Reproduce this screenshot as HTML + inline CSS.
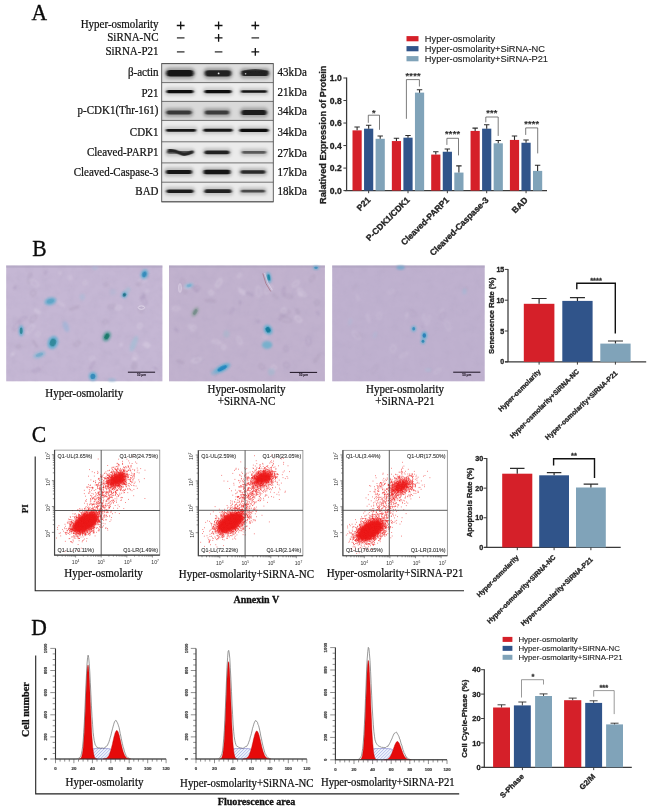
<!DOCTYPE html>
<html><head><meta charset="utf-8"><title>Figure</title>
<style>html,body{margin:0;padding:0;background:#fff;}body{width:652px;height:812px;overflow:hidden;font-family:"Liberation Sans",sans-serif;}svg{display:block;filter:blur(0.35px);}text{white-space:pre;}</style>
</head><body>
<svg width="652" height="812" viewBox="0 0 652 812">
<rect width="652" height="812" fill="#ffffff"/>
<defs>
<filter id="b1" x="-20%" y="-60%" width="140%" height="220%"><feGaussianBlur stdDeviation="1.1 0.75"/></filter>
<filter id="b2" x="-30%" y="-30%" width="160%" height="160%"><feGaussianBlur stdDeviation="0.9"/></filter>
<filter id="b3" x="-30%" y="-30%" width="160%" height="160%"><feGaussianBlur stdDeviation="1.6"/></filter>
<filter id="tb2" x="-30%" y="-30%" width="160%" height="160%"><feGaussianBlur stdDeviation="0.5"/></filter>
<filter id="tb" x="-5%" y="-5%" width="110%" height="110%"><feGaussianBlur stdDeviation="0.35"/></filter>
<filter id="noise" x="0" y="0" width="100%" height="100%"><feTurbulence type="fractalNoise" baseFrequency="0.12" numOctaves="3" seed="3" result="n"/><feColorMatrix in="n" type="matrix" values="0 0 0 0 0.45  0 0 0 0 0.38  0 0 0 0 0.55  0.9 0.4 0 0 -0.52"/><feComposite operator="in" in2="SourceGraphic"/></filter>
<pattern id="hatch" width="2.2" height="2.2" patternUnits="userSpaceOnUse" patternTransform="rotate(-45)"><rect width="2.2" height="2.2" fill="#eef2fc"/><line x1="0" y1="0" x2="2.2" y2="0" stroke="#6a7ad0" stroke-width="0.6"/></pattern>
</defs>
<g id="panelA">
<text transform="translate(31.4 20.1) scale(0.9 1)" x="0" y="0" font-family="Liberation Serif" font-size="24" fill="#0a0a0a" stroke="#0a0a0a" stroke-width="0.35">A</text>
<text transform="translate(158.5 27.6) scale(1 1.12)" x="0" y="0" font-family="Liberation Serif" font-size="11" font-weight="normal" text-anchor="end" fill="#111" stroke="#111" stroke-width="0.22">Hyper-osmolarity</text>
<text transform="translate(158.5 40.9) scale(1 1.12)" x="0" y="0" font-family="Liberation Serif" font-size="11" font-weight="normal" text-anchor="end" fill="#111" stroke="#111" stroke-width="0.22">SiRNA-NC</text>
<text transform="translate(158.5 54.6) scale(1 1.12)" x="0" y="0" font-family="Liberation Serif" font-size="11" font-weight="normal" text-anchor="end" fill="#111" stroke="#111" stroke-width="0.22">SiRNA-P21</text>
<path d="M176.79999999999998,25.5H184.6M180.7,21.6V29.4" stroke="#111" stroke-width="1.3" fill="none"/>
<path d="M214.7,25.5H222.5M218.6,21.6V29.4" stroke="#111" stroke-width="1.3" fill="none"/>
<path d="M251.4,25.5H259.2M255.3,21.6V29.4" stroke="#111" stroke-width="1.3" fill="none"/>
<path d="M176.89999999999998,37.9H184.5" stroke="#222" stroke-width="1.2" fill="none"/>
<path d="M214.7,37.9H222.5M218.6,34.0V41.8" stroke="#111" stroke-width="1.3" fill="none"/>
<path d="M251.5,37.9H259.1" stroke="#222" stroke-width="1.2" fill="none"/>
<path d="M176.89999999999998,51.9H184.5" stroke="#222" stroke-width="1.2" fill="none"/>
<path d="M214.79999999999998,51.9H222.4" stroke="#222" stroke-width="1.2" fill="none"/>
<path d="M251.4,51.9H259.2M255.3,48.0V55.8" stroke="#111" stroke-width="1.3" fill="none"/>
<rect x="161.7" y="63.6" width="111.60000000000002" height="138.20000000000002" fill="#cacaca"/>
<rect x="161.7" y="63.6" width="111.60000000000002" height="18.999999999999993" fill="#dedede"/>
<g filter="url(#b3)" opacity="0.6">
<rect x="164.5" y="67.5" width="31" height="11.6" rx="5.3" fill="#777"/>
<rect x="203.0" y="67.7" width="30" height="11.2" rx="5.1" fill="#777"/>
<rect x="239.5" y="68.0" width="31" height="10.6" rx="4.8" fill="#777"/>
</g>
<g filter="url(#b1)">
<rect x="166.5" y="70.0" width="27" height="6.6" rx="3.3" fill="#181818"/>
<rect x="205.0" y="70.2" width="26" height="6.2" rx="3.1" fill="#202020"/>
<rect x="241.5" y="70.5" width="27" height="5.6" rx="2.8" fill="#222"/>
</g>
<text transform="translate(158.5 76.0) scale(1 1.12)" x="0" y="0" font-family="Liberation Serif" font-size="11" font-weight="normal" text-anchor="end" fill="#111" stroke="#111" stroke-width="0.22">β-actin</text>
<text transform="translate(277.6 76.29999999999998) scale(1 1.12)" x="0" y="0" font-family="Liberation Serif" font-size="11" font-weight="normal" text-anchor="start" fill="#111" stroke="#111" stroke-width="0.22">43kDa</text>
<rect x="161.7" y="82.6" width="111.60000000000002" height="18.80000000000001" fill="#ededed"/>
<g filter="url(#b3)" opacity="0.3">
<rect x="164.5" y="87.55" width="31" height="8.1" rx="3.55" fill="#777"/>
<rect x="202.5" y="87.55" width="31" height="8.1" rx="3.55" fill="#777"/>
<rect x="239.0" y="87.85" width="30" height="7.5" rx="3.25" fill="#777"/>
</g>
<g filter="url(#b1)">
<rect x="166.5" y="90.05" width="27" height="3.1" rx="1.55" fill="#0a0a0a"/>
<rect x="204.5" y="90.05" width="27" height="3.1" rx="1.55" fill="#0c0c0c"/>
<rect x="241.0" y="90.35" width="26" height="2.5" rx="1.25" fill="#141414"/>
</g>
<text transform="translate(158.5 96.7) scale(1 1.12)" x="0" y="0" font-family="Liberation Serif" font-size="11" font-weight="normal" text-anchor="end" fill="#111" stroke="#111" stroke-width="0.22">P21</text>
<text transform="translate(277.6 96.19999999999999) scale(1 1.12)" x="0" y="0" font-family="Liberation Serif" font-size="11" font-weight="normal" text-anchor="start" fill="#111" stroke="#111" stroke-width="0.22">21kDa</text>
<rect x="161.7" y="101.4" width="111.60000000000002" height="19.0" fill="#d9d9d9"/>
<g filter="url(#b3)" opacity="0.55">
<rect x="164.5" y="107.9" width="29" height="9.2" rx="4.1" fill="#777"/>
<rect x="203.0" y="108.1" width="28" height="8.8" rx="3.9" fill="#777"/>
<rect x="239.5" y="107.4" width="29" height="10.2" rx="4.6" fill="#777"/>
</g>
<g filter="url(#b1)">
<rect x="166.5" y="110.4" width="25" height="4.2" rx="2.1" fill="#383838"/>
<rect x="205.0" y="110.6" width="24" height="3.8" rx="1.9" fill="#3a3a3a"/>
<rect x="241.5" y="109.9" width="25" height="5.2" rx="2.6" fill="#1a1a1a"/>
</g>
<text transform="translate(158.5 114.10000000000001) scale(1 1.12)" x="0" y="0" font-family="Liberation Serif" font-size="11" font-weight="normal" text-anchor="end" fill="#111" stroke="#111" stroke-width="0.22">p-CDK1(Thr-161)</text>
<text transform="translate(277.6 114.7) scale(1 1.12)" x="0" y="0" font-family="Liberation Serif" font-size="11" font-weight="normal" text-anchor="start" fill="#111" stroke="#111" stroke-width="0.22">34kDa</text>
<rect x="161.7" y="120.4" width="111.60000000000002" height="21.400000000000006" fill="#ececec"/>
<g filter="url(#b3)" opacity="0.3">
<rect x="164.0" y="126.45000000000002" width="34" height="7.7" rx="3.35" fill="#777"/>
<rect x="201.5" y="126.35000000000002" width="33" height="7.9" rx="3.45" fill="#777"/>
<rect x="237.5" y="126.20000000000002" width="33" height="8.2" rx="3.6" fill="#777"/>
</g>
<g filter="url(#b1)">
<rect x="166.0" y="128.95000000000002" width="30" height="2.7" rx="1.35" fill="#141414"/>
<rect x="203.5" y="128.85000000000002" width="29" height="2.9" rx="1.45" fill="#121212"/>
<rect x="239.5" y="128.70000000000002" width="29" height="3.2" rx="1.6" fill="#101010"/>
</g>
<text transform="translate(158.5 135.50000000000003) scale(1 1.12)" x="0" y="0" font-family="Liberation Serif" font-size="11" font-weight="normal" text-anchor="end" fill="#111" stroke="#111" stroke-width="0.22">CDK1</text>
<text transform="translate(277.6 135.60000000000002) scale(1 1.12)" x="0" y="0" font-family="Liberation Serif" font-size="11" font-weight="normal" text-anchor="start" fill="#111" stroke="#111" stroke-width="0.22">34kDa</text>
<rect x="161.7" y="141.8" width="111.60000000000002" height="21.099999999999994" fill="#ebebeb"/>
<g filter="url(#b3)" opacity="0.35">
<rect x="165.0" y="148.45000000000002" width="30" height="7.8" rx="3.4" fill="#777"/>
<rect x="202.5" y="147.95000000000002" width="29" height="8.8" rx="3.9" fill="#777"/>
<rect x="240.0" y="148.55" width="28" height="7.6" rx="3.3" fill="#777"/>
</g>
<g filter="url(#b1)">
<rect x="167.0" y="150.95000000000002" width="26" height="2.8" rx="1.4" fill="#555"/>
<rect x="204.5" y="150.45000000000002" width="25" height="3.8" rx="1.9" fill="#202020"/>
<rect x="242.0" y="151.05" width="24" height="2.6" rx="1.3" fill="#5a5a5a"/>
</g>
<text transform="translate(158.5 156.15000000000003) scale(1 1.12)" x="0" y="0" font-family="Liberation Serif" font-size="11" font-weight="normal" text-anchor="end" fill="#111" stroke="#111" stroke-width="0.22">Cleaved-PARP1</text>
<text transform="translate(277.6 157.05) scale(1 1.12)" x="0" y="0" font-family="Liberation Serif" font-size="11" font-weight="normal" text-anchor="start" fill="#111" stroke="#111" stroke-width="0.22">27kDa</text>
<rect x="161.7" y="162.9" width="111.60000000000002" height="19.299999999999983" fill="#eaeaea"/>
<g filter="url(#b3)" opacity="0.4">
<rect x="164.0" y="167.45000000000002" width="30" height="9.0" rx="4.0" fill="#777"/>
<rect x="201.5" y="167.15" width="31" height="9.6" rx="4.3" fill="#777"/>
<rect x="238.5" y="167.65" width="29" height="8.6" rx="3.8" fill="#777"/>
</g>
<g filter="url(#b1)">
<rect x="166.0" y="169.95000000000002" width="26" height="4.0" rx="2.0" fill="#141414"/>
<rect x="203.5" y="169.65" width="27" height="4.6" rx="2.3" fill="#121212"/>
<rect x="240.5" y="170.15" width="25" height="3.6" rx="1.8" fill="#2a2a2a"/>
</g>
<text transform="translate(158.5 175.55) scale(1 1.12)" x="0" y="0" font-family="Liberation Serif" font-size="11" font-weight="normal" text-anchor="end" fill="#111" stroke="#111" stroke-width="0.22">Cleaved-Caspase-3</text>
<text transform="translate(277.6 175.75) scale(1 1.12)" x="0" y="0" font-family="Liberation Serif" font-size="11" font-weight="normal" text-anchor="start" fill="#111" stroke="#111" stroke-width="0.22">17kDa</text>
<rect x="161.7" y="182.2" width="111.60000000000002" height="19.600000000000023" fill="#ebebeb"/>
<g filter="url(#b3)" opacity="0.35">
<rect x="164.5" y="186.89999999999998" width="31" height="8.6" rx="3.8" fill="#777"/>
<rect x="202.5" y="186.79999999999998" width="31" height="8.8" rx="3.9" fill="#777"/>
<rect x="239.0" y="187.29999999999998" width="28" height="7.8" rx="3.4" fill="#777"/>
</g>
<g filter="url(#b1)">
<rect x="166.5" y="189.39999999999998" width="27" height="3.6" rx="1.8" fill="#1e1e1e"/>
<rect x="204.5" y="189.29999999999998" width="27" height="3.8" rx="1.9" fill="#222"/>
<rect x="241.0" y="189.79999999999998" width="24" height="2.8" rx="1.4" fill="#484848"/>
</g>
<text transform="translate(158.5 195.4) scale(1 1.12)" x="0" y="0" font-family="Liberation Serif" font-size="11" font-weight="normal" text-anchor="end" fill="#111" stroke="#111" stroke-width="0.22">BAD</text>
<text transform="translate(277.6 194.7) scale(1 1.12)" x="0" y="0" font-family="Liberation Serif" font-size="11" font-weight="normal" text-anchor="start" fill="#111" stroke="#111" stroke-width="0.22">18kDa</text>
<g filter="url(#b1)">
<path d="M169,150.6 Q175,149.8 180,153.2 Q185,156 192,151.8" stroke="#262626" stroke-width="3.1" fill="none" stroke-linecap="round"/>
<path d="M243,72.4 Q255,68.4 267,72.2" stroke="#222" stroke-width="2.8" fill="none" opacity="0.8"/>
</g>
<g filter="url(#tb2)">
<circle cx="218.6" cy="73.4" r="0.9" fill="#e8e8e8"/><circle cx="245.6" cy="73.8" r="0.8" fill="#d0d0d0"/>
</g>
<line x1="161.7" x2="273.3" y1="63.6" y2="63.6" stroke="#555" stroke-width="0.8"/>
<line x1="161.7" x2="273.3" y1="82.6" y2="82.6" stroke="#555" stroke-width="0.8"/>
<line x1="161.7" x2="273.3" y1="101.4" y2="101.4" stroke="#555" stroke-width="0.8"/>
<line x1="161.7" x2="273.3" y1="120.4" y2="120.4" stroke="#555" stroke-width="0.8"/>
<line x1="161.7" x2="273.3" y1="141.8" y2="141.8" stroke="#555" stroke-width="0.8"/>
<line x1="161.7" x2="273.3" y1="162.9" y2="162.9" stroke="#555" stroke-width="0.8"/>
<line x1="161.7" x2="273.3" y1="182.2" y2="182.2" stroke="#555" stroke-width="0.8"/>
<line x1="161.7" x2="273.3" y1="201.8" y2="201.8" stroke="#555" stroke-width="0.8"/>
<rect x="161.7" y="63.6" width="111.60000000000002" height="138.20000000000002" fill="none" stroke="#555" stroke-width="0.9"/>
</g>
<g id="chartA">
<rect x="406.5" y="36.1" width="12" height="5.2" fill="#d52029"/>
<text x="424.8" y="41.900000000000006" font-family="Liberation Sans" font-size="9.3" font-weight="normal" text-anchor="start" fill="#222" stroke="#222" stroke-width="0.12">Hyper-osmolarity</text>
<rect x="406.5" y="46.1" width="12" height="5.2" fill="#30548a"/>
<text x="424.8" y="51.900000000000006" font-family="Liberation Sans" font-size="9.3" font-weight="normal" text-anchor="start" fill="#222" stroke="#222" stroke-width="0.12">Hyper-osmolarity+SiRNA-NC</text>
<rect x="406.5" y="56.1" width="12" height="5.2" fill="#80a3b9"/>
<text x="424.8" y="61.900000000000006" font-family="Liberation Sans" font-size="9.3" font-weight="normal" text-anchor="start" fill="#222" stroke="#222" stroke-width="0.12">Hyper-osmolarity+SiRNA-P21</text>
<path d="M346.6,77.6V190.6M344.8,190.6H547" stroke="#3a3a3a" stroke-width="1.25" fill="none"/>
<line x1="343.40000000000003" x2="346.6" y1="190.6" y2="190.6" stroke="#3a3a3a" stroke-width="1"/>
<text x="341.8" y="193.7" font-family="Liberation Sans" font-size="8.6" font-weight="bold" text-anchor="end" fill="#222" stroke="#222" stroke-width="0.3">0.0</text>
<line x1="343.40000000000003" x2="346.6" y1="168.07999999999998" y2="168.07999999999998" stroke="#3a3a3a" stroke-width="1"/>
<text x="341.8" y="171.17999999999998" font-family="Liberation Sans" font-size="8.6" font-weight="bold" text-anchor="end" fill="#222" stroke="#222" stroke-width="0.3">0.2</text>
<line x1="343.40000000000003" x2="346.6" y1="145.56" y2="145.56" stroke="#3a3a3a" stroke-width="1"/>
<text x="341.8" y="148.66" font-family="Liberation Sans" font-size="8.6" font-weight="bold" text-anchor="end" fill="#222" stroke="#222" stroke-width="0.3">0.4</text>
<line x1="343.40000000000003" x2="346.6" y1="123.03999999999999" y2="123.03999999999999" stroke="#3a3a3a" stroke-width="1"/>
<text x="341.8" y="126.13999999999999" font-family="Liberation Sans" font-size="8.6" font-weight="bold" text-anchor="end" fill="#222" stroke="#222" stroke-width="0.3">0.6</text>
<line x1="343.40000000000003" x2="346.6" y1="100.52" y2="100.52" stroke="#3a3a3a" stroke-width="1"/>
<text x="341.8" y="103.61999999999999" font-family="Liberation Sans" font-size="8.6" font-weight="bold" text-anchor="end" fill="#222" stroke="#222" stroke-width="0.3">0.8</text>
<line x1="343.40000000000003" x2="346.6" y1="78.0" y2="78.0" stroke="#3a3a3a" stroke-width="1"/>
<text x="341.8" y="81.1" font-family="Liberation Sans" font-size="8.6" font-weight="bold" text-anchor="end" fill="#222" stroke="#222" stroke-width="0.3">1.0</text>
<text x="325.7" y="134.7" font-family="Liberation Sans" font-size="9.2" font-weight="bold" text-anchor="middle" fill="#222" stroke="#222" stroke-width="0.3" transform="rotate(-90 325.7 134.7)">Ralatived Expression of Protein</text>
<rect x="352.50" y="130.36" width="9.20" height="60.24" fill="#d52029"/><path d="M357.10,130.36V126.98M354.40,126.98H359.80" stroke="#2c2c2c" stroke-width="1.1" fill="none"/>
<rect x="364.05" y="128.67" width="9.20" height="61.93" fill="#30548a"/><path d="M368.65,128.67V125.29M365.95,125.29H371.35" stroke="#2c2c2c" stroke-width="1.1" fill="none"/>
<rect x="375.60" y="138.80" width="9.20" height="51.80" fill="#80a3b9"/><path d="M380.20,138.80V135.99M377.50,135.99H382.90" stroke="#2c2c2c" stroke-width="1.1" fill="none"/>
<line x1="368.65000000000003" x2="368.65000000000003" y1="190.6" y2="193.2" stroke="#3a3a3a" stroke-width="1"/>
<text x="371.05" y="200.6" font-family="Liberation Sans" font-size="8.6" font-weight="bold" text-anchor="end" fill="#222" stroke="#222" stroke-width="0.3" transform="rotate(-45 371.05 200.6)">P21</text>
<rect x="391.85" y="141.06" width="9.20" height="49.54" fill="#d52029"/><path d="M396.45,141.06V138.24M393.75,138.24H399.15" stroke="#2c2c2c" stroke-width="1.1" fill="none"/>
<rect x="403.40" y="137.68" width="9.20" height="52.92" fill="#30548a"/><path d="M408.00,137.68V135.43M405.30,135.43H410.70" stroke="#2c2c2c" stroke-width="1.1" fill="none"/>
<rect x="414.95" y="92.64" width="9.20" height="97.96" fill="#80a3b9"/><path d="M419.55,92.64V89.82M416.85,89.82H422.25" stroke="#2c2c2c" stroke-width="1.1" fill="none"/>
<line x1="408.00000000000006" x2="408.00000000000006" y1="190.6" y2="193.2" stroke="#3a3a3a" stroke-width="1"/>
<text x="410.40000000000003" y="200.6" font-family="Liberation Sans" font-size="8.6" font-weight="bold" text-anchor="end" fill="#222" stroke="#222" stroke-width="0.3" transform="rotate(-45 410.40000000000003 200.6)">P-CDK1/CDK1</text>
<rect x="431.20" y="154.57" width="9.20" height="36.03" fill="#d52029"/><path d="M435.80,154.57V151.75M433.10,151.75H438.50" stroke="#2c2c2c" stroke-width="1.1" fill="none"/>
<rect x="442.75" y="151.75" width="9.20" height="38.85" fill="#30548a"/><path d="M447.35,151.75V148.94M444.65,148.94H450.05" stroke="#2c2c2c" stroke-width="1.1" fill="none"/>
<rect x="454.30" y="172.58" width="9.20" height="18.02" fill="#80a3b9"/><path d="M458.90,172.58V165.83M456.20,165.83H461.60" stroke="#2c2c2c" stroke-width="1.1" fill="none"/>
<line x1="447.35" x2="447.35" y1="190.6" y2="193.2" stroke="#3a3a3a" stroke-width="1"/>
<text x="449.75" y="200.6" font-family="Liberation Sans" font-size="8.6" font-weight="bold" text-anchor="end" fill="#222" stroke="#222" stroke-width="0.3" transform="rotate(-45 449.75 200.6)">Cleaved-PARP1</text>
<rect x="470.55" y="130.92" width="9.20" height="59.68" fill="#d52029"/><path d="M475.15,130.92V128.11M472.45,128.11H477.85" stroke="#2c2c2c" stroke-width="1.1" fill="none"/>
<rect x="482.10" y="128.67" width="9.20" height="61.93" fill="#30548a"/><path d="M486.70,128.67V124.73M484.00,124.73H489.40" stroke="#2c2c2c" stroke-width="1.1" fill="none"/>
<rect x="493.65" y="143.31" width="9.20" height="47.29" fill="#80a3b9"/><path d="M498.25,143.31V140.49M495.55,140.49H500.95" stroke="#2c2c2c" stroke-width="1.1" fill="none"/>
<line x1="486.70000000000005" x2="486.70000000000005" y1="190.6" y2="193.2" stroke="#3a3a3a" stroke-width="1"/>
<text x="489.1" y="200.6" font-family="Liberation Sans" font-size="8.6" font-weight="bold" text-anchor="end" fill="#222" stroke="#222" stroke-width="0.3" transform="rotate(-45 489.1 200.6)">Cleaved-Caspase-3</text>
<rect x="509.90" y="139.93" width="9.20" height="50.67" fill="#d52029"/><path d="M514.50,139.93V135.99M511.80,135.99H517.20" stroke="#2c2c2c" stroke-width="1.1" fill="none"/>
<rect x="521.45" y="142.75" width="9.20" height="47.85" fill="#30548a"/><path d="M526.05,142.75V139.93M523.35,139.93H528.75" stroke="#2c2c2c" stroke-width="1.1" fill="none"/>
<rect x="533.00" y="170.89" width="9.20" height="19.71" fill="#80a3b9"/><path d="M537.60,170.89V165.26M534.90,165.26H540.30" stroke="#2c2c2c" stroke-width="1.1" fill="none"/>
<line x1="526.05" x2="526.05" y1="190.6" y2="193.2" stroke="#3a3a3a" stroke-width="1"/>
<text x="528.4499999999999" y="200.6" font-family="Liberation Sans" font-size="8.6" font-weight="bold" text-anchor="end" fill="#222" stroke="#222" stroke-width="0.3" transform="rotate(-45 528.4499999999999 200.6)">BAD</text>
<path d="M368.3,122.8V115.2H379.5V129.8" stroke="#444" stroke-width="0.7" fill="none"/>
<text x="373.9" y="116.4" font-family="Liberation Sans" font-size="9.2" font-weight="bold" text-anchor="middle" fill="#2a2a2a" stroke="#2a2a2a" stroke-width="0.1" letter-spacing="0.25">*</text>
<path d="M406.4,118.8V79.6H419.4V86.5" stroke="#444" stroke-width="0.7" fill="none"/>
<text x="413.2" y="79.4" font-family="Liberation Sans" font-size="9.2" font-weight="bold" text-anchor="middle" fill="#2a2a2a" stroke="#2a2a2a" stroke-width="0.1" letter-spacing="0.25">****</text>
<path d="M446.9,144.9V138.3H458.5V155.4" stroke="#444" stroke-width="0.7" fill="none"/>
<text x="452.7" y="137.2" font-family="Liberation Sans" font-size="9.2" font-weight="bold" text-anchor="middle" fill="#2a2a2a" stroke="#2a2a2a" stroke-width="0.1" letter-spacing="0.25">****</text>
<path d="M485.8,122.3V117H498.2V135.9" stroke="#444" stroke-width="0.7" fill="none"/>
<text x="491.9" y="115.5" font-family="Liberation Sans" font-size="9.2" font-weight="bold" text-anchor="middle" fill="#2a2a2a" stroke="#2a2a2a" stroke-width="0.1" letter-spacing="0.25">***</text>
<path d="M525.7,134.9V127.9H537.7V153.4" stroke="#444" stroke-width="0.7" fill="none"/>
<text x="531.8" y="126.6" font-family="Liberation Sans" font-size="9.2" font-weight="bold" text-anchor="middle" fill="#2a2a2a" stroke="#2a2a2a" stroke-width="0.1" letter-spacing="0.25">****</text>
</g>
<g id="panelB">
<text transform="translate(32.2 255.8) scale(0.9 1)" x="0" y="0" font-family="Liberation Serif" font-size="24" fill="#0a0a0a" stroke="#0a0a0a" stroke-width="0.35">B</text>
<rect x="6.2" y="265.5" width="156.20000000000002" height="115.80000000000001" fill="#c5b7d4"/>
<rect x="6.2" y="265.5" width="156.20000000000002" height="115.80000000000001" fill="#fff" filter="url(#noise)" opacity="0.5"/>
<rect x="6.2" y="265.5" width="156.20000000000002" height="2.2" fill="#a79bb8" opacity="0.45"/>
<g filter="url(#b2)" fill="none" stroke-width="0.7" opacity="0.8">
<ellipse cx="33.2" cy="318.7" rx="4.6" ry="1.9" stroke="#a898b4" transform="rotate(132 33.2 318.7)"/>
<ellipse cx="85.3" cy="282.9" rx="2.0" ry="2.0" stroke="#ddd2e6" transform="rotate(47 85.3 282.9)"/>
<ellipse cx="60.6" cy="303.6" rx="4.6" ry="1.1" stroke="#ddd2e6" transform="rotate(32 60.6 303.6)"/>
<ellipse cx="140.9" cy="309.9" rx="3.1" ry="2.1" stroke="#a898b4" transform="rotate(73 140.9 309.9)"/>
<ellipse cx="92.3" cy="365.0" rx="4.8" ry="1.1" stroke="#a594b8" transform="rotate(117 92.3 365.0)"/>
<ellipse cx="38.2" cy="334.1" rx="2.1" ry="2.2" stroke="#ddd2e6" transform="rotate(29 38.2 334.1)"/>
<ellipse cx="133.5" cy="366.4" rx="2.4" ry="1.5" stroke="#a898b4" transform="rotate(115 133.5 366.4)"/>
<ellipse cx="30.5" cy="329.0" rx="5.4" ry="1.8" stroke="#e4dcec" transform="rotate(129 30.5 329.0)"/>
<ellipse cx="111.7" cy="306.7" rx="4.2" ry="1.7" stroke="#a898b4" transform="rotate(170 111.7 306.7)"/>
<ellipse cx="70.1" cy="277.9" rx="1.9" ry="1.3" stroke="#ddd2e6" transform="rotate(78 70.1 277.9)"/>
<ellipse cx="134.4" cy="365.9" rx="4.4" ry="2.0" stroke="#a898b4" transform="rotate(92 134.4 365.9)"/>
<ellipse cx="142.2" cy="297.9" rx="1.7" ry="1.7" stroke="#a594b8" transform="rotate(59 142.2 297.9)"/>
<ellipse cx="120.9" cy="344.8" rx="2.0" ry="0.9" stroke="#ddd2e6" transform="rotate(107 120.9 344.8)"/>
<ellipse cx="139.9" cy="325.9" rx="2.4" ry="2.1" stroke="#e4dcec" transform="rotate(131 139.9 325.9)"/>
<ellipse cx="60.3" cy="272.8" rx="2.0" ry="1.1" stroke="#ddd2e6" transform="rotate(95 60.3 272.8)"/>
<ellipse cx="18.5" cy="346.7" rx="1.9" ry="1.9" stroke="#a898b4" transform="rotate(27 18.5 346.7)"/>
<ellipse cx="147.0" cy="275.5" rx="3.3" ry="0.9" stroke="#a594b8" transform="rotate(85 147.0 275.5)"/>
<ellipse cx="155.8" cy="368.5" rx="2.1" ry="0.9" stroke="#a594b8" transform="rotate(38 155.8 368.5)"/>
<ellipse cx="29.9" cy="278.4" rx="5.3" ry="1.4" stroke="#a898b4" transform="rotate(97 29.9 278.4)"/>
<ellipse cx="77.2" cy="343.7" rx="3.6" ry="1.8" stroke="#a898b4" transform="rotate(154 77.2 343.7)"/>
<ellipse cx="33.2" cy="293.2" rx="3.2" ry="2.3" stroke="#a898b4" transform="rotate(108 33.2 293.2)"/>
<ellipse cx="134.6" cy="358.9" rx="1.9" ry="1.2" stroke="#e4dcec" transform="rotate(9 134.6 358.9)"/>
<ellipse cx="12.6" cy="354.2" rx="1.7" ry="0.8" stroke="#e4dcec" transform="rotate(148 12.6 354.2)"/>
<ellipse cx="45.7" cy="272.5" rx="1.8" ry="1.3" stroke="#a594b8" transform="rotate(116 45.7 272.5)"/>
<ellipse cx="135.3" cy="356.7" rx="2.9" ry="1.9" stroke="#ddd2e6" transform="rotate(80 135.3 356.7)"/>
<ellipse cx="142.6" cy="280.2" rx="4.3" ry="2.2" stroke="#ddd2e6" transform="rotate(152 142.6 280.2)"/>
<ellipse cx="35.1" cy="343.8" rx="4.2" ry="0.8" stroke="#a898b4" transform="rotate(58 35.1 343.8)"/>
<ellipse cx="37.4" cy="311.2" rx="3.3" ry="1.1" stroke="#e4dcec" transform="rotate(29 37.4 311.2)"/>
<ellipse cx="22.8" cy="319.0" rx="4.5" ry="1.5" stroke="#a594b8" transform="rotate(154 22.8 319.0)"/>
<ellipse cx="106.1" cy="284.6" rx="1.9" ry="1.8" stroke="#a898b4" transform="rotate(8 106.1 284.6)"/>
<ellipse cx="74.2" cy="308.0" rx="5.4" ry="0.9" stroke="#a898b4" transform="rotate(163 74.2 308.0)"/>
<ellipse cx="15.1" cy="287.5" rx="1.9" ry="0.9" stroke="#a594b8" transform="rotate(113 15.1 287.5)"/>
<ellipse cx="92.2" cy="358.4" rx="2.1" ry="2.3" stroke="#ddd2e6" transform="rotate(100 92.2 358.4)"/>
<ellipse cx="36.7" cy="370.1" rx="4.4" ry="1.4" stroke="#a594b8" transform="rotate(160 36.7 370.1)"/>
<ellipse cx="105.3" cy="321.8" rx="2.8" ry="1.9" stroke="#a898b4" transform="rotate(160 105.3 321.8)"/>
<ellipse cx="144.1" cy="300.7" rx="4.5" ry="2.0" stroke="#a594b8" transform="rotate(63 144.1 300.7)"/>
<ellipse cx="144.1" cy="294.8" rx="2.0" ry="0.9" stroke="#a594b8" transform="rotate(84 144.1 294.8)"/>
<ellipse cx="118.5" cy="307.8" rx="3.4" ry="1.6" stroke="#e4dcec" transform="rotate(172 118.5 307.8)"/>
<ellipse cx="16.4" cy="326.0" rx="5.4" ry="2.0" stroke="#a594b8" transform="rotate(124 16.4 326.0)"/>
<ellipse cx="146.7" cy="344.9" rx="3.4" ry="1.9" stroke="#e4dcec" transform="rotate(20 146.7 344.9)"/>
<ellipse cx="139.1" cy="284.0" rx="2.7" ry="1.3" stroke="#a898b4" transform="rotate(159 139.1 284.0)"/>
<ellipse cx="146.9" cy="291.4" rx="1.9" ry="1.3" stroke="#ddd2e6" transform="rotate(138 146.9 291.4)"/>
<ellipse cx="147.0" cy="345.5" rx="1.8" ry="1.3" stroke="#e4dcec" transform="rotate(37 147.0 345.5)"/>
<ellipse cx="34.2" cy="283.0" rx="5.2" ry="2.2" stroke="#ddd2e6" transform="rotate(37 34.2 283.0)"/>
</g>
<ellipse cx="144.4" cy="274.3" rx="3.64" ry="4.94" transform="rotate(20 144.4 274.3)" fill="#62aed0" opacity="0.85" filter="url(#b2)"/>
<ellipse cx="144.4" cy="274.3" rx="2.10" ry="2.85" transform="rotate(20 144.4 274.3)" fill="#2f86b8" opacity="0.85" filter="url(#tb2)"/>
<ellipse cx="124.5" cy="294.7" rx="2.86" ry="3.38" transform="rotate(30 124.5 294.7)" fill="#62aed0" opacity="0.8" filter="url(#b2)"/>
<ellipse cx="124.5" cy="294.7" rx="1.65" ry="1.95" transform="rotate(30 124.5 294.7)" fill="#1d6f86" opacity="0.95" filter="url(#tb2)"/>
<ellipse cx="127.5" cy="290.5" rx="2.08" ry="3.38" transform="rotate(35 127.5 290.5)" fill="#9cc0d6" opacity="0.6" filter="url(#b2)"/>
<ellipse cx="50.4" cy="301.3" rx="5.98" ry="3.90" transform="rotate(-15 50.4 301.3)" fill="#62aed0" opacity="0.8" filter="url(#b2)"/>
<ellipse cx="50.4" cy="301.3" rx="3.45" ry="2.25" transform="rotate(-15 50.4 301.3)" fill="#4a9cc0" opacity="0.5" filter="url(#tb2)"/>
<ellipse cx="21.2" cy="330.7" rx="2.47" ry="5.72" transform="rotate(0 21.2 330.7)" fill="#62aed0" opacity="0.85" filter="url(#b2)"/>
<ellipse cx="21.2" cy="330.7" rx="1.42" ry="3.30" transform="rotate(0 21.2 330.7)" fill="#2f8597" opacity="0.9" filter="url(#tb2)"/>
<ellipse cx="65.9" cy="326.6" rx="2.86" ry="5.72" transform="rotate(-20 65.9 326.6)" fill="#9cb4d8" opacity="0.7" filter="url(#b2)"/>
<ellipse cx="52.9" cy="342.5" rx="5.20" ry="6.76" transform="rotate(20 52.9 342.5)" fill="#62aed0" opacity="0.9" filter="url(#b2)"/>
<ellipse cx="52.9" cy="342.5" rx="3.00" ry="3.90" transform="rotate(20 52.9 342.5)" fill="#2f8597" opacity="0.9" filter="url(#tb2)"/>
<ellipse cx="106.8" cy="336.4" rx="3.77" ry="5.46" transform="rotate(30 106.8 336.4)" fill="#5a9c9c" opacity="0.9" filter="url(#b2)"/>
<ellipse cx="106.8" cy="336.4" rx="2.17" ry="3.15" transform="rotate(30 106.8 336.4)" fill="#1f7a6c" opacity="0.98" filter="url(#tb2)"/>
<ellipse cx="39.4" cy="354.8" rx="6.50" ry="3.12" transform="rotate(-20 39.4 354.8)" fill="#8cb8d4" opacity="0.75" filter="url(#b2)"/>
<ellipse cx="39.4" cy="354.8" rx="3.75" ry="1.80" transform="rotate(-20 39.4 354.8)" fill="#5aa0c4" opacity="0.5" filter="url(#tb2)"/>
<ellipse cx="92.9" cy="376.4" rx="4.16" ry="4.42" transform="rotate(0 92.9 376.4)" fill="#62aed0" opacity="0.85" filter="url(#b2)"/>
<ellipse cx="92.9" cy="376.4" rx="2.40" ry="2.55" transform="rotate(0 92.9 376.4)" fill="#2f86b8" opacity="0.85" filter="url(#tb2)"/>
<ellipse cx="133.8" cy="343.8" rx="2.86" ry="8.45" transform="rotate(22 133.8 343.8)" fill="#9cc0d6" opacity="0.6" filter="url(#b2)"/>
<ellipse cx="82.3" cy="297.1" rx="2.60" ry="3.38" transform="rotate(0 82.3 297.1)" fill="#a8bcd8" opacity="0.55" filter="url(#b2)"/>
<ellipse cx="113" cy="292.2" rx="3.12" ry="3.12" transform="rotate(0 113 292.2)" fill="#b0b8d4" opacity="0.5" filter="url(#b2)"/>
<ellipse cx="95" cy="268" rx="3.12" ry="1.82" transform="rotate(0 95 268)" fill="#a8bcd8" opacity="0.5" filter="url(#b2)"/>
<ellipse cx="112" cy="380" rx="3.90" ry="1.82" transform="rotate(0 112 380)" fill="#8cb8d4" opacity="0.6" filter="url(#b2)"/>
<rect x="169.0" y="265.5" width="155.89999999999998" height="115.80000000000001" fill="#c1b2ce"/>
<rect x="169.0" y="265.5" width="155.89999999999998" height="115.80000000000001" fill="#fff" filter="url(#noise)" opacity="0.5"/>
<rect x="169.0" y="265.5" width="155.89999999999998" height="2.2" fill="#a79bb8" opacity="0.45"/>
<g filter="url(#b2)" fill="none" stroke-width="0.7" opacity="0.85">
<ellipse cx="258.6" cy="291.7" rx="5.4" ry="2.3" stroke="#ddd2e6" transform="rotate(84 258.6 291.7)"/>
<ellipse cx="261.6" cy="366.7" rx="3.4" ry="2.1" stroke="#a898b4" transform="rotate(59 261.6 366.7)"/>
<ellipse cx="185.1" cy="291.6" rx="1.9" ry="2.0" stroke="#a898b4" transform="rotate(66 185.1 291.6)"/>
<ellipse cx="288.1" cy="296.3" rx="4.7" ry="1.5" stroke="#a898b4" transform="rotate(11 288.1 296.3)"/>
<ellipse cx="218.8" cy="283.0" rx="4.8" ry="1.9" stroke="#e4dcec" transform="rotate(120 218.8 283.0)"/>
<ellipse cx="231.8" cy="310.9" rx="3.2" ry="1.4" stroke="#a594b8" transform="rotate(120 231.8 310.9)"/>
<ellipse cx="300.5" cy="294.0" rx="1.9" ry="2.1" stroke="#e4dcec" transform="rotate(67 300.5 294.0)"/>
<ellipse cx="176.4" cy="330.1" rx="2.1" ry="0.9" stroke="#a594b8" transform="rotate(33 176.4 330.1)"/>
<ellipse cx="284.9" cy="313.5" rx="5.5" ry="2.1" stroke="#a898b4" transform="rotate(161 284.9 313.5)"/>
<ellipse cx="198.9" cy="359.1" rx="3.5" ry="2.2" stroke="#a594b8" transform="rotate(33 198.9 359.1)"/>
<ellipse cx="312.2" cy="278.3" rx="3.8" ry="1.7" stroke="#a898b4" transform="rotate(126 312.2 278.3)"/>
<ellipse cx="295.7" cy="283.8" rx="4.3" ry="2.0" stroke="#ddd2e6" transform="rotate(146 295.7 283.8)"/>
<ellipse cx="273.7" cy="367.5" rx="2.3" ry="2.3" stroke="#ddd2e6" transform="rotate(99 273.7 367.5)"/>
<ellipse cx="186.7" cy="287.1" rx="2.7" ry="1.4" stroke="#e4dcec" transform="rotate(11 186.7 287.1)"/>
<ellipse cx="241.6" cy="291.5" rx="4.2" ry="1.3" stroke="#ddd2e6" transform="rotate(50 241.6 291.5)"/>
<ellipse cx="211.0" cy="292.7" rx="1.9" ry="2.4" stroke="#e4dcec" transform="rotate(162 211.0 292.7)"/>
<ellipse cx="210.2" cy="300.6" rx="5.4" ry="1.1" stroke="#a898b4" transform="rotate(3 210.2 300.6)"/>
<ellipse cx="298.3" cy="319.1" rx="3.8" ry="2.1" stroke="#e4dcec" transform="rotate(43 298.3 319.1)"/>
<ellipse cx="242.8" cy="291.8" rx="3.9" ry="1.3" stroke="#ddd2e6" transform="rotate(3 242.8 291.8)"/>
<ellipse cx="216.5" cy="342.0" rx="5.1" ry="1.4" stroke="#ddd2e6" transform="rotate(10 216.5 342.0)"/>
<ellipse cx="249.3" cy="293.9" rx="4.2" ry="1.0" stroke="#a594b8" transform="rotate(22 249.3 293.9)"/>
<ellipse cx="239.4" cy="340.5" rx="4.2" ry="1.9" stroke="#ddd2e6" transform="rotate(66 239.4 340.5)"/>
<ellipse cx="193.4" cy="328.2" rx="2.8" ry="1.9" stroke="#ddd2e6" transform="rotate(132 193.4 328.2)"/>
<ellipse cx="301.9" cy="292.6" rx="5.4" ry="2.0" stroke="#e4dcec" transform="rotate(44 301.9 292.6)"/>
<ellipse cx="281.5" cy="317.0" rx="4.2" ry="1.2" stroke="#a594b8" transform="rotate(128 281.5 317.0)"/>
<ellipse cx="286.3" cy="319.8" rx="5.4" ry="2.3" stroke="#a898b4" transform="rotate(10 286.3 319.8)"/>
<ellipse cx="308.5" cy="340.8" rx="4.6" ry="2.3" stroke="#a594b8" transform="rotate(88 308.5 340.8)"/>
<ellipse cx="180.1" cy="361.8" rx="3.9" ry="1.0" stroke="#a898b4" transform="rotate(16 180.1 361.8)"/>
<ellipse cx="223.8" cy="347.3" rx="2.1" ry="1.9" stroke="#e4dcec" transform="rotate(75 223.8 347.3)"/>
<ellipse cx="175.9" cy="308.6" rx="4.1" ry="1.7" stroke="#ddd2e6" transform="rotate(177 175.9 308.6)"/>
<ellipse cx="268.7" cy="289.4" rx="5.2" ry="2.1" stroke="#ddd2e6" transform="rotate(133 268.7 289.4)"/>
<ellipse cx="239.6" cy="275.4" rx="2.3" ry="1.6" stroke="#ddd2e6" transform="rotate(129 239.6 275.4)"/>
<ellipse cx="190.1" cy="326.3" rx="1.5" ry="2.2" stroke="#ddd2e6" transform="rotate(92 190.1 326.3)"/>
<ellipse cx="258.0" cy="321.4" rx="2.0" ry="1.0" stroke="#a594b8" transform="rotate(7 258.0 321.4)"/>
<ellipse cx="318.0" cy="313.3" rx="2.0" ry="0.9" stroke="#a594b8" transform="rotate(52 318.0 313.3)"/>
<ellipse cx="316.9" cy="302.4" rx="2.4" ry="2.0" stroke="#a898b4" transform="rotate(70 316.9 302.4)"/>
<ellipse cx="196.8" cy="360.1" rx="5.2" ry="2.0" stroke="#e4dcec" transform="rotate(168 196.8 360.1)"/>
<ellipse cx="275.3" cy="296.4" rx="3.1" ry="1.2" stroke="#a898b4" transform="rotate(44 275.3 296.4)"/>
<ellipse cx="196.8" cy="288.5" rx="3.3" ry="2.3" stroke="#a594b8" transform="rotate(159 196.8 288.5)"/>
<ellipse cx="283.8" cy="291.3" rx="4.6" ry="1.2" stroke="#a594b8" transform="rotate(95 283.8 291.3)"/>
<ellipse cx="283.8" cy="310.4" rx="2.5" ry="2.1" stroke="#e4dcec" transform="rotate(130 283.8 310.4)"/>
<ellipse cx="286.5" cy="365.0" rx="3.3" ry="2.3" stroke="#a594b8" transform="rotate(47 286.5 365.0)"/>
<ellipse cx="240.2" cy="302.8" rx="2.2" ry="0.8" stroke="#a594b8" transform="rotate(87 240.2 302.8)"/>
<ellipse cx="297.6" cy="311.4" rx="2.9" ry="1.2" stroke="#a898b4" transform="rotate(68 297.6 311.4)"/>
<ellipse cx="316.9" cy="358.2" rx="5.2" ry="1.1" stroke="#a898b4" transform="rotate(124 316.9 358.2)"/>
<ellipse cx="213.8" cy="372.3" rx="4.4" ry="1.9" stroke="#a898b4" transform="rotate(51 213.8 372.3)"/>
<ellipse cx="194.9" cy="288.6" rx="4.2" ry="1.3" stroke="#a594b8" transform="rotate(42 194.9 288.6)"/>
<ellipse cx="182.8" cy="282.6" rx="4.3" ry="2.0" stroke="#a898b4" transform="rotate(88 182.8 282.6)"/>
<ellipse cx="265.0" cy="336.2" rx="2.0" ry="2.3" stroke="#ddd2e6" transform="rotate(44 265.0 336.2)"/>
<ellipse cx="285.8" cy="348.6" rx="3.1" ry="1.8" stroke="#a594b8" transform="rotate(87 285.8 348.6)"/>
</g>
<ellipse cx="268.8" cy="277.5" rx="2.47" ry="5.72" transform="rotate(-10 268.8 277.5)" fill="#62aed0" opacity="0.85" filter="url(#b2)"/>
<ellipse cx="268.8" cy="277.5" rx="1.42" ry="3.30" transform="rotate(-10 268.8 277.5)" fill="#1f86a4" opacity="0.95" filter="url(#tb2)"/>
<ellipse cx="189.1" cy="285.6" rx="4.42" ry="2.47" transform="rotate(-15 189.1 285.6)" fill="#8cbcd8" opacity="0.8" filter="url(#b2)"/>
<ellipse cx="189.1" cy="285.6" rx="2.55" ry="1.42" transform="rotate(-15 189.1 285.6)" fill="#5aa4c8" opacity="0.5" filter="url(#tb2)"/>
<ellipse cx="316" cy="267.8" rx="3.12" ry="1.95" transform="rotate(0 316 267.8)" fill="#62aed0" opacity="0.8" filter="url(#b2)"/>
<ellipse cx="316" cy="267.8" rx="1.80" ry="1.12" transform="rotate(0 316 267.8)" fill="#2f86b8" opacity="0.7" filter="url(#tb2)"/>
<ellipse cx="195.2" cy="311.9" rx="2.86" ry="5.46" transform="rotate(30 195.2 311.9)" fill="#8c9c9c" opacity="0.75" filter="url(#b2)"/>
<ellipse cx="195.2" cy="311.9" rx="1.65" ry="3.15" transform="rotate(30 195.2 311.9)" fill="#5f8078" opacity="0.6" filter="url(#tb2)"/>
<ellipse cx="268.1" cy="329.8" rx="4.16" ry="5.20" transform="rotate(-30 268.1 329.8)" fill="#62aed0" opacity="0.9" filter="url(#b2)"/>
<ellipse cx="268.1" cy="329.8" rx="2.40" ry="3.00" transform="rotate(-30 268.1 329.8)" fill="#127c9c" opacity="0.98" filter="url(#tb2)"/>
<ellipse cx="267.1" cy="345" rx="5.20" ry="3.90" transform="rotate(0 267.1 345)" fill="#6cb0cc" opacity="0.85" filter="url(#b2)"/>
<ellipse cx="222.2" cy="368.3" rx="9.10" ry="3.51" transform="rotate(-28 222.2 368.3)" fill="#62aed0" opacity="0.85" filter="url(#b2)"/>
<ellipse cx="222.2" cy="368.3" rx="5.25" ry="2.03" transform="rotate(-28 222.2 368.3)" fill="#2288c0" opacity="0.95" filter="url(#tb2)"/>
<ellipse cx="226.4" cy="333.9" rx="3.12" ry="3.64" transform="rotate(0 226.4 333.9)" fill="#a4b8cc" opacity="0.55" filter="url(#b2)"/>
<ellipse cx="271.3" cy="372" rx="3.38" ry="3.38" transform="rotate(0 271.3 372)" fill="#a0bcd0" opacity="0.55" filter="url(#b2)"/>
<ellipse cx="214" cy="372.5" rx="3.25" ry="2.34" transform="rotate(-30 214 372.5)" fill="#7fb4d4" opacity="0.55" filter="url(#b2)"/>
<rect x="332.2" y="265.5" width="152.5" height="115.80000000000001" fill="#bfb1cf"/>
<rect x="332.2" y="265.5" width="152.5" height="115.80000000000001" fill="#fff" filter="url(#noise)" opacity="0.5"/>
<rect x="332.2" y="265.5" width="152.5" height="2.2" fill="#a79bb8" opacity="0.45"/>
<g filter="url(#b2)" fill="none" stroke-width="0.7" opacity="0.45">
<ellipse cx="359.0" cy="335.4" rx="2.2" ry="1.9" stroke="#a898b4" transform="rotate(109 359.0 335.4)"/>
<ellipse cx="379.3" cy="316.0" rx="3.8" ry="2.0" stroke="#ddd2e6" transform="rotate(98 379.3 316.0)"/>
<ellipse cx="441.5" cy="310.6" rx="2.4" ry="1.0" stroke="#ddd2e6" transform="rotate(146 441.5 310.6)"/>
<ellipse cx="423.8" cy="317.4" rx="3.5" ry="1.2" stroke="#ddd2e6" transform="rotate(95 423.8 317.4)"/>
<ellipse cx="407.2" cy="314.3" rx="3.4" ry="0.9" stroke="#e4dcec" transform="rotate(110 407.2 314.3)"/>
<ellipse cx="391.2" cy="291.7" rx="3.2" ry="1.8" stroke="#ddd2e6" transform="rotate(151 391.2 291.7)"/>
<ellipse cx="465.7" cy="288.8" rx="2.3" ry="1.7" stroke="#a898b4" transform="rotate(114 465.7 288.8)"/>
<ellipse cx="356.1" cy="335.3" rx="5.4" ry="2.0" stroke="#e4dcec" transform="rotate(48 356.1 335.3)"/>
<ellipse cx="428.0" cy="320.3" rx="5.3" ry="1.5" stroke="#ddd2e6" transform="rotate(113 428.0 320.3)"/>
<ellipse cx="393.1" cy="348.6" rx="3.9" ry="2.3" stroke="#e4dcec" transform="rotate(112 393.1 348.6)"/>
<ellipse cx="412.3" cy="312.9" rx="5.3" ry="2.3" stroke="#a594b8" transform="rotate(31 412.3 312.9)"/>
<ellipse cx="447.6" cy="325.8" rx="5.1" ry="2.0" stroke="#ddd2e6" transform="rotate(75 447.6 325.8)"/>
<ellipse cx="368.1" cy="318.0" rx="4.2" ry="1.2" stroke="#ddd2e6" transform="rotate(75 368.1 318.0)"/>
<ellipse cx="422.5" cy="326.7" rx="1.5" ry="1.2" stroke="#a594b8" transform="rotate(50 422.5 326.7)"/>
<ellipse cx="354.9" cy="287.1" rx="3.2" ry="1.3" stroke="#a898b4" transform="rotate(131 354.9 287.1)"/>
<ellipse cx="442.6" cy="316.1" rx="4.2" ry="2.1" stroke="#a594b8" transform="rotate(122 442.6 316.1)"/>
<ellipse cx="403.6" cy="355.2" rx="4.8" ry="1.5" stroke="#ddd2e6" transform="rotate(152 403.6 355.2)"/>
<ellipse cx="374.6" cy="369.2" rx="5.1" ry="1.9" stroke="#a898b4" transform="rotate(121 374.6 369.2)"/>
<ellipse cx="357.8" cy="297.9" rx="3.1" ry="1.1" stroke="#ddd2e6" transform="rotate(77 357.8 297.9)"/>
<ellipse cx="437.3" cy="371.1" rx="4.1" ry="1.6" stroke="#e4dcec" transform="rotate(151 437.3 371.1)"/>
</g>
<ellipse cx="400.6" cy="267.6" rx="4.16" ry="2.08" transform="rotate(0 400.6 267.6)" fill="#6ca8cc" opacity="0.8" filter="url(#b2)"/>
<ellipse cx="413.7" cy="328.8" rx="2.47" ry="2.99" transform="rotate(0 413.7 328.8)" fill="#62aed0" opacity="0.8" filter="url(#b2)"/>
<ellipse cx="413.7" cy="328.8" rx="1.42" ry="1.72" transform="rotate(0 413.7 328.8)" fill="#2f86b8" opacity="0.8" filter="url(#tb2)"/>
<ellipse cx="424.3" cy="335.5" rx="2.99" ry="3.90" transform="rotate(0 424.3 335.5)" fill="#62aed0" opacity="0.85" filter="url(#b2)"/>
<ellipse cx="424.3" cy="335.5" rx="1.72" ry="2.25" transform="rotate(0 424.3 335.5)" fill="#2a80b8" opacity="0.95" filter="url(#tb2)"/>
<ellipse cx="423" cy="341.3" rx="2.34" ry="2.60" transform="rotate(0 423 341.3)" fill="#62aed0" opacity="0.8" filter="url(#b2)"/>
<ellipse cx="423" cy="341.3" rx="1.35" ry="1.50" transform="rotate(0 423 341.3)" fill="#2a84b0" opacity="0.85" filter="url(#tb2)"/>
<ellipse cx="464.5" cy="291.5" rx="2.08" ry="3.12" transform="rotate(0 464.5 291.5)" fill="#a0bcd8" opacity="0.55" filter="url(#b2)"/>
<ellipse cx="428" cy="370" rx="3.12" ry="1.82" transform="rotate(0 428 370)" fill="#a8c0d8" opacity="0.45" filter="url(#b2)"/>
<ellipse cx="375" cy="335" rx="1.82" ry="3.38" transform="rotate(20 375 335)" fill="#a8bcd8" opacity="0.4" filter="url(#b2)"/>
<ellipse cx="350" cy="322" rx="1.82" ry="3.38" transform="rotate(20 350 322)" fill="#a8bcd8" opacity="0.35" filter="url(#b2)"/>
<path d="M262.8,273.5 Q265,284.5 270.8,291.5" stroke="#9a5a68" stroke-width="0.8" fill="none" opacity="0.7" filter="url(#tb2)"/>
<path d="M264.6,273 Q267,283.5 272.4,290.2" stroke="#e6dcec" stroke-width="0.9" fill="none" opacity="0.7" filter="url(#tb2)"/>
<ellipse cx="141.4" cy="307.6" rx="3.2" ry="1.7" stroke="#efe8f4" stroke-width="0.8" fill="none" opacity="0.8" filter="url(#tb2)"/>
<ellipse cx="180" cy="288" rx="1.2" ry="4.4" stroke="#ece4f2" stroke-width="0.8" fill="none" opacity="0.8" filter="url(#tb2)"/>
<line x1="127.9" x2="155.1" y1="372.2" y2="372.2" stroke="#1a1020" stroke-width="1.0"/>
<text x="141.5" y="376.0" font-family="Liberation Sans" font-size="3.1" font-weight="bold" text-anchor="middle" fill="#2a2030" stroke="#2a2030" stroke-width="0.1">50 μm</text>
<line x1="289.8" x2="317.1" y1="372.4" y2="372.4" stroke="#1a1020" stroke-width="1.0"/>
<text x="303.45000000000005" y="376.2" font-family="Liberation Sans" font-size="3.1" font-weight="bold" text-anchor="middle" fill="#2a2030" stroke="#2a2030" stroke-width="0.1">50 μm</text>
<line x1="453.2" x2="480.4" y1="372.2" y2="372.2" stroke="#1a1020" stroke-width="1.0"/>
<text x="466.79999999999995" y="376.0" font-family="Liberation Sans" font-size="3.1" font-weight="bold" text-anchor="middle" fill="#2a2030" stroke="#2a2030" stroke-width="0.1">50 μm</text>
<text transform="translate(84.2 397) scale(1 1.12)" x="0" y="0" font-family="Liberation Serif" font-size="11" font-weight="normal" text-anchor="middle" fill="#111" stroke="#111" stroke-width="0.22">Hyper-osmolarity</text>
<text transform="translate(246.5 393.3) scale(1 1.12)" x="0" y="0" font-family="Liberation Serif" font-size="11" font-weight="normal" text-anchor="middle" fill="#111" stroke="#111" stroke-width="0.22">Hyper-osmolarity</text>
<text transform="translate(246.5 405.2) scale(1 1.12)" x="0" y="0" font-family="Liberation Serif" font-size="11" font-weight="normal" text-anchor="middle" fill="#111" stroke="#111" stroke-width="0.22">+SiRNA-NC</text>
<text transform="translate(405 393.3) scale(1 1.12)" x="0" y="0" font-family="Liberation Serif" font-size="11" font-weight="normal" text-anchor="middle" fill="#111" stroke="#111" stroke-width="0.22">Hyper-osmolarity</text>
<text transform="translate(405 405.2) scale(1 1.12)" x="0" y="0" font-family="Liberation Serif" font-size="11" font-weight="normal" text-anchor="middle" fill="#111" stroke="#111" stroke-width="0.22">+SiRNA-P21</text>
</g>
<g id="chartB">
<path d="M508,269.0V361.8M505,361.8H646.2" stroke="#3a3a3a" stroke-width="1.25" fill="none"/>
<line x1="504.8" x2="508" y1="361.8" y2="361.8" stroke="#3a3a3a" stroke-width="1"/>
<text x="504.2" y="364.3" font-family="Liberation Sans" font-size="7.0" font-weight="bold" text-anchor="end" fill="#222" stroke="#222" stroke-width="0.3">0</text>
<line x1="504.8" x2="508" y1="331.0" y2="331.0" stroke="#3a3a3a" stroke-width="1"/>
<text x="504.2" y="333.5" font-family="Liberation Sans" font-size="7.0" font-weight="bold" text-anchor="end" fill="#222" stroke="#222" stroke-width="0.3">5</text>
<line x1="504.8" x2="508" y1="300.2" y2="300.2" stroke="#3a3a3a" stroke-width="1"/>
<text x="504.2" y="302.7" font-family="Liberation Sans" font-size="7.0" font-weight="bold" text-anchor="end" fill="#222" stroke="#222" stroke-width="0.3">10</text>
<line x1="504.8" x2="508" y1="269.4" y2="269.4" stroke="#3a3a3a" stroke-width="1"/>
<text x="504.2" y="271.9" font-family="Liberation Sans" font-size="7.0" font-weight="bold" text-anchor="end" fill="#222" stroke="#222" stroke-width="0.3">15</text>
<text x="493.7" y="315.6" font-family="Liberation Sans" font-size="7.62" font-weight="bold" text-anchor="middle" fill="#222" stroke="#222" stroke-width="0.3" transform="rotate(-90 493.7 315.6)">Senescence Rate (%)</text>
<rect x="523.80" y="303.80" width="30.60" height="58.00" fill="#d52029"/><path d="M539.10,303.80V298.50M531.60,298.50H546.60" stroke="#2c2c2c" stroke-width="1.2" fill="none"/>
<rect x="562.30" y="300.90" width="30.30" height="60.90" fill="#30548a"/><path d="M577.45,300.90V297.70M569.95,297.70H584.95" stroke="#2c2c2c" stroke-width="1.2" fill="none"/>
<rect x="600.30" y="343.60" width="30.30" height="18.20" fill="#80a3b9"/><path d="M615.45,343.60V341.00M607.95,341.00H622.95" stroke="#2c2c2c" stroke-width="1.2" fill="none"/>
<line x1="539.1" x2="539.1" y1="361.8" y2="364.6" stroke="#3a3a3a" stroke-width="1"/>
<text x="541.2" y="372.0" font-family="Liberation Sans" font-size="6.9" font-weight="bold" text-anchor="end" fill="#222" stroke="#222" stroke-width="0.3" transform="rotate(-45 541.2 372.0)">Hyper-osmolarity</text>
<line x1="577.4" x2="577.4" y1="361.8" y2="364.6" stroke="#3a3a3a" stroke-width="1"/>
<text x="579.5" y="372.0" font-family="Liberation Sans" font-size="6.9" font-weight="bold" text-anchor="end" fill="#222" stroke="#222" stroke-width="0.3" transform="rotate(-45 579.5 372.0)">Hyper-osmolarity+SiRNA-NC</text>
<line x1="615.4" x2="615.4" y1="361.8" y2="364.6" stroke="#3a3a3a" stroke-width="1"/>
<text x="618.0" y="373.8" font-family="Liberation Sans" font-size="6.9" font-weight="bold" text-anchor="end" fill="#222" stroke="#222" stroke-width="0.3" transform="rotate(-43.5 618.0 373.8)">Hyper-osmolarity+SiRNA-P21</text>
<path d="M576.8,289.3V283.2H615.3V333.6" stroke="#111" stroke-width="1.4" fill="none"/>
<text x="596" y="283.4" font-family="Liberation Sans" font-size="7.5" font-weight="bold" text-anchor="middle" fill="#333" stroke="#333" stroke-width="0.3">****</text>
</g>
<g id="panelC">
<text transform="translate(31.8 442.1) scale(0.9 1)" x="0" y="0" font-family="Liberation Serif" font-size="24" fill="#0a0a0a" stroke="#0a0a0a" stroke-width="0.35">C</text>
<path d="M35.2,456.5V590.8H464" stroke="#222" stroke-width="1.1" fill="none"/>
<text x="28.3" y="508.7" font-family="Liberation Serif" font-size="9.2" font-weight="bold" text-anchor="middle" fill="#111" stroke="#111" stroke-width="0.2" transform="rotate(-90 28.3 508.7)">PI</text>
<text x="256.3" y="602.6" font-family="Liberation Serif" font-size="10" font-weight="bold" text-anchor="middle" fill="#111" stroke="#111" stroke-width="0.3">Annexin V</text>
<ellipse cx="85.3" cy="522.6" rx="14.5" ry="7.6" transform="rotate(-32 85.3 522.6)" fill="#ee1c1c" filter="url(#b3)"/>
<ellipse cx="85.3" cy="522.6" rx="12" ry="6" transform="rotate(-32 85.3 522.6)" fill="#ee1c1c" filter="url(#b2)"/>
<ellipse cx="117" cy="479.4" rx="10" ry="5.6" transform="rotate(-25 117 479.4)" fill="#ee1c1c" opacity="0.8" filter="url(#b3)"/>
<ellipse cx="118" cy="479.4" rx="6.5" ry="3.6" transform="rotate(-25 117 479.4)" fill="#ee1c1c" opacity="0.85" filter="url(#b2)"/>
<path d="M72.8,533.3h.8M91.2,519.8h.8M94.4,515.0h.8M91.4,522.4h.8M89.0,516.3h.8M100.8,515.0h.8M94.7,522.4h.8M77.8,523.2h.8M89.2,519.4h.8M81.9,523.1h.8M88.8,519.8h.8M71.8,530.2h.8M86.9,520.0h.8M91.6,511.4h.8M84.4,531.5h.8M87.3,524.5h.8M90.2,523.5h.8M86.5,516.5h.8M99.6,512.9h.8M89.6,525.5h.8M95.0,519.3h.8M76.1,523.8h.8M95.2,520.4h.8M98.5,521.1h.8M82.5,525.0h.8M101.1,511.0h.8M82.3,535.3h.8M86.4,528.5h.8M72.4,526.4h.8M87.3,522.0h.8M91.3,523.1h.8M84.8,514.6h.8M96.6,521.1h.8M86.3,523.0h.8M70.9,533.2h.8M90.1,516.4h.8M85.1,519.3h.8M99.9,525.0h.8M81.9,521.8h.8M82.6,532.2h.8M90.0,520.9h.8M85.3,518.8h.8M80.1,528.6h.8M79.7,526.8h.8M89.8,529.5h.8M80.4,512.6h.8M89.6,520.7h.8M87.2,517.6h.8M84.9,518.4h.8M79.4,531.3h.8M79.0,529.5h.8M99.7,516.0h.8M80.1,523.0h.8M76.0,529.6h.8M86.4,521.4h.8M92.1,515.1h.8M92.3,519.5h.8M83.6,521.1h.8M76.1,524.7h.8M83.6,523.1h.8M103.9,512.6h.8M88.9,523.3h.8M83.9,523.0h.8M79.9,516.8h.8M83.3,530.2h.8M75.2,529.8h.8M86.6,523.0h.8M101.9,519.3h.8M90.6,518.9h.8M82.9,520.2h.8M78.3,523.9h.8M69.1,528.3h.8M92.6,509.1h.8M86.7,516.3h.8M93.7,527.1h.8M81.9,522.3h.8M84.0,524.5h.8M82.3,511.8h.8M95.3,516.8h.8M93.9,510.3h.8M83.6,520.9h.8M78.6,524.9h.8M78.5,524.4h.8M90.8,526.3h.8M89.0,522.3h.8M74.3,523.4h.8M87.8,522.4h.8M83.0,525.1h.8M90.0,518.1h.8M93.5,518.0h.8M77.5,526.1h.8M82.4,523.4h.8M93.2,523.8h.8M93.2,518.9h.8M90.2,528.6h.8M75.5,527.6h.8M85.7,528.4h.8M78.1,528.2h.8M77.2,523.7h.8M83.1,518.3h.8M86.4,523.6h.8M86.5,522.2h.8M96.5,519.9h.8M80.1,522.1h.8M86.5,518.4h.8M78.7,531.5h.8M90.0,525.1h.8M85.5,530.4h.8M91.0,524.0h.8M79.5,518.0h.8M91.4,517.2h.8M80.4,524.0h.8M83.6,531.8h.8M91.0,517.3h.8M95.8,521.1h.8M91.0,521.2h.8M95.8,518.7h.8M84.5,520.3h.8M82.3,519.7h.8M78.6,529.8h.8M76.3,528.1h.8M84.2,528.9h.8M87.9,518.6h.8M80.4,526.3h.8M84.2,526.4h.8M85.2,516.9h.8M98.8,516.6h.8M81.8,526.0h.8M81.3,523.6h.8M73.7,527.5h.8M82.0,527.5h.8M83.0,525.9h.8M80.6,521.4h.8M94.0,527.5h.8M86.8,519.0h.8M81.6,522.4h.8M86.7,527.1h.8M86.5,522.3h.8M85.9,517.5h.8M84.3,526.0h.8M91.1,512.1h.8M101.6,519.4h.8M86.3,523.9h.8M79.5,531.0h.8M90.5,520.1h.8M88.1,526.9h.8M90.9,527.6h.8M85.2,513.6h.8M94.2,519.2h.8M88.0,515.9h.8M71.2,529.4h.8M83.4,520.5h.8M97.8,523.9h.8M85.5,528.9h.8M79.7,521.8h.8M71.1,528.1h.8M77.1,525.4h.8M89.2,528.1h.8M94.2,527.2h.8M81.1,514.7h.8M68.7,527.3h.8M93.3,530.2h.8M90.9,514.1h.8M91.1,520.3h.8M90.2,526.5h.8M73.1,530.4h.8M77.5,525.7h.8M91.2,526.9h.8M76.4,528.1h.8M82.4,524.4h.8M89.8,522.0h.8M93.2,515.8h.8M85.8,528.0h.8M85.1,525.4h.8M94.2,517.0h.8M93.9,513.7h.8M93.4,520.2h.8M79.3,530.8h.8M87.4,516.6h.8M73.0,533.5h.8M78.4,523.1h.8M103.8,511.1h.8M75.2,530.6h.8M85.1,519.8h.8M95.3,520.8h.8M89.1,515.7h.8M90.8,522.6h.8M89.4,522.5h.8M80.7,528.6h.8M76.8,532.8h.8M78.5,528.0h.8M86.8,524.1h.8M84.2,530.1h.8M79.1,529.3h.8M86.0,519.3h.8M76.3,517.5h.8M89.0,526.5h.8M81.7,528.4h.8M81.3,517.8h.8M86.7,524.8h.8M79.5,522.8h.8M80.7,521.2h.8M77.3,523.8h.8M79.7,525.2h.8M80.9,522.5h.8M80.4,520.9h.8M91.2,525.3h.8M81.1,532.2h.8M71.8,531.4h.8M86.9,532.2h.8M85.1,517.7h.8M81.3,531.1h.8M83.1,521.2h.8M83.1,526.0h.8M87.0,514.2h.8M78.3,523.5h.8M82.2,532.3h.8M89.6,520.4h.8M75.7,534.9h.8M98.8,521.5h.8M94.7,519.5h.8M98.4,521.2h.8M95.8,519.0h.8M98.6,520.3h.8M100.0,516.3h.8M85.7,512.4h.8M79.1,523.4h.8M81.8,523.7h.8M85.8,517.4h.8M70.5,528.9h.8M86.3,515.4h.8M89.0,521.3h.8M91.1,522.6h.8M87.8,523.0h.8M85.7,506.6h.8M79.8,532.3h.8M78.1,524.3h.8M95.5,520.3h.8M72.0,528.4h.8M81.7,521.0h.8M84.5,517.3h.8M76.6,530.4h.8M87.6,528.9h.8M86.3,522.6h.8M94.0,520.4h.8M79.1,520.1h.8M80.9,523.3h.8M100.9,516.6h.8M78.5,529.4h.8M91.2,520.8h.8M93.7,514.3h.8M105.7,512.0h.8M88.3,520.4h.8M82.3,521.1h.8M69.2,531.1h.8M77.9,522.3h.8M82.3,524.1h.8M90.9,518.9h.8M74.9,521.8h.8M95.1,524.1h.8M82.9,523.2h.8M90.8,517.5h.8M87.7,522.4h.8M83.5,528.0h.8M71.6,522.5h.8M91.3,526.5h.8M81.7,528.7h.8M96.5,521.9h.8M88.3,514.6h.8M81.2,517.8h.8M75.7,527.4h.8M90.2,522.4h.8M57.3,529.3h.8M97.0,514.5h.8M75.4,538.2h.8M73.4,524.8h.8M77.4,519.8h.8M84.1,523.3h.8M75.7,522.7h.8M77.3,517.5h.8M75.9,528.4h.8M70.3,541.6h.8M101.8,519.1h.8M77.9,526.4h.8M98.7,513.7h.8M84.6,515.9h.8M83.9,514.4h.8M82.5,523.2h.8M97.9,516.6h.8M88.0,519.7h.8M78.8,529.6h.8M72.3,529.8h.8M73.5,526.6h.8M103.5,515.6h.8M79.2,518.8h.8M87.5,516.1h.8M84.3,528.1h.8M84.5,524.4h.8M85.9,514.7h.8M85.8,527.3h.8M87.1,516.8h.8M84.1,511.2h.8M82.8,533.3h.8M90.3,509.6h.8M90.5,521.4h.8M84.5,521.9h.8M93.9,523.6h.8M77.0,535.2h.8M89.7,522.3h.8M70.2,528.3h.8M92.2,526.0h.8M84.6,523.8h.8M93.3,524.8h.8M89.1,533.4h.8M83.5,510.8h.8M93.2,524.5h.8M82.8,517.7h.8M95.6,513.8h.8M89.2,518.0h.8M82.6,521.4h.8M91.2,526.3h.8M88.2,515.4h.8M75.2,528.1h.8M82.4,518.2h.8M79.0,530.7h.8M78.5,518.0h.8M93.5,520.2h.8M82.2,531.4h.8M88.1,523.3h.8M78.3,521.6h.8M79.9,524.9h.8M88.7,526.7h.8M92.6,518.2h.8M93.4,515.8h.8M75.4,525.5h.8M81.9,523.0h.8M72.7,527.5h.8M83.4,518.7h.8M81.2,518.0h.8M69.7,523.8h.8M78.5,518.1h.8M74.8,531.0h.8M74.7,531.3h.8M94.4,518.0h.8M85.8,520.6h.8M80.2,524.1h.8M93.4,520.0h.8M96.2,519.5h.8M95.5,515.9h.8M81.8,524.5h.8M87.5,529.0h.8M82.1,533.5h.8M81.5,521.8h.8M86.7,520.1h.8M89.5,530.2h.8M82.8,521.7h.8M88.4,521.1h.8M86.3,515.5h.8M88.0,511.0h.8M84.8,526.7h.8M77.9,529.8h.8M89.3,520.4h.8M93.7,521.3h.8M86.1,520.6h.8M80.6,518.0h.8M87.8,521.0h.8M94.6,521.4h.8M87.7,521.0h.8M85.4,521.3h.8M81.3,526.6h.8M89.5,524.9h.8M80.7,527.4h.8M81.5,518.0h.8M79.6,523.7h.8M92.6,518.6h.8M91.0,521.1h.8M71.1,531.8h.8M88.7,523.6h.8M97.7,515.9h.8M82.7,518.5h.8M90.2,519.0h.8M75.9,528.5h.8M83.9,529.4h.8M85.4,518.5h.8M92.9,517.9h.8M89.9,517.2h.8M94.6,520.1h.8M91.5,512.7h.8M89.5,522.7h.8M83.0,525.9h.8M82.1,522.0h.8M97.1,508.8h.8M87.2,526.0h.8M87.3,517.1h.8M80.6,520.8h.8M84.5,516.5h.8M86.4,515.1h.8M88.5,529.2h.8M74.3,530.9h.8M87.3,522.8h.8M72.6,516.5h.8M75.8,525.0h.8M92.0,522.4h.8M80.3,521.5h.8M79.3,518.6h.8M83.8,527.1h.8M79.4,531.3h.8M80.8,519.3h.8M83.6,526.7h.8M92.4,524.5h.8M82.2,518.1h.8M81.7,519.2h.8M65.7,532.5h.8M86.2,524.7h.8M92.2,520.5h.8M85.9,525.2h.8M85.1,528.3h.8M68.7,523.3h.8M87.3,531.2h.8M91.0,525.2h.8M87.3,521.5h.8M83.9,523.7h.8M66.2,534.3h.8M73.3,528.3h.8M92.4,522.8h.8M83.7,524.2h.8M89.1,520.2h.8M82.8,525.5h.8M79.6,532.0h.8M97.8,510.4h.8M91.1,510.3h.8M79.4,529.7h.8M107.5,509.8h.8M83.0,522.5h.8M83.0,520.0h.8M85.4,524.5h.8M80.2,522.1h.8M71.0,530.6h.8M78.9,523.0h.8M79.5,526.3h.8M96.9,517.8h.8M97.0,519.3h.8M90.2,517.2h.8M91.4,516.3h.8M86.0,517.0h.8M74.0,526.0h.8M88.7,533.8h.8M78.0,524.4h.8M94.8,521.9h.8M81.4,523.3h.8M91.6,524.2h.8M83.7,520.8h.8M99.4,511.3h.8M74.2,528.6h.8M75.0,520.7h.8M90.3,521.1h.8M83.8,515.3h.8M81.0,525.1h.8M83.0,526.8h.8M86.6,518.5h.8M101.9,511.5h.8M94.6,513.5h.8M85.8,525.6h.8M80.5,522.5h.8M82.5,525.3h.8M79.9,527.8h.8M89.8,522.9h.8M89.2,520.6h.8M72.5,529.0h.8M83.9,518.2h.8M80.5,520.5h.8M84.1,522.5h.8M82.1,525.3h.8M85.4,527.6h.8M85.7,519.4h.8M78.9,515.6h.8M78.3,521.3h.8M90.3,520.6h.8M84.2,518.7h.8M93.0,526.6h.8M79.2,523.7h.8M94.3,521.1h.8M79.2,528.5h.8M93.3,519.7h.8M77.9,524.8h.8M79.8,522.4h.8M75.3,527.1h.8M90.8,515.6h.8M83.1,525.6h.8M86.5,517.7h.8M93.5,520.9h.8M86.7,523.5h.8M85.9,523.6h.8M69.6,526.1h.8M81.8,519.4h.8M89.2,520.5h.8M90.3,524.9h.8M82.3,526.0h.8M83.8,527.2h.8M83.2,525.2h.8M77.0,526.0h.8M85.4,520.6h.8M93.9,522.4h.8M86.7,523.8h.8M82.1,523.3h.8M75.6,519.4h.8M93.1,512.2h.8M86.0,527.1h.8M92.4,518.1h.8M92.4,513.8h.8M83.4,515.3h.8M88.4,510.2h.8M91.2,518.6h.8M79.6,533.3h.8M83.2,523.9h.8M99.8,508.5h.8M83.1,521.4h.8M78.7,531.6h.8M90.6,515.8h.8M89.5,520.5h.8M90.6,520.0h.8M84.5,526.3h.8M95.0,517.2h.8M86.9,520.9h.8M92.8,512.0h.8M91.7,524.6h.8M84.3,522.6h.8M85.4,522.6h.8M95.1,519.5h.8M79.7,524.9h.8M91.9,516.0h.8M87.4,523.8h.8M92.6,515.6h.8M95.9,506.5h.8M89.5,521.7h.8M89.9,525.3h.8M75.0,524.9h.8M83.8,532.9h.8M90.3,518.4h.8M92.6,515.4h.8M85.8,511.6h.8M84.5,525.1h.8M81.5,524.7h.8M73.6,532.1h.8M88.1,525.0h.8M92.2,519.1h.8M74.8,531.7h.8M78.1,527.0h.8M67.7,521.3h.8M81.7,516.1h.8M83.5,520.2h.8M82.0,532.0h.8M93.6,516.9h.8M78.9,530.1h.8M75.0,523.3h.8M79.7,525.3h.8M86.1,518.2h.8M78.0,538.2h.8M95.6,512.7h.8M87.4,516.0h.8M95.1,517.9h.8M92.3,514.8h.8M85.1,526.5h.8M88.2,516.0h.8M94.4,520.7h.8M92.0,528.4h.8M86.9,530.6h.8M88.5,515.4h.8M92.5,525.4h.8M88.1,510.1h.8M80.8,522.2h.8M73.8,525.0h.8M81.0,526.5h.8M66.6,530.7h.8M87.9,522.1h.8M90.4,521.9h.8M78.9,520.6h.8M82.6,526.5h.8M82.8,514.3h.8M83.3,527.4h.8M93.8,518.1h.8M86.1,527.6h.8M98.4,515.4h.8M91.6,523.6h.8M102.7,511.3h.8M85.2,527.7h.8M84.2,529.0h.8M77.8,526.1h.8M98.5,511.7h.8M89.4,525.4h.8M88.0,525.3h.8M77.7,527.8h.8M84.5,523.7h.8M86.9,518.1h.8M87.7,525.9h.8M76.6,522.6h.8M94.1,519.2h.8M84.0,531.0h.8M85.8,518.8h.8M88.5,519.4h.8M85.8,515.5h.8M75.9,532.6h.8M86.0,526.0h.8M91.6,523.4h.8M80.4,522.0h.8M93.6,515.2h.8M85.6,527.2h.8M87.6,519.9h.8M72.3,530.3h.8M84.1,515.9h.8M89.2,514.8h.8M80.1,524.7h.8M82.2,520.9h.8M84.1,525.3h.8M87.7,522.4h.8M90.2,514.9h.8M87.5,516.8h.8M88.9,516.9h.8M94.2,523.7h.8M69.7,519.6h.8M84.6,513.2h.8M83.1,520.9h.8M94.6,522.4h.8M73.9,528.6h.8M92.7,527.3h.8M86.8,524.0h.8M69.2,532.6h.8M82.3,521.0h.8M101.4,512.6h.8M78.8,531.0h.8M72.9,541.0h.8M75.5,518.7h.8M81.9,530.1h.8M85.5,517.7h.8M83.7,527.5h.8M80.4,529.2h.8M97.5,512.6h.8M79.4,530.7h.8M80.4,519.9h.8M81.8,516.4h.8M86.1,524.9h.8M78.1,531.0h.8M89.8,524.3h.8M93.2,523.7h.8M102.7,523.3h.8M87.1,525.7h.8M86.7,522.5h.8M95.9,518.6h.8M79.3,523.2h.8M89.1,523.4h.8M65.1,532.8h.8M64.7,532.4h.8M93.5,521.6h.8M82.2,525.4h.8M78.8,526.6h.8M98.0,506.4h.8M80.5,519.7h.8M78.6,521.1h.8M82.5,530.7h.8M90.3,523.8h.8M93.7,521.0h.8M84.4,521.4h.8M73.2,527.4h.8M76.4,517.4h.8M73.2,533.6h.8M84.2,529.2h.8M86.2,519.5h.8M68.0,529.0h.8M92.5,519.2h.8M82.2,531.1h.8M88.1,525.9h.8M86.3,524.1h.8M86.8,515.8h.8M90.5,522.7h.8M90.1,527.2h.8M72.7,526.3h.8M84.7,528.8h.8M93.3,527.9h.8M70.2,524.6h.8M91.8,525.8h.8M78.8,528.8h.8M93.5,517.7h.8M76.9,524.6h.8M91.2,519.1h.8M78.9,521.9h.8M93.8,525.6h.8M91.4,518.5h.8M96.2,511.3h.8M94.5,517.3h.8M74.8,521.5h.8M82.2,517.5h.8M84.1,525.2h.8M95.4,517.2h.8M82.5,516.1h.8M91.6,514.8h.8M86.7,518.3h.8M89.9,522.3h.8M69.2,519.6h.8M99.0,529.8h.8M93.0,521.3h.8M87.4,521.8h.8M86.1,527.5h.8M84.3,526.6h.8M87.4,519.6h.8M89.1,514.2h.8M90.3,523.1h.8M77.8,536.9h.8M90.7,531.5h.8M84.2,524.2h.8M89.6,523.9h.8M84.0,522.7h.8M85.8,519.8h.8M86.7,519.9h.8M84.9,512.8h.8M78.4,534.7h.8M77.0,525.9h.8M82.4,521.0h.8M75.0,523.9h.8M86.8,518.9h.8M85.4,527.4h.8M88.9,517.6h.8M90.3,532.1h.8M70.2,517.2h.8M83.0,531.5h.8M94.7,522.2h.8M87.5,515.4h.8M86.3,512.9h.8M82.9,525.4h.8M93.7,511.9h.8M82.5,521.4h.8M86.6,530.9h.8M76.1,533.4h.8M91.5,522.5h.8M78.6,521.9h.8M81.9,518.3h.8M93.6,529.0h.8M73.4,526.6h.8M92.6,522.6h.8M101.3,515.7h.8M87.3,524.6h.8M82.8,532.4h.8M89.4,529.9h.8M97.0,522.2h.8M84.5,526.7h.8M89.2,521.6h.8M88.6,512.3h.8M92.1,519.0h.8M86.4,515.1h.8M93.0,514.8h.8M90.4,526.0h.8M77.7,522.9h.8M81.7,520.6h.8M87.2,512.1h.8M79.2,530.4h.8M78.6,528.2h.8M87.3,516.4h.8M84.2,524.9h.8M92.6,524.1h.8M72.8,525.7h.8M88.7,523.2h.8M87.9,526.4h.8M96.5,518.5h.8M85.2,529.4h.8M94.6,514.3h.8M97.7,520.5h.8M94.7,511.4h.8M89.8,518.8h.8M85.7,524.5h.8M86.9,528.5h.8M88.7,512.7h.8M80.5,524.7h.8M79.2,514.7h.8M77.1,531.7h.8M85.5,531.0h.8M81.2,526.8h.8M100.7,518.8h.8M86.6,521.7h.8M87.1,523.3h.8M92.5,514.2h.8M97.8,530.7h.8M88.0,521.9h.8M89.9,518.8h.8M90.1,526.2h.8M84.5,535.7h.8M91.1,517.9h.8M77.6,523.3h.8M78.3,530.0h.8M90.3,523.2h.8M93.7,512.7h.8M86.5,522.6h.8M86.3,525.4h.8M87.0,520.5h.8M83.6,526.3h.8M83.4,524.0h.8M78.4,533.6h.8M85.0,534.2h.8M83.2,525.1h.8M87.8,526.3h.8M75.4,522.4h.8M86.1,521.7h.8M71.5,529.4h.8M101.3,510.7h.8M74.6,528.0h.8M79.8,528.2h.8M74.0,517.7h.8M91.9,522.3h.8M101.1,510.3h.8M85.2,525.2h.8M81.4,519.6h.8M86.0,529.8h.8M79.8,523.3h.8M85.6,515.7h.8M98.3,522.1h.8M79.1,534.9h.8M87.6,521.9h.8M80.6,518.0h.8M98.8,519.9h.8M91.2,517.8h.8M78.1,522.1h.8M78.5,524.5h.8M83.5,515.9h.8M81.9,523.0h.8M84.8,517.1h.8M73.8,538.3h.8M90.9,510.9h.8M87.0,522.8h.8M75.0,513.8h.8M90.9,526.0h.8M92.6,520.8h.8M80.9,528.7h.8M77.4,526.0h.8M76.2,528.6h.8M83.1,521.2h.8M89.4,512.8h.8M84.8,525.3h.8M78.6,529.4h.8M81.1,525.8h.8M74.3,530.7h.8M85.0,524.0h.8M92.3,517.8h.8M84.6,529.2h.8M84.7,520.9h.8M82.8,524.9h.8M77.8,522.1h.8M95.0,524.7h.8M91.1,525.0h.8M88.6,529.3h.8M85.0,530.1h.8M86.4,520.3h.8M74.3,536.1h.8M81.1,524.5h.8M87.7,526.4h.8M85.5,514.1h.8M84.4,532.6h.8M86.5,509.2h.8M95.9,520.9h.8M94.8,523.9h.8M95.9,507.0h.8M77.8,523.4h.8M80.7,530.0h.8M81.7,524.6h.8M80.2,518.1h.8M80.1,532.8h.8M83.2,512.8h.8M72.6,525.8h.8M88.6,526.2h.8M90.3,515.2h.8M79.6,523.8h.8M107.1,528.5h.8M87.3,520.9h.8M83.8,527.6h.8M94.1,518.8h.8M92.3,522.6h.8M82.6,523.8h.8M82.1,524.2h.8M104.2,511.2h.8M83.8,523.3h.8M73.4,536.8h.8M75.2,526.9h.8M78.9,530.9h.8M92.1,517.6h.8M80.5,523.5h.8M99.1,511.6h.8M90.0,518.6h.8M78.2,528.3h.8M82.9,528.0h.8M81.5,519.4h.8M87.2,516.6h.8M92.2,514.6h.8M76.8,533.4h.8M76.0,521.5h.8M81.5,527.7h.8M73.1,530.5h.8M84.1,517.3h.8M84.6,521.7h.8M87.9,515.5h.8M73.1,532.2h.8M84.6,527.1h.8M77.5,522.3h.8M94.0,514.9h.8M76.2,527.2h.8M101.1,513.8h.8M88.2,534.0h.8M80.1,515.5h.8M88.7,522.1h.8M85.2,525.8h.8M84.9,524.7h.8M84.5,520.5h.8M89.7,522.0h.8M88.5,516.7h.8M80.2,520.4h.8M89.4,517.3h.8M91.3,516.6h.8M78.7,535.9h.8M91.9,518.4h.8M81.3,517.2h.8M90.0,517.7h.8M97.7,520.1h.8M91.2,524.7h.8M82.4,525.2h.8M76.3,520.4h.8M92.1,524.4h.8M79.1,532.7h.8M85.8,520.2h.8M82.7,522.0h.8M80.9,526.2h.8M83.6,521.3h.8M88.5,523.7h.8M92.7,521.5h.8M79.8,528.6h.8M89.9,513.1h.8M97.3,517.1h.8M80.3,520.8h.8M90.5,524.3h.8M90.9,518.9h.8M87.9,534.2h.8M89.4,516.0h.8M86.1,524.2h.8M73.8,537.2h.8M69.8,529.3h.8M70.2,521.8h.8M84.7,525.6h.8M82.3,523.4h.8M71.1,529.6h.8M81.2,532.8h.8M96.0,515.9h.8M82.4,530.8h.8M80.4,526.6h.8M90.6,523.2h.8M88.6,517.5h.8M83.6,530.7h.8M95.2,521.3h.8M80.7,524.6h.8M88.2,521.7h.8M99.9,510.3h.8M92.7,516.7h.8M83.3,519.8h.8M85.2,526.8h.8M84.0,519.5h.8M78.1,528.3h.8M66.1,528.7h.8M100.2,522.3h.8M92.1,517.8h.8M82.8,520.2h.8M77.4,520.8h.8M83.9,515.3h.8M83.6,529.0h.8M81.8,528.8h.8M89.4,524.1h.8M85.6,528.3h.8M91.6,517.1h.8M89.6,517.5h.8M85.2,526.2h.8M88.4,518.5h.8M98.8,512.7h.8M84.3,516.0h.8M74.4,525.7h.8M90.0,515.1h.8M84.3,523.6h.8M98.5,514.0h.8M84.2,519.0h.8M88.6,519.7h.8M86.6,520.5h.8M81.4,512.8h.8M82.7,522.2h.8M82.9,518.9h.8M91.6,514.8h.8M95.8,515.7h.8M90.1,523.0h.8M86.0,520.9h.8M93.2,515.1h.8M84.8,517.8h.8M74.5,531.6h.8M91.9,524.4h.8M84.2,519.0h.8M97.6,519.7h.8M91.1,508.7h.8M94.6,514.4h.8M91.9,513.5h.8M76.6,532.3h.8M92.2,511.1h.8M92.7,523.4h.8M83.6,525.2h.8M95.0,515.0h.8M70.6,522.9h.8M82.5,524.6h.8M86.9,514.8h.8M92.3,513.1h.8M97.3,514.1h.8M93.9,516.5h.8M81.0,528.7h.8M83.5,530.1h.8M75.8,527.1h.8M87.8,517.4h.8M83.3,522.5h.8M86.3,518.2h.8M84.1,520.6h.8M85.5,525.0h.8M84.8,513.5h.8M90.3,523.0h.8M77.2,524.6h.8M106.9,516.5h.8M70.2,525.3h.8M88.6,523.8h.8M79.3,522.8h.8M78.1,525.9h.8M82.0,516.0h.8M86.7,517.7h.8M79.5,521.3h.8M78.7,525.2h.8M74.8,525.5h.8M91.6,519.2h.8M77.3,536.6h.8M69.8,530.7h.8M82.0,530.0h.8M90.1,512.5h.8M85.1,525.0h.8M99.4,524.6h.8M86.4,527.5h.8M83.8,515.2h.8M93.2,519.1h.8M85.5,526.5h.8M87.4,526.5h.8M82.6,520.0h.8M79.0,525.6h.8M87.6,520.8h.8M83.3,521.4h.8M84.5,522.4h.8M64.6,528.7h.8M87.2,512.2h.8M86.9,526.7h.8M94.2,515.0h.8M75.5,524.0h.8M74.7,530.8h.8M85.3,521.7h.8M78.8,525.3h.8M90.0,532.8h.8M80.5,522.8h.8M88.4,529.2h.8M81.2,518.2h.8M94.7,535.9h.8M77.1,521.8h.8M100.5,515.0h.8M87.0,523.0h.8M94.6,514.0h.8M89.8,521.5h.8M79.1,531.2h.8M82.3,522.9h.8M84.9,520.4h.8M83.4,529.0h.8M81.0,524.6h.8M81.9,534.1h.8M82.8,514.0h.8M77.1,530.6h.8M89.1,519.7h.8M97.3,517.1h.8M89.6,517.7h.8M85.8,527.4h.8M85.9,521.7h.8M78.3,514.4h.8M82.9,515.3h.8M83.8,523.5h.8M96.5,519.4h.8M94.1,519.3h.8M90.1,524.7h.8M81.8,520.3h.8M82.3,529.5h.8M88.3,516.5h.8M81.3,528.0h.8M81.0,525.9h.8M90.3,524.1h.8M78.9,530.2h.8M81.9,519.6h.8M91.9,530.8h.8M82.8,523.3h.8M91.5,523.2h.8M71.3,521.9h.8M88.7,523.0h.8M81.3,525.2h.8M104.0,514.8h.8M92.3,526.9h.8M77.6,524.2h.8M104.0,517.1h.8M73.2,520.7h.8M83.2,524.1h.8M94.4,512.1h.8M87.5,513.1h.8M74.1,533.6h.8M72.6,525.3h.8M82.4,518.5h.8M88.8,522.4h.8M69.4,534.4h.8M90.8,515.3h.8M79.5,520.5h.8M89.8,521.4h.8M93.1,518.0h.8M96.0,514.7h.8M94.4,519.2h.8M89.6,528.6h.8M88.0,528.1h.8M84.8,521.1h.8M71.8,528.1h.8M77.1,527.0h.8M69.3,525.0h.8M89.0,520.0h.8M85.2,518.5h.8M92.9,520.0h.8M89.8,515.9h.8M90.7,520.1h.8M86.0,523.1h.8M85.7,532.6h.8M76.3,529.8h.8M78.7,527.3h.8M82.6,517.3h.8M79.5,519.4h.8M83.1,530.8h.8M86.6,522.1h.8M71.0,524.9h.8M83.2,525.3h.8M94.9,522.1h.8M72.2,529.5h.8M92.3,514.6h.8M82.5,529.4h.8M75.6,528.8h.8M87.9,516.9h.8M71.0,529.1h.8M74.5,530.1h.8M75.3,523.3h.8M78.7,523.8h.8M82.5,522.0h.8M88.1,522.1h.8M85.7,516.4h.8M87.5,521.6h.8M79.6,522.0h.8M90.9,529.3h.8M90.8,519.9h.8M89.6,518.6h.8M79.2,531.2h.8M87.9,523.1h.8M78.1,518.8h.8M79.5,517.3h.8M85.4,531.8h.8M86.6,524.3h.8M82.6,522.2h.8M77.3,523.7h.8M83.4,517.9h.8M78.9,525.8h.8M80.7,522.4h.8M90.7,521.2h.8M99.5,512.0h.8M90.6,520.8h.8M82.6,524.5h.8M99.1,520.7h.8M86.5,522.8h.8M77.3,530.0h.8M88.6,524.7h.8M79.8,526.9h.8M76.3,531.7h.8M75.7,534.6h.8M91.3,525.2h.8M94.4,524.5h.8M85.1,533.3h.8M78.9,533.4h.8M82.2,532.6h.8M82.1,520.3h.8M74.4,525.9h.8M90.3,518.7h.8M98.5,515.0h.8M93.1,514.9h.8M99.5,516.1h.8M93.1,512.3h.8M80.7,524.5h.8M86.9,523.7h.8M83.3,523.7h.8M94.8,517.4h.8M87.0,519.9h.8M87.5,520.6h.8M78.2,525.4h.8M84.9,522.2h.8M88.7,526.2h.8M81.2,522.5h.8M83.4,514.0h.8M89.1,524.3h.8M91.4,516.7h.8M92.0,512.2h.8M69.7,530.0h.8M86.2,523.2h.8M90.9,528.0h.8M83.1,524.5h.8M84.1,526.7h.8M86.6,524.9h.8M65.0,526.3h.8M95.4,510.4h.8M75.1,524.6h.8M79.6,516.9h.8M83.9,519.4h.8M79.2,527.2h.8M86.8,523.5h.8M86.2,514.6h.8M76.8,523.4h.8M87.4,526.8h.8M83.4,527.2h.8M89.2,518.7h.8M97.2,521.4h.8M86.9,517.3h.8M81.8,524.4h.8M98.4,529.9h.8M71.2,531.7h.8M93.3,518.1h.8M88.6,522.5h.8M81.2,525.1h.8M92.4,528.3h.8M95.4,508.0h.8M90.6,523.4h.8M84.1,512.7h.8M86.4,518.6h.8M71.8,523.0h.8M75.7,522.6h.8M91.5,521.6h.8M83.1,529.1h.8M88.5,519.5h.8M83.3,523.5h.8M89.5,519.3h.8M80.3,527.0h.8M91.1,529.5h.8M79.2,523.4h.8M84.3,534.4h.8M78.7,525.8h.8M86.9,521.4h.8M87.0,515.8h.8M82.9,518.6h.8M77.8,533.2h.8M71.4,531.5h.8M91.9,517.2h.8M78.8,524.4h.8M91.8,522.1h.8M84.3,531.6h.8M99.6,509.7h.8M70.3,529.2h.8M80.7,526.8h.8M82.5,521.4h.8M79.1,526.0h.8M98.2,521.1h.8M91.3,516.8h.8M82.0,523.3h.8M86.1,528.0h.8M90.6,519.8h.8M90.6,517.7h.8M99.9,514.1h.8M93.5,516.9h.8M90.5,521.7h.8M100.2,521.8h.8M80.1,533.1h.8M79.9,526.0h.8M80.0,527.7h.8M94.6,517.8h.8M89.6,519.0h.8M94.4,518.5h.8M80.1,524.4h.8M77.6,523.4h.8M81.5,525.2h.8M85.7,524.7h.8M93.2,526.9h.8M99.2,510.4h.8M92.7,514.9h.8M79.4,533.2h.8M85.5,523.8h.8M77.4,526.5h.8M85.6,521.1h.8M82.9,525.5h.8M89.8,521.1h.8M80.3,529.6h.8M77.1,529.8h.8M64.0,527.9h.8M67.3,523.0h.8M92.8,521.7h.8M82.9,527.0h.8M84.1,527.0h.8M98.4,520.2h.8M78.9,521.7h.8M82.2,519.3h.8M88.8,520.9h.8M88.6,524.7h.8M86.6,519.6h.8M86.3,528.3h.8M81.9,526.2h.8M82.3,523.0h.8M84.2,513.6h.8M85.5,528.5h.8M75.5,516.3h.8M89.3,518.8h.8M85.4,525.9h.8M84.3,524.1h.8M74.6,528.6h.8M91.6,523.6h.8M83.3,526.3h.8M82.3,514.5h.8M85.9,517.6h.8M88.3,519.0h.8M82.5,520.2h.8M82.5,519.7h.8M80.1,526.3h.8M89.0,522.1h.8M83.3,520.2h.8M91.5,526.0h.8M76.5,536.4h.8M89.6,521.8h.8M87.5,525.8h.8M94.2,523.4h.8M85.6,533.6h.8M84.9,525.4h.8M87.0,518.0h.8M77.3,525.6h.8M83.6,521.8h.8M84.9,529.4h.8M78.5,523.9h.8M79.7,520.1h.8M66.9,530.8h.8M83.6,525.5h.8M87.5,522.8h.8M87.6,522.7h.8M76.5,520.3h.8M74.5,525.3h.8M93.7,513.2h.8M93.6,517.6h.8M78.8,520.6h.8M85.9,522.8h.8M96.1,512.9h.8M75.4,527.9h.8M81.6,526.1h.8M83.9,514.3h.8M82.3,519.9h.8M79.2,529.1h.8M81.4,528.4h.8M83.4,521.9h.8M89.1,515.5h.8M85.7,526.2h.8M80.0,527.6h.8M87.5,515.9h.8M89.2,514.1h.8M90.7,516.4h.8M92.2,521.8h.8M88.1,520.4h.8M87.3,516.9h.8M77.5,520.5h.8M79.7,521.3h.8M81.5,525.7h.8M89.8,518.1h.8M81.9,529.1h.8M86.2,517.4h.8M88.0,525.6h.8M92.0,520.2h.8M84.1,528.0h.8M79.4,519.6h.8M89.4,526.9h.8M88.8,531.8h.8M74.7,533.7h.8M95.2,523.0h.8M88.6,515.2h.8M80.0,520.9h.8M81.7,528.6h.8M91.3,522.3h.8M87.4,523.9h.8M85.1,524.6h.8M86.2,521.3h.8M81.7,525.9h.8M88.8,526.7h.8M77.7,517.1h.8M81.7,518.2h.8M98.0,518.0h.8M77.6,525.9h.8M91.9,522.7h.8M91.3,525.1h.8M90.7,518.4h.8M83.4,521.0h.8M82.3,525.8h.8M87.5,526.0h.8M72.7,529.7h.8M81.1,516.4h.8M77.5,529.8h.8M80.4,525.4h.8M89.7,524.0h.8M70.2,529.6h.8M91.1,520.9h.8M93.6,519.6h.8M89.6,513.7h.8M90.7,513.5h.8M80.0,535.2h.8M80.5,523.2h.8M76.6,522.6h.8M82.3,525.9h.8M82.7,523.6h.8M94.2,523.8h.8M75.9,535.0h.8M83.8,522.6h.8M71.2,523.4h.8M81.0,529.2h.8M84.6,534.2h.8M103.9,510.0h.8M84.6,530.5h.8M88.3,516.7h.8M90.9,521.5h.8M73.0,524.4h.8M80.6,523.7h.8M94.2,512.4h.8M87.1,522.7h.8M78.3,527.2h.8M79.6,527.1h.8M84.1,528.5h.8M91.6,523.2h.8M80.4,525.9h.8M74.9,527.7h.8M89.4,527.7h.8M90.1,514.5h.8M105.1,519.8h.8M87.8,519.2h.8M77.4,531.4h.8M93.1,520.6h.8M92.0,510.8h.8M93.6,517.9h.8M88.2,522.2h.8M76.0,522.6h.8M82.3,515.9h.8M93.7,514.7h.8M87.9,521.3h.8M81.0,526.9h.8M81.9,525.4h.8M69.4,538.5h.8M88.5,523.3h.8M77.8,525.4h.8M83.7,532.8h.8M75.4,527.8h.8M80.2,521.4h.8M85.4,534.3h.8M86.3,526.0h.8M88.9,521.4h.8M81.9,519.9h.8M79.8,525.9h.8M93.5,518.9h.8M91.4,523.9h.8M93.6,522.4h.8M100.5,517.5h.8M86.5,534.8h.8M90.8,515.4h.8M94.7,517.7h.8M91.3,518.5h.8M88.0,523.6h.8M79.3,527.1h.8M93.7,517.9h.8M91.5,528.8h.8M96.4,512.5h.8M81.6,517.8h.8M83.8,524.6h.8M84.2,523.3h.8M77.5,530.3h.8M72.9,523.7h.8M79.2,517.9h.8M79.9,522.5h.8M79.0,529.6h.8M81.7,522.2h.8M83.5,520.3h.8M88.8,513.8h.8M79.4,534.6h.8M84.6,525.0h.8M82.1,518.2h.8M65.2,533.9h.8M89.3,526.4h.8M94.3,522.0h.8M91.8,512.6h.8M82.6,533.7h.8M82.0,527.3h.8M82.4,526.9h.8M79.6,529.2h.8M86.3,519.4h.8M87.3,520.8h.8M88.9,524.0h.8M91.2,524.2h.8M83.6,517.7h.8M78.8,520.2h.8M79.0,526.7h.8M71.7,528.9h.8M93.1,518.7h.8M100.8,510.3h.8M97.6,513.0h.8M84.3,515.2h.8M70.0,525.2h.8M101.6,507.5h.8M85.0,511.8h.8M80.1,525.7h.8M70.8,541.7h.8M77.5,533.8h.8M91.7,505.3h.8M92.9,525.4h.8M88.9,515.9h.8M69.0,530.4h.8M72.5,529.8h.8M94.6,520.7h.8M85.4,534.6h.8M97.9,516.5h.8M94.6,509.9h.8M76.0,523.3h.8M93.7,511.0h.8M88.6,518.9h.8M74.9,525.3h.8M92.8,519.8h.8M91.1,518.8h.8M100.3,511.0h.8M73.3,535.6h.8M87.1,510.4h.8M78.6,528.1h.8M96.1,532.3h.8M95.3,517.0h.8M99.4,510.0h.8M81.6,532.9h.8M109.5,502.2h.8M78.6,516.5h.8M89.6,529.8h.8M79.3,521.1h.8M85.2,535.2h.8M73.1,523.0h.8M77.5,521.6h.8M86.3,523.2h.8M83.4,533.6h.8M89.0,524.6h.8M68.5,522.8h.8M78.7,525.7h.8M66.9,522.8h.8M91.6,508.9h.8M86.5,538.5h.8M73.5,530.7h.8M74.3,526.3h.8M64.6,524.3h.8M97.5,522.4h.8M102.2,509.5h.8M93.3,504.1h.8M98.9,513.5h.8M106.0,509.5h.8M89.4,535.4h.8M88.4,519.4h.8M96.5,516.7h.8M69.7,532.0h.8M84.0,522.4h.8M77.4,537.2h.8M92.7,516.9h.8M76.1,520.3h.8M102.7,518.9h.8M79.3,518.8h.8M70.9,521.5h.8M77.7,517.3h.8M90.0,522.7h.8M89.1,531.0h.8M68.7,538.7h.8M79.8,534.3h.8M78.7,532.3h.8M90.7,513.9h.8M75.5,530.4h.8M92.7,520.8h.8M99.2,510.5h.8M71.7,536.7h.8M97.2,506.7h.8M84.4,526.6h.8M109.5,521.5h.8M77.7,544.5h.8M84.1,539.0h.8M113.2,502.4h.8M81.0,513.8h.8M107.4,530.1h.8M93.6,530.1h.8M64.7,551.6h.8M85.1,507.9h.8M90.2,528.4h.8M71.6,521.2h.8M73.7,528.7h.8M109.3,516.7h.8M109.3,515.6h.8M93.9,532.0h.8M84.6,520.3h.8M90.4,515.3h.8M96.1,528.3h.8M80.6,537.0h.8M75.6,532.9h.8M85.4,522.6h.8M64.9,541.3h.8M79.6,524.6h.8M88.4,522.2h.8M93.9,525.9h.8M86.0,519.9h.8M100.6,508.5h.8M82.0,532.1h.8M96.5,514.1h.8M90.5,514.1h.8M100.2,502.4h.8M85.7,529.4h.8M93.7,524.6h.8M89.9,513.2h.8M78.2,533.3h.8M72.8,527.8h.8M77.8,518.8h.8M86.1,512.3h.8M101.3,508.6h.8M111.2,517.5h.8M62.0,529.6h.8M92.2,508.4h.8M67.4,530.3h.8M98.9,522.4h.8M86.5,531.5h.8M89.0,509.2h.8M82.7,536.9h.8M87.0,519.2h.8M77.9,527.1h.8M84.0,519.4h.8M82.9,524.2h.8M76.5,518.7h.8M88.6,532.9h.8M88.3,524.0h.8M83.7,525.9h.8M76.7,524.4h.8M69.4,521.7h.8M75.7,517.2h.8M91.4,530.8h.8M88.2,515.5h.8M83.9,522.2h.8M78.2,514.1h.8M84.9,522.1h.8M79.3,508.6h.8M106.1,512.6h.8M77.9,550.9h.8M89.0,517.3h.8M89.5,524.4h.8M91.9,512.6h.8M100.3,519.0h.8M76.5,526.6h.8M81.2,528.8h.8M93.6,521.9h.8M82.1,517.3h.8M70.6,519.6h.8M93.2,516.6h.8M77.4,525.7h.8M101.4,527.1h.8M72.1,522.5h.8M83.6,521.0h.8M92.2,519.7h.8M103.4,516.3h.8M85.6,522.0h.8M84.8,518.2h.8M78.9,526.2h.8M85.3,522.8h.8M87.3,520.7h.8M100.7,525.1h.8M80.1,533.6h.8M81.6,517.6h.8M110.9,511.9h.8M81.8,541.8h.8M99.7,527.5h.8M94.8,518.1h.8M81.7,533.6h.8M97.0,513.8h.8M75.5,536.2h.8M92.4,531.1h.8M83.4,517.8h.8M81.4,524.7h.8M90.9,528.1h.8M88.6,510.5h.8M108.7,508.2h.8M95.3,519.8h.8M70.6,524.5h.8M103.3,520.4h.8M105.7,515.0h.8M84.3,529.6h.8M95.2,518.3h.8M78.4,516.0h.8M60.3,535.9h.8M78.5,522.6h.8M58.8,533.4h.8M91.5,526.2h.8M98.4,514.4h.8M73.5,528.8h.8M78.7,540.7h.8M86.6,519.7h.8M87.3,510.7h.8M92.6,512.9h.8M83.9,514.5h.8M105.1,528.2h.8M110.6,519.9h.8M74.1,514.1h.8M90.5,519.5h.8M93.9,513.9h.8M89.2,527.3h.8M86.6,514.7h.8M89.7,514.9h.8M70.8,522.8h.8M77.1,510.1h.8M94.4,514.5h.8M80.1,532.2h.8M98.6,530.9h.8M84.9,515.1h.8M75.8,516.4h.8M84.5,526.9h.8M83.0,514.9h.8M80.8,548.2h.8M98.6,511.8h.8M57.1,527.4h.8M117.6,505.0h.8M86.9,532.4h.8M76.9,530.7h.8M85.9,526.2h.8M87.1,532.7h.8M89.1,514.7h.8M84.6,517.1h.8M80.2,519.4h.8M75.2,534.0h.8M99.9,498.6h.8M76.6,525.3h.8M92.4,526.9h.8M86.4,511.2h.8M85.4,529.4h.8M86.2,525.4h.8M75.8,524.1h.8M90.7,526.1h.8M89.8,534.3h.8M97.1,527.6h.8M79.6,522.2h.8M88.4,509.3h.8M71.5,537.1h.8M84.0,531.0h.8M79.6,517.0h.8M88.1,508.7h.8M94.0,518.4h.8M68.2,519.1h.8M78.4,529.6h.8M94.2,522.0h.8M102.5,514.0h.8M102.6,517.5h.8M78.3,523.5h.8M95.6,516.0h.8M80.9,518.0h.8M90.9,523.5h.8M97.8,524.7h.8M100.6,517.5h.8M75.5,529.7h.8M97.8,519.8h.8M96.3,516.2h.8M89.6,532.8h.8M92.8,509.0h.8M78.8,521.7h.8M78.3,531.0h.8M83.4,521.8h.8M85.7,526.3h.8M99.0,510.2h.8M90.7,530.9h.8M76.5,530.4h.8M92.7,512.6h.8M76.1,517.4h.8M86.8,503.7h.8M93.3,510.1h.8M83.2,524.3h.8M84.0,525.1h.8M85.8,528.5h.8M110.3,512.1h.8M105.9,510.4h.8M75.2,528.3h.8M74.2,525.4h.8M66.4,532.8h.8M87.6,527.2h.8M83.7,531.0h.8M91.2,516.5h.8M83.0,518.4h.8M90.6,511.3h.8M87.4,518.2h.8M70.0,531.3h.8M81.1,517.4h.8M86.0,541.1h.8M79.3,511.6h.8M67.4,533.0h.8M78.4,515.7h.8M81.8,521.5h.8M81.1,526.1h.8M82.9,518.6h.8M83.8,527.1h.8M82.3,522.7h.8M84.7,533.4h.8M76.8,525.0h.8M78.6,517.3h.8M85.0,515.1h.8M89.4,525.6h.8M85.7,501.4h.8M112.2,513.7h.8M68.2,533.5h.8M72.5,513.8h.8M94.9,523.1h.8M80.6,515.5h.8M79.0,538.4h.8M91.0,524.1h.8M71.2,521.3h.8M93.2,528.6h.8M86.7,515.4h.8M87.9,530.7h.8M98.6,514.4h.8M96.2,520.6h.8M97.2,512.8h.8M69.8,516.8h.8M91.6,515.2h.8M69.1,528.5h.8M93.4,532.2h.8M93.4,517.0h.8M103.2,525.8h.8M69.8,526.9h.8M97.9,517.9h.8M91.7,520.1h.8M95.5,521.5h.8M76.8,530.2h.8M85.6,523.8h.8M81.4,525.0h.8M71.3,542.1h.8M78.9,524.5h.8M63.0,531.2h.8M91.2,529.1h.8M107.0,505.3h.8M81.9,516.4h.8M70.7,526.6h.8M107.4,512.6h.8M100.1,511.4h.8M88.1,526.7h.8M86.0,512.0h.8M77.6,533.7h.8M60.0,532.9h.8M91.4,529.3h.8M90.7,531.3h.8M81.2,531.4h.8M89.8,526.7h.8M86.6,519.9h.8M78.9,538.5h.8M88.4,526.1h.8M96.8,509.0h.8M97.7,512.3h.8M104.9,507.3h.8M69.6,526.2h.8M99.6,520.7h.8M84.2,508.9h.8M74.5,518.9h.8M58.5,525.7h.8M91.0,525.4h.8M89.9,523.5h.8M91.6,524.7h.8M89.6,522.3h.8M104.7,523.8h.8M77.8,526.0h.8M102.3,513.1h.8M72.6,523.7h.8M96.0,520.4h.8M98.4,521.7h.8M92.9,532.1h.8M90.9,512.2h.8M105.4,505.0h.8M93.6,533.0h.8M72.6,550.3h.8M118.9,513.5h.8M85.8,520.7h.8M98.7,521.3h.8M97.2,512.8h.8M87.8,516.5h.8M56.2,538.0h.8M84.9,513.7h.8M72.3,529.8h.8M72.3,542.7h.8M93.5,528.3h.8M77.2,524.5h.8M89.3,512.5h.8M82.1,540.7h.8M88.0,521.1h.8M84.3,522.9h.8M102.0,527.1h.8M95.5,512.0h.8M82.8,526.7h.8M82.2,522.7h.8M68.3,529.3h.8M103.3,505.3h.8M93.7,515.7h.8M105.7,527.9h.8M96.7,503.3h.8M82.2,524.5h.8M77.5,523.5h.8M80.3,534.4h.8M84.1,519.1h.8M105.7,516.9h.8M83.7,514.8h.8M91.6,512.8h.8M83.0,540.1h.8M94.4,507.4h.8M72.6,539.9h.8M69.5,524.4h.8M91.1,513.3h.8M77.7,538.6h.8M67.9,528.8h.8M103.1,497.9h.8M85.7,517.3h.8M77.8,520.7h.8M82.1,534.9h.8M91.9,520.6h.8M114.6,484.0h.8M110.5,484.4h.8M123.7,479.9h.8M114.7,480.4h.8M118.7,480.8h.8M110.2,484.4h.8M118.5,465.8h.8M117.6,485.3h.8M119.7,475.0h.8M125.1,476.4h.8M118.8,479.8h.8M119.6,480.8h.8M115.3,479.2h.8M112.7,483.4h.8M125.0,481.7h.8M121.8,474.0h.8M128.7,474.5h.8M114.8,480.0h.8M110.0,483.4h.8M132.4,469.4h.8M117.6,478.0h.8M132.3,479.3h.8M117.6,478.6h.8M126.2,480.8h.8M108.7,470.6h.8M113.0,481.5h.8M116.5,481.8h.8M127.1,476.0h.8M106.1,481.9h.8M116.1,479.9h.8M121.4,474.6h.8M121.2,487.0h.8M123.5,471.4h.8M105.1,478.9h.8M115.3,476.5h.8M132.5,473.9h.8M117.4,477.8h.8M119.3,481.3h.8M114.7,481.5h.8M109.1,482.3h.8M122.1,474.6h.8M123.0,478.4h.8M117.2,481.1h.8M122.6,479.9h.8M111.4,477.7h.8M115.7,482.3h.8M126.3,474.9h.8M119.7,479.1h.8M123.3,476.4h.8M104.3,478.6h.8M120.2,473.0h.8M113.9,475.5h.8M106.7,483.2h.8M115.9,476.8h.8M105.4,481.8h.8M125.4,485.6h.8M122.1,483.1h.8M124.7,481.2h.8M114.9,481.8h.8M109.2,487.6h.8M123.0,483.4h.8M118.7,486.1h.8M125.4,481.0h.8M114.0,486.3h.8M126.8,475.3h.8M115.6,485.0h.8M108.6,475.7h.8M110.6,476.8h.8M117.5,467.7h.8M116.2,478.4h.8M117.8,477.8h.8M118.7,484.7h.8M112.2,483.5h.8M123.7,471.8h.8M119.2,470.6h.8M123.2,482.0h.8M105.8,481.4h.8M122.2,472.6h.8M129.7,489.5h.8M116.5,478.9h.8M116.0,473.9h.8M119.6,486.7h.8M118.7,482.8h.8M121.8,475.7h.8M108.2,483.6h.8M110.3,474.7h.8M123.3,466.9h.8M124.3,483.4h.8M115.4,473.9h.8M112.9,480.1h.8M120.1,482.1h.8M118.1,477.9h.8M119.4,475.3h.8M122.7,472.3h.8M108.5,478.6h.8M128.5,470.3h.8M116.6,478.4h.8M115.0,475.3h.8M122.1,480.5h.8M129.1,479.4h.8M112.8,481.1h.8M118.0,483.6h.8M123.6,484.0h.8M117.4,469.0h.8M124.4,490.5h.8M107.8,484.8h.8M114.7,474.1h.8M117.9,474.6h.8M104.8,483.2h.8M116.7,482.9h.8M118.9,474.3h.8M128.2,483.7h.8M119.5,474.0h.8M123.3,480.3h.8M112.8,482.5h.8M122.1,477.5h.8M117.1,479.8h.8M123.6,473.8h.8M122.1,484.6h.8M116.3,479.6h.8M119.5,481.4h.8M123.7,479.5h.8M117.8,469.2h.8M127.5,477.6h.8M122.8,470.2h.8M123.3,479.4h.8M122.7,477.0h.8M114.4,471.9h.8M127.1,471.4h.8M119.0,479.8h.8M110.8,472.4h.8M120.1,480.8h.8M107.0,477.7h.8M125.2,483.9h.8M109.5,484.4h.8M107.0,477.6h.8M109.3,473.8h.8M110.4,488.1h.8M109.8,485.6h.8M119.2,481.6h.8M113.9,472.0h.8M121.2,471.2h.8M118.3,476.3h.8M111.9,476.5h.8M112.9,483.3h.8M117.0,476.5h.8M104.1,478.0h.8M104.5,477.7h.8M115.9,489.0h.8M118.9,481.7h.8M122.2,463.3h.8M115.7,476.4h.8M110.9,471.9h.8M118.3,478.7h.8M119.6,475.5h.8M123.8,477.1h.8M112.4,480.1h.8M117.6,486.6h.8M106.4,483.3h.8M102.9,490.0h.8M118.9,476.9h.8M113.0,479.0h.8M114.8,477.6h.8M116.8,483.1h.8M116.3,485.8h.8M109.2,476.5h.8M103.4,486.0h.8M120.4,477.1h.8M124.8,476.3h.8M113.2,481.0h.8M128.3,479.5h.8M118.8,483.8h.8M123.8,483.6h.8M119.2,477.2h.8M116.2,481.5h.8M119.0,474.5h.8M129.6,480.3h.8M114.9,483.6h.8M112.7,484.2h.8M115.0,481.5h.8M108.4,480.5h.8M122.0,477.1h.8M115.9,484.2h.8M118.9,475.3h.8M119.7,469.9h.8M120.9,481.4h.8M108.9,475.1h.8M119.8,480.9h.8M111.5,484.1h.8M110.0,481.2h.8M111.7,479.2h.8M108.0,480.7h.8M107.2,482.7h.8M125.0,475.9h.8M103.8,482.1h.8M122.1,480.8h.8M120.5,482.9h.8M112.1,474.2h.8M124.7,480.2h.8M121.5,484.7h.8M107.8,482.3h.8M123.5,484.3h.8M122.6,475.7h.8M111.6,484.3h.8M123.6,474.1h.8M119.2,485.7h.8M114.5,476.8h.8M133.8,483.4h.8M123.3,481.6h.8M123.6,482.7h.8M116.5,483.7h.8M115.9,480.9h.8M116.2,481.3h.8M117.3,477.0h.8M114.0,474.7h.8M114.0,480.5h.8M121.7,478.6h.8M120.8,473.6h.8M122.6,477.0h.8M116.5,483.0h.8M121.7,475.1h.8M98.6,478.3h.8M117.0,478.4h.8M119.0,484.6h.8M122.4,473.9h.8M106.9,486.2h.8M113.8,474.9h.8M123.9,477.9h.8M119.4,477.9h.8M120.4,479.4h.8M121.2,473.1h.8M116.6,477.5h.8M120.1,476.5h.8M123.5,470.6h.8M120.2,479.4h.8M116.4,479.7h.8M109.6,482.0h.8M122.0,481.1h.8M117.3,476.9h.8M117.7,483.7h.8M121.4,478.6h.8M123.8,476.2h.8M121.6,481.7h.8M112.0,476.6h.8M117.4,482.0h.8M115.0,479.5h.8M116.3,478.8h.8M121.7,474.1h.8M116.5,474.6h.8M115.0,486.1h.8M117.2,480.6h.8M119.8,480.2h.8M118.8,478.3h.8M118.8,478.7h.8M114.4,479.0h.8M108.0,485.4h.8M116.7,478.3h.8M115.4,480.8h.8M116.8,482.8h.8M112.9,478.7h.8M110.4,479.9h.8M106.7,483.3h.8M107.3,482.6h.8M118.1,485.5h.8M120.2,481.9h.8M114.7,481.5h.8M121.6,481.4h.8M119.5,474.0h.8M114.7,472.4h.8M114.5,475.5h.8M120.9,475.4h.8M112.6,467.3h.8M119.7,471.9h.8M121.0,479.5h.8M120.2,471.0h.8M116.1,475.2h.8M119.0,481.4h.8M118.8,479.1h.8M118.5,475.7h.8M110.7,478.9h.8M117.4,475.6h.8M115.9,466.6h.8M114.3,477.9h.8M112.3,483.6h.8M109.7,484.2h.8M108.1,481.9h.8M128.0,476.3h.8M119.3,473.6h.8M125.8,476.3h.8M112.1,489.5h.8M126.5,473.2h.8M120.7,483.8h.8M109.0,491.0h.8M111.2,480.4h.8M124.3,480.0h.8M123.2,476.1h.8M111.9,485.3h.8M129.7,470.1h.8M112.9,486.9h.8M119.9,488.1h.8M109.7,479.6h.8M112.6,484.9h.8M122.1,480.9h.8M126.8,476.6h.8M112.2,476.2h.8M118.6,481.2h.8M119.6,489.6h.8M118.6,479.2h.8M130.1,477.6h.8M107.9,482.2h.8M115.9,477.6h.8M113.8,479.6h.8M105.3,488.2h.8M118.9,480.2h.8M117.5,474.7h.8M111.3,480.9h.8M114.0,480.1h.8M112.0,486.5h.8M111.7,479.4h.8M121.8,482.4h.8M116.4,472.9h.8M110.1,480.0h.8M123.9,479.8h.8M105.1,478.5h.8M110.1,487.5h.8M115.1,479.1h.8M116.8,469.2h.8M125.3,478.5h.8M118.8,479.7h.8M131.2,473.0h.8M115.2,482.6h.8M110.4,478.4h.8M115.7,485.5h.8M114.0,478.6h.8M116.6,482.9h.8M130.6,475.5h.8M111.2,480.1h.8M109.4,483.7h.8M115.3,484.6h.8M121.0,486.5h.8M120.3,480.8h.8M122.2,475.4h.8M118.4,478.1h.8M116.3,480.1h.8M120.3,479.2h.8M122.7,484.8h.8M115.1,480.6h.8M118.8,479.1h.8M123.8,490.5h.8M116.6,475.2h.8M117.3,477.4h.8M117.2,487.0h.8M114.1,476.9h.8M110.9,485.5h.8M130.7,477.7h.8M128.1,467.0h.8M118.4,479.4h.8M126.4,474.4h.8M120.1,478.0h.8M121.7,475.1h.8M119.2,476.9h.8M126.2,471.2h.8M114.1,476.4h.8M114.9,474.7h.8M118.1,472.4h.8M122.4,487.1h.8M122.5,486.9h.8M124.5,476.0h.8M119.1,478.1h.8M128.1,477.4h.8M114.8,482.1h.8M126.5,479.3h.8M121.3,493.2h.8M120.6,476.2h.8M121.0,486.8h.8M113.5,480.0h.8M117.8,476.9h.8M116.7,471.0h.8M110.2,483.6h.8M120.0,479.8h.8M108.3,484.2h.8M114.1,482.6h.8M111.9,482.7h.8M114.1,473.3h.8M118.2,464.2h.8M122.4,479.9h.8M119.6,483.1h.8M120.6,486.0h.8M115.0,477.1h.8M115.0,476.5h.8M112.8,475.8h.8M117.9,477.9h.8M108.2,478.0h.8M130.1,484.4h.8M113.9,475.1h.8M111.2,482.8h.8M123.6,484.3h.8M121.2,478.0h.8M118.2,480.8h.8M116.3,470.8h.8M106.6,486.2h.8M111.2,486.1h.8M117.4,475.5h.8M125.0,479.4h.8M119.0,478.4h.8M125.2,477.4h.8M112.6,477.4h.8M106.3,481.9h.8M107.3,481.2h.8M121.0,473.8h.8M120.0,478.8h.8M111.3,483.8h.8M115.4,482.7h.8M121.6,483.4h.8M106.8,475.5h.8M123.2,470.7h.8M123.3,482.5h.8M116.9,478.5h.8M117.9,483.7h.8M119.7,478.2h.8M111.0,479.2h.8M117.7,485.5h.8M121.6,483.4h.8M119.6,482.1h.8M108.3,475.5h.8M118.6,478.7h.8M111.8,482.3h.8M115.9,474.0h.8M116.8,475.3h.8M123.4,489.6h.8M133.0,479.0h.8M121.6,474.8h.8M122.2,471.8h.8M127.5,477.4h.8M121.2,482.2h.8M117.0,475.8h.8M114.1,483.2h.8M127.9,475.2h.8M121.0,482.6h.8M110.5,477.5h.8M108.7,480.3h.8M112.1,478.5h.8M107.1,481.1h.8M109.3,480.0h.8M113.9,481.9h.8M119.0,472.7h.8M111.9,479.0h.8M112.3,483.8h.8M102.9,483.7h.8M120.7,479.3h.8M116.6,490.6h.8M118.5,481.9h.8M113.3,482.8h.8M114.3,487.8h.8M113.9,486.7h.8M110.3,482.0h.8M117.5,481.2h.8M122.8,473.8h.8M105.6,486.3h.8M123.9,476.4h.8M108.6,480.2h.8M119.5,473.3h.8M112.9,482.4h.8M119.4,478.7h.8M113.4,485.3h.8M110.6,492.2h.8M129.0,483.4h.8M122.2,476.7h.8M115.3,479.3h.8M118.6,475.1h.8M119.9,481.3h.8M113.1,488.4h.8M117.8,481.7h.8M115.6,485.2h.8M126.6,473.2h.8M116.2,470.0h.8M117.5,481.6h.8M118.0,478.0h.8M117.7,472.3h.8M123.5,480.4h.8M106.9,481.8h.8M112.2,483.7h.8M114.9,481.5h.8M109.8,490.8h.8M106.2,473.8h.8M110.1,486.1h.8M120.9,472.6h.8M123.6,475.1h.8M120.3,481.7h.8M113.3,483.0h.8M133.4,475.5h.8M119.5,472.9h.8M119.6,470.7h.8M124.3,473.7h.8M119.3,474.9h.8M132.5,480.8h.8M115.3,479.0h.8M116.7,473.2h.8M117.4,485.6h.8M119.9,472.1h.8M107.9,483.7h.8M122.2,480.2h.8M116.3,477.3h.8M117.6,466.0h.8M113.1,478.3h.8M117.6,485.4h.8M124.6,472.2h.8M117.5,478.7h.8M112.7,479.0h.8M120.6,474.3h.8M113.3,484.6h.8M101.4,488.9h.8M118.6,480.4h.8M116.0,476.7h.8M112.8,479.9h.8M123.5,479.9h.8M121.9,479.4h.8M109.4,482.6h.8M114.2,480.3h.8M120.1,473.3h.8M109.2,476.4h.8M111.4,483.2h.8M115.6,482.0h.8M113.0,485.7h.8M112.6,486.4h.8M119.5,487.3h.8M118.6,482.0h.8M114.9,474.5h.8M112.0,488.1h.8M114.7,476.8h.8M114.4,485.4h.8M112.6,475.3h.8M118.0,485.9h.8M114.9,484.8h.8M109.2,479.9h.8M113.9,479.9h.8M126.2,486.7h.8M119.8,482.9h.8M121.4,475.3h.8M120.6,487.0h.8M118.4,485.3h.8M114.5,480.8h.8M122.0,473.2h.8M106.1,479.9h.8M103.6,487.8h.8M117.3,482.1h.8M111.2,477.9h.8M115.0,487.7h.8M115.6,472.2h.8M111.0,484.9h.8M111.4,492.4h.8M116.0,492.9h.8M115.2,469.1h.8M113.6,475.3h.8M113.7,478.9h.8M117.9,495.7h.8M106.8,480.3h.8M123.2,473.6h.8M111.3,482.6h.8M110.9,477.4h.8M110.6,486.7h.8M120.0,483.8h.8M118.6,478.5h.8M112.5,481.0h.8M110.5,477.5h.8M117.7,484.7h.8M119.3,482.9h.8M114.9,495.5h.8M111.9,480.4h.8M116.6,481.3h.8M122.4,480.4h.8M107.2,480.8h.8M118.9,479.9h.8M115.1,469.1h.8M119.5,476.8h.8M113.2,477.5h.8M114.8,475.0h.8M114.9,485.3h.8M111.5,481.2h.8M119.7,477.3h.8M112.7,477.6h.8M130.7,478.4h.8M118.0,485.1h.8M117.7,480.9h.8M121.1,479.4h.8M119.2,480.3h.8M122.8,481.1h.8M110.6,485.1h.8M110.6,482.5h.8M121.4,480.3h.8M113.8,478.3h.8M103.5,487.2h.8M124.9,482.2h.8M119.2,481.4h.8M112.4,480.6h.8M114.9,476.7h.8M119.8,478.4h.8M110.8,482.1h.8M111.6,483.1h.8M124.3,481.4h.8M110.2,477.4h.8M115.7,480.4h.8M108.0,480.7h.8M127.2,474.2h.8M124.7,475.0h.8M106.1,483.0h.8M119.5,478.7h.8M118.9,474.6h.8M111.5,468.7h.8M113.6,483.8h.8M116.9,478.3h.8M111.2,475.0h.8M114.5,477.5h.8M116.9,478.2h.8M125.8,474.4h.8M106.8,483.4h.8M123.5,476.0h.8M109.0,481.4h.8M110.4,480.4h.8M116.6,472.4h.8M129.6,468.0h.8M107.1,474.3h.8M119.7,469.3h.8M121.6,481.1h.8M118.7,483.2h.8M117.4,479.8h.8M113.8,479.0h.8M110.6,491.6h.8M128.3,460.9h.8M96.3,502.3h.8M111.4,471.2h.8M111.5,486.1h.8M107.4,487.4h.8M127.6,470.3h.8M123.5,492.8h.8M128.2,470.2h.8M128.3,485.6h.8M122.1,481.0h.8M118.9,464.9h.8M113.0,467.3h.8M132.9,485.3h.8M113.0,484.3h.8M113.3,492.5h.8M123.9,473.3h.8M113.8,477.2h.8M121.2,479.6h.8M116.8,477.3h.8M137.4,470.2h.8M134.3,469.8h.8M124.6,473.7h.8M114.0,477.3h.8M118.3,472.3h.8M126.1,482.6h.8M116.8,463.7h.8M129.0,463.0h.8M130.9,466.9h.8M120.0,485.4h.8M118.7,488.8h.8M115.8,475.2h.8M111.5,496.1h.8M107.2,475.2h.8M122.2,469.1h.8M132.0,477.1h.8M130.0,481.4h.8M119.1,484.9h.8M106.1,489.8h.8M119.9,473.1h.8M117.3,483.0h.8M121.0,469.9h.8M121.0,480.0h.8M116.2,476.5h.8M127.4,492.6h.8M116.6,466.5h.8M111.7,489.6h.8M134.1,474.3h.8M121.8,474.9h.8M113.9,486.1h.8M101.6,482.9h.8M111.2,483.9h.8M123.4,467.7h.8M122.3,464.1h.8M130.9,475.3h.8M119.6,479.3h.8M118.6,475.8h.8M131.1,482.7h.8M120.8,478.1h.8M138.7,472.9h.8M121.0,479.8h.8M114.3,473.7h.8M130.1,489.9h.8M115.3,482.5h.8M132.3,482.3h.8M116.8,463.3h.8M115.0,491.2h.8M120.3,475.9h.8M123.5,470.7h.8M122.2,464.1h.8M126.4,483.4h.8M114.3,468.7h.8M113.3,485.4h.8M115.7,477.2h.8M119.7,481.4h.8M126.6,485.1h.8M112.3,473.2h.8M124.7,484.5h.8M115.5,477.0h.8M143.9,478.6h.8M119.2,478.3h.8M118.6,476.3h.8M124.8,489.6h.8M123.4,469.6h.8M130.3,466.1h.8M131.3,481.4h.8M124.0,483.3h.8M123.7,470.8h.8M101.4,481.7h.8M114.8,469.7h.8M131.9,456.3h.8M102.7,475.0h.8M121.8,482.4h.8M118.3,485.6h.8M125.7,486.6h.8M113.9,473.9h.8M124.9,484.4h.8M101.5,476.1h.8M114.4,481.7h.8M123.8,479.7h.8M136.4,463.3h.8M101.6,477.4h.8M126.5,459.1h.8M112.0,473.2h.8M120.2,475.2h.8M135.7,486.0h.8M120.4,478.4h.8M134.2,473.5h.8M102.9,487.7h.8M113.7,473.9h.8M113.4,472.2h.8M115.4,483.4h.8M123.4,480.0h.8M110.4,472.5h.8M105.4,486.5h.8M129.9,481.5h.8M127.7,465.7h.8M121.0,488.6h.8M117.9,473.8h.8M124.2,467.5h.8M122.0,477.2h.8M131.7,463.5h.8M125.0,466.9h.8M115.8,471.0h.8M111.8,477.8h.8M135.0,462.0h.8M118.9,486.7h.8M105.5,471.9h.8M122.2,497.6h.8M133.3,495.7h.8M128.2,499.4h.8M126.9,474.5h.8M107.4,470.8h.8M140.3,468.6h.8M115.3,487.5h.8M95.1,480.8h.8M125.5,466.7h.8M134.1,470.7h.8M114.9,492.4h.8M112.6,485.8h.8M102.8,481.8h.8M136.9,488.3h.8M98.3,484.2h.8M114.7,480.9h.8M100.3,474.7h.8M130.4,471.0h.8M127.9,466.4h.8M116.4,478.5h.8M105.1,487.7h.8M120.1,468.4h.8M124.3,484.1h.8M120.8,470.6h.8M108.9,489.8h.8M111.1,486.2h.8M130.2,470.2h.8M119.5,474.5h.8M122.2,461.3h.8M120.7,489.3h.8M111.3,476.9h.8M107.2,478.9h.8M136.8,468.1h.8M133.7,485.7h.8M110.9,476.1h.8M107.8,483.8h.8M108.4,488.4h.8M122.0,481.3h.8M97.8,488.6h.8M118.3,485.1h.8M120.9,499.9h.8M97.9,501.2h.8M111.5,472.7h.8M118.1,464.5h.8M108.3,488.8h.8M133.7,476.7h.8M114.7,488.5h.8M113.4,482.9h.8M105.3,485.1h.8M111.7,493.6h.8M112.8,471.3h.8M131.6,490.7h.8M110.7,475.0h.8M129.0,468.8h.8M112.7,471.6h.8M115.8,476.9h.8M103.4,492.5h.8M100.9,477.7h.8M138.4,479.9h.8M98.2,499.6h.8M108.4,486.9h.8M133.5,489.4h.8M124.5,470.0h.8M105.7,476.7h.8M124.4,468.8h.8M100.1,484.9h.8M107.6,486.7h.8M123.1,473.7h.8M114.3,489.5h.8M115.1,494.1h.8M116.0,490.6h.8M133.5,474.2h.8M109.8,497.6h.8M132.4,476.1h.8M127.4,488.4h.8M122.4,478.0h.8M111.8,495.6h.8M119.2,476.3h.8M123.3,491.0h.8M108.3,474.2h.8M112.0,469.6h.8M118.0,473.2h.8M104.5,473.2h.8M123.6,471.6h.8M123.3,469.9h.8M112.6,482.8h.8M112.2,475.2h.8M98.4,492.6h.8M121.6,475.9h.8M121.7,472.6h.8M97.8,459.0h.8M118.6,476.8h.8M120.7,490.0h.8M123.1,483.0h.8M128.8,486.2h.8M144.6,470.2h.8M108.3,478.0h.8M123.1,482.9h.8M117.4,468.6h.8M125.7,484.5h.8M105.9,488.0h.8M102.6,493.9h.8M124.8,470.9h.8M127.8,467.0h.8M116.4,483.0h.8M139.1,481.8h.8M118.3,459.2h.8M110.5,484.4h.8M124.2,492.5h.8M97.7,472.8h.8M110.0,494.5h.8M130.8,465.4h.8M116.8,471.2h.8M107.9,484.6h.8M124.8,481.3h.8M108.1,505.9h.8M111.6,467.4h.8M127.4,489.3h.8M126.3,467.8h.8M134.1,475.9h.8M118.0,472.8h.8M122.4,473.0h.8M89.1,469.6h.8M115.2,486.9h.8M118.8,473.7h.8M117.2,471.8h.8M107.7,479.9h.8M115.9,469.7h.8M120.4,474.8h.8M103.9,473.4h.8M136.8,472.2h.8M144.5,498.5h.8M116.4,485.7h.8M113.2,478.4h.8M111.1,482.1h.8M111.3,475.6h.8M98.8,479.1h.8M120.9,472.0h.8M134.7,482.1h.8M116.4,470.6h.8M113.3,477.7h.8M119.8,478.8h.8M130.1,480.0h.8M105.6,485.6h.8M133.8,478.0h.8M130.0,479.2h.8M122.5,472.3h.8M87.2,487.7h.8M117.1,485.0h.8M121.0,474.6h.8M124.6,474.1h.8M124.3,482.0h.8M123.3,474.5h.8M103.0,495.9h.8M112.1,489.1h.8M114.8,491.4h.8M122.2,490.6h.8M114.6,467.1h.8M111.6,481.7h.8M106.2,496.4h.8M91.8,471.7h.8M125.0,489.1h.8M117.6,486.8h.8M90.2,485.0h.8M100.2,497.0h.8M92.7,504.5h.8M95.7,499.2h.8M103.5,499.9h.8M98.8,505.5h.8M82.1,509.2h.8M74.0,517.0h.8M115.0,492.1h.8M90.9,514.6h.8M106.7,499.5h.8M84.0,503.2h.8M90.9,510.7h.8M111.6,493.5h.8M105.4,505.5h.8M90.7,520.0h.8M107.0,486.6h.8M99.0,521.6h.8M104.6,496.6h.8M98.0,519.1h.8M106.2,480.3h.8M112.8,478.2h.8M93.3,531.8h.8M81.3,513.0h.8M96.4,507.4h.8M85.6,523.1h.8M89.2,504.8h.8M87.0,512.9h.8M97.5,498.1h.8M113.4,490.9h.8M114.3,479.2h.8M116.2,502.4h.8M97.0,495.6h.8M76.3,515.2h.8M106.1,515.5h.8M96.4,517.6h.8M88.1,518.0h.8M111.7,486.9h.8M97.4,497.7h.8M110.6,484.3h.8M101.0,523.3h.8M92.7,498.4h.8M107.0,496.9h.8M102.6,506.1h.8M100.4,494.1h.8M94.3,498.8h.8M102.8,506.9h.8M88.9,513.6h.8M118.9,506.6h.8M95.1,523.3h.8M114.4,489.3h.8M99.1,503.5h.8M112.3,501.9h.8M113.0,503.2h.8M88.4,515.4h.8M94.4,501.0h.8M112.0,497.7h.8M89.8,516.0h.8M100.8,519.0h.8M94.6,521.5h.8M108.5,485.2h.8M119.4,493.2h.8M92.1,507.1h.8M117.5,485.6h.8M102.2,506.5h.8M80.2,528.8h.8M94.3,504.8h.8M113.3,500.6h.8M126.5,471.5h.8M97.8,501.6h.8M120.1,489.2h.8M99.6,497.8h.8M88.2,509.9h.8M99.5,495.8h.8M108.1,499.6h.8M89.0,516.5h.8M93.4,504.1h.8M110.0,501.4h.8M108.8,507.6h.8M95.8,493.8h.8M92.8,533.0h.8M103.1,507.8h.8M86.8,513.5h.8M100.3,509.9h.8M125.8,476.6h.8M89.8,520.5h.8M94.0,499.4h.8M107.1,499.2h.8M125.0,502.5h.8M100.9,504.1h.8M108.9,477.6h.8M107.7,492.9h.8M114.6,498.8h.8M103.8,491.7h.8M78.0,518.8h.8M111.2,479.7h.8M95.8,519.5h.8M103.6,497.1h.8M94.7,510.0h.8M86.2,499.7h.8M115.0,476.7h.8M94.0,506.5h.8M89.5,511.7h.8M81.8,528.0h.8M100.5,489.5h.8M83.5,517.2h.8M104.0,507.9h.8M90.0,503.9h.8M89.4,508.3h.8M103.3,505.8h.8M110.4,488.8h.8M102.0,494.5h.8M98.7,486.0h.8M95.5,496.8h.8M106.9,484.4h.8M109.0,491.8h.8M89.5,504.1h.8M104.8,505.1h.8M103.2,507.0h.8M107.4,483.0h.8M108.9,498.9h.8M110.0,487.4h.8M95.6,510.6h.8M112.6,485.6h.8M119.3,481.2h.8M96.0,511.3h.8M95.2,492.6h.8M100.4,494.6h.8M124.4,484.1h.8M108.6,502.7h.8M109.0,470.2h.8M87.2,517.2h.8M94.4,509.7h.8M103.3,495.2h.8M102.3,505.9h.8M108.9,492.2h.8M112.1,480.3h.8M91.9,487.4h.8M110.8,497.0h.8M101.8,476.2h.8M117.2,489.7h.8M108.7,508.0h.8M97.3,508.0h.8M92.4,521.0h.8M91.1,510.9h.8M120.4,475.9h.8M110.3,504.3h.8M99.1,513.8h.8M108.2,493.2h.8M112.8,484.5h.8M107.9,486.9h.8M100.1,526.9h.8M110.7,510.5h.8M82.9,514.0h.8M131.1,485.4h.8M92.8,519.9h.8M92.4,523.6h.8M101.0,505.4h.8M120.6,497.8h.8M112.5,480.4h.8M113.2,500.1h.8M71.7,520.0h.8M115.4,492.6h.8M85.4,510.7h.8M82.5,513.9h.8M117.9,496.5h.8M111.5,500.8h.8M92.1,514.4h.8M121.3,477.3h.8M98.4,528.7h.8M91.5,520.1h.8M89.6,491.9h.8M113.2,488.3h.8M117.1,494.5h.8M112.5,483.7h.8M114.8,512.6h.8M105.5,501.1h.8M92.0,504.5h.8M112.4,484.0h.8M90.2,512.9h.8M92.9,530.7h.8M82.3,512.1h.8M84.4,513.8h.8M94.8,512.4h.8M111.4,472.2h.8M99.0,513.1h.8M107.5,482.0h.8M107.5,492.8h.8M97.6,524.6h.8M97.4,503.9h.8M118.0,488.4h.8M106.6,488.6h.8M105.9,491.7h.8M114.8,505.5h.8M112.5,500.0h.8M94.1,521.6h.8M97.9,503.2h.8M100.8,490.7h.8M99.1,526.5h.8M97.0,505.4h.8M108.2,498.5h.8M96.3,498.3h.8M116.7,485.1h.8M100.4,488.3h.8M116.5,498.9h.8M92.6,510.4h.8M119.1,484.9h.8M98.3,506.2h.8M122.9,486.9h.8M100.1,507.2h.8M105.4,503.3h.8M100.9,506.3h.8M100.9,492.0h.8M98.6,512.1h.8M79.1,514.7h.8M80.5,510.6h.8M89.7,485.5h.8M83.7,521.8h.8M98.1,497.1h.8M92.5,503.9h.8M113.4,495.4h.8M111.6,476.7h.8M109.3,507.5h.8M101.4,490.0h.8M95.8,504.2h.8M96.5,507.2h.8M82.6,516.6h.8M111.4,478.9h.8M100.0,515.7h.8M110.8,490.2h.8M129.3,488.4h.8M92.3,498.6h.8M94.7,513.2h.8M103.0,480.5h.8M108.0,503.4h.8M88.2,523.5h.8M78.5,515.3h.8M104.9,509.2h.8M109.2,505.6h.8M120.5,500.5h.8M99.0,502.7h.8M105.9,501.5h.8M107.5,498.5h.8M94.3,513.2h.8M104.4,495.9h.8M91.1,503.8h.8M108.1,486.3h.8M76.5,523.5h.8M110.6,484.3h.8M91.4,495.8h.8M108.6,500.9h.8M125.7,484.6h.8M90.2,512.0h.8M95.4,489.6h.8M121.0,479.8h.8M112.9,470.3h.8M95.7,527.8h.8M111.1,492.4h.8M118.7,484.4h.8M97.4,518.6h.8M87.0,505.0h.8M109.7,497.3h.8M124.1,483.3h.8M88.6,522.6h.8M96.9,502.8h.8M100.2,499.1h.8M98.1,511.3h.8M93.5,518.5h.8M115.6,486.5h.8M114.7,482.0h.8M94.6,503.7h.8M100.1,500.9h.8M104.5,515.7h.8M96.5,511.7h.8M112.8,484.5h.8M85.1,518.8h.8M106.1,492.7h.8M86.4,513.9h.8M93.6,501.8h.8M114.6,480.0h.8M92.8,510.3h.8M119.2,487.0h.8M84.2,521.6h.8M80.6,509.2h.8M118.5,483.3h.8M107.9,482.2h.8M95.8,514.0h.8M96.1,504.1h.8M97.0,523.1h.8M97.6,485.1h.8M99.3,494.6h.8M79.4,510.2h.8M95.3,499.3h.8M100.4,505.8h.8M116.6,490.3h.8M125.7,482.2h.8M120.1,490.5h.8M97.3,517.0h.8M96.9,507.0h.8M91.2,512.4h.8M82.7,525.6h.8M110.9,481.9h.8M109.6,506.5h.8M107.4,511.8h.8M99.9,497.0h.8M87.0,507.4h.8M98.2,497.7h.8M93.0,512.2h.8M118.4,495.3h.8M97.6,517.4h.8M94.8,521.0h.8M80.4,519.2h.8M83.9,521.8h.8M108.8,476.3h.8M112.0,488.9h.8M97.2,493.1h.8M74.5,516.9h.8M89.8,515.2h.8M87.6,514.6h.8M109.5,496.1h.8M115.5,477.4h.8M71.9,510.6h.8M96.5,485.2h.8M98.8,482.6h.8M83.5,523.0h.8M120.6,475.6h.8M102.6,492.5h.8M92.8,520.8h.8M88.1,508.8h.8M117.4,490.3h.8M105.7,493.1h.8M87.3,521.6h.8M106.3,494.4h.8M99.3,489.3h.8M105.9,496.8h.8M91.9,488.2h.8M84.6,509.2h.8M91.7,499.2h.8M84.0,513.3h.8M108.7,488.4h.8M98.4,499.4h.8M102.9,489.4h.8M115.2,494.3h.8M95.3,510.7h.8M102.7,487.5h.8M101.0,499.3h.8M96.2,524.0h.8M102.1,492.5h.8M89.1,523.6h.8M113.5,487.4h.8M108.9,496.3h.8M109.1,497.7h.8M102.0,503.7h.8M108.9,489.7h.8M119.5,494.7h.8M96.3,502.1h.8M105.4,493.4h.8M96.3,515.7h.8M106.1,500.6h.8M108.1,491.2h.8M104.1,507.9h.8M116.5,496.9h.8M83.2,517.4h.8M92.8,509.2h.8M111.1,491.5h.8M107.0,477.6h.8M104.6,506.1h.8M97.5,501.1h.8M94.2,517.3h.8M85.9,530.3h.8M107.9,494.8h.8M89.6,507.4h.8M100.6,502.7h.8M99.1,521.8h.8M102.7,492.5h.8M120.3,485.6h.8M106.9,510.9h.8M92.5,519.0h.8M90.3,500.1h.8M93.7,519.0h.8M89.6,520.6h.8M87.4,528.4h.8M106.5,489.0h.8M108.7,507.3h.8M106.0,519.8h.8M103.5,491.1h.8M119.9,472.2h.8M98.6,495.2h.8M90.1,495.4h.8M99.7,498.7h.8M92.9,511.9h.8M101.4,512.3h.8M105.8,483.5h.8M93.8,522.9h.8M84.3,508.4h.8M106.7,491.6h.8M115.4,484.2h.8M111.8,478.0h.8M91.7,504.8h.8M89.2,520.9h.8M77.6,509.8h.8M91.0,497.0h.8M102.2,493.5h.8M101.2,495.7h.8M113.0,489.0h.8M115.9,500.9h.8M114.1,501.4h.8M98.4,493.7h.8M95.4,500.1h.8M102.4,502.6h.8M114.3,481.9h.8M104.5,484.0h.8M99.5,491.0h.8M101.3,493.3h.8M114.0,479.3h.8M114.4,487.8h.8M112.7,495.1h.8M85.1,524.2h.8M105.8,506.2h.8M103.1,487.8h.8M113.2,492.6h.8M108.0,478.7h.8M115.4,491.9h.8M88.0,484.6h.8M93.8,490.5h.8M99.4,491.8h.8M99.5,482.4h.8M92.1,498.0h.8M97.7,485.3h.8M98.0,494.2h.8M97.6,509.3h.8M99.2,497.9h.8M107.3,465.5h.8M100.9,503.1h.8M88.2,476.2h.8M99.1,480.5h.8M123.4,508.5h.8M105.4,478.0h.8M102.8,500.8h.8M100.1,488.0h.8M98.2,483.2h.8M86.1,487.1h.8M100.5,476.4h.8M96.8,484.6h.8M97.9,479.3h.8M98.2,503.1h.8M106.9,485.4h.8M96.4,485.4h.8M111.1,503.1h.8M110.9,487.1h.8M101.2,482.5h.8M105.3,495.8h.8M112.6,493.2h.8M103.9,480.0h.8M87.6,486.5h.8M98.5,492.4h.8M107.6,512.3h.8M85.1,500.8h.8M102.6,495.7h.8M108.4,476.1h.8M92.3,488.8h.8M97.1,487.2h.8M103.7,494.8h.8M97.5,505.8h.8M90.0,498.5h.8M108.6,495.5h.8M99.2,489.2h.8M100.2,501.6h.8M100.8,503.1h.8M101.1,484.6h.8M98.3,492.7h.8M101.8,491.6h.8M85.1,496.2h.8M100.4,516.7h.8M102.9,485.1h.8M120.9,497.4h.8M95.0,482.8h.8M99.5,498.9h.8M97.3,471.4h.8M111.3,497.5h.8M91.0,490.3h.8M103.4,477.5h.8M95.8,494.9h.8M88.8,487.4h.8M117.3,508.3h.8M99.9,486.1h.8M95.3,482.4h.8M102.2,497.3h.8M108.8,487.4h.8M93.1,507.8h.8M105.2,486.3h.8M88.2,493.2h.8M97.8,491.9h.8M115.8,493.6h.8M102.2,484.1h.8M102.0,503.7h.8M103.9,484.2h.8M108.6,495.1h.8M93.9,496.6h.8M106.7,501.0h.8M99.5,500.4h.8M111.2,494.3h.8M91.5,487.4h.8M101.5,479.7h.8M98.9,502.1h.8M99.7,500.4h.8M102.4,495.5h.8M100.4,476.0h.8M94.4,501.7h.8M95.2,495.9h.8M111.5,500.5h.8M97.2,488.3h.8M93.2,494.1h.8M99.6,485.4h.8M104.5,496.3h.8M96.2,484.5h.8M98.0,493.8h.8M108.9,498.6h.8M99.2,488.3h.8M92.9,497.9h.8M93.4,481.3h.8M91.9,487.4h.8M89.8,487.7h.8M90.5,501.1h.8M108.4,477.7h.8M99.4,488.1h.8M90.5,479.9h.8M106.1,478.4h.8M108.0,497.8h.8M99.8,509.0h.8M88.8,493.1h.8M83.9,490.3h.8M108.5,482.0h.8M98.6,504.3h.8M111.3,487.8h.8M92.9,487.8h.8M91.6,493.5h.8M109.4,504.0h.8M100.0,489.8h.8M93.4,497.5h.8M93.1,481.3h.8M103.0,501.0h.8M107.1,492.3h.8M90.1,499.2h.8M98.3,478.5h.8M83.9,493.6h.8M101.8,495.5h.8M94.2,472.7h.8M98.3,498.9h.8M113.2,508.2h.8M106.6,478.2h.8M88.9,489.5h.8M105.4,495.3h.8M88.0,507.1h.8M113.5,487.6h.8M109.6,494.9h.8M105.8,492.7h.8M101.2,491.9h.8M93.9,476.1h.8M102.8,502.9h.8M89.1,491.1h.8M101.6,495.1h.8M103.0,486.4h.8M97.0,486.5h.8M99.1,494.3h.8M89.9,501.9h.8M101.7,479.1h.8M103.0,483.1h.8M109.5,490.4h.8M101.9,504.9h.8M102.6,487.4h.8M105.4,492.0h.8M100.8,484.1h.8M106.8,503.8h.8M110.2,506.2h.8M99.5,512.0h.8M97.2,473.4h.8M99.5,487.5h.8M103.5,483.4h.8M102.1,492.0h.8M94.8,485.0h.8M100.6,476.9h.8" stroke="#ee1c1c" stroke-width="0.8" fill="none" opacity="0.8"/>
<rect x="54.3" y="450.1" width="105.50000000000001" height="105.0" fill="none" stroke="#777" stroke-width="0.7"/>
<path d="M101.2,450.1V555.1M54.3,510.5H159.8" stroke="#333" stroke-width="0.8" fill="none"/>
<path d="M54.599999999999994,450.1V555.1H159.8" stroke="#444" stroke-width="1.1" fill="none"/>
<path d="M57.7,555.1v1.5M62.2,555.1v1.5M65.4,555.1v1.5M67.9,555.1v1.5M69.9,555.1v1.5M71.6,555.1v1.5M73.1,555.1v1.5M74.4,555.1v1.5M75.6,555.1v2.4M83.3,555.1v1.5M87.8,555.1v1.5M91.0,555.1v1.5M93.5,555.1v1.5M95.5,555.1v1.5M97.2,555.1v1.5M98.7,555.1v1.5M100.0,555.1v1.5M101.2,555.1v2.4M108.9,555.1v1.5M113.4,555.1v1.5M116.6,555.1v1.5M119.1,555.1v1.5M121.1,555.1v1.5M122.8,555.1v1.5M124.3,555.1v1.5M125.6,555.1v1.5M126.8,555.1v2.4M134.5,555.1v1.5M139.0,555.1v1.5M142.2,555.1v1.5M144.7,555.1v1.5M146.7,555.1v1.5M148.4,555.1v1.5M149.9,555.1v1.5M151.2,555.1v1.5M152.4,555.1v2.4M54.3,454.7h-2.4M54.3,480.6h-2.4M54.3,472.8h-1.5M54.3,468.2h-1.5M54.3,465.0h-1.5M54.3,462.5h-1.5M54.3,460.4h-1.5M54.3,458.7h-1.5M54.3,457.2h-1.5M54.3,455.9h-1.5M54.3,506.5h-2.4M54.3,498.7h-1.5M54.3,494.1h-1.5M54.3,490.9h-1.5M54.3,488.4h-1.5M54.3,486.3h-1.5M54.3,484.6h-1.5M54.3,483.1h-1.5M54.3,481.8h-1.5M54.3,532.4h-2.4M54.3,524.6h-1.5M54.3,520.0h-1.5M54.3,516.8h-1.5M54.3,514.3h-1.5M54.3,512.2h-1.5M54.3,510.5h-1.5M54.3,509.0h-1.5M54.3,507.7h-1.5" stroke="#444" stroke-width="0.6" fill="none"/>
<text x="75.6" y="564.1" font-family="Liberation Sans" font-size="5.1" text-anchor="middle" fill="#333">10<tspan dy="-2" font-size="3.3">4</tspan></text>
<text x="101.2" y="564.1" font-family="Liberation Sans" font-size="5.1" text-anchor="middle" fill="#333">10<tspan dy="-2" font-size="3.3">5</tspan></text>
<text x="127.8" y="564.1" font-family="Liberation Sans" font-size="5.1" text-anchor="middle" fill="#333">10<tspan dy="-2" font-size="3.3">6</tspan></text>
<text x="155.1" y="564.1" font-family="Liberation Sans" font-size="5.1" text-anchor="middle" fill="#333">10<tspan dy="-2" font-size="3.3">7</tspan></text>
<text x="49.699999999999996" y="456.00000000000006" font-family="Liberation Sans" font-size="5.1" text-anchor="middle" fill="#333" transform="rotate(-90 49.699999999999996 456.00000000000006)">10<tspan dy="-2" font-size="3.3">7</tspan></text>
<text x="49.699999999999996" y="481.90000000000003" font-family="Liberation Sans" font-size="5.1" text-anchor="middle" fill="#333" transform="rotate(-90 49.699999999999996 481.90000000000003)">10<tspan dy="-2" font-size="3.3">6</tspan></text>
<text x="49.699999999999996" y="507.80000000000007" font-family="Liberation Sans" font-size="5.1" text-anchor="middle" fill="#333" transform="rotate(-90 49.699999999999996 507.80000000000007)">10<tspan dy="-2" font-size="3.3">5</tspan></text>
<text x="49.699999999999996" y="533.7" font-family="Liberation Sans" font-size="5.1" text-anchor="middle" fill="#333" transform="rotate(-90 49.699999999999996 533.7)">10<tspan dy="-2" font-size="3.3">4</tspan></text>
<text x="57.5" y="457.5" font-family="Liberation Sans" font-size="5.4" font-weight="normal" text-anchor="start" fill="#333" stroke="#333" stroke-width="0.1">Q1-UL(3.65%)</text>
<text x="158.10000000000002" y="457.5" font-family="Liberation Sans" font-size="5.4" font-weight="normal" text-anchor="end" fill="#333" stroke="#333" stroke-width="0.1">Q1-UR(24.75%)</text>
<text x="57.5" y="551.7" font-family="Liberation Sans" font-size="5.4" font-weight="normal" text-anchor="start" fill="#333" stroke="#333" stroke-width="0.1">Q1-LL(70.11%)</text>
<text x="158.10000000000002" y="551.7" font-family="Liberation Sans" font-size="5.4" font-weight="normal" text-anchor="end" fill="#333" stroke="#333" stroke-width="0.1">Q1-LR(1.49%)</text>
<text transform="translate(103.5 577.3) scale(1 1.12)" x="0" y="0" font-family="Liberation Serif" font-size="11.1" font-weight="normal" text-anchor="middle" fill="#111" stroke="#111" stroke-width="0.22">Hyper-osmolarity</text>
<ellipse cx="230.2" cy="522.6" rx="14.5" ry="7.6" transform="rotate(-32 230.2 522.6)" fill="#ee1c1c" filter="url(#b3)"/>
<ellipse cx="230.2" cy="522.6" rx="12" ry="6" transform="rotate(-32 230.2 522.6)" fill="#ee1c1c" filter="url(#b2)"/>
<ellipse cx="262.8" cy="478.2" rx="10" ry="5.6" transform="rotate(-25 262.8 478.2)" fill="#ee1c1c" opacity="0.8" filter="url(#b3)"/>
<ellipse cx="263.8" cy="478.2" rx="6.5" ry="3.6" transform="rotate(-25 262.8 478.2)" fill="#ee1c1c" opacity="0.85" filter="url(#b2)"/>
<path d="M227.7,526.8h.8M242.6,525.2h.8M219.1,525.7h.8M223.0,525.4h.8M226.0,518.2h.8M228.7,515.7h.8M232.0,516.6h.8M233.6,523.0h.8M228.0,520.7h.8M221.9,521.5h.8M243.1,518.0h.8M244.9,515.7h.8M231.4,518.7h.8M224.6,517.4h.8M240.1,522.1h.8M244.9,521.8h.8M216.6,517.0h.8M236.6,520.1h.8M221.0,523.3h.8M240.9,526.3h.8M231.9,517.8h.8M239.4,523.3h.8M223.6,531.1h.8M223.3,527.1h.8M234.1,520.6h.8M220.4,531.0h.8M221.8,531.9h.8M215.1,529.3h.8M225.0,521.9h.8M232.5,522.7h.8M244.8,516.1h.8M235.5,512.9h.8M240.4,521.3h.8M244.0,522.1h.8M220.4,521.3h.8M223.0,523.5h.8M235.4,508.0h.8M233.2,526.5h.8M225.4,517.4h.8M225.2,528.9h.8M235.3,518.5h.8M236.3,526.8h.8M232.8,532.4h.8M227.9,535.0h.8M223.1,534.7h.8M226.3,516.2h.8M232.5,524.3h.8M234.8,520.4h.8M228.2,522.2h.8M234.1,527.2h.8M235.5,523.3h.8M235.2,527.5h.8M253.6,520.7h.8M219.0,524.6h.8M221.6,525.9h.8M243.7,512.0h.8M230.4,521.3h.8M213.1,526.4h.8M222.6,522.4h.8M226.4,522.2h.8M224.3,516.9h.8M238.9,520.0h.8M223.6,523.9h.8M218.7,518.7h.8M234.0,517.6h.8M242.0,523.9h.8M217.3,524.1h.8M232.6,517.9h.8M224.1,524.0h.8M229.8,514.9h.8M233.6,526.8h.8M225.0,523.6h.8M236.0,524.6h.8M238.8,520.0h.8M240.6,512.4h.8M244.0,517.4h.8M224.2,518.0h.8M242.5,516.5h.8M238.6,526.6h.8M229.4,527.8h.8M241.1,525.4h.8M237.6,528.8h.8M226.2,524.9h.8M222.9,521.6h.8M243.7,515.9h.8M230.5,523.6h.8M227.4,515.6h.8M227.9,526.3h.8M220.5,527.4h.8M224.6,520.3h.8M218.5,526.3h.8M233.3,523.9h.8M219.0,530.5h.8M230.1,512.6h.8M221.4,531.3h.8M237.1,521.6h.8M244.1,518.1h.8M240.5,516.1h.8M228.0,518.8h.8M230.0,520.5h.8M227.4,528.0h.8M231.9,519.0h.8M232.7,523.0h.8M231.8,517.7h.8M233.9,517.6h.8M231.2,518.9h.8M241.8,507.0h.8M235.3,513.6h.8M239.2,509.7h.8M235.2,518.5h.8M233.9,512.7h.8M229.0,526.0h.8M234.9,516.0h.8M215.0,530.0h.8M225.1,526.2h.8M224.1,520.3h.8M232.4,529.5h.8M233.5,518.2h.8M230.9,513.8h.8M225.5,525.1h.8M225.6,521.7h.8M234.9,530.3h.8M230.9,524.6h.8M236.4,504.2h.8M230.1,527.8h.8M217.9,527.8h.8M240.5,516.8h.8M237.4,530.5h.8M218.8,536.4h.8M221.6,530.4h.8M235.1,520.4h.8M230.5,527.4h.8M235.8,524.1h.8M239.5,520.5h.8M242.4,512.5h.8M211.2,523.8h.8M225.4,517.9h.8M227.7,524.8h.8M238.6,510.2h.8M230.3,514.7h.8M231.3,509.3h.8M241.2,514.1h.8M247.6,513.1h.8M222.1,525.2h.8M226.0,527.0h.8M240.4,517.9h.8M227.3,522.8h.8M241.1,510.4h.8M233.6,515.4h.8M226.1,529.2h.8M222.7,537.1h.8M240.7,510.4h.8M221.6,527.2h.8M226.1,521.0h.8M244.8,527.9h.8M231.4,526.1h.8M227.3,524.5h.8M225.9,524.8h.8M230.7,520.3h.8M230.1,518.6h.8M228.9,513.9h.8M233.9,519.3h.8M234.0,519.9h.8M229.9,523.3h.8M227.4,524.5h.8M213.1,529.0h.8M228.7,515.8h.8M251.2,518.0h.8M223.5,536.8h.8M235.4,523.0h.8M239.8,513.7h.8M235.7,524.7h.8M224.6,525.0h.8M231.8,523.8h.8M222.9,526.9h.8M227.8,529.1h.8M228.3,528.2h.8M229.2,520.2h.8M237.9,521.1h.8M230.9,528.1h.8M236.3,508.6h.8M231.6,510.6h.8M233.2,525.7h.8M235.9,521.9h.8M231.7,525.7h.8M226.9,535.8h.8M214.9,531.1h.8M218.1,528.6h.8M222.8,520.8h.8M237.0,515.0h.8M225.1,525.7h.8M237.7,521.3h.8M227.9,525.7h.8M231.3,521.6h.8M226.0,526.7h.8M221.6,533.6h.8M236.5,517.4h.8M221.7,516.8h.8M230.8,527.5h.8M220.0,533.2h.8M230.2,533.5h.8M237.7,525.4h.8M228.5,522.6h.8M228.1,533.0h.8M228.7,524.6h.8M222.2,528.8h.8M223.5,527.8h.8M238.4,514.4h.8M224.0,528.5h.8M229.0,519.3h.8M219.0,530.6h.8M234.3,521.7h.8M241.2,518.3h.8M230.0,515.2h.8M228.5,522.7h.8M227.2,529.1h.8M229.0,526.8h.8M228.0,526.8h.8M239.7,519.6h.8M237.9,518.7h.8M222.4,533.2h.8M225.5,519.7h.8M241.3,516.0h.8M225.1,518.1h.8M238.1,517.3h.8M225.2,529.8h.8M240.0,521.1h.8M239.9,522.5h.8M219.7,523.8h.8M238.1,525.5h.8M246.7,506.8h.8M229.2,520.1h.8M229.4,519.8h.8M231.9,521.4h.8M237.5,518.6h.8M248.2,517.7h.8M234.3,518.3h.8M233.0,517.2h.8M230.5,519.8h.8M236.3,516.7h.8M233.5,526.4h.8M232.1,521.4h.8M221.5,529.2h.8M238.6,517.2h.8M229.0,526.9h.8M246.3,514.2h.8M226.7,520.8h.8M226.9,516.4h.8M223.3,522.4h.8M237.0,509.3h.8M228.9,520.0h.8M221.9,530.3h.8M237.2,516.3h.8M227.7,524.4h.8M236.0,520.7h.8M226.5,521.5h.8M227.0,516.8h.8M231.1,528.4h.8M230.6,521.2h.8M219.2,523.0h.8M235.9,518.0h.8M218.7,522.4h.8M230.2,531.4h.8M224.2,513.0h.8M227.9,525.4h.8M219.4,528.5h.8M238.1,513.0h.8M215.7,528.5h.8M233.1,514.7h.8M230.4,523.2h.8M229.0,522.9h.8M223.7,539.9h.8M233.4,528.9h.8M227.5,519.5h.8M215.5,525.0h.8M227.0,519.7h.8M240.4,515.9h.8M235.4,529.2h.8M228.3,512.9h.8M232.9,512.6h.8M223.7,532.4h.8M226.9,514.6h.8M241.6,531.0h.8M214.2,527.2h.8M217.7,529.4h.8M224.4,523.5h.8M217.6,531.1h.8M232.8,533.1h.8M224.5,516.7h.8M218.8,528.3h.8M223.6,522.5h.8M239.2,517.1h.8M224.1,520.0h.8M224.9,529.9h.8M240.3,521.1h.8M234.1,521.3h.8M248.2,517.8h.8M236.5,514.5h.8M234.0,518.8h.8M223.7,521.4h.8M239.3,521.4h.8M235.8,521.9h.8M234.9,522.8h.8M234.9,515.8h.8M226.1,524.2h.8M233.0,522.9h.8M224.4,519.4h.8M226.5,517.7h.8M232.6,526.6h.8M223.7,535.9h.8M222.0,517.9h.8M215.2,520.3h.8M230.2,522.5h.8M232.2,522.1h.8M232.9,518.6h.8M222.0,529.4h.8M233.0,525.1h.8M232.4,518.9h.8M231.7,516.4h.8M225.4,520.6h.8M222.1,520.1h.8M226.0,527.4h.8M221.5,531.9h.8M235.0,519.8h.8M226.9,531.4h.8M225.1,525.5h.8M234.6,515.0h.8M233.9,516.9h.8M237.9,515.6h.8M229.1,525.9h.8M230.1,519.5h.8M231.7,512.7h.8M240.7,522.5h.8M228.2,521.5h.8M225.2,512.5h.8M228.4,529.5h.8M226.8,526.9h.8M238.7,524.1h.8M233.5,520.0h.8M239.2,517.9h.8M233.7,531.3h.8M230.3,523.7h.8M229.9,528.0h.8M224.7,528.3h.8M232.4,534.8h.8M235.3,519.8h.8M230.7,519.0h.8M234.3,525.3h.8M218.1,522.7h.8M229.7,519.6h.8M233.5,519.1h.8M230.5,512.3h.8M236.9,522.0h.8M234.6,525.7h.8M228.4,514.1h.8M229.7,521.6h.8M231.7,533.6h.8M225.1,516.6h.8M233.3,523.5h.8M220.9,528.9h.8M243.7,521.9h.8M213.4,527.6h.8M234.7,516.8h.8M232.7,531.3h.8M220.8,528.6h.8M220.1,514.2h.8M222.3,527.0h.8M231.2,520.3h.8M226.3,526.5h.8M217.4,524.1h.8M226.7,526.4h.8M244.6,521.6h.8M213.3,526.7h.8M231.5,526.2h.8M237.6,525.0h.8M215.7,527.6h.8M223.7,524.1h.8M242.5,520.6h.8M235.4,517.8h.8M229.7,529.0h.8M224.9,532.2h.8M222.6,528.1h.8M227.7,527.0h.8M242.3,509.0h.8M234.2,525.2h.8M226.7,519.8h.8M223.0,529.6h.8M231.7,527.0h.8M221.3,515.6h.8M245.2,517.6h.8M240.8,520.1h.8M239.5,519.0h.8M236.3,528.6h.8M238.8,518.0h.8M237.8,516.2h.8M222.1,530.5h.8M229.5,515.1h.8M227.0,526.5h.8M229.1,517.0h.8M235.7,517.8h.8M230.0,528.4h.8M241.9,514.6h.8M230.9,530.2h.8M230.5,520.7h.8M227.3,518.3h.8M236.0,512.9h.8M229.0,525.0h.8M225.9,528.3h.8M236.8,526.4h.8M233.1,516.3h.8M238.9,521.8h.8M229.7,524.3h.8M237.2,521.3h.8M234.1,520.8h.8M237.3,515.9h.8M231.7,523.1h.8M230.9,526.8h.8M233.8,519.1h.8M236.0,515.9h.8M230.3,516.0h.8M245.7,509.4h.8M224.1,523.0h.8M230.4,525.6h.8M234.8,527.2h.8M224.2,529.7h.8M239.8,514.0h.8M239.4,513.2h.8M231.0,523.7h.8M227.7,521.3h.8M227.7,522.3h.8M221.3,525.0h.8M219.1,532.1h.8M227.0,520.9h.8M223.1,527.3h.8M227.6,526.8h.8M235.2,526.8h.8M238.0,519.9h.8M222.5,527.5h.8M221.6,518.8h.8M225.8,524.6h.8M242.4,526.3h.8M222.9,528.5h.8M235.5,526.8h.8M225.8,530.2h.8M214.0,528.8h.8M227.4,512.5h.8M231.6,520.0h.8M224.7,523.2h.8M228.1,529.4h.8M220.7,527.6h.8M227.6,525.2h.8M232.0,521.3h.8M247.3,506.6h.8M226.3,521.8h.8M226.2,520.4h.8M225.3,533.8h.8M229.4,521.9h.8M235.8,517.2h.8M230.4,527.6h.8M234.7,525.3h.8M234.8,507.0h.8M232.8,514.5h.8M224.4,529.0h.8M234.8,523.1h.8M242.9,517.4h.8M234.6,521.9h.8M220.8,532.9h.8M242.4,519.0h.8M230.4,527.7h.8M212.8,538.5h.8M235.6,519.1h.8M223.9,523.7h.8M228.1,532.8h.8M222.5,522.1h.8M230.2,527.6h.8M218.4,531.9h.8M232.4,528.2h.8M230.0,520.9h.8M236.0,528.1h.8M247.9,517.1h.8M222.6,530.5h.8M237.7,521.6h.8M219.2,531.4h.8M226.1,523.4h.8M235.9,521.1h.8M226.6,523.5h.8M235.7,523.3h.8M234.3,527.4h.8M232.7,524.7h.8M226.9,517.1h.8M228.6,520.6h.8M223.8,522.8h.8M225.7,526.0h.8M231.4,512.8h.8M224.4,527.5h.8M233.1,527.2h.8M230.3,528.1h.8M216.7,524.4h.8M231.0,520.5h.8M229.1,518.0h.8M237.7,521.9h.8M233.3,516.8h.8M230.2,528.9h.8M213.7,528.1h.8M242.8,506.3h.8M242.0,518.9h.8M221.2,528.8h.8M231.7,517.8h.8M235.6,519.4h.8M244.6,510.9h.8M226.9,525.4h.8M227.8,519.4h.8M234.2,515.7h.8M230.3,524.4h.8M231.7,526.6h.8M230.8,530.9h.8M233.1,514.3h.8M221.5,530.6h.8M239.0,518.9h.8M220.1,527.3h.8M233.5,531.3h.8M228.0,528.8h.8M238.3,522.0h.8M238.8,517.4h.8M240.6,528.9h.8M226.0,526.5h.8M227.1,522.0h.8M222.3,526.7h.8M239.5,513.7h.8M237.5,505.8h.8M219.7,524.4h.8M221.1,518.9h.8M236.1,510.8h.8M241.8,509.2h.8M239.7,524.9h.8M221.8,516.7h.8M225.8,532.4h.8M237.1,518.4h.8M232.7,525.0h.8M238.9,520.5h.8M232.3,522.7h.8M218.4,523.8h.8M229.9,524.2h.8M233.0,517.1h.8M222.2,535.2h.8M239.0,523.5h.8M226.3,530.5h.8M226.3,526.2h.8M237.0,515.9h.8M235.8,524.6h.8M214.5,525.3h.8M230.2,525.0h.8M217.9,532.4h.8M246.6,514.7h.8M222.4,527.7h.8M219.3,523.2h.8M216.7,520.9h.8M224.3,523.2h.8M225.6,528.6h.8M233.4,525.1h.8M222.5,536.6h.8M236.6,513.1h.8M227.1,520.5h.8M228.3,526.5h.8M231.3,514.5h.8M229.0,522.5h.8M224.3,516.7h.8M218.0,528.9h.8M230.8,515.1h.8M229.4,529.4h.8M231.7,519.9h.8M231.3,517.6h.8M227.7,521.6h.8M208.8,541.2h.8M221.9,524.6h.8M229.7,527.7h.8M217.1,520.6h.8M236.2,522.4h.8M227.6,527.4h.8M241.9,513.4h.8M228.8,523.4h.8M236.8,513.1h.8M233.2,517.6h.8M229.4,528.1h.8M225.4,529.0h.8M243.5,513.6h.8M238.0,520.2h.8M237.2,523.2h.8M221.4,530.5h.8M232.3,516.1h.8M232.2,518.8h.8M229.3,525.5h.8M231.8,512.7h.8M224.4,524.0h.8M229.7,524.3h.8M225.7,522.7h.8M233.0,525.2h.8M229.8,518.5h.8M237.4,515.3h.8M235.0,522.3h.8M238.3,517.4h.8M226.8,523.6h.8M229.8,517.8h.8M234.1,520.5h.8M229.9,524.9h.8M230.1,530.0h.8M243.4,529.0h.8M220.2,523.7h.8M221.9,523.6h.8M225.4,522.3h.8M228.9,526.6h.8M220.7,526.3h.8M231.0,514.3h.8M232.8,516.7h.8M231.9,519.2h.8M220.7,529.3h.8M235.8,519.8h.8M224.2,532.0h.8M216.3,539.4h.8M218.8,521.3h.8M238.3,516.8h.8M227.0,523.0h.8M224.5,524.4h.8M227.5,529.7h.8M237.4,525.1h.8M233.0,530.9h.8M236.1,518.8h.8M230.4,524.8h.8M234.0,521.1h.8M234.6,528.1h.8M226.5,519.2h.8M225.9,528.0h.8M242.6,527.7h.8M236.6,523.1h.8M239.3,518.2h.8M227.4,524.5h.8M222.4,523.0h.8M224.5,519.6h.8M228.8,530.7h.8M216.2,531.6h.8M241.4,511.2h.8M225.3,521.9h.8M244.4,519.0h.8M244.7,515.0h.8M234.6,523.8h.8M227.1,521.6h.8M226.2,529.2h.8M234.1,520.4h.8M234.2,527.7h.8M226.9,522.5h.8M235.1,519.2h.8M235.3,523.6h.8M236.8,521.9h.8M235.8,520.0h.8M230.6,519.4h.8M222.0,524.8h.8M228.3,520.6h.8M235.9,517.9h.8M234.2,518.7h.8M235.2,530.1h.8M222.1,531.1h.8M232.8,513.9h.8M224.2,516.4h.8M235.4,519.7h.8M238.7,512.5h.8M245.1,519.8h.8M227.7,518.7h.8M226.6,528.0h.8M230.6,518.4h.8M223.5,530.3h.8M221.8,527.4h.8M239.1,523.2h.8M233.3,534.3h.8M241.1,530.3h.8M227.7,524.9h.8M225.9,528.1h.8M235.2,526.5h.8M219.4,526.9h.8M225.5,524.4h.8M233.3,516.1h.8M241.6,516.4h.8M242.5,513.1h.8M228.9,515.4h.8M233.9,523.2h.8M232.2,513.2h.8M224.1,524.7h.8M214.6,524.4h.8M236.0,521.9h.8M224.4,524.5h.8M228.1,520.3h.8M234.5,522.8h.8M237.7,518.9h.8M212.1,531.8h.8M215.7,533.1h.8M237.2,520.8h.8M234.7,517.6h.8M233.2,521.0h.8M222.3,520.3h.8M218.2,522.3h.8M234.6,511.5h.8M228.3,519.3h.8M221.3,530.3h.8M227.6,524.9h.8M228.4,528.3h.8M230.3,524.5h.8M224.8,524.0h.8M224.1,523.0h.8M220.2,520.0h.8M223.6,525.5h.8M225.8,521.4h.8M224.0,513.1h.8M231.7,515.4h.8M235.9,515.4h.8M229.1,522.5h.8M227.3,527.5h.8M232.6,521.6h.8M225.7,523.5h.8M219.8,534.5h.8M236.4,520.5h.8M218.7,525.4h.8M229.2,524.2h.8M227.2,524.1h.8M234.4,527.1h.8M232.0,522.8h.8M232.5,520.0h.8M228.3,514.5h.8M230.4,521.8h.8M245.6,520.6h.8M222.4,528.8h.8M235.8,520.7h.8M238.5,517.9h.8M231.7,530.7h.8M229.8,518.5h.8M236.0,518.0h.8M235.8,521.9h.8M231.5,515.9h.8M234.3,518.6h.8M229.9,518.6h.8M220.8,518.3h.8M214.8,531.7h.8M221.9,523.6h.8M229.7,518.0h.8M230.2,526.4h.8M233.3,522.4h.8M219.2,527.0h.8M248.9,519.0h.8M226.5,525.0h.8M235.4,518.9h.8M233.9,520.2h.8M230.4,517.2h.8M234.8,520.1h.8M224.9,525.7h.8M221.9,526.5h.8M236.9,521.8h.8M232.9,519.0h.8M211.2,525.1h.8M226.5,522.4h.8M226.9,524.0h.8M218.0,537.7h.8M234.1,522.2h.8M229.2,520.9h.8M233.5,516.9h.8M213.8,524.2h.8M229.3,530.2h.8M235.4,529.4h.8M221.7,522.4h.8M229.4,518.3h.8M224.6,523.9h.8M222.0,530.1h.8M243.3,513.3h.8M223.1,517.8h.8M219.5,532.1h.8M235.8,526.6h.8M231.2,518.9h.8M223.7,526.4h.8M232.9,516.2h.8M233.0,526.4h.8M246.7,526.1h.8M234.2,524.2h.8M230.7,516.2h.8M236.2,522.2h.8M236.4,517.8h.8M240.6,509.5h.8M222.1,526.2h.8M229.4,522.6h.8M239.3,524.0h.8M231.5,514.6h.8M233.2,516.7h.8M234.9,533.0h.8M227.1,523.8h.8M226.2,518.8h.8M229.7,520.1h.8M222.3,511.5h.8M222.8,533.9h.8M220.4,520.9h.8M227.8,526.6h.8M223.8,517.3h.8M231.7,522.7h.8M224.6,532.0h.8M243.5,522.4h.8M230.7,520.8h.8M229.5,525.7h.8M229.3,528.3h.8M247.0,519.2h.8M233.1,524.8h.8M237.1,520.5h.8M234.3,524.4h.8M233.5,515.2h.8M225.9,526.7h.8M217.2,528.0h.8M226.3,522.2h.8M228.5,521.1h.8M224.4,526.7h.8M240.3,522.3h.8M234.5,526.7h.8M235.7,516.4h.8M226.4,520.0h.8M229.2,517.9h.8M239.0,527.4h.8M224.6,524.9h.8M222.8,523.4h.8M227.6,521.2h.8M232.3,529.3h.8M225.4,525.0h.8M224.5,526.7h.8M235.5,517.1h.8M229.4,515.9h.8M214.6,528.9h.8M223.7,521.1h.8M225.0,527.1h.8M220.7,525.7h.8M223.9,515.2h.8M230.5,522.3h.8M241.0,515.9h.8M243.7,513.7h.8M218.6,527.4h.8M234.9,520.1h.8M224.5,523.9h.8M220.0,520.8h.8M229.8,528.8h.8M231.2,515.4h.8M212.6,526.9h.8M224.3,519.2h.8M227.7,531.0h.8M225.1,529.1h.8M241.4,521.0h.8M236.5,522.1h.8M231.9,522.4h.8M225.4,517.0h.8M238.3,520.3h.8M233.5,514.6h.8M231.2,523.5h.8M225.2,519.4h.8M218.6,525.6h.8M234.0,538.0h.8M230.9,523.6h.8M229.9,513.7h.8M233.3,515.9h.8M226.1,517.8h.8M237.0,522.5h.8M227.7,527.3h.8M226.6,530.3h.8M237.0,523.2h.8M235.2,529.6h.8M230.6,520.6h.8M235.3,513.3h.8M238.2,520.7h.8M225.1,523.4h.8M216.8,533.0h.8M224.8,520.6h.8M239.3,518.6h.8M241.4,518.6h.8M231.5,525.8h.8M236.4,516.9h.8M238.4,520.0h.8M230.2,522.8h.8M231.4,531.4h.8M218.6,525.4h.8M231.7,525.0h.8M236.7,520.0h.8M234.7,513.3h.8M224.7,523.0h.8M221.0,523.6h.8M224.6,527.5h.8M234.2,528.1h.8M224.4,524.4h.8M244.9,520.5h.8M222.9,530.9h.8M245.0,513.9h.8M235.7,524.9h.8M241.3,511.3h.8M234.2,526.6h.8M237.2,510.6h.8M224.3,515.1h.8M249.6,521.3h.8M225.6,522.7h.8M239.3,514.3h.8M234.0,523.4h.8M232.6,531.4h.8M232.9,516.4h.8M232.2,518.5h.8M246.7,505.1h.8M233.4,523.5h.8M235.4,519.9h.8M231.1,527.0h.8M224.8,512.6h.8M230.2,524.3h.8M212.0,528.7h.8M226.5,524.5h.8M221.3,523.0h.8M237.3,512.5h.8M213.8,529.7h.8M228.0,520.3h.8M228.5,523.6h.8M237.3,515.7h.8M230.9,522.8h.8M242.2,517.5h.8M234.3,512.9h.8M241.6,521.5h.8M228.4,523.6h.8M219.0,521.4h.8M230.4,529.3h.8M242.7,517.5h.8M233.4,523.1h.8M235.3,504.7h.8M235.2,515.0h.8M225.1,529.5h.8M227.8,525.2h.8M243.4,510.8h.8M249.5,518.6h.8M234.6,528.4h.8M229.3,517.7h.8M228.0,527.0h.8M231.1,520.2h.8M242.6,522.8h.8M224.7,515.8h.8M227.5,526.7h.8M216.2,526.6h.8M239.8,521.5h.8M230.9,520.1h.8M222.6,524.6h.8M234.6,521.1h.8M237.5,518.6h.8M226.6,520.4h.8M220.1,522.4h.8M223.5,528.4h.8M217.6,535.8h.8M222.8,525.4h.8M233.5,520.1h.8M232.5,523.2h.8M230.9,525.2h.8M230.5,523.0h.8M230.4,521.1h.8M229.0,526.8h.8M240.1,518.1h.8M226.8,519.8h.8M234.1,514.2h.8M236.9,518.6h.8M229.9,521.9h.8M240.7,513.4h.8M230.8,517.8h.8M228.0,525.4h.8M222.9,512.5h.8M226.4,523.8h.8M219.9,529.0h.8M228.1,514.5h.8M225.2,528.1h.8M226.5,521.7h.8M226.8,524.5h.8M220.2,524.5h.8M230.3,522.7h.8M226.7,527.6h.8M242.4,520.5h.8M224.6,530.2h.8M224.6,527.3h.8M227.1,524.2h.8M219.1,528.9h.8M237.0,520.6h.8M244.7,526.5h.8M226.5,522.5h.8M249.6,516.9h.8M227.2,529.3h.8M228.0,516.2h.8M238.8,518.0h.8M221.8,523.6h.8M240.7,511.8h.8M218.4,531.7h.8M229.2,523.2h.8M238.5,516.1h.8M241.8,509.7h.8M231.5,532.8h.8M234.7,532.9h.8M240.5,509.4h.8M225.4,532.1h.8M220.8,535.8h.8M225.4,526.1h.8M217.8,525.2h.8M233.7,523.2h.8M226.7,516.0h.8M224.2,521.3h.8M223.3,526.0h.8M220.8,525.5h.8M226.3,518.9h.8M225.4,530.4h.8M248.6,516.6h.8M226.8,521.5h.8M238.3,521.2h.8M237.5,519.9h.8M234.3,516.6h.8M226.8,536.8h.8M223.6,514.8h.8M223.5,515.8h.8M220.4,520.3h.8M227.0,521.6h.8M231.0,515.2h.8M240.3,518.6h.8M242.8,528.5h.8M225.3,522.5h.8M233.8,522.8h.8M223.8,522.9h.8M227.2,526.6h.8M221.9,515.8h.8M216.0,522.5h.8M239.7,519.3h.8M220.2,515.9h.8M228.2,519.6h.8M218.8,529.9h.8M234.4,523.2h.8M236.2,516.3h.8M230.9,524.7h.8M220.9,521.6h.8M228.7,519.3h.8M227.1,519.4h.8M226.6,523.1h.8M242.4,525.0h.8M230.6,522.0h.8M238.1,515.2h.8M237.9,518.0h.8M214.8,531.6h.8M220.1,533.1h.8M224.2,520.7h.8M227.5,524.8h.8M232.1,519.9h.8M236.3,531.2h.8M235.6,517.6h.8M229.9,514.0h.8M227.3,521.3h.8M232.7,519.1h.8M226.2,527.7h.8M231.0,514.6h.8M221.0,520.8h.8M239.0,526.4h.8M223.6,532.7h.8M228.4,523.5h.8M232.3,518.2h.8M242.1,525.2h.8M241.5,519.4h.8M238.0,522.1h.8M226.0,528.4h.8M221.4,526.4h.8M235.8,517.4h.8M222.0,521.1h.8M224.8,520.4h.8M230.3,522.7h.8M242.2,512.0h.8M226.4,516.2h.8M228.9,529.4h.8M241.9,525.2h.8M228.2,525.4h.8M237.2,528.6h.8M244.3,514.8h.8M220.3,522.4h.8M228.1,527.8h.8M226.7,526.2h.8M223.7,517.2h.8M224.4,520.6h.8M220.6,528.6h.8M222.7,528.1h.8M226.1,522.9h.8M232.8,525.5h.8M223.4,520.2h.8M223.2,526.7h.8M231.4,520.2h.8M233.4,522.3h.8M240.0,521.9h.8M235.0,523.6h.8M242.7,514.5h.8M222.7,526.4h.8M234.5,519.4h.8M231.6,521.7h.8M230.8,530.9h.8M218.5,537.1h.8M222.8,529.7h.8M235.6,518.4h.8M245.6,517.3h.8M226.1,526.5h.8M212.2,527.8h.8M232.4,521.4h.8M236.2,520.4h.8M221.9,526.1h.8M233.4,519.0h.8M224.2,525.2h.8M228.1,524.1h.8M215.1,527.0h.8M217.2,526.6h.8M241.0,523.4h.8M223.8,531.7h.8M226.5,532.1h.8M244.8,516.4h.8M241.2,515.7h.8M232.6,523.1h.8M231.6,516.3h.8M235.8,516.0h.8M241.8,524.5h.8M233.6,523.5h.8M222.6,529.4h.8M231.8,521.6h.8M231.6,522.4h.8M231.4,524.4h.8M224.3,524.1h.8M229.3,522.7h.8M226.8,515.0h.8M237.7,523.3h.8M229.5,530.9h.8M222.1,522.8h.8M234.7,524.3h.8M228.9,517.1h.8M232.0,510.8h.8M247.9,514.4h.8M241.0,513.7h.8M233.6,515.7h.8M227.8,523.7h.8M229.9,522.0h.8M220.5,517.1h.8M226.7,524.4h.8M228.1,524.2h.8M232.9,518.3h.8M241.7,516.5h.8M219.7,526.2h.8M232.7,521.6h.8M227.2,523.0h.8M228.8,523.2h.8M229.0,522.5h.8M238.9,508.5h.8M236.6,520.3h.8M236.6,527.5h.8M226.3,518.2h.8M225.1,529.7h.8M230.2,527.4h.8M212.9,511.8h.8M228.8,524.2h.8M238.5,517.9h.8M240.3,518.7h.8M226.9,521.9h.8M234.7,525.1h.8M234.4,517.4h.8M228.8,522.7h.8M231.3,526.1h.8M225.1,526.9h.8M228.6,531.4h.8M230.4,524.9h.8M227.3,524.3h.8M236.3,514.0h.8M221.8,529.3h.8M239.4,521.9h.8M214.1,521.4h.8M239.8,516.9h.8M228.7,519.8h.8M209.0,531.1h.8M239.3,519.6h.8M232.7,515.3h.8M232.1,514.3h.8M236.6,524.9h.8M223.4,522.5h.8M230.1,528.7h.8M234.8,516.9h.8M225.4,528.7h.8M246.3,522.8h.8M228.1,526.7h.8M221.5,515.3h.8M247.1,519.5h.8M219.7,525.6h.8M227.1,517.8h.8M226.7,529.7h.8M227.2,520.3h.8M228.5,521.7h.8M225.5,525.2h.8M231.3,532.3h.8M225.7,528.3h.8M222.5,526.5h.8M243.4,529.7h.8M228.2,525.5h.8M241.4,510.6h.8M224.4,532.5h.8M227.5,517.1h.8M241.7,528.4h.8M221.1,530.9h.8M228.1,528.7h.8M237.4,514.5h.8M222.0,532.4h.8M234.1,525.9h.8M230.5,514.6h.8M218.3,526.1h.8M240.0,523.6h.8M227.7,521.9h.8M226.5,519.6h.8M223.4,521.7h.8M228.9,520.9h.8M225.7,521.3h.8M229.5,526.5h.8M232.3,514.7h.8M224.2,526.7h.8M227.7,525.9h.8M230.2,528.7h.8M234.7,529.1h.8M235.0,521.2h.8M231.2,524.8h.8M221.7,525.4h.8M218.4,520.9h.8M237.2,521.8h.8M230.3,528.0h.8M224.8,523.7h.8M224.7,519.4h.8M229.6,528.4h.8M238.1,515.7h.8M227.0,519.9h.8M226.5,521.1h.8M232.2,518.7h.8M240.1,516.0h.8M217.9,518.9h.8M230.4,513.8h.8M229.7,516.6h.8M227.1,519.3h.8M229.3,517.1h.8M255.4,511.1h.8M229.3,524.4h.8M220.3,528.6h.8M226.7,526.6h.8M227.4,524.8h.8M228.5,529.4h.8M226.7,524.5h.8M228.5,515.4h.8M231.9,529.0h.8M240.7,512.1h.8M221.6,522.9h.8M237.1,516.8h.8M228.1,524.7h.8M239.4,520.2h.8M218.4,520.0h.8M240.7,511.5h.8M230.1,523.8h.8M237.3,526.9h.8M232.2,531.9h.8M228.9,522.0h.8M226.0,521.7h.8M231.5,525.5h.8M224.3,521.0h.8M234.8,523.1h.8M241.9,522.2h.8M219.0,528.5h.8M230.1,522.0h.8M228.2,529.0h.8M241.6,512.7h.8M227.7,519.3h.8M241.2,514.1h.8M225.6,525.9h.8M235.7,519.8h.8M250.0,522.9h.8M231.2,525.9h.8M227.3,515.7h.8M242.7,534.6h.8M231.5,514.5h.8M228.0,523.2h.8M235.4,513.3h.8M233.6,527.7h.8M228.9,511.6h.8M220.4,526.0h.8M226.1,524.1h.8M234.9,524.2h.8M233.0,524.4h.8M236.6,520.7h.8M226.7,522.5h.8M221.9,519.7h.8M234.6,519.1h.8M227.0,525.9h.8M233.6,518.7h.8M232.6,527.0h.8M213.5,529.1h.8M224.5,519.2h.8M237.5,526.3h.8M226.4,523.8h.8M247.0,515.4h.8M231.2,524.3h.8M236.9,524.1h.8M211.5,523.7h.8M244.5,510.2h.8M244.7,506.0h.8M224.8,525.8h.8M237.6,525.1h.8M234.4,517.1h.8M219.3,528.8h.8M229.0,525.8h.8M223.9,519.0h.8M229.4,531.8h.8M221.4,522.3h.8M238.5,519.7h.8M222.9,531.5h.8M222.2,522.4h.8M240.4,520.4h.8M233.7,519.3h.8M230.1,521.5h.8M220.0,524.4h.8M215.8,518.8h.8M227.8,523.7h.8M243.1,511.6h.8M218.7,523.5h.8M234.4,520.8h.8M236.7,518.5h.8M219.7,521.6h.8M235.4,522.0h.8M211.6,526.9h.8M247.1,515.7h.8M233.7,525.5h.8M217.6,535.1h.8M223.3,529.0h.8M234.4,516.6h.8M227.8,517.4h.8M231.2,515.4h.8M232.8,518.8h.8M229.6,523.1h.8M239.4,518.5h.8M227.0,515.9h.8M236.1,519.3h.8M232.3,525.0h.8M234.3,516.8h.8M225.8,532.1h.8M216.9,521.1h.8M223.9,525.9h.8M227.4,520.2h.8M236.8,521.7h.8M237.8,525.1h.8M223.6,521.7h.8M218.8,527.5h.8M232.6,520.8h.8M232.4,518.1h.8M224.0,521.4h.8M227.3,527.6h.8M240.8,515.0h.8M238.7,518.7h.8M218.7,527.9h.8M228.2,529.4h.8M241.5,524.7h.8M227.2,522.7h.8M232.3,527.9h.8M222.8,532.1h.8M221.4,529.3h.8M230.3,532.8h.8M222.9,529.2h.8M210.3,523.0h.8M227.2,529.6h.8M235.2,529.3h.8M233.8,528.7h.8M232.4,522.1h.8M228.8,523.7h.8M230.2,525.4h.8M234.6,522.5h.8M238.7,515.1h.8M221.8,527.6h.8M229.2,522.0h.8M236.1,527.6h.8M230.7,535.6h.8M231.0,519.2h.8M241.9,519.9h.8M227.9,515.9h.8M224.9,518.1h.8M217.3,529.6h.8M240.7,526.9h.8M216.5,535.4h.8M232.8,517.9h.8M223.8,532.2h.8M246.8,520.2h.8M239.0,512.1h.8M236.3,513.1h.8M234.4,519.2h.8M230.8,516.4h.8M228.4,521.6h.8M226.6,531.9h.8M227.7,529.2h.8M227.4,521.1h.8M225.0,522.3h.8M228.7,529.9h.8M224.2,524.3h.8M230.0,521.0h.8M242.4,512.2h.8M226.2,520.6h.8M202.4,529.5h.8M221.3,532.1h.8M229.8,520.6h.8M216.0,530.7h.8M213.1,526.2h.8M226.9,522.2h.8M215.6,522.7h.8M234.3,522.5h.8M220.1,520.3h.8M230.8,518.9h.8M233.8,516.5h.8M222.3,528.4h.8M229.4,533.4h.8M225.0,528.9h.8M231.5,517.3h.8M231.7,522.9h.8M217.1,530.1h.8M226.1,522.5h.8M233.1,527.4h.8M215.0,518.4h.8M224.1,528.3h.8M228.1,510.9h.8M228.0,530.1h.8M229.8,523.8h.8M216.1,522.2h.8M226.7,524.6h.8M225.2,523.0h.8M222.4,532.0h.8M231.2,516.9h.8M231.9,522.7h.8M236.4,523.2h.8M222.8,527.5h.8M221.9,535.3h.8M231.8,524.1h.8M242.5,514.2h.8M229.0,528.5h.8M233.1,521.4h.8M228.8,530.4h.8M225.8,532.9h.8M223.8,528.6h.8M232.4,527.3h.8M223.8,522.8h.8M236.8,516.8h.8M225.8,523.1h.8M235.1,525.1h.8M232.5,514.8h.8M227.7,521.7h.8M221.5,531.5h.8M230.7,527.1h.8M232.8,519.9h.8M232.2,518.5h.8M220.8,527.0h.8M229.5,520.9h.8M232.3,521.9h.8M225.4,518.8h.8M225.1,525.7h.8M226.1,531.4h.8M232.8,514.8h.8M229.9,522.6h.8M225.2,520.7h.8M226.2,520.7h.8M220.3,522.4h.8M228.9,523.9h.8M228.5,527.7h.8M237.4,524.0h.8M242.5,522.5h.8M240.7,516.4h.8M224.5,520.3h.8M230.1,525.8h.8M233.9,526.8h.8M233.7,527.5h.8M228.8,517.4h.8M225.5,525.7h.8M226.1,524.4h.8M227.7,525.7h.8M225.6,525.9h.8M227.1,513.6h.8M237.8,512.2h.8M234.4,520.0h.8M230.9,519.0h.8M229.2,517.3h.8M232.4,528.7h.8M222.9,523.9h.8M235.5,517.5h.8M234.4,524.4h.8M228.2,522.8h.8M238.5,520.1h.8M221.7,525.2h.8M229.9,522.8h.8M225.3,518.5h.8M220.0,529.8h.8M230.9,522.7h.8M229.0,516.5h.8M229.8,526.5h.8M232.4,523.4h.8M216.7,524.4h.8M244.3,524.1h.8M221.6,527.2h.8M227.8,521.9h.8M232.2,528.3h.8M239.9,525.9h.8M231.2,526.1h.8M229.2,525.1h.8M238.5,516.1h.8M217.3,531.9h.8M233.3,517.9h.8M227.1,525.7h.8M229.1,519.8h.8M232.7,516.0h.8M219.7,528.3h.8M220.7,534.1h.8M235.3,526.4h.8M236.8,523.1h.8M221.6,524.4h.8M212.5,528.6h.8M236.6,518.7h.8M234.4,519.3h.8M224.5,524.2h.8M222.0,519.0h.8M218.3,523.0h.8M239.1,521.3h.8M237.2,512.9h.8M222.7,525.0h.8M231.6,523.0h.8M229.5,528.3h.8M231.7,519.5h.8M226.3,520.2h.8M237.5,525.0h.8M225.7,522.2h.8M226.5,527.5h.8M228.2,526.4h.8M231.1,520.3h.8M224.0,516.8h.8M231.6,517.1h.8M238.6,508.9h.8M228.6,526.9h.8M234.6,518.1h.8M226.2,528.2h.8M224.7,518.0h.8M224.4,527.0h.8M218.3,521.1h.8M236.0,514.1h.8M229.0,519.2h.8M228.8,527.6h.8M236.3,520.2h.8M237.7,514.6h.8M229.1,521.1h.8M217.2,530.4h.8M243.3,517.6h.8M229.0,526.5h.8M229.6,512.2h.8M233.3,520.2h.8M244.6,514.2h.8M238.5,516.9h.8M229.3,524.4h.8M203.1,531.6h.8M244.5,512.4h.8M228.9,536.9h.8M230.4,524.8h.8M242.3,529.5h.8M219.7,532.3h.8M218.9,509.2h.8M216.6,539.7h.8M219.6,533.4h.8M209.4,540.2h.8M235.9,513.1h.8M221.4,534.0h.8M241.1,519.3h.8M228.5,521.9h.8M226.6,532.0h.8M223.4,519.7h.8M249.5,514.6h.8M226.7,523.1h.8M233.5,529.2h.8M248.9,510.7h.8M230.6,519.2h.8M209.1,521.4h.8M209.0,541.4h.8M218.2,518.1h.8M231.5,521.3h.8M242.2,509.5h.8M242.9,521.9h.8M228.2,525.8h.8M223.1,515.8h.8M209.7,540.2h.8M223.8,528.9h.8M230.9,527.2h.8M242.9,506.3h.8M234.5,508.2h.8M224.1,511.6h.8M219.0,523.5h.8M212.7,533.6h.8M231.6,535.8h.8M234.0,512.2h.8M245.4,504.3h.8M212.4,540.4h.8M231.1,522.5h.8M234.9,510.0h.8M217.1,530.9h.8M245.1,530.3h.8M229.5,528.3h.8M217.0,521.1h.8M227.3,522.9h.8M222.4,535.5h.8M213.6,524.7h.8M219.4,521.8h.8M236.2,519.6h.8M230.3,505.9h.8M228.0,526.1h.8M249.7,517.2h.8M216.0,523.2h.8M238.0,520.0h.8M228.1,522.6h.8M228.4,523.6h.8M219.5,525.5h.8M241.1,509.3h.8M222.5,525.8h.8M226.4,526.4h.8M216.4,521.1h.8M230.1,515.3h.8M234.3,508.4h.8M221.5,536.9h.8M261.6,515.3h.8M219.1,534.6h.8M225.8,529.4h.8M218.5,533.5h.8M242.5,511.5h.8M231.3,516.4h.8M227.4,518.7h.8M237.5,506.4h.8M242.4,511.4h.8M234.7,536.2h.8M219.5,534.5h.8M238.6,511.1h.8M235.8,520.2h.8M207.6,537.9h.8M226.3,538.3h.8M234.0,525.1h.8M232.7,523.5h.8M232.4,527.9h.8M225.7,515.6h.8M229.1,519.1h.8M214.8,530.7h.8M233.7,534.1h.8M223.4,531.9h.8M237.7,512.3h.8M246.5,515.2h.8M233.7,522.3h.8M219.3,525.1h.8M240.8,517.3h.8M233.9,526.5h.8M217.2,526.5h.8M234.3,501.5h.8M230.7,520.6h.8M239.9,520.4h.8M229.9,535.5h.8M238.3,518.0h.8M224.0,525.9h.8M236.3,522.4h.8M253.6,509.1h.8M231.8,524.2h.8M239.3,517.2h.8M235.3,517.3h.8M234.1,528.2h.8M248.2,512.3h.8M211.1,536.3h.8M228.8,518.1h.8M232.7,528.4h.8M222.7,514.3h.8M235.1,529.9h.8M246.1,507.0h.8M227.5,529.7h.8M249.0,506.2h.8M237.8,516.5h.8M235.9,516.0h.8M239.7,514.6h.8M225.7,531.4h.8M237.2,496.9h.8M232.3,507.0h.8M214.5,536.9h.8M248.1,504.6h.8M233.9,510.0h.8M235.2,508.6h.8M213.4,534.2h.8M242.3,506.0h.8M226.3,524.6h.8M223.0,545.6h.8M251.8,522.1h.8M268.9,521.9h.8M234.9,529.6h.8M226.2,521.5h.8M233.8,517.6h.8M216.6,547.0h.8M243.1,519.4h.8M227.8,530.5h.8M248.9,515.7h.8M230.4,513.5h.8M212.0,537.9h.8M222.9,523.9h.8M232.4,521.3h.8M221.9,534.0h.8M224.6,524.3h.8M239.2,520.2h.8M230.4,514.8h.8M249.0,528.4h.8M243.2,506.3h.8M235.2,516.6h.8M243.8,521.6h.8M245.6,511.7h.8M244.9,515.6h.8M225.1,518.2h.8M233.8,529.2h.8M226.1,516.4h.8M239.6,526.8h.8M216.0,515.9h.8M228.8,527.6h.8M244.2,517.9h.8M248.5,509.2h.8M247.3,517.1h.8M227.4,534.3h.8M233.0,517.4h.8M214.8,532.8h.8M230.0,508.9h.8M235.6,519.8h.8M227.6,522.2h.8M239.3,512.4h.8M230.8,523.9h.8M232.0,522.6h.8M224.9,527.0h.8M241.7,518.3h.8M250.3,514.3h.8M223.4,534.4h.8M224.1,530.2h.8M231.9,527.3h.8M239.8,530.7h.8M278.9,499.5h.8M221.9,513.8h.8M219.9,527.2h.8M241.1,524.0h.8M228.6,521.8h.8M222.1,528.4h.8M226.1,517.1h.8M243.6,532.0h.8M228.0,521.9h.8M236.1,526.0h.8M238.5,523.2h.8M217.0,538.5h.8M208.1,539.7h.8M232.4,539.1h.8M234.8,510.5h.8M232.2,522.0h.8M246.0,526.3h.8M226.7,520.9h.8M225.3,532.1h.8M228.4,528.5h.8M228.2,521.4h.8M214.5,529.1h.8M222.2,521.9h.8M214.0,522.6h.8M238.4,515.8h.8M235.9,513.2h.8M230.2,520.7h.8M243.5,524.4h.8M223.4,535.9h.8M223.9,523.3h.8M243.3,522.2h.8M240.4,516.0h.8M244.8,511.0h.8M232.1,522.8h.8M229.6,527.3h.8M214.9,518.4h.8M237.9,520.6h.8M234.8,521.0h.8M215.1,538.1h.8M249.1,521.8h.8M221.7,511.8h.8M233.9,527.9h.8M241.4,513.5h.8M227.0,530.5h.8M242.2,520.0h.8M225.7,521.3h.8M242.7,513.8h.8M200.3,542.3h.8M228.7,528.4h.8M208.8,542.6h.8M235.1,523.6h.8M239.2,522.1h.8M236.5,513.3h.8M216.4,528.3h.8M250.9,512.6h.8M230.0,524.6h.8M235.2,516.9h.8M229.3,521.5h.8M215.4,544.7h.8M241.9,518.3h.8M239.9,511.5h.8M224.2,523.2h.8M243.5,517.1h.8M228.9,519.8h.8M212.4,531.6h.8M231.0,528.4h.8M251.4,513.3h.8M232.4,527.7h.8M231.6,517.4h.8M249.0,516.2h.8M211.1,533.4h.8M226.4,526.5h.8M241.0,516.2h.8M235.3,532.8h.8M233.4,513.0h.8M236.9,529.0h.8M249.6,517.6h.8M240.8,520.1h.8M225.3,527.4h.8M229.8,507.6h.8M211.8,532.9h.8M247.1,517.1h.8M231.5,526.7h.8M213.2,533.2h.8M202.0,533.5h.8M242.1,515.9h.8M248.5,507.2h.8M207.1,520.9h.8M209.6,534.3h.8M223.5,529.2h.8M209.3,552.7h.8M227.3,532.8h.8M244.8,514.1h.8M235.7,521.3h.8M221.5,534.1h.8M233.2,528.7h.8M231.4,528.3h.8M231.1,513.3h.8M234.6,507.7h.8M223.4,521.9h.8M230.7,514.1h.8M218.1,532.8h.8M228.8,525.3h.8M238.6,518.2h.8M218.4,530.6h.8M253.9,533.8h.8M228.7,524.1h.8M238.5,526.5h.8M223.4,528.3h.8M228.3,524.1h.8M222.2,526.2h.8M236.2,508.8h.8M252.6,511.4h.8M239.5,515.4h.8M234.0,514.1h.8M243.3,505.1h.8M206.6,535.7h.8M209.9,530.1h.8M209.6,536.5h.8M217.9,538.7h.8M223.4,514.0h.8M224.3,514.0h.8M235.3,539.0h.8M224.0,523.4h.8M233.8,508.0h.8M238.2,511.6h.8M227.0,538.4h.8M233.0,508.6h.8M234.0,523.1h.8M235.2,518.6h.8M221.2,514.4h.8M242.0,516.4h.8M235.3,530.9h.8M217.4,522.4h.8M215.8,523.5h.8M225.2,526.5h.8M221.5,537.0h.8M240.0,528.0h.8M251.6,511.6h.8M235.6,517.9h.8M226.6,533.6h.8M249.1,523.0h.8M217.4,536.0h.8M250.6,515.9h.8M230.8,518.9h.8M226.5,518.0h.8M224.2,526.8h.8M235.1,530.0h.8M219.6,537.8h.8M203.9,536.2h.8M228.3,535.9h.8M243.4,523.3h.8M246.3,507.5h.8M236.1,513.8h.8M231.2,517.0h.8M253.9,507.7h.8M238.5,508.2h.8M235.9,523.1h.8M230.9,530.5h.8M228.2,517.0h.8M232.1,524.1h.8M222.1,539.4h.8M205.3,522.4h.8M256.5,510.1h.8M233.1,520.6h.8M230.1,520.1h.8M238.2,529.5h.8M249.1,493.2h.8M222.2,528.8h.8M211.4,529.2h.8M250.8,520.7h.8M221.5,516.2h.8M253.2,501.6h.8M227.5,514.3h.8M231.2,529.9h.8M237.6,509.1h.8M241.9,519.4h.8M219.9,522.6h.8M225.8,523.6h.8M233.3,524.9h.8M242.5,519.4h.8M248.6,511.5h.8M215.5,525.7h.8M239.8,515.7h.8M246.9,511.7h.8M243.3,518.5h.8M218.8,521.4h.8M238.9,519.8h.8M233.5,521.1h.8M245.9,514.1h.8M236.7,512.8h.8M233.7,517.6h.8M218.3,528.2h.8M238.2,528.7h.8M221.5,512.3h.8M242.5,523.7h.8M204.1,527.7h.8M256.1,516.7h.8M249.9,523.1h.8M228.5,529.0h.8M236.2,531.3h.8M226.6,532.1h.8M204.0,546.4h.8M237.5,522.6h.8M244.4,521.2h.8M228.6,529.2h.8M225.8,523.0h.8M233.0,526.0h.8M232.4,519.4h.8M210.2,514.0h.8M254.5,519.7h.8M244.8,534.9h.8M218.9,526.8h.8M236.5,534.9h.8M241.4,510.3h.8M208.7,542.1h.8M226.4,527.9h.8M214.1,521.4h.8M224.7,522.2h.8M234.2,517.0h.8M235.1,511.3h.8M236.2,512.7h.8M222.1,537.6h.8M239.3,530.3h.8M210.1,544.7h.8M236.3,514.7h.8M216.4,518.1h.8M238.3,532.1h.8M228.2,524.3h.8M218.5,531.3h.8M232.7,514.4h.8M232.0,531.5h.8M238.2,509.2h.8M220.8,523.4h.8M220.4,534.9h.8M234.9,524.4h.8M229.6,519.7h.8M220.6,515.8h.8M276.9,476.5h.8M261.2,474.7h.8M257.7,479.0h.8M245.7,479.0h.8M260.7,474.3h.8M270.1,467.6h.8M270.5,471.6h.8M268.2,484.9h.8M263.7,478.6h.8M261.9,473.4h.8M253.5,476.3h.8M265.3,472.7h.8M265.4,478.8h.8M255.6,472.9h.8M263.3,470.1h.8M268.6,487.3h.8M265.6,473.4h.8M266.1,475.3h.8M268.1,481.3h.8M269.2,477.7h.8M256.5,476.4h.8M259.3,474.9h.8M263.7,470.9h.8M252.1,483.2h.8M265.9,476.0h.8M262.1,474.8h.8M273.9,472.1h.8M256.2,477.0h.8M267.3,473.5h.8M264.4,476.8h.8M258.4,478.7h.8M265.7,479.6h.8M260.4,476.1h.8M256.6,477.3h.8M264.5,476.5h.8M265.7,479.7h.8M255.4,484.2h.8M263.5,473.1h.8M265.6,473.8h.8M268.3,478.6h.8M263.0,474.3h.8M268.8,480.4h.8M268.7,472.6h.8M265.7,475.7h.8M254.1,475.8h.8M268.2,477.0h.8M252.3,477.4h.8M266.1,481.8h.8M267.5,476.9h.8M261.2,481.8h.8M263.3,470.5h.8M265.6,482.4h.8M255.3,477.4h.8M268.5,479.1h.8M265.1,475.9h.8M248.0,488.5h.8M267.4,475.1h.8M271.6,476.4h.8M254.4,477.9h.8M264.1,471.3h.8M264.2,475.3h.8M266.1,483.0h.8M269.0,479.0h.8M256.8,478.9h.8M263.2,474.0h.8M264.4,479.5h.8M268.8,478.6h.8M272.1,474.8h.8M263.8,477.8h.8M257.5,480.5h.8M265.0,479.4h.8M268.4,473.4h.8M254.6,470.0h.8M264.3,477.5h.8M261.4,479.4h.8M265.1,473.4h.8M268.9,479.8h.8M263.7,487.1h.8M264.1,480.0h.8M274.2,473.9h.8M261.7,475.9h.8M269.8,479.2h.8M265.5,490.3h.8M254.8,473.9h.8M261.1,474.0h.8M256.0,479.2h.8M265.3,475.6h.8M262.8,472.8h.8M271.3,467.0h.8M269.6,474.7h.8M275.2,476.7h.8M277.7,474.7h.8M274.0,474.4h.8M262.7,481.1h.8M263.8,476.5h.8M251.9,482.2h.8M257.0,478.4h.8M264.7,479.8h.8M261.2,476.5h.8M270.3,477.1h.8M248.4,484.0h.8M264.2,477.9h.8M261.3,478.5h.8M269.4,471.1h.8M261.3,481.5h.8M260.4,485.0h.8M269.1,476.0h.8M263.2,484.6h.8M255.6,484.3h.8M257.7,472.2h.8M260.8,468.2h.8M259.7,478.6h.8M261.7,478.7h.8M268.6,478.4h.8M262.3,484.9h.8M265.0,475.2h.8M269.6,475.6h.8M254.9,478.6h.8M258.8,481.6h.8M265.3,476.0h.8M258.0,488.1h.8M255.4,475.7h.8M268.7,479.0h.8M268.4,476.5h.8M261.5,476.9h.8M268.2,479.1h.8M257.8,477.3h.8M261.8,480.9h.8M265.3,479.3h.8M260.1,474.8h.8M258.0,480.9h.8M265.2,470.9h.8M263.5,485.7h.8M262.9,482.0h.8M258.7,477.0h.8M247.4,483.3h.8M266.1,477.6h.8M263.3,475.9h.8M265.3,474.5h.8M267.2,482.8h.8M259.7,470.9h.8M256.1,479.5h.8M275.5,474.8h.8M254.9,486.3h.8M268.1,475.0h.8M264.9,481.1h.8M260.9,477.9h.8M257.3,482.2h.8M254.2,483.8h.8M268.2,476.1h.8M260.8,481.5h.8M262.0,484.4h.8M264.7,476.9h.8M259.5,474.0h.8M263.9,489.5h.8M258.6,478.6h.8M261.0,482.4h.8M260.9,476.7h.8M263.4,471.5h.8M261.8,480.3h.8M268.2,482.8h.8M263.3,471.6h.8M265.5,477.6h.8M265.8,487.9h.8M255.8,479.7h.8M255.9,469.2h.8M268.6,481.5h.8M253.9,482.6h.8M265.6,482.5h.8M274.5,475.2h.8M262.8,476.6h.8M269.4,476.7h.8M259.2,480.4h.8M265.2,469.2h.8M261.0,487.1h.8M266.4,486.5h.8M266.7,473.1h.8M256.2,483.2h.8M267.4,474.6h.8M255.1,475.7h.8M264.8,481.1h.8M251.9,478.0h.8M262.0,479.5h.8M264.7,477.0h.8M261.9,479.9h.8M256.3,481.5h.8M267.9,473.9h.8M256.3,476.5h.8M256.1,483.4h.8M266.7,475.2h.8M259.0,475.6h.8M258.7,481.5h.8M261.4,488.2h.8M276.9,474.3h.8M258.3,471.8h.8M258.5,475.2h.8M251.2,482.1h.8M265.5,479.1h.8M258.1,479.9h.8M271.8,470.5h.8M269.8,479.0h.8M266.2,482.4h.8M251.0,477.8h.8M267.1,477.1h.8M264.0,468.3h.8M256.4,486.7h.8M267.9,481.0h.8M260.6,479.4h.8M251.4,475.5h.8M260.8,480.1h.8M256.6,479.2h.8M261.9,480.2h.8M261.8,475.0h.8M265.0,477.2h.8M264.1,481.2h.8M261.6,483.5h.8M259.6,486.5h.8M257.6,477.8h.8M259.9,476.6h.8M268.6,471.5h.8M262.9,474.1h.8M267.2,478.9h.8M269.8,475.1h.8M253.4,480.9h.8M264.7,482.6h.8M261.1,478.9h.8M258.3,475.6h.8M252.0,492.2h.8M264.4,470.6h.8M260.4,470.3h.8M264.8,481.6h.8M252.6,476.3h.8M258.1,480.4h.8M259.9,475.0h.8M259.5,479.9h.8M268.9,479.3h.8M274.1,473.2h.8M257.3,478.3h.8M260.1,483.7h.8M269.0,477.8h.8M268.7,476.7h.8M266.7,477.5h.8M272.1,473.4h.8M260.8,476.0h.8M262.7,473.8h.8M268.8,482.6h.8M274.9,476.3h.8M253.8,478.0h.8M263.4,479.6h.8M253.2,468.5h.8M263.5,474.7h.8M259.8,486.4h.8M261.5,474.9h.8M255.6,476.3h.8M262.7,483.6h.8M257.7,479.3h.8M267.3,471.2h.8M260.8,485.5h.8M269.9,472.5h.8M267.6,482.8h.8M256.0,489.3h.8M270.3,481.3h.8M263.4,478.8h.8M269.6,476.6h.8M260.1,485.9h.8M265.7,479.0h.8M268.5,479.1h.8M261.8,476.3h.8M253.8,476.6h.8M266.9,480.2h.8M254.0,483.2h.8M259.2,467.8h.8M264.5,476.5h.8M255.0,482.4h.8M268.2,476.5h.8M261.9,471.3h.8M272.2,476.6h.8M266.4,470.9h.8M268.1,479.2h.8M259.3,479.4h.8M264.5,477.9h.8M263.0,473.0h.8M256.9,481.6h.8M261.8,479.3h.8M264.2,476.2h.8M253.6,476.0h.8M257.0,480.0h.8M267.9,477.9h.8M258.6,477.2h.8M274.2,476.0h.8M252.0,484.4h.8M265.0,470.7h.8M256.5,472.4h.8M256.0,478.9h.8M263.2,483.3h.8M259.2,471.8h.8M258.6,472.6h.8M268.8,479.9h.8M260.8,483.5h.8M263.5,475.4h.8M254.2,474.9h.8M268.6,477.4h.8M268.3,478.1h.8M263.6,477.8h.8M259.8,477.6h.8M272.8,478.5h.8M265.3,479.8h.8M263.9,475.8h.8M269.4,474.7h.8M254.5,485.1h.8M261.6,471.2h.8M272.4,478.4h.8M267.7,476.1h.8M263.0,476.2h.8M278.2,465.8h.8M271.0,477.1h.8M272.5,481.7h.8M259.5,474.8h.8M261.4,480.9h.8M257.1,477.3h.8M261.4,478.1h.8M263.0,475.0h.8M266.6,480.8h.8M268.3,475.7h.8M271.3,479.4h.8M263.3,486.1h.8M260.4,476.9h.8M274.9,477.6h.8M268.5,477.2h.8M257.2,476.7h.8M274.7,481.6h.8M262.4,476.2h.8M261.1,479.0h.8M261.6,478.7h.8M262.8,466.4h.8M258.3,477.3h.8M267.3,488.9h.8M261.9,482.2h.8M261.2,485.7h.8M252.3,477.4h.8M266.0,476.0h.8M262.3,475.9h.8M270.1,472.8h.8M274.6,477.1h.8M254.8,470.6h.8M272.3,465.3h.8M258.6,471.2h.8M277.6,474.4h.8M264.0,482.3h.8M269.3,472.6h.8M259.7,474.3h.8M261.8,475.8h.8M270.7,474.8h.8M265.6,479.5h.8M269.9,484.7h.8M247.9,487.7h.8M257.6,473.3h.8M271.8,478.8h.8M270.9,468.0h.8M267.6,485.8h.8M257.3,483.2h.8M260.7,474.9h.8M261.3,473.7h.8M266.6,476.1h.8M260.7,485.5h.8M269.9,484.6h.8M259.3,473.6h.8M258.8,484.2h.8M273.3,471.9h.8M258.5,478.4h.8M275.1,478.4h.8M266.2,476.9h.8M260.3,474.8h.8M259.8,476.5h.8M268.1,478.0h.8M264.6,471.8h.8M268.5,478.9h.8M269.4,472.3h.8M251.5,474.9h.8M268.1,478.7h.8M264.9,483.9h.8M259.3,477.4h.8M263.7,480.3h.8M274.6,477.4h.8M268.5,479.6h.8M267.8,480.8h.8M259.9,466.4h.8M267.1,476.5h.8M257.9,472.6h.8M266.4,480.5h.8M271.6,479.9h.8M261.3,474.5h.8M267.4,477.6h.8M265.1,476.9h.8M264.0,478.8h.8M258.0,473.6h.8M254.2,476.0h.8M255.2,485.4h.8M266.6,477.9h.8M261.8,485.0h.8M260.3,480.0h.8M259.4,480.6h.8M254.0,478.1h.8M256.9,479.7h.8M257.8,478.8h.8M266.6,466.5h.8M257.2,475.9h.8M264.5,473.2h.8M267.8,482.5h.8M258.4,482.1h.8M258.2,480.0h.8M262.5,480.8h.8M256.7,477.9h.8M264.0,474.1h.8M264.7,480.2h.8M265.0,474.0h.8M259.5,484.6h.8M259.9,476.5h.8M267.5,471.3h.8M259.5,477.9h.8M266.7,478.7h.8M252.2,478.5h.8M261.0,475.7h.8M265.8,485.4h.8M271.5,473.2h.8M262.7,480.4h.8M269.4,476.3h.8M258.7,474.9h.8M258.7,471.7h.8M272.1,471.6h.8M275.5,471.7h.8M266.5,479.9h.8M251.5,481.6h.8M280.9,483.1h.8M265.3,485.9h.8M266.7,469.5h.8M268.3,474.0h.8M264.6,468.1h.8M257.5,484.8h.8M252.5,482.6h.8M266.1,486.4h.8M265.2,476.1h.8M246.6,478.8h.8M262.1,478.5h.8M258.2,479.1h.8M253.0,472.3h.8M267.0,481.1h.8M255.9,473.2h.8M270.0,473.5h.8M256.4,478.4h.8M263.9,477.3h.8M260.5,482.8h.8M255.9,479.1h.8M259.5,477.7h.8M266.9,476.4h.8M267.2,480.7h.8M266.6,478.7h.8M266.9,481.9h.8M257.5,483.8h.8M270.7,473.7h.8M259.3,477.6h.8M264.5,473.1h.8M254.3,490.2h.8M270.9,469.7h.8M273.0,477.3h.8M259.0,476.8h.8M258.8,485.7h.8M272.8,480.2h.8M247.4,477.0h.8M264.7,475.9h.8M261.7,475.6h.8M266.5,477.0h.8M271.9,476.5h.8M262.1,479.2h.8M256.6,482.8h.8M261.7,481.9h.8M252.1,483.8h.8M262.3,475.9h.8M260.9,483.3h.8M275.1,469.0h.8M252.1,477.8h.8M263.9,476.9h.8M255.6,488.1h.8M268.0,482.3h.8M261.0,483.2h.8M266.3,468.8h.8M256.4,485.6h.8M271.1,482.1h.8M271.4,480.7h.8M258.4,476.8h.8M256.3,482.5h.8M265.1,473.1h.8M256.9,482.3h.8M258.1,480.2h.8M257.6,481.5h.8M272.7,482.6h.8M261.6,483.4h.8M260.0,478.2h.8M260.1,477.0h.8M260.0,480.8h.8M260.8,475.0h.8M248.6,484.1h.8M263.3,479.4h.8M252.9,486.9h.8M257.3,474.2h.8M266.1,479.8h.8M274.2,476.0h.8M258.8,478.7h.8M267.1,479.3h.8M269.2,479.8h.8M264.3,476.8h.8M256.1,481.0h.8M264.5,480.0h.8M253.2,485.3h.8M260.3,481.2h.8M266.6,478.2h.8M257.9,477.7h.8M263.3,470.9h.8M262.8,476.9h.8M260.2,472.0h.8M275.4,474.0h.8M263.8,473.4h.8M270.9,470.8h.8M258.0,479.6h.8M271.6,475.0h.8M255.5,479.5h.8M257.7,485.2h.8M259.9,486.9h.8M246.4,483.2h.8M265.7,472.1h.8M267.4,465.5h.8M255.6,481.8h.8M268.4,469.8h.8M261.7,476.7h.8M255.3,478.4h.8M258.6,483.3h.8M249.9,480.6h.8M262.7,472.8h.8M274.6,479.4h.8M256.8,476.8h.8M269.4,478.9h.8M270.9,479.8h.8M260.8,480.7h.8M259.3,484.2h.8M266.6,481.8h.8M256.4,475.7h.8M268.9,476.5h.8M257.7,472.5h.8M261.2,479.4h.8M257.7,486.5h.8M253.6,479.5h.8M261.9,480.6h.8M260.4,483.5h.8M263.0,483.3h.8M255.8,485.7h.8M265.6,481.1h.8M253.6,475.3h.8M257.0,479.9h.8M266.1,483.1h.8M259.4,479.6h.8M263.5,470.4h.8M260.5,483.4h.8M254.3,477.7h.8M266.5,477.0h.8M262.6,478.8h.8M275.0,477.7h.8M265.8,477.3h.8M258.4,476.8h.8M264.2,476.2h.8M267.5,484.2h.8M268.7,484.6h.8M254.1,483.1h.8M260.3,488.6h.8M255.7,480.6h.8M270.2,472.0h.8M264.1,477.6h.8M269.4,463.1h.8M254.8,483.9h.8M264.5,478.1h.8M276.9,482.8h.8M257.2,492.6h.8M282.7,472.1h.8M276.7,482.1h.8M263.0,478.4h.8M264.2,467.6h.8M268.7,470.4h.8M244.2,483.1h.8M223.6,481.0h.8M256.2,475.2h.8M264.8,472.4h.8M266.9,469.5h.8M281.9,474.7h.8M279.0,488.2h.8M253.6,476.4h.8M255.7,489.5h.8M258.0,472.3h.8M279.6,489.7h.8M269.8,478.5h.8M270.8,483.0h.8M253.4,479.2h.8M260.2,473.3h.8M252.5,476.6h.8M243.8,492.1h.8M259.1,468.6h.8M256.5,474.2h.8M254.1,476.6h.8M266.9,474.8h.8M270.9,489.7h.8M273.3,497.2h.8M266.9,479.8h.8M246.0,477.0h.8M284.9,478.6h.8M257.2,480.7h.8M271.0,474.4h.8M242.1,473.5h.8M263.3,472.5h.8M256.2,491.0h.8M272.6,478.1h.8M277.1,484.4h.8M249.6,478.9h.8M264.4,480.6h.8M248.7,482.7h.8M258.2,480.3h.8M273.8,475.4h.8M258.2,473.5h.8M245.8,473.3h.8M251.4,473.9h.8M258.1,482.6h.8M251.4,489.2h.8M287.6,465.8h.8M257.7,484.1h.8M241.1,478.4h.8M271.5,483.2h.8M247.9,477.0h.8M253.0,487.2h.8M254.3,471.9h.8M249.7,472.1h.8M278.7,494.9h.8M250.5,484.9h.8M262.3,463.4h.8M240.2,486.9h.8M268.1,497.2h.8M255.0,481.3h.8M272.1,484.1h.8M255.8,471.1h.8M268.5,481.1h.8M246.8,484.8h.8M248.3,489.2h.8M257.2,487.7h.8M253.8,487.5h.8M270.2,473.8h.8M259.7,474.7h.8M259.1,477.4h.8M263.3,476.4h.8M263.8,473.8h.8M261.1,481.4h.8M272.2,465.7h.8M259.4,486.1h.8M262.0,486.9h.8M286.6,476.5h.8M265.0,467.7h.8M254.2,455.7h.8M263.4,500.2h.8M254.9,466.0h.8M259.7,479.4h.8M271.1,485.4h.8M267.4,476.8h.8M250.6,493.0h.8M273.4,467.4h.8M260.6,489.4h.8M254.0,477.7h.8M267.7,488.4h.8M265.5,480.8h.8M256.2,474.1h.8M265.8,477.3h.8M264.3,468.9h.8M266.0,477.8h.8M271.0,460.8h.8M271.6,482.1h.8M271.5,462.5h.8M252.9,465.1h.8M243.2,479.1h.8M263.6,475.5h.8M263.1,492.2h.8M265.3,485.0h.8M252.6,468.0h.8M272.5,485.2h.8M264.3,471.7h.8M257.2,479.2h.8M269.1,471.1h.8M259.2,467.3h.8M273.2,463.4h.8M255.8,460.7h.8M262.5,477.6h.8M272.5,482.0h.8M261.4,473.6h.8M269.2,489.5h.8M270.8,479.8h.8M276.5,494.3h.8M265.2,491.8h.8M253.0,493.8h.8M276.9,473.9h.8M284.6,492.3h.8M260.5,479.4h.8M264.9,473.9h.8M268.4,476.8h.8M268.4,473.8h.8M270.0,492.1h.8M264.7,496.3h.8M269.4,468.9h.8M272.8,464.2h.8M252.1,491.7h.8M267.1,480.1h.8M251.9,488.5h.8M239.2,487.0h.8M252.5,473.3h.8M276.0,476.8h.8M287.4,478.2h.8M271.6,473.9h.8M255.4,482.9h.8M254.0,483.8h.8M258.4,470.7h.8M268.4,486.0h.8M266.1,471.9h.8M273.8,471.6h.8M268.4,467.8h.8M270.7,474.9h.8M251.2,477.6h.8M276.6,473.7h.8M248.2,483.4h.8M273.0,477.0h.8M270.0,461.8h.8M250.8,478.8h.8M271.2,467.9h.8M278.3,492.2h.8M242.2,480.7h.8M259.1,479.2h.8M257.4,471.5h.8M266.3,482.9h.8M259.1,488.2h.8M272.7,471.3h.8M256.5,483.9h.8M272.0,474.9h.8M256.5,467.4h.8M259.6,494.9h.8M284.9,491.2h.8M257.2,474.6h.8M271.0,474.8h.8M255.9,494.3h.8M271.7,478.0h.8M256.7,473.4h.8M257.0,482.2h.8M271.3,481.1h.8M236.9,492.1h.8M252.1,487.6h.8M256.8,479.5h.8M249.6,485.2h.8M273.8,473.7h.8M265.1,470.9h.8M278.8,480.1h.8M275.8,468.9h.8M258.4,484.4h.8M261.0,490.3h.8M262.6,464.2h.8M267.9,471.9h.8M282.9,458.5h.8M274.6,466.9h.8M270.8,480.6h.8M261.4,475.7h.8M246.4,468.5h.8M259.5,490.8h.8M251.3,483.0h.8M252.7,484.1h.8M263.4,484.0h.8M262.1,484.6h.8M260.6,470.7h.8M283.3,462.4h.8M275.2,480.9h.8M274.8,471.4h.8M272.3,488.0h.8M255.9,476.6h.8M261.5,472.3h.8M270.4,482.1h.8M262.7,487.7h.8M257.3,478.8h.8M259.4,480.7h.8M267.2,466.9h.8M262.0,481.4h.8M255.9,469.1h.8M260.2,485.8h.8M276.2,477.5h.8M260.0,475.8h.8M260.2,476.8h.8M252.5,480.3h.8M265.9,466.4h.8M260.4,476.1h.8M245.4,475.0h.8M269.1,484.1h.8M270.8,483.9h.8M254.5,485.6h.8M259.5,488.1h.8M257.2,481.3h.8M250.6,494.0h.8M257.5,473.3h.8M257.1,486.2h.8M257.3,480.0h.8M256.4,463.6h.8M267.1,471.9h.8M251.8,477.8h.8M252.4,477.8h.8M247.3,488.2h.8M282.6,477.6h.8M273.6,458.2h.8M261.9,471.3h.8M262.3,480.4h.8M263.2,498.3h.8M259.5,478.6h.8M271.7,471.3h.8M252.2,471.6h.8M260.5,474.9h.8M247.8,488.8h.8M263.0,471.4h.8M254.1,481.4h.8M265.6,479.8h.8M265.6,469.7h.8M270.9,471.8h.8M256.7,482.2h.8M259.6,493.2h.8M246.9,479.7h.8M252.5,483.4h.8M265.9,476.1h.8M243.0,489.5h.8M260.1,464.8h.8M262.7,485.8h.8M263.6,471.6h.8M272.2,472.8h.8M270.6,469.9h.8M263.5,474.9h.8M275.1,487.2h.8M265.4,477.3h.8M269.7,476.7h.8M267.0,475.5h.8M245.6,474.8h.8M273.1,461.1h.8M251.5,486.7h.8M255.1,491.7h.8M260.8,484.2h.8M261.5,485.6h.8M258.5,490.3h.8M247.7,480.2h.8M265.4,478.5h.8M275.1,478.5h.8M258.5,475.4h.8M254.5,476.2h.8M289.0,471.6h.8M247.7,473.1h.8M259.1,478.5h.8M253.1,489.9h.8M283.0,464.2h.8M265.6,477.3h.8M276.8,477.9h.8M283.9,470.9h.8M278.7,485.0h.8M260.8,480.0h.8M259.4,468.5h.8M246.5,485.5h.8M255.5,482.9h.8M265.6,494.8h.8M259.1,465.0h.8M271.4,481.8h.8M249.0,484.5h.8M251.2,494.8h.8M260.4,480.3h.8M258.3,473.2h.8M257.1,494.3h.8M267.9,470.2h.8M257.9,468.5h.8M271.4,455.3h.8M281.0,458.9h.8M250.8,479.0h.8M253.9,509.3h.8M247.6,495.2h.8M235.6,520.3h.8M249.8,490.5h.8M227.7,533.3h.8M253.4,477.4h.8M263.9,485.3h.8M225.4,515.6h.8M240.3,503.8h.8M235.5,513.6h.8M228.4,516.5h.8M246.8,504.4h.8M251.4,495.8h.8M239.8,498.6h.8M241.5,499.1h.8M261.3,480.8h.8M265.6,484.3h.8M245.0,495.0h.8M244.5,497.3h.8M238.0,525.6h.8M224.0,516.4h.8M264.0,485.7h.8M247.5,515.8h.8M244.7,505.5h.8M257.0,489.5h.8M230.1,508.7h.8M246.8,516.6h.8M235.5,496.8h.8M261.5,493.7h.8M248.0,495.6h.8M243.3,510.4h.8M273.8,492.6h.8M252.8,492.1h.8M257.0,476.5h.8M236.7,508.2h.8M231.1,510.7h.8M267.3,475.6h.8M255.7,501.6h.8M253.9,484.3h.8M241.3,505.5h.8M214.7,506.6h.8M253.1,499.4h.8M239.7,491.2h.8M232.4,495.2h.8M241.3,494.7h.8M231.3,507.4h.8M258.2,480.0h.8M238.0,512.2h.8M255.1,489.9h.8M239.0,515.8h.8M231.0,516.6h.8M243.3,519.7h.8M253.9,477.9h.8M243.3,486.5h.8M259.6,492.9h.8M263.5,506.1h.8M260.5,485.3h.8M249.5,508.2h.8M249.8,506.0h.8M228.3,521.3h.8M253.9,501.9h.8M227.4,518.4h.8M235.4,507.7h.8M230.1,503.1h.8M238.6,486.5h.8M236.7,502.3h.8M243.2,505.1h.8M240.3,494.8h.8M253.7,509.1h.8M258.8,478.1h.8M238.1,496.6h.8M256.5,487.3h.8M246.3,495.6h.8M247.9,496.2h.8M259.9,477.5h.8M239.6,504.3h.8M260.1,487.5h.8M244.4,492.3h.8M260.0,495.0h.8M242.8,494.7h.8M248.1,496.1h.8M250.1,498.9h.8M243.6,523.6h.8M269.1,476.9h.8M245.8,508.3h.8M237.7,502.5h.8M230.0,512.1h.8M239.1,498.6h.8M256.9,485.1h.8M247.3,494.0h.8M239.1,507.5h.8M243.8,495.4h.8M229.3,509.4h.8M245.1,489.3h.8M261.4,475.8h.8M234.3,518.7h.8M257.5,478.5h.8M245.2,477.3h.8M223.1,514.0h.8M254.8,481.9h.8M256.3,484.9h.8M273.9,473.9h.8M243.6,514.6h.8M253.5,491.2h.8M270.0,478.8h.8M236.8,521.0h.8M240.7,516.4h.8M243.3,505.3h.8M236.2,512.7h.8M227.4,511.5h.8M231.9,512.0h.8M251.2,489.4h.8M242.3,486.7h.8M252.8,519.6h.8M234.8,528.7h.8M250.4,482.4h.8M243.5,528.0h.8M239.0,498.2h.8M252.5,486.1h.8M234.5,506.2h.8M242.9,498.7h.8M239.3,515.8h.8M243.0,517.5h.8M248.3,495.5h.8M254.7,478.2h.8M253.2,486.3h.8M260.2,500.5h.8M248.7,501.4h.8M262.7,481.7h.8M252.9,482.9h.8M247.8,494.0h.8M263.9,491.0h.8M248.4,477.3h.8M246.6,509.3h.8M247.9,497.1h.8M266.5,490.9h.8M240.0,497.4h.8M226.1,512.9h.8M244.5,500.2h.8M254.0,482.3h.8M253.7,486.7h.8M247.0,489.6h.8M234.8,520.7h.8M253.1,490.0h.8M221.5,519.6h.8M240.9,497.1h.8M247.7,484.2h.8M263.7,486.4h.8M241.4,500.4h.8M257.7,486.8h.8M230.6,530.3h.8M215.3,515.7h.8M255.6,479.9h.8M240.8,506.2h.8M240.1,511.9h.8M245.5,496.9h.8M241.2,513.4h.8M251.7,486.1h.8M223.6,526.2h.8M237.5,508.3h.8M258.3,475.0h.8M271.4,472.0h.8M239.6,514.6h.8M253.9,503.5h.8M248.9,508.5h.8M247.8,490.1h.8M258.8,485.4h.8M251.9,498.0h.8M244.3,488.4h.8M236.2,504.1h.8M229.0,527.6h.8M261.6,477.9h.8M226.1,522.3h.8M256.0,479.6h.8M242.3,512.4h.8M231.9,515.4h.8M240.1,519.5h.8M242.2,519.6h.8M264.4,480.8h.8M240.3,522.1h.8M234.4,502.4h.8M269.9,488.6h.8M240.9,504.9h.8M241.1,501.5h.8M242.4,511.4h.8M249.1,512.9h.8M244.1,503.6h.8M256.2,490.9h.8M254.7,494.0h.8M258.5,499.1h.8M266.9,475.5h.8M239.1,502.0h.8M273.2,476.1h.8M241.2,486.8h.8M248.8,497.4h.8M242.4,501.1h.8M252.3,491.1h.8M255.0,520.7h.8M238.5,496.4h.8M243.1,507.1h.8M250.6,488.1h.8M247.2,483.4h.8M245.5,508.6h.8M223.1,519.1h.8M254.8,487.7h.8M260.7,475.8h.8M257.6,500.7h.8M230.0,527.4h.8M248.4,490.3h.8M259.5,501.0h.8M251.9,475.0h.8M232.1,510.6h.8M248.5,503.7h.8M233.1,510.7h.8M257.8,480.3h.8M252.4,505.5h.8M238.2,496.7h.8M244.2,495.1h.8M236.0,526.7h.8M243.9,495.0h.8M242.6,498.9h.8M229.6,517.6h.8M235.1,490.1h.8M252.6,494.4h.8M252.5,497.3h.8M245.8,495.5h.8M217.7,523.5h.8M265.9,488.9h.8M226.1,522.1h.8M249.5,493.4h.8M243.1,488.3h.8M230.7,532.7h.8M257.7,494.6h.8M260.1,472.7h.8M245.3,469.4h.8M262.2,491.4h.8M246.4,497.8h.8M226.1,513.8h.8M240.0,510.4h.8M260.2,497.6h.8M258.2,489.9h.8M269.5,470.9h.8M238.6,515.0h.8M234.9,510.2h.8M236.4,493.1h.8M235.9,522.0h.8M243.2,497.6h.8M258.2,500.5h.8M246.7,510.6h.8M256.5,480.1h.8M256.3,492.6h.8M271.0,496.6h.8M256.0,511.7h.8M230.0,513.7h.8M250.2,481.3h.8M242.7,511.6h.8M239.6,509.6h.8M231.5,522.1h.8M245.5,504.7h.8M262.2,485.0h.8M240.8,502.4h.8M265.5,477.0h.8M236.0,513.4h.8M249.5,499.2h.8M225.6,516.2h.8M251.5,481.6h.8M253.1,483.8h.8M247.8,498.8h.8M239.7,515.6h.8M244.8,496.3h.8M259.7,493.0h.8M252.6,488.4h.8M229.9,526.7h.8M255.0,492.1h.8M239.8,514.2h.8M258.8,478.7h.8M244.3,510.2h.8M244.0,508.1h.8M250.7,484.4h.8M246.3,505.1h.8M239.0,512.6h.8M249.8,488.3h.8M225.7,515.7h.8M219.5,512.3h.8M257.3,488.1h.8M250.4,482.8h.8M257.9,488.4h.8M235.2,499.4h.8M242.6,509.8h.8M251.4,491.3h.8M230.3,500.8h.8M241.9,517.9h.8M227.7,507.2h.8M232.7,523.0h.8M256.3,493.6h.8M267.7,481.1h.8M248.2,498.8h.8M257.1,486.8h.8M255.5,502.6h.8M242.6,510.3h.8M237.1,500.0h.8M237.0,509.8h.8M250.3,492.1h.8M250.6,499.0h.8M260.8,498.9h.8M240.4,515.8h.8M260.3,484.8h.8M236.1,519.2h.8M260.4,478.0h.8M244.3,502.2h.8M264.1,472.3h.8M255.5,478.3h.8M251.5,479.7h.8M237.3,517.9h.8M254.4,491.2h.8M231.9,503.1h.8M224.6,521.6h.8M234.1,509.9h.8M259.9,481.8h.8M242.5,503.5h.8M240.6,507.3h.8M240.7,516.3h.8M226.7,505.5h.8M247.5,497.4h.8M259.6,485.2h.8M226.9,510.9h.8M231.2,490.8h.8M254.9,513.8h.8M245.7,513.7h.8M253.4,509.1h.8M231.0,505.2h.8M246.9,493.0h.8M252.3,497.6h.8M236.9,506.7h.8M234.8,513.9h.8M240.9,485.6h.8M258.3,492.6h.8M237.3,516.3h.8M263.8,488.2h.8M236.5,513.7h.8M234.2,518.4h.8M237.2,506.1h.8M246.7,477.9h.8M250.6,503.5h.8M252.6,487.0h.8M254.3,478.9h.8M237.8,525.7h.8M234.8,504.7h.8M265.1,477.7h.8M230.0,522.9h.8M250.8,495.2h.8M271.0,476.0h.8M242.9,494.6h.8M255.2,474.6h.8M239.1,518.7h.8M245.3,504.4h.8M232.2,504.4h.8M238.5,487.2h.8M256.1,495.2h.8M251.3,502.1h.8M250.9,493.8h.8M251.3,492.8h.8M225.8,513.3h.8M258.6,491.2h.8M250.0,512.6h.8M243.7,494.7h.8M238.9,501.7h.8M233.7,519.3h.8M244.2,498.4h.8M253.1,482.3h.8M243.4,485.1h.8M249.9,503.9h.8M235.3,493.7h.8M244.8,504.5h.8M232.0,509.1h.8M250.7,516.8h.8M267.1,502.4h.8M243.1,507.0h.8M260.4,482.9h.8M272.0,487.5h.8M263.0,490.6h.8M246.7,520.8h.8M248.5,487.4h.8M246.1,505.7h.8M234.6,505.6h.8M246.7,503.8h.8M254.9,495.8h.8M237.7,515.0h.8M267.3,487.8h.8M247.3,501.1h.8M255.1,478.3h.8M249.2,499.0h.8M229.4,512.4h.8M238.8,505.1h.8M246.7,503.2h.8M233.6,525.3h.8M262.7,468.7h.8M265.1,495.2h.8M258.3,483.5h.8M244.2,504.2h.8M250.5,492.8h.8M234.3,527.4h.8M224.3,509.3h.8M240.9,521.2h.8M253.0,478.5h.8M255.0,485.4h.8M252.8,495.1h.8M227.2,508.2h.8M231.8,501.2h.8M239.0,505.1h.8M258.3,473.0h.8M223.1,516.0h.8M266.5,495.3h.8M257.5,481.0h.8M260.2,489.3h.8M259.6,499.1h.8M250.7,500.7h.8M258.8,496.4h.8M244.2,499.5h.8M251.1,508.2h.8M242.5,497.3h.8M244.9,484.8h.8M252.4,486.3h.8M241.9,494.3h.8M247.3,490.7h.8M248.9,477.9h.8M255.7,490.6h.8M234.1,470.4h.8M221.3,475.4h.8M244.1,476.2h.8M234.5,479.4h.8M238.3,511.8h.8M253.8,497.6h.8M240.6,492.2h.8M237.0,497.3h.8M253.5,504.4h.8M233.4,483.3h.8M246.6,512.7h.8M242.2,497.7h.8M244.0,484.4h.8M251.3,498.8h.8M256.1,493.1h.8M243.2,481.9h.8M227.4,481.3h.8M241.4,472.2h.8M245.8,484.4h.8M239.0,474.9h.8M239.3,491.1h.8M251.5,480.4h.8M252.2,493.9h.8M252.6,485.4h.8M251.0,474.8h.8M249.5,484.8h.8M246.4,500.6h.8M240.2,485.6h.8M244.4,490.6h.8M244.7,488.1h.8M249.0,487.9h.8M245.4,508.9h.8M236.0,508.0h.8M238.6,500.2h.8M235.7,468.3h.8M243.9,480.6h.8M245.6,490.3h.8M250.8,483.9h.8M249.1,490.9h.8M242.1,492.9h.8M245.3,494.4h.8M249.0,513.1h.8M243.7,491.9h.8M250.4,481.3h.8M241.7,497.6h.8M252.4,499.8h.8M253.0,488.0h.8M248.1,495.1h.8M235.5,469.4h.8M239.7,475.2h.8M256.2,490.8h.8M254.3,502.6h.8M252.2,493.5h.8M253.4,496.2h.8M245.1,491.3h.8M237.5,496.4h.8M254.5,498.0h.8M239.3,482.7h.8M251.5,487.8h.8M251.0,504.3h.8M248.9,502.2h.8M247.9,482.4h.8M238.6,490.4h.8M252.0,500.4h.8M240.6,495.2h.8M244.4,490.9h.8M257.5,482.3h.8M255.6,485.5h.8M247.3,490.3h.8M241.8,492.3h.8M244.9,498.4h.8M253.7,496.5h.8M246.9,508.2h.8M245.8,485.7h.8M242.9,496.3h.8M248.1,478.2h.8M245.3,486.9h.8M240.3,481.1h.8M247.1,477.8h.8M242.3,505.3h.8M237.8,497.6h.8M251.9,483.3h.8M250.0,496.5h.8M253.8,494.4h.8M240.9,476.3h.8M249.5,511.5h.8M242.6,481.8h.8M255.3,509.0h.8M240.5,490.5h.8M253.4,488.7h.8M250.1,483.5h.8M247.3,478.7h.8M242.1,484.4h.8M238.3,480.4h.8M254.1,488.5h.8M245.7,507.5h.8M256.9,489.9h.8M242.7,497.4h.8M252.9,497.1h.8M240.6,486.9h.8M245.7,491.4h.8M255.9,507.1h.8M243.0,487.8h.8M239.8,491.9h.8M236.8,512.0h.8M229.0,488.5h.8M243.9,487.2h.8M252.2,502.0h.8M248.8,495.3h.8M249.7,497.6h.8M255.0,491.3h.8M233.6,485.1h.8M243.2,484.5h.8M246.9,502.2h.8M256.7,491.5h.8M261.6,486.2h.8M240.9,479.0h.8M257.0,487.0h.8M246.1,503.8h.8M253.4,490.9h.8M244.0,468.0h.8M238.6,480.8h.8M242.9,495.0h.8M249.9,494.6h.8M241.3,506.7h.8M259.0,496.7h.8M244.4,475.2h.8M238.0,469.2h.8M252.1,495.4h.8M255.5,489.4h.8M245.5,492.2h.8M244.8,494.0h.8M244.3,497.4h.8M252.1,505.6h.8M240.4,461.9h.8M245.1,485.2h.8M247.2,497.2h.8M252.0,493.4h.8M249.5,499.4h.8M247.3,496.6h.8M243.2,501.3h.8M256.4,494.8h.8M247.5,504.6h.8M248.8,494.7h.8M249.6,496.5h.8M252.4,491.4h.8M246.6,480.9h.8M232.4,473.4h.8M260.0,489.5h.8M241.7,501.2h.8M236.8,496.7h.8M243.8,498.9h.8M241.4,496.2h.8" stroke="#ee1c1c" stroke-width="0.8" fill="none" opacity="0.8"/>
<rect x="198.1" y="450.4" width="104.79999999999998" height="105.39999999999998" fill="none" stroke="#777" stroke-width="0.7"/>
<path d="M245.1,450.4V555.8M198.1,510.3H302.9" stroke="#333" stroke-width="0.8" fill="none"/>
<path d="M198.4,450.4V555.8H302.9" stroke="#444" stroke-width="1.1" fill="none"/>
<path d="M202.0,555.8v1.5M206.5,555.8v1.5M209.7,555.8v1.5M212.1,555.8v1.5M214.1,555.8v1.5M215.9,555.8v1.5M217.3,555.8v1.5M218.6,555.8v1.5M219.8,555.8v2.4M227.5,555.8v1.5M232.0,555.8v1.5M235.2,555.8v1.5M237.6,555.8v1.5M239.6,555.8v1.5M241.4,555.8v1.5M242.8,555.8v1.5M244.1,555.8v1.5M245.3,555.8v2.4M253.0,555.8v1.5M257.5,555.8v1.5M260.7,555.8v1.5M263.1,555.8v1.5M265.1,555.8v1.5M266.9,555.8v1.5M268.3,555.8v1.5M269.6,555.8v1.5M270.8,555.8v2.4M278.5,555.8v1.5M283.0,555.8v1.5M286.2,555.8v1.5M288.6,555.8v1.5M290.6,555.8v1.5M292.4,555.8v1.5M293.8,555.8v1.5M295.1,555.8v1.5M296.3,555.8v2.4M198.1,455.0h-2.4M198.1,480.9h-2.4M198.1,473.1h-1.5M198.1,468.5h-1.5M198.1,465.3h-1.5M198.1,462.8h-1.5M198.1,460.7h-1.5M198.1,459.0h-1.5M198.1,457.5h-1.5M198.1,456.2h-1.5M198.1,506.8h-2.4M198.1,499.0h-1.5M198.1,494.4h-1.5M198.1,491.2h-1.5M198.1,488.7h-1.5M198.1,486.6h-1.5M198.1,484.9h-1.5M198.1,483.4h-1.5M198.1,482.1h-1.5M198.1,532.7h-2.4M198.1,524.9h-1.5M198.1,520.3h-1.5M198.1,517.1h-1.5M198.1,514.6h-1.5M198.1,512.5h-1.5M198.1,510.8h-1.5M198.1,509.3h-1.5M198.1,508.0h-1.5" stroke="#444" stroke-width="0.6" fill="none"/>
<text x="219.8" y="564.8" font-family="Liberation Sans" font-size="5.1" text-anchor="middle" fill="#333">10<tspan dy="-2" font-size="3.3">4</tspan></text>
<text x="245.3" y="564.8" font-family="Liberation Sans" font-size="5.1" text-anchor="middle" fill="#333">10<tspan dy="-2" font-size="3.3">5</tspan></text>
<text x="271.4" y="564.8" font-family="Liberation Sans" font-size="5.1" text-anchor="middle" fill="#333">10<tspan dy="-2" font-size="3.3">6</tspan></text>
<text x="298.5" y="564.8" font-family="Liberation Sans" font-size="5.1" text-anchor="middle" fill="#333">10<tspan dy="-2" font-size="3.3">7</tspan></text>
<text x="193.5" y="456.3" font-family="Liberation Sans" font-size="5.1" text-anchor="middle" fill="#333" transform="rotate(-90 193.5 456.3)">10<tspan dy="-2" font-size="3.3">7</tspan></text>
<text x="193.5" y="482.2" font-family="Liberation Sans" font-size="5.1" text-anchor="middle" fill="#333" transform="rotate(-90 193.5 482.2)">10<tspan dy="-2" font-size="3.3">6</tspan></text>
<text x="193.5" y="508.1" font-family="Liberation Sans" font-size="5.1" text-anchor="middle" fill="#333" transform="rotate(-90 193.5 508.1)">10<tspan dy="-2" font-size="3.3">5</tspan></text>
<text x="193.5" y="534.0" font-family="Liberation Sans" font-size="5.1" text-anchor="middle" fill="#333" transform="rotate(-90 193.5 534.0)">10<tspan dy="-2" font-size="3.3">4</tspan></text>
<text x="201.29999999999998" y="457.79999999999995" font-family="Liberation Sans" font-size="5.4" font-weight="normal" text-anchor="start" fill="#333" stroke="#333" stroke-width="0.1">Q1-UL(2.59%)</text>
<text x="301.2" y="457.79999999999995" font-family="Liberation Sans" font-size="5.4" font-weight="normal" text-anchor="end" fill="#333" stroke="#333" stroke-width="0.1">Q1-UR(23.05%)</text>
<text x="201.29999999999998" y="552.4" font-family="Liberation Sans" font-size="5.4" font-weight="normal" text-anchor="start" fill="#333" stroke="#333" stroke-width="0.1">Q1-LL(72.22%)</text>
<text x="301.2" y="552.4" font-family="Liberation Sans" font-size="5.4" font-weight="normal" text-anchor="end" fill="#333" stroke="#333" stroke-width="0.1">Q1-LR(2.14%)</text>
<text transform="translate(246.4 578.2) scale(1 1.12)" x="0" y="0" font-family="Liberation Serif" font-size="11.0" font-weight="normal" text-anchor="middle" fill="#111" stroke="#111" stroke-width="0.22">Hyper-osmolarity+SiRNA-NC</text>
<ellipse cx="370" cy="530.4" rx="14.5" ry="7.6" transform="rotate(-32 370 530.4)" fill="#ee1c1c" filter="url(#b3)"/>
<ellipse cx="370" cy="530.4" rx="12" ry="6" transform="rotate(-32 370 530.4)" fill="#ee1c1c" filter="url(#b2)"/>
<ellipse cx="400.8" cy="486.1" rx="10" ry="5.6" transform="rotate(-25 400.8 486.1)" fill="#ee1c1c" opacity="0.6" filter="url(#b3)"/>
<ellipse cx="401.8" cy="486.1" rx="6.5" ry="3.6" transform="rotate(-25 400.8 486.1)" fill="#ee1c1c" opacity="0.55" filter="url(#b2)"/>
<path d="M368.6,530.4h.8M370.9,533.6h.8M365.5,525.1h.8M371.7,527.9h.8M368.8,531.8h.8M374.5,533.9h.8M374.8,528.0h.8M362.4,529.7h.8M374.9,534.4h.8M370.0,529.8h.8M370.2,522.4h.8M369.0,533.7h.8M375.5,525.7h.8M373.2,529.7h.8M372.7,522.7h.8M370.3,522.0h.8M350.3,539.4h.8M365.8,537.8h.8M371.6,522.8h.8M373.4,522.8h.8M368.7,529.6h.8M372.8,533.1h.8M375.3,529.0h.8M375.7,529.4h.8M363.9,530.3h.8M367.9,534.4h.8M374.0,540.6h.8M361.6,529.7h.8M378.8,532.6h.8M375.6,531.5h.8M379.7,523.8h.8M358.8,534.5h.8M373.1,520.6h.8M370.9,531.2h.8M369.6,534.6h.8M379.7,536.9h.8M372.8,525.3h.8M364.1,529.6h.8M375.2,524.1h.8M371.3,533.6h.8M364.3,532.4h.8M354.6,534.2h.8M367.1,534.5h.8M378.3,525.1h.8M372.2,529.9h.8M379.7,529.2h.8M369.4,525.3h.8M377.2,528.0h.8M378.5,525.0h.8M382.7,520.5h.8M381.4,523.9h.8M363.7,528.2h.8M372.4,536.6h.8M377.4,529.5h.8M355.2,543.5h.8M372.5,525.8h.8M365.6,533.1h.8M379.4,518.8h.8M370.3,537.6h.8M366.0,530.9h.8M367.7,525.1h.8M368.6,524.7h.8M376.2,526.6h.8M386.6,521.6h.8M376.3,519.4h.8M369.9,532.2h.8M378.0,516.3h.8M378.3,528.4h.8M382.4,526.5h.8M369.1,528.1h.8M361.8,536.6h.8M373.6,539.1h.8M366.5,534.3h.8M358.1,535.7h.8M373.8,532.5h.8M380.0,523.9h.8M363.3,537.0h.8M374.8,530.1h.8M367.9,537.9h.8M372.3,532.7h.8M380.3,527.2h.8M377.2,537.6h.8M371.0,528.2h.8M374.4,535.7h.8M372.1,531.9h.8M377.1,523.2h.8M358.7,539.1h.8M370.1,527.0h.8M377.5,529.0h.8M364.3,536.7h.8M365.0,525.5h.8M373.0,528.3h.8M366.1,535.7h.8M372.0,526.0h.8M375.3,532.6h.8M366.0,535.0h.8M375.5,539.2h.8M358.7,541.2h.8M367.6,531.3h.8M383.2,522.1h.8M384.5,518.9h.8M371.2,527.0h.8M365.3,533.6h.8M368.5,532.4h.8M360.2,547.4h.8M373.1,537.9h.8M363.7,535.9h.8M389.9,513.3h.8M358.3,534.8h.8M375.0,531.1h.8M378.3,523.8h.8M357.8,535.7h.8M379.8,526.8h.8M356.3,538.8h.8M384.9,532.6h.8M374.7,529.2h.8M359.3,532.5h.8M371.6,532.2h.8M372.9,526.0h.8M360.1,532.4h.8M363.5,537.9h.8M353.1,539.1h.8M376.8,534.4h.8M372.9,534.0h.8M365.4,529.2h.8M369.0,539.3h.8M378.1,528.0h.8M393.1,515.8h.8M375.1,528.9h.8M374.1,540.4h.8M377.1,518.4h.8M368.3,533.8h.8M372.2,521.7h.8M349.7,532.8h.8M369.3,530.3h.8M370.5,525.9h.8M356.6,527.8h.8M373.2,530.4h.8M378.8,529.2h.8M372.0,536.5h.8M367.4,528.4h.8M365.0,530.4h.8M355.3,540.4h.8M370.9,527.9h.8M365.9,535.0h.8M382.0,523.1h.8M365.0,530.3h.8M366.4,525.8h.8M369.3,531.2h.8M385.1,526.1h.8M375.5,523.1h.8M371.9,523.0h.8M373.2,530.7h.8M369.5,541.5h.8M369.3,520.5h.8M372.9,526.4h.8M371.1,532.2h.8M367.7,520.7h.8M363.8,538.4h.8M383.7,532.2h.8M377.5,514.5h.8M370.7,519.6h.8M381.8,524.4h.8M367.0,543.2h.8M369.9,520.2h.8M370.3,526.3h.8M369.6,528.1h.8M376.1,518.9h.8M376.6,536.1h.8M364.8,534.8h.8M369.7,526.8h.8M374.7,528.0h.8M367.7,541.4h.8M375.1,526.3h.8M363.7,530.1h.8M378.2,524.5h.8M372.7,527.7h.8M374.0,527.3h.8M374.9,526.4h.8M377.4,529.4h.8M367.1,527.6h.8M361.7,531.6h.8M365.3,538.1h.8M373.5,536.7h.8M385.9,520.6h.8M358.3,535.6h.8M365.8,524.9h.8M369.0,532.6h.8M364.9,529.4h.8M369.1,540.7h.8M366.9,527.9h.8M369.7,535.7h.8M366.4,535.3h.8M376.9,530.2h.8M378.4,522.2h.8M375.9,522.4h.8M370.2,536.8h.8M375.7,526.8h.8M363.1,537.8h.8M363.4,529.5h.8M366.1,534.2h.8M356.1,541.0h.8M369.8,527.4h.8M378.7,528.3h.8M364.2,530.4h.8M371.1,521.5h.8M366.1,529.4h.8M371.0,530.9h.8M373.0,534.7h.8M370.8,528.2h.8M363.3,538.5h.8M377.2,533.8h.8M364.9,533.8h.8M369.4,530.3h.8M365.9,523.7h.8M377.3,529.4h.8M383.3,534.3h.8M367.7,531.6h.8M374.8,537.9h.8M359.1,539.8h.8M353.5,526.7h.8M352.6,533.8h.8M375.3,522.4h.8M365.6,526.8h.8M371.6,523.4h.8M376.7,520.8h.8M365.0,534.2h.8M373.6,535.9h.8M367.9,525.2h.8M364.7,530.6h.8M376.0,528.7h.8M371.3,534.3h.8M366.0,532.2h.8M375.0,535.6h.8M368.5,529.5h.8M364.4,537.6h.8M366.8,534.3h.8M359.3,542.7h.8M358.8,533.2h.8M374.1,520.6h.8M369.6,531.0h.8M366.3,540.0h.8M375.6,516.2h.8M361.9,539.8h.8M360.0,534.5h.8M372.6,532.5h.8M368.7,531.7h.8M367.7,538.8h.8M367.4,533.9h.8M366.7,533.0h.8M368.4,530.5h.8M364.9,537.9h.8M380.4,525.2h.8M377.1,530.5h.8M377.2,527.6h.8M373.6,532.8h.8M368.1,526.3h.8M365.6,522.9h.8M371.0,532.0h.8M379.0,525.6h.8M376.5,526.4h.8M359.4,529.3h.8M359.9,529.3h.8M373.9,526.8h.8M374.1,528.2h.8M379.8,530.0h.8M364.8,532.1h.8M362.3,526.4h.8M377.6,532.1h.8M368.8,528.5h.8M371.9,516.5h.8M371.6,530.2h.8M369.4,538.3h.8M376.1,525.2h.8M368.5,529.3h.8M363.2,527.5h.8M382.1,528.4h.8M372.9,522.7h.8M389.3,529.1h.8M369.1,526.1h.8M365.0,535.8h.8M363.6,534.2h.8M373.9,519.8h.8M387.8,527.8h.8M358.0,530.3h.8M365.5,527.6h.8M361.9,521.5h.8M372.8,538.4h.8M361.6,534.2h.8M361.2,539.4h.8M373.2,538.9h.8M370.5,528.0h.8M372.6,526.0h.8M361.4,537.4h.8M369.2,531.8h.8M371.4,526.8h.8M377.2,535.3h.8M366.5,542.0h.8M366.4,528.5h.8M387.3,520.5h.8M381.5,527.6h.8M358.6,538.2h.8M363.1,527.4h.8M357.9,538.5h.8M375.1,529.4h.8M365.9,528.6h.8M361.8,532.5h.8M362.3,534.1h.8M367.7,527.0h.8M366.5,528.4h.8M371.2,532.4h.8M372.4,531.5h.8M357.6,536.1h.8M373.5,531.7h.8M359.3,538.0h.8M378.0,524.5h.8M370.4,532.6h.8M373.4,532.0h.8M370.9,530.7h.8M364.1,533.1h.8M378.2,524.2h.8M367.6,529.2h.8M373.4,523.6h.8M374.0,522.8h.8M363.1,535.8h.8M371.6,531.0h.8M376.4,524.2h.8M370.9,524.9h.8M380.3,527.4h.8M374.2,528.8h.8M363.7,532.5h.8M373.4,528.1h.8M367.5,524.6h.8M369.6,526.9h.8M362.1,534.5h.8M358.8,541.2h.8M375.8,526.5h.8M360.8,531.0h.8M363.0,521.6h.8M372.9,532.2h.8M366.6,529.8h.8M372.1,531.0h.8M377.7,525.7h.8M364.1,531.6h.8M375.1,535.7h.8M365.2,527.7h.8M358.8,526.0h.8M369.0,523.7h.8M356.6,528.1h.8M363.6,537.5h.8M356.6,529.3h.8M370.4,528.3h.8M374.8,531.4h.8M366.8,525.4h.8M370.4,532.9h.8M362.4,527.3h.8M376.7,524.0h.8M367.2,532.2h.8M377.8,527.0h.8M369.3,534.5h.8M388.3,526.5h.8M371.9,523.1h.8M393.2,509.4h.8M365.7,529.3h.8M382.3,525.0h.8M360.7,537.6h.8M373.0,526.8h.8M359.7,532.9h.8M367.0,532.4h.8M368.2,535.5h.8M359.2,527.8h.8M368.1,538.9h.8M371.7,542.0h.8M370.6,523.7h.8M364.8,535.0h.8M367.6,544.8h.8M364.8,537.4h.8M379.9,523.6h.8M362.4,533.7h.8M374.7,532.2h.8M367.0,524.7h.8M368.7,527.6h.8M353.1,537.2h.8M361.5,538.9h.8M388.1,529.2h.8M364.9,531.1h.8M377.4,531.5h.8M366.7,531.7h.8M385.1,520.4h.8M366.9,533.0h.8M371.5,523.9h.8M365.4,526.9h.8M372.6,538.9h.8M374.9,526.8h.8M362.8,533.2h.8M375.9,523.6h.8M376.7,518.7h.8M372.2,538.5h.8M358.9,543.8h.8M356.9,538.1h.8M370.8,534.4h.8M366.2,533.0h.8M363.3,533.4h.8M360.8,534.0h.8M364.7,535.0h.8M377.5,533.5h.8M364.7,532.0h.8M369.6,529.0h.8M365.8,524.5h.8M370.4,525.2h.8M359.5,528.4h.8M377.7,524.8h.8M378.7,526.5h.8M355.5,533.6h.8M373.4,524.1h.8M362.0,534.4h.8M366.3,527.2h.8M366.6,530.0h.8M353.2,543.6h.8M367.5,539.0h.8M358.2,529.2h.8M374.4,519.1h.8M367.0,535.5h.8M363.7,525.4h.8M370.8,528.8h.8M380.4,527.1h.8M387.1,510.8h.8M367.2,526.3h.8M380.0,528.6h.8M373.3,524.1h.8M359.9,525.7h.8M383.1,525.0h.8M370.5,535.2h.8M377.6,530.9h.8M357.0,534.7h.8M372.2,530.9h.8M374.2,522.3h.8M376.3,538.5h.8M376.9,530.8h.8M371.7,533.5h.8M382.8,523.0h.8M376.4,521.7h.8M376.3,531.4h.8M367.4,538.0h.8M363.3,530.2h.8M374.7,537.9h.8M374.4,532.7h.8M365.1,533.9h.8M360.4,533.3h.8M375.7,526.6h.8M379.6,523.3h.8M371.7,536.2h.8M361.8,527.3h.8M380.1,526.4h.8M355.1,540.0h.8M371.4,539.0h.8M363.5,531.3h.8M361.1,530.2h.8M361.6,527.8h.8M358.9,528.6h.8M355.8,530.8h.8M364.7,530.0h.8M362.6,537.6h.8M368.6,528.9h.8M370.7,538.6h.8M372.8,531.2h.8M350.4,539.1h.8M353.9,538.2h.8M371.0,526.1h.8M371.1,524.2h.8M370.2,521.8h.8M369.2,533.2h.8M373.4,527.6h.8M382.5,520.4h.8M360.1,521.6h.8M381.4,521.3h.8M365.0,540.7h.8M378.9,525.5h.8M361.0,538.3h.8M362.8,528.5h.8M372.1,517.5h.8M375.1,529.7h.8M385.1,522.8h.8M353.6,536.1h.8M371.3,531.5h.8M372.0,518.5h.8M370.1,535.6h.8M385.3,531.0h.8M370.0,536.4h.8M384.8,527.6h.8M377.1,530.5h.8M361.0,528.2h.8M376.0,524.8h.8M368.4,528.3h.8M367.8,533.0h.8M363.1,535.1h.8M371.5,529.0h.8M366.7,536.7h.8M381.6,519.9h.8M380.8,528.5h.8M349.7,539.0h.8M367.5,536.2h.8M372.5,531.4h.8M372.2,524.1h.8M361.8,528.9h.8M368.5,530.7h.8M369.4,526.8h.8M378.5,530.0h.8M382.5,526.5h.8M372.9,532.2h.8M372.7,525.2h.8M383.2,531.5h.8M383.8,521.9h.8M373.3,530.6h.8M371.5,532.8h.8M368.7,530.2h.8M382.6,523.4h.8M372.6,533.5h.8M371.8,530.9h.8M366.6,525.9h.8M367.0,526.1h.8M368.6,524.9h.8M378.2,529.3h.8M371.7,528.8h.8M368.1,520.9h.8M362.0,534.6h.8M372.2,528.6h.8M363.3,535.3h.8M364.2,528.2h.8M371.8,528.1h.8M379.9,527.8h.8M375.9,528.5h.8M361.8,530.4h.8M366.8,548.0h.8M362.0,534.3h.8M366.8,530.9h.8M361.4,525.6h.8M359.7,529.3h.8M367.5,528.3h.8M365.7,534.2h.8M368.2,536.6h.8M367.9,533.0h.8M362.4,538.7h.8M368.2,533.8h.8M371.9,528.3h.8M370.6,528.0h.8M381.6,528.2h.8M370.5,523.7h.8M360.7,532.6h.8M369.4,533.2h.8M366.6,538.9h.8M365.1,522.5h.8M360.4,522.4h.8M363.4,531.5h.8M365.0,531.8h.8M365.8,529.8h.8M383.4,528.6h.8M365.1,540.3h.8M356.7,534.3h.8M375.1,515.0h.8M370.9,523.0h.8M368.6,530.3h.8M379.8,519.9h.8M371.0,533.1h.8M366.2,528.3h.8M369.8,531.0h.8M373.8,522.9h.8M367.7,533.6h.8M368.4,530.4h.8M368.2,527.8h.8M365.5,535.6h.8M365.2,539.7h.8M368.4,524.5h.8M372.4,529.8h.8M378.1,531.6h.8M365.7,529.2h.8M363.4,529.2h.8M365.5,534.8h.8M368.9,528.4h.8M365.7,535.0h.8M364.0,528.5h.8M368.3,530.0h.8M364.6,538.3h.8M376.0,526.9h.8M372.2,531.9h.8M372.0,534.0h.8M381.7,523.5h.8M375.2,531.9h.8M364.9,527.5h.8M372.5,520.3h.8M384.6,526.0h.8M371.4,529.8h.8M379.9,519.1h.8M360.5,533.1h.8M365.7,527.6h.8M371.4,530.3h.8M368.2,540.2h.8M357.2,531.5h.8M372.1,528.0h.8M371.4,526.2h.8M361.2,532.4h.8M366.5,535.4h.8M368.5,535.5h.8M376.6,531.9h.8M378.2,529.5h.8M374.1,525.0h.8M363.7,524.4h.8M370.4,526.5h.8M374.1,530.7h.8M358.1,532.3h.8M366.3,529.9h.8M368.3,525.2h.8M366.2,523.6h.8M356.8,542.6h.8M359.6,533.9h.8M356.7,531.1h.8M366.2,530.5h.8M377.9,527.9h.8M370.0,534.5h.8M378.8,527.2h.8M369.7,536.1h.8M383.9,525.3h.8M384.6,526.3h.8M373.2,522.5h.8M362.1,535.0h.8M356.9,535.3h.8M374.4,524.0h.8M370.4,522.8h.8M369.1,536.5h.8M372.2,530.6h.8M385.0,528.1h.8M367.1,539.4h.8M365.7,533.0h.8M372.7,534.5h.8M363.2,537.1h.8M375.6,531.3h.8M371.0,535.2h.8M367.8,538.0h.8M369.0,523.4h.8M373.3,529.3h.8M365.7,529.1h.8M364.8,525.8h.8M379.0,518.7h.8M368.2,537.7h.8M375.8,530.7h.8M379.8,522.6h.8M364.8,538.2h.8M374.7,525.7h.8M364.2,540.7h.8M370.7,522.5h.8M371.9,521.4h.8M363.9,528.1h.8M363.5,529.9h.8M367.5,535.9h.8M373.6,531.6h.8M376.7,524.2h.8M371.9,532.2h.8M384.1,526.5h.8M382.1,528.4h.8M373.0,518.8h.8M376.6,527.4h.8M369.1,528.1h.8M368.1,533.9h.8M372.2,520.9h.8M370.1,527.3h.8M364.3,536.1h.8M366.1,529.3h.8M365.3,534.8h.8M367.3,526.2h.8M363.7,533.3h.8M370.3,524.5h.8M371.4,525.1h.8M386.7,514.9h.8M365.0,534.6h.8M365.7,537.5h.8M381.6,521.1h.8M369.9,527.6h.8M373.5,536.0h.8M374.0,523.0h.8M383.6,528.2h.8M371.8,525.7h.8M368.5,527.0h.8M372.5,527.1h.8M356.7,543.7h.8M374.0,533.8h.8M369.5,531.7h.8M378.7,527.1h.8M379.8,541.7h.8M369.2,531.8h.8M380.1,519.7h.8M359.3,529.3h.8M375.2,530.5h.8M371.9,521.9h.8M379.9,530.7h.8M369.4,530.9h.8M375.6,528.9h.8M371.8,523.4h.8M365.8,526.4h.8M375.7,529.7h.8M370.0,532.0h.8M361.3,540.5h.8M367.1,532.9h.8M375.9,522.6h.8M378.6,525.7h.8M371.6,532.4h.8M362.8,538.1h.8M373.0,534.2h.8M367.6,529.9h.8M372.4,528.6h.8M361.4,534.7h.8M378.6,524.5h.8M365.7,537.0h.8M351.9,530.2h.8M370.4,531.1h.8M369.4,526.0h.8M365.5,525.6h.8M367.6,523.1h.8M369.6,532.1h.8M356.5,536.0h.8M379.3,533.0h.8M360.4,538.3h.8M358.1,530.5h.8M382.7,526.1h.8M364.9,534.7h.8M374.9,528.3h.8M387.1,523.0h.8M348.5,542.3h.8M364.4,532.8h.8M368.5,527.8h.8M365.8,540.4h.8M372.5,525.2h.8M376.4,530.1h.8M376.2,520.8h.8M373.9,524.6h.8M377.6,524.6h.8M354.3,540.4h.8M357.1,537.3h.8M368.6,529.1h.8M356.9,532.5h.8M363.5,533.1h.8M380.7,527.6h.8M369.8,537.4h.8M362.2,539.0h.8M369.4,532.1h.8M372.8,525.0h.8M375.5,526.9h.8M386.0,518.7h.8M380.4,527.4h.8M365.2,540.8h.8M357.2,526.3h.8M378.5,530.9h.8M369.7,529.2h.8M382.7,526.3h.8M367.2,536.1h.8M360.0,533.6h.8M357.3,526.4h.8M364.8,540.3h.8M361.0,533.0h.8M364.0,538.8h.8M371.2,532.3h.8M366.4,526.3h.8M365.3,537.9h.8M371.5,533.7h.8M350.7,548.5h.8M371.9,541.0h.8M366.5,532.7h.8M372.5,524.1h.8M374.5,524.1h.8M380.9,527.9h.8M371.7,525.4h.8M369.3,532.5h.8M354.5,537.1h.8M373.4,521.4h.8M377.4,522.4h.8M369.5,524.5h.8M374.5,530.1h.8M381.2,530.7h.8M379.2,525.8h.8M364.7,540.9h.8M359.9,534.4h.8M376.2,528.9h.8M381.1,523.5h.8M357.6,536.7h.8M370.4,528.3h.8M379.2,523.3h.8M361.2,538.5h.8M366.2,542.0h.8M368.5,523.8h.8M383.3,535.0h.8M358.3,542.6h.8M373.8,529.0h.8M373.6,530.8h.8M368.6,538.9h.8M365.4,543.9h.8M377.7,519.1h.8M373.4,536.0h.8M366.2,531.9h.8M370.0,536.7h.8M365.8,533.0h.8M373.3,527.2h.8M360.7,528.9h.8M356.6,532.4h.8M356.3,535.0h.8M372.2,529.3h.8M361.8,530.0h.8M359.7,529.3h.8M363.1,538.6h.8M360.3,536.6h.8M371.6,542.6h.8M358.0,539.0h.8M365.8,528.8h.8M372.6,529.6h.8M363.6,536.7h.8M375.9,533.8h.8M369.3,538.8h.8M363.8,523.5h.8M373.4,527.8h.8M366.1,537.9h.8M369.2,536.4h.8M371.3,533.7h.8M375.9,529.3h.8M365.1,538.5h.8M375.0,538.1h.8M375.2,531.3h.8M363.7,532.1h.8M367.8,525.4h.8M361.6,535.1h.8M370.0,531.5h.8M376.8,524.0h.8M374.4,526.9h.8M369.3,532.2h.8M355.8,539.6h.8M363.3,529.5h.8M355.8,536.9h.8M359.1,542.0h.8M364.2,524.9h.8M367.2,536.3h.8M365.2,531.9h.8M367.1,531.5h.8M358.1,537.6h.8M373.3,544.3h.8M367.4,529.5h.8M376.5,525.5h.8M369.6,525.9h.8M379.3,521.2h.8M375.4,533.2h.8M367.9,531.7h.8M375.7,530.5h.8M362.9,535.8h.8M361.6,531.6h.8M368.5,538.0h.8M387.5,533.6h.8M367.6,527.4h.8M367.2,540.9h.8M358.5,535.8h.8M370.3,539.7h.8M365.6,539.1h.8M378.7,524.0h.8M369.5,522.4h.8M368.9,529.9h.8M353.1,543.2h.8M368.3,522.3h.8M358.4,533.6h.8M365.6,531.5h.8M360.9,530.6h.8M371.0,527.2h.8M368.7,530.0h.8M372.8,527.8h.8M376.2,527.1h.8M379.2,531.4h.8M362.1,540.3h.8M380.0,518.9h.8M368.9,529.1h.8M374.3,530.5h.8M368.5,538.4h.8M363.7,533.6h.8M381.9,533.6h.8M368.3,535.7h.8M367.7,523.3h.8M360.4,529.9h.8M365.5,531.0h.8M373.3,535.3h.8M379.4,538.9h.8M370.2,534.5h.8M376.6,534.5h.8M369.4,535.3h.8M379.6,520.5h.8M370.7,532.7h.8M364.8,528.9h.8M382.2,521.5h.8M380.8,520.9h.8M370.5,534.4h.8M366.4,527.8h.8M365.7,534.6h.8M365.6,533.6h.8M352.9,538.0h.8M367.5,529.2h.8M360.9,531.3h.8M374.1,535.9h.8M359.6,535.4h.8M377.6,527.5h.8M368.2,529.0h.8M369.8,529.9h.8M353.1,537.1h.8M359.6,543.9h.8M373.8,523.8h.8M381.6,536.5h.8M368.8,538.2h.8M371.9,527.9h.8M361.0,533.0h.8M361.6,523.1h.8M372.9,526.8h.8M372.2,526.8h.8M386.8,510.9h.8M365.2,537.2h.8M384.0,516.3h.8M380.5,518.9h.8M379.2,525.1h.8M389.9,527.7h.8M372.7,544.7h.8M361.4,534.1h.8M380.8,519.7h.8M365.9,533.7h.8M374.1,529.9h.8M365.3,534.4h.8M378.1,533.5h.8M369.2,524.1h.8M368.7,527.9h.8M375.1,518.1h.8M371.3,523.8h.8M380.7,527.9h.8M372.8,531.4h.8M369.3,534.5h.8M371.4,533.5h.8M364.4,520.5h.8M370.1,538.6h.8M380.4,524.5h.8M368.3,529.6h.8M375.8,529.9h.8M364.8,537.2h.8M376.2,521.3h.8M369.8,533.0h.8M374.0,525.6h.8M365.2,530.9h.8M373.7,530.4h.8M366.5,525.2h.8M364.0,537.6h.8M362.1,536.6h.8M366.0,529.6h.8M374.3,536.8h.8M371.3,528.0h.8M361.0,538.8h.8M379.4,527.8h.8M379.3,527.2h.8M360.8,535.9h.8M375.4,530.9h.8M366.4,532.3h.8M375.6,533.8h.8M378.6,528.6h.8M370.3,524.7h.8M362.1,534.8h.8M378.2,527.4h.8M370.2,522.1h.8M362.6,541.1h.8M366.6,525.4h.8M376.8,527.6h.8M393.6,522.5h.8M372.0,528.3h.8M371.4,529.0h.8M362.3,540.3h.8M365.2,518.5h.8M363.6,529.9h.8M376.7,526.0h.8M376.5,517.7h.8M365.1,539.2h.8M362.9,529.1h.8M364.5,529.7h.8M376.5,532.4h.8M358.3,536.2h.8M370.3,530.7h.8M376.1,527.2h.8M363.3,528.6h.8M356.4,536.9h.8M372.3,533.9h.8M373.0,541.1h.8M368.3,528.8h.8M370.3,525.0h.8M366.4,521.4h.8M374.9,527.7h.8M371.8,530.1h.8M359.0,532.4h.8M382.1,525.5h.8M366.9,534.6h.8M377.6,536.3h.8M378.7,527.2h.8M371.2,539.3h.8M367.2,527.4h.8M359.4,532.3h.8M369.3,535.0h.8M379.2,530.9h.8M373.1,533.0h.8M387.9,524.1h.8M377.5,517.5h.8M363.0,530.7h.8M351.6,542.3h.8M378.4,522.3h.8M369.3,526.2h.8M367.3,533.6h.8M364.5,540.2h.8M357.4,540.0h.8M370.2,538.3h.8M370.2,519.0h.8M350.7,537.0h.8M366.0,531.8h.8M371.9,532.9h.8M356.1,529.3h.8M370.9,527.9h.8M367.7,528.3h.8M372.4,537.0h.8M355.7,532.7h.8M378.3,533.7h.8M365.5,526.4h.8M356.7,540.1h.8M366.6,544.3h.8M386.8,521.1h.8M373.1,527.8h.8M377.9,525.4h.8M373.8,535.4h.8M379.5,536.0h.8M357.3,535.3h.8M365.8,537.6h.8M368.0,534.9h.8M361.6,535.1h.8M390.0,526.8h.8M357.8,540.0h.8M374.5,524.9h.8M363.9,537.8h.8M372.0,532.1h.8M374.6,540.2h.8M362.4,532.4h.8M375.4,531.0h.8M363.6,541.5h.8M359.9,536.8h.8M366.1,529.0h.8M372.2,516.3h.8M362.7,530.1h.8M379.9,532.6h.8M378.8,532.5h.8M354.9,540.7h.8M359.5,534.9h.8M371.9,529.7h.8M374.7,516.7h.8M360.6,528.3h.8M361.1,541.4h.8M375.1,535.7h.8M378.4,525.5h.8M365.7,538.5h.8M362.3,528.7h.8M362.3,535.9h.8M378.9,525.1h.8M378.7,525.4h.8M373.7,542.9h.8M383.1,523.3h.8M360.3,527.7h.8M372.2,527.7h.8M374.0,529.6h.8M375.8,533.0h.8M370.4,526.2h.8M366.1,536.0h.8M364.3,537.9h.8M374.9,527.1h.8M360.2,526.9h.8M358.2,528.9h.8M369.1,528.6h.8M365.7,537.8h.8M371.0,530.0h.8M376.4,532.0h.8M360.6,540.1h.8M355.5,535.2h.8M378.7,528.7h.8M375.1,528.2h.8M376.1,518.2h.8M368.0,531.9h.8M386.7,525.6h.8M375.4,522.9h.8M386.8,522.5h.8M368.7,543.9h.8M358.0,533.2h.8M366.0,527.6h.8M374.3,529.2h.8M375.4,537.3h.8M362.0,542.8h.8M367.8,539.7h.8M388.9,531.1h.8M365.8,526.7h.8M372.2,528.8h.8M359.5,540.9h.8M367.1,540.0h.8M376.0,525.1h.8M369.7,529.3h.8M374.4,544.5h.8M363.6,534.7h.8M376.0,524.6h.8M362.4,527.9h.8M380.0,528.0h.8M369.6,522.5h.8M374.2,529.3h.8M364.3,526.5h.8M367.5,527.2h.8M370.7,530.3h.8M369.8,535.3h.8M370.8,532.8h.8M375.4,532.5h.8M362.5,533.2h.8M376.8,527.0h.8M379.6,528.4h.8M369.1,535.8h.8M370.5,535.3h.8M385.6,526.6h.8M382.1,514.4h.8M365.5,531.7h.8M368.1,533.6h.8M370.1,536.3h.8M377.9,527.7h.8M364.3,536.9h.8M375.6,528.9h.8M373.6,535.7h.8M365.3,531.4h.8M375.9,529.6h.8M375.2,525.6h.8M357.8,531.3h.8M368.9,535.4h.8M371.1,519.9h.8M373.5,527.7h.8M368.1,543.5h.8M373.9,532.5h.8M386.4,517.0h.8M370.9,537.9h.8M361.1,536.4h.8M372.7,534.0h.8M370.6,525.1h.8M378.8,529.5h.8M361.0,532.3h.8M363.5,528.2h.8M376.6,524.5h.8M365.5,527.6h.8M370.9,537.9h.8M371.3,520.8h.8M364.7,537.2h.8M365.2,530.4h.8M360.8,528.9h.8M369.7,528.5h.8M377.8,525.2h.8M365.0,537.3h.8M377.6,521.7h.8M357.0,535.9h.8M364.6,542.7h.8M359.6,535.2h.8M382.4,527.4h.8M364.5,529.6h.8M368.2,530.3h.8M380.0,523.3h.8M363.0,540.1h.8M376.7,525.0h.8M375.5,527.2h.8M361.4,535.3h.8M360.5,532.9h.8M364.3,535.8h.8M368.1,524.4h.8M363.6,534.4h.8M373.4,528.7h.8M357.8,545.0h.8M386.2,528.9h.8M375.4,530.7h.8M365.9,534.0h.8M362.4,535.8h.8M361.5,538.9h.8M369.4,534.9h.8M370.1,527.8h.8M373.0,522.2h.8M366.8,529.5h.8M375.0,526.9h.8M373.2,531.3h.8M351.4,537.0h.8M373.3,533.8h.8M377.2,533.0h.8M368.7,531.8h.8M365.5,530.9h.8M362.9,531.9h.8M367.1,528.7h.8M365.8,523.2h.8M373.4,529.2h.8M372.0,526.7h.8M368.9,536.4h.8M373.8,538.8h.8M359.6,535.5h.8M360.2,532.2h.8M363.3,532.0h.8M372.7,522.5h.8M370.7,522.1h.8M370.4,537.3h.8M373.9,529.5h.8M375.8,529.9h.8M377.8,533.1h.8M362.6,534.6h.8M376.3,530.6h.8M377.1,533.1h.8M363.2,527.3h.8M378.8,524.9h.8M366.3,532.9h.8M369.4,536.2h.8M377.0,527.7h.8M373.8,528.2h.8M371.4,516.7h.8M361.8,535.3h.8M364.8,528.5h.8M371.9,523.9h.8M371.8,529.9h.8M368.4,526.9h.8M371.6,536.0h.8M376.1,531.8h.8M365.3,524.1h.8M366.4,531.8h.8M381.8,529.2h.8M370.9,525.2h.8M370.3,528.8h.8M365.3,526.6h.8M373.2,528.3h.8M372.0,521.2h.8M371.1,549.5h.8M364.6,535.3h.8M370.6,524.7h.8M381.9,522.6h.8M375.5,536.8h.8M363.3,531.9h.8M364.3,526.5h.8M373.1,531.0h.8M372.9,532.2h.8M376.8,528.0h.8M371.3,536.2h.8M368.6,538.9h.8M370.5,534.2h.8M377.2,513.6h.8M367.7,529.7h.8M380.9,521.4h.8M385.3,512.6h.8M371.5,527.4h.8M372.1,526.0h.8M362.4,525.2h.8M367.1,524.1h.8M361.1,536.4h.8M371.7,534.9h.8M361.6,537.9h.8M371.5,527.8h.8M364.2,533.6h.8M375.2,525.1h.8M375.2,525.7h.8M382.1,523.0h.8M364.9,524.9h.8M361.0,538.1h.8M369.1,532.5h.8M364.9,532.8h.8M366.4,534.3h.8M373.0,538.6h.8M367.9,537.8h.8M361.5,533.2h.8M367.2,539.0h.8M373.4,529.0h.8M369.0,525.2h.8M383.1,529.7h.8M369.8,530.6h.8M374.1,526.9h.8M367.4,529.3h.8M366.4,530.0h.8M374.3,525.9h.8M365.5,529.8h.8M363.4,543.0h.8M375.6,531.6h.8M369.9,538.4h.8M374.6,535.4h.8M369.8,530.3h.8M366.5,533.0h.8M375.2,535.2h.8M380.9,524.1h.8M371.9,514.5h.8M367.3,533.4h.8M377.2,528.2h.8M368.5,528.8h.8M369.1,541.3h.8M381.0,530.6h.8M368.8,528.3h.8M373.8,527.9h.8M369.0,530.9h.8M363.5,529.8h.8M364.9,526.0h.8M376.2,531.1h.8M360.2,526.6h.8M373.3,529.6h.8M366.9,525.1h.8M360.8,545.4h.8M369.7,533.3h.8M370.5,532.3h.8M360.0,534.2h.8M357.9,532.0h.8M360.7,526.4h.8M365.1,529.6h.8M361.4,535.0h.8M367.9,527.2h.8M385.7,524.5h.8M377.0,524.2h.8M378.1,529.5h.8M361.3,532.2h.8M389.3,516.1h.8M372.9,527.4h.8M373.4,522.9h.8M365.8,539.2h.8M365.3,519.9h.8M369.7,529.6h.8M375.7,528.6h.8M372.6,529.3h.8M369.2,524.6h.8M362.3,530.6h.8M362.6,539.3h.8M379.0,528.1h.8M364.5,530.9h.8M369.7,536.7h.8M377.9,534.9h.8M362.7,533.7h.8M357.8,530.3h.8M368.1,529.8h.8M362.7,526.6h.8M370.7,528.4h.8M377.7,528.6h.8M361.8,537.6h.8M369.6,539.0h.8M368.6,528.6h.8M363.5,526.3h.8M384.0,533.1h.8M357.4,536.9h.8M367.8,528.6h.8M381.5,530.0h.8M373.3,539.5h.8M369.6,529.3h.8M370.1,526.3h.8M381.6,526.5h.8M367.1,531.2h.8M364.3,535.4h.8M361.0,536.0h.8M367.8,534.9h.8M379.2,528.9h.8M367.4,528.2h.8M367.9,531.6h.8M372.0,526.1h.8M363.7,535.3h.8M384.0,531.8h.8M373.1,523.1h.8M377.7,521.0h.8M365.7,535.4h.8M362.4,539.5h.8M370.6,532.2h.8M366.3,537.3h.8M372.7,526.8h.8M370.1,515.9h.8M372.3,528.4h.8M364.9,534.5h.8M371.7,525.4h.8M369.1,530.8h.8M375.7,533.5h.8M370.0,537.6h.8M361.7,537.2h.8M358.2,538.2h.8M380.0,535.2h.8M368.5,527.3h.8M377.2,526.1h.8M372.9,533.5h.8M373.4,518.9h.8M370.3,530.1h.8M358.6,528.7h.8M368.4,528.9h.8M364.6,533.0h.8M367.6,532.0h.8M380.9,523.4h.8M386.1,527.1h.8M375.0,523.4h.8M365.7,528.1h.8M372.7,528.3h.8M373.8,529.7h.8M370.3,528.3h.8M362.2,532.9h.8M374.6,526.6h.8M371.7,534.0h.8M369.8,522.5h.8M367.3,527.4h.8M370.6,532.2h.8M377.6,534.7h.8M365.8,531.4h.8M376.3,531.7h.8M364.5,537.6h.8M374.3,526.9h.8M369.8,534.5h.8M373.9,530.1h.8M360.7,526.9h.8M368.7,529.8h.8M371.3,525.4h.8M375.4,529.2h.8M367.2,537.3h.8M365.9,529.2h.8M371.7,529.3h.8M365.2,536.8h.8M368.1,527.5h.8M358.8,539.7h.8M371.0,530.4h.8M373.5,514.7h.8M382.2,530.2h.8M365.7,538.6h.8M361.8,529.9h.8M373.8,538.0h.8M372.6,529.0h.8M374.6,524.1h.8M384.2,530.0h.8M371.1,525.5h.8M378.2,526.9h.8M377.2,532.0h.8M370.8,525.0h.8M381.0,525.0h.8M373.8,531.4h.8M374.0,532.0h.8M370.9,528.8h.8M364.9,530.8h.8M370.4,535.5h.8M367.4,531.4h.8M370.6,532.9h.8M379.3,535.3h.8M359.8,535.6h.8M369.9,521.3h.8M381.8,522.4h.8M366.8,537.6h.8M355.2,540.8h.8M363.1,534.7h.8M374.5,531.9h.8M377.9,536.8h.8M369.6,528.8h.8M378.4,524.8h.8M363.3,513.2h.8M373.0,528.1h.8M365.4,529.7h.8M371.3,518.5h.8M394.7,521.2h.8M377.2,536.2h.8M369.7,525.7h.8M373.2,519.6h.8M377.1,532.5h.8M370.2,522.4h.8M371.1,529.0h.8M359.2,524.6h.8M360.5,533.6h.8M384.5,536.2h.8M374.0,523.6h.8M369.7,536.5h.8M375.2,529.3h.8M374.6,534.0h.8M385.6,520.7h.8M372.3,531.7h.8M361.4,523.9h.8M371.6,525.4h.8M379.6,525.4h.8M378.3,520.5h.8M373.9,519.1h.8M375.9,525.4h.8M375.6,524.9h.8M376.0,529.4h.8M373.7,530.5h.8M380.3,520.9h.8M378.9,522.9h.8M384.1,534.3h.8M359.2,525.5h.8M369.5,527.0h.8M365.5,531.4h.8M369.8,538.3h.8M380.7,530.0h.8M384.2,517.3h.8M357.6,549.1h.8M371.6,529.1h.8M354.2,533.0h.8M374.5,526.8h.8M352.7,536.1h.8M380.4,530.8h.8M378.4,540.5h.8M381.6,533.0h.8M381.3,527.8h.8M356.8,530.0h.8M365.5,534.6h.8M370.9,531.9h.8M371.0,532.4h.8M376.9,526.1h.8M361.6,521.4h.8M374.2,523.6h.8M365.8,537.7h.8M378.0,529.1h.8M374.0,522.0h.8M367.1,529.3h.8M384.1,526.3h.8M370.4,534.7h.8M372.3,528.3h.8M375.3,531.7h.8M366.0,526.1h.8M371.8,527.8h.8M360.2,532.4h.8M368.3,531.6h.8M373.4,527.1h.8M372.2,527.0h.8M374.8,529.6h.8M377.5,533.5h.8M364.1,525.4h.8M371.4,533.9h.8M370.9,531.5h.8M356.0,534.6h.8M375.6,531.1h.8M365.7,535.1h.8M362.2,529.0h.8M371.0,530.9h.8M374.5,531.5h.8M384.0,526.8h.8M369.8,535.6h.8M360.0,537.2h.8M379.0,528.5h.8M380.4,534.3h.8M366.8,536.7h.8M372.1,535.2h.8M372.7,532.9h.8M382.3,526.1h.8M367.6,529.9h.8M367.7,537.5h.8M378.5,523.7h.8M355.9,535.8h.8M370.7,524.8h.8M355.3,537.2h.8M356.6,540.5h.8M367.4,532.4h.8M376.8,521.2h.8M355.0,539.6h.8M369.8,522.8h.8M366.6,530.6h.8M368.7,527.9h.8M387.9,517.8h.8M370.1,527.7h.8M355.0,547.3h.8M351.4,549.4h.8M357.5,530.8h.8M374.6,539.4h.8M371.8,528.3h.8M366.2,536.3h.8M369.2,534.8h.8M357.6,541.0h.8M368.9,523.7h.8M362.5,534.3h.8M367.3,533.6h.8M357.9,533.2h.8M382.6,517.9h.8M366.6,531.6h.8M371.0,536.3h.8M368.1,536.2h.8M365.9,537.1h.8M368.1,530.6h.8M370.7,532.9h.8M359.3,531.8h.8M385.4,523.5h.8M369.1,534.5h.8M364.1,521.9h.8M370.8,529.2h.8M370.5,525.9h.8M371.3,535.8h.8M367.9,529.4h.8M371.6,527.3h.8M377.0,525.1h.8M370.8,526.1h.8M363.1,538.6h.8M373.4,531.7h.8M371.5,521.5h.8M365.9,522.1h.8M371.0,523.9h.8M375.0,531.2h.8M366.2,532.7h.8M374.5,518.6h.8M374.8,528.1h.8M372.6,519.8h.8M372.7,534.7h.8M377.6,521.5h.8M372.5,538.8h.8M360.0,536.4h.8M371.7,530.3h.8M365.9,538.2h.8M380.6,533.6h.8M363.3,532.0h.8M382.1,532.7h.8M366.2,524.5h.8M370.8,535.1h.8M377.4,531.8h.8M382.3,520.4h.8M360.8,529.6h.8M371.6,534.9h.8M382.5,523.7h.8M369.8,529.8h.8M376.7,522.1h.8M369.1,530.6h.8M374.2,537.6h.8M369.8,543.9h.8M363.4,530.0h.8M367.0,535.8h.8M372.6,534.8h.8M360.2,527.5h.8M368.1,533.1h.8M359.5,536.4h.8M371.8,524.9h.8M361.6,529.7h.8M370.1,532.8h.8M391.9,523.0h.8M357.5,529.9h.8M373.1,537.0h.8M373.3,525.5h.8M380.3,531.4h.8M377.6,519.9h.8M369.9,523.5h.8M361.3,528.9h.8M364.7,525.9h.8M375.4,527.0h.8M365.2,536.1h.8M381.5,525.1h.8M365.2,531.8h.8M367.6,528.1h.8M357.2,536.4h.8M376.6,521.8h.8M356.4,538.4h.8M373.5,518.9h.8M372.3,531.2h.8M375.1,530.2h.8M370.4,521.6h.8M377.6,533.1h.8M369.4,532.8h.8M366.1,539.9h.8M369.7,539.5h.8M369.0,534.7h.8M370.9,540.0h.8M357.2,540.4h.8M352.6,534.7h.8M385.4,525.7h.8M356.0,539.1h.8M367.1,535.3h.8M384.5,524.9h.8M376.6,530.8h.8M361.2,542.1h.8M377.3,520.4h.8M369.0,543.9h.8M367.7,521.8h.8M363.7,530.3h.8M369.0,530.4h.8M374.0,542.7h.8M384.7,534.3h.8M352.5,542.3h.8M385.3,527.2h.8M359.8,530.1h.8M379.3,522.7h.8M377.5,527.1h.8M369.2,531.9h.8M368.0,546.7h.8M381.4,535.7h.8M362.2,530.5h.8M363.2,527.0h.8M380.0,530.4h.8M363.3,531.8h.8M371.0,523.1h.8M371.9,543.0h.8M360.0,532.1h.8M388.1,500.3h.8M364.6,549.7h.8M367.6,536.3h.8M389.6,511.8h.8M365.4,536.9h.8M367.1,527.6h.8M363.3,522.8h.8M378.3,532.6h.8M367.4,530.0h.8M373.7,523.3h.8M366.5,532.0h.8M385.4,520.3h.8M368.1,530.1h.8M362.1,526.8h.8M363.7,542.0h.8M364.3,534.8h.8M359.7,525.1h.8M370.6,542.4h.8M362.9,528.8h.8M364.1,531.1h.8M370.8,526.3h.8M367.0,527.9h.8M375.0,530.0h.8M374.8,533.0h.8M373.8,538.8h.8M380.9,536.8h.8M370.2,532.7h.8M362.8,535.0h.8M377.2,522.7h.8M385.9,520.7h.8M382.6,513.2h.8M365.1,529.1h.8M383.3,527.8h.8M367.4,528.0h.8M372.6,535.2h.8M378.6,524.5h.8M365.7,534.0h.8M372.4,531.1h.8M372.1,544.5h.8M369.3,544.2h.8M388.5,527.2h.8M392.1,521.5h.8M364.6,529.2h.8M366.2,540.2h.8M348.7,531.2h.8M390.3,526.7h.8M378.1,533.5h.8M377.5,524.1h.8M359.5,548.3h.8M369.3,518.7h.8M369.6,526.5h.8M367.5,529.1h.8M375.0,525.4h.8M360.4,542.3h.8M369.5,518.1h.8M377.9,533.3h.8M369.1,532.6h.8M354.9,524.3h.8M375.2,526.4h.8M373.6,526.1h.8M367.9,533.2h.8M372.8,536.3h.8M359.8,524.0h.8M366.3,521.2h.8M362.2,528.2h.8M352.8,539.2h.8M386.2,527.6h.8M373.7,536.2h.8M361.8,527.7h.8M372.9,519.0h.8M373.4,528.0h.8M364.3,529.9h.8M375.7,512.8h.8M371.7,526.8h.8M362.3,535.6h.8M373.1,527.9h.8M378.2,537.8h.8M365.3,537.0h.8M353.4,544.8h.8M352.7,546.8h.8M365.6,534.6h.8M354.7,540.2h.8M381.2,528.9h.8M369.8,530.5h.8M385.1,527.5h.8M361.1,530.9h.8M362.7,534.7h.8M349.1,524.4h.8M368.7,533.5h.8M376.3,536.1h.8M354.3,535.7h.8M355.7,541.5h.8M367.0,528.0h.8M367.6,525.6h.8M365.4,547.2h.8M377.9,523.9h.8M352.8,539.2h.8M376.8,527.7h.8M385.6,531.5h.8M367.2,528.0h.8M363.1,531.0h.8M377.9,521.7h.8M354.0,544.5h.8M367.1,528.1h.8M353.8,550.8h.8M372.9,518.6h.8M367.3,522.5h.8M347.2,526.1h.8M381.8,530.8h.8M366.5,532.1h.8M385.6,514.0h.8M357.9,539.1h.8M374.6,524.9h.8M351.8,535.0h.8M380.1,530.4h.8M347.4,533.7h.8M359.5,536.8h.8M392.3,514.0h.8M367.5,524.9h.8M395.0,509.4h.8M365.2,534.8h.8M359.2,544.3h.8M366.6,525.1h.8M356.2,522.3h.8M355.1,519.6h.8M363.3,530.2h.8M361.4,530.6h.8M366.0,543.8h.8M384.6,519.8h.8M380.9,520.9h.8M363.5,527.1h.8M379.9,529.7h.8M357.0,540.0h.8M360.9,528.1h.8M362.1,518.4h.8M372.9,545.3h.8M370.1,520.3h.8M376.2,527.3h.8M364.3,528.8h.8M367.7,526.6h.8M371.1,536.3h.8M373.5,516.8h.8M371.4,543.7h.8M390.5,520.9h.8M391.9,527.4h.8M360.7,518.6h.8M364.3,522.7h.8M378.4,540.6h.8M369.5,523.8h.8M349.8,525.7h.8M356.3,553.4h.8M378.6,523.9h.8M368.2,531.1h.8M375.4,539.3h.8M366.3,515.2h.8M373.6,511.1h.8M360.2,524.3h.8M365.4,522.1h.8M351.2,532.9h.8M377.9,523.8h.8M382.5,534.6h.8M374.8,532.4h.8M359.4,536.3h.8M360.0,541.5h.8M383.4,530.5h.8M373.3,536.3h.8M366.2,527.8h.8M378.2,531.7h.8M396.3,520.4h.8M354.4,531.5h.8M356.5,539.5h.8M363.8,546.3h.8M369.5,536.4h.8M373.0,531.6h.8M358.9,537.1h.8M365.1,532.6h.8M374.0,533.9h.8M368.3,538.7h.8M380.0,538.6h.8M373.3,506.0h.8M386.1,521.1h.8M351.2,548.5h.8M355.2,531.6h.8M384.0,518.2h.8M367.8,549.5h.8M378.5,522.1h.8M360.8,534.3h.8M382.8,513.7h.8M361.6,546.9h.8M367.4,532.9h.8M374.0,524.4h.8M391.8,536.0h.8M368.6,531.0h.8M386.8,525.1h.8M365.3,515.9h.8M366.4,534.5h.8M352.5,538.1h.8M387.1,517.4h.8M347.3,527.9h.8M367.6,526.8h.8M361.7,537.6h.8M373.7,529.6h.8M368.8,520.3h.8M361.9,532.6h.8M373.4,537.1h.8M359.2,530.3h.8M386.4,521.6h.8M353.9,537.7h.8M352.4,531.4h.8M352.7,534.2h.8M395.9,523.2h.8M389.0,528.2h.8M370.2,533.9h.8M366.8,522.9h.8M361.3,543.8h.8M357.9,539.7h.8M379.9,530.9h.8M369.1,520.3h.8M375.2,525.9h.8M351.7,524.2h.8M368.6,517.5h.8M358.8,552.8h.8M355.6,535.7h.8M371.0,530.4h.8M356.4,532.6h.8M377.4,523.3h.8M361.2,516.8h.8M367.3,539.7h.8M358.5,529.2h.8M376.4,531.7h.8M371.3,524.6h.8M384.4,535.8h.8M376.2,512.7h.8M395.8,502.6h.8M358.2,540.5h.8M370.4,533.3h.8M387.6,527.6h.8M360.8,536.8h.8M384.9,530.4h.8M385.2,528.2h.8M375.5,522.4h.8M357.7,541.8h.8M370.1,541.3h.8M359.2,533.8h.8M369.3,539.4h.8M378.1,525.6h.8M379.5,538.7h.8M354.3,546.8h.8M386.3,531.0h.8M375.4,520.2h.8M366.9,538.2h.8M363.0,533.0h.8M349.3,532.8h.8M372.0,525.4h.8M361.2,534.2h.8M372.2,526.7h.8M372.2,529.8h.8M367.3,532.0h.8M358.6,533.1h.8M345.9,535.1h.8M355.8,535.7h.8M381.9,522.9h.8M367.8,523.4h.8M379.8,539.3h.8M365.8,525.7h.8M358.7,539.8h.8M362.9,541.2h.8M352.7,526.6h.8M369.9,519.0h.8M380.5,533.0h.8M364.5,535.7h.8M382.9,518.2h.8M385.6,517.7h.8M360.4,537.2h.8M376.9,536.1h.8M380.9,526.9h.8M377.7,527.2h.8M376.3,521.9h.8M359.4,538.9h.8M401.7,517.7h.8M368.1,543.9h.8M349.2,541.1h.8M371.5,523.5h.8M363.0,533.3h.8M361.1,529.0h.8M352.3,527.7h.8M359.4,536.2h.8M378.0,519.5h.8M363.5,548.6h.8M358.3,538.6h.8M357.2,532.0h.8M375.9,530.8h.8M386.1,526.2h.8M374.1,533.4h.8M363.9,544.9h.8M377.6,530.0h.8M370.5,517.0h.8M358.5,538.8h.8M373.8,533.1h.8M370.4,528.5h.8M384.7,524.3h.8M382.7,533.1h.8M384.7,524.0h.8M378.8,527.3h.8M390.4,537.8h.8M355.9,532.5h.8M387.5,521.1h.8M362.7,528.8h.8M382.2,527.8h.8M390.9,516.5h.8M386.1,534.9h.8M350.6,533.2h.8M370.6,525.0h.8M362.9,529.0h.8M364.8,525.6h.8M358.0,541.3h.8M375.2,535.8h.8M377.2,529.6h.8M374.3,519.6h.8M365.8,535.4h.8M382.5,528.3h.8M367.0,530.6h.8M368.1,521.4h.8M382.1,529.7h.8M383.8,530.6h.8M373.1,511.8h.8M366.7,519.8h.8M359.4,535.9h.8M383.9,524.7h.8M379.6,540.2h.8M368.8,522.8h.8M351.8,534.1h.8M365.1,519.9h.8M375.9,529.5h.8M362.8,535.8h.8M373.0,523.0h.8M374.9,521.0h.8M382.0,535.8h.8M368.4,520.2h.8M371.3,530.3h.8M355.9,528.1h.8M369.4,538.5h.8M383.4,532.6h.8M377.3,543.2h.8M362.8,538.8h.8M373.4,541.5h.8M366.2,523.6h.8M368.1,521.7h.8M364.4,542.1h.8M373.2,536.0h.8M365.9,544.4h.8M360.4,519.1h.8M355.0,527.4h.8M356.5,543.3h.8M376.2,531.7h.8M364.3,538.7h.8M352.5,537.1h.8M366.1,527.8h.8M371.0,529.6h.8M376.2,529.2h.8M378.2,521.0h.8M378.0,527.8h.8M373.1,529.6h.8M357.1,531.4h.8M361.4,524.2h.8M386.0,514.9h.8M359.5,529.7h.8M380.2,536.4h.8M369.8,523.7h.8M385.1,523.4h.8M362.1,534.7h.8M372.3,531.0h.8M370.1,530.5h.8M401.0,536.1h.8M368.2,523.4h.8M362.1,542.5h.8M352.1,540.0h.8M374.9,528.9h.8M373.0,544.8h.8M376.6,522.1h.8M377.6,524.0h.8M362.9,531.2h.8M380.3,519.0h.8M373.3,537.4h.8M374.2,529.9h.8M372.2,549.6h.8M369.3,509.9h.8M378.7,513.6h.8M352.7,535.0h.8M382.3,520.3h.8M365.6,518.4h.8M380.3,521.6h.8M393.9,490.9h.8M403.8,485.1h.8M409.4,484.9h.8M409.4,481.8h.8M403.0,489.2h.8M406.9,481.7h.8M411.9,481.4h.8M401.6,487.8h.8M392.8,482.0h.8M414.7,484.7h.8M395.7,489.1h.8M403.5,482.5h.8M408.2,480.3h.8M405.4,481.0h.8M406.6,490.8h.8M402.7,482.9h.8M403.4,488.3h.8M397.6,485.7h.8M413.6,486.8h.8M394.6,482.8h.8M391.3,485.2h.8M399.0,486.6h.8M393.1,490.4h.8M384.2,494.5h.8M407.9,477.0h.8M384.4,494.5h.8M404.1,482.6h.8M404.5,490.5h.8M411.7,483.9h.8M393.9,490.1h.8M395.0,488.7h.8M398.4,484.5h.8M409.3,481.1h.8M392.9,491.6h.8M404.9,484.4h.8M395.5,486.5h.8M396.5,485.7h.8M396.3,487.1h.8M393.4,490.7h.8M397.9,491.6h.8M405.7,490.9h.8M395.5,495.3h.8M401.2,488.8h.8M407.7,487.4h.8M402.0,487.7h.8M401.6,489.2h.8M396.4,490.1h.8M413.4,489.8h.8M409.7,488.9h.8M405.8,488.8h.8M412.0,480.6h.8M391.3,489.7h.8M400.4,482.4h.8M393.0,487.4h.8M395.3,493.0h.8M411.9,484.1h.8M393.1,490.7h.8M396.3,489.5h.8M397.8,492.2h.8M404.3,483.0h.8M403.8,485.0h.8M407.4,474.0h.8M405.5,489.8h.8M397.8,485.1h.8M400.2,482.0h.8M395.8,483.6h.8M396.0,478.4h.8M398.3,489.9h.8M397.9,485.5h.8M408.9,489.8h.8M398.7,492.8h.8M389.1,487.5h.8M404.4,485.7h.8M403.1,489.1h.8M401.0,489.6h.8M396.8,485.0h.8M391.2,493.8h.8M397.6,492.4h.8M406.3,482.5h.8M401.7,486.6h.8M397.0,481.0h.8M408.2,480.0h.8M404.4,485.8h.8M402.9,486.2h.8M404.5,480.2h.8M406.9,484.1h.8M400.3,484.4h.8M401.6,488.5h.8M390.9,482.6h.8M400.5,489.6h.8M401.6,492.3h.8M410.9,488.1h.8M409.7,483.2h.8M402.8,481.9h.8M386.0,494.9h.8M396.0,487.4h.8M388.0,496.3h.8M398.6,484.3h.8M392.6,486.1h.8M394.1,484.6h.8M392.2,489.1h.8M400.4,490.4h.8M389.8,489.1h.8M396.2,489.8h.8M402.0,489.6h.8M411.5,481.1h.8M402.5,481.7h.8M400.1,486.5h.8M411.1,475.9h.8M400.1,486.5h.8M397.1,489.5h.8M401.1,486.5h.8M397.9,490.9h.8M394.7,487.2h.8M408.3,489.3h.8M397.6,490.6h.8M402.2,490.4h.8M404.5,492.4h.8M407.9,478.2h.8M397.5,484.1h.8M397.0,479.2h.8M392.9,494.6h.8M404.1,488.1h.8M393.6,484.5h.8M402.2,492.0h.8M401.6,486.6h.8M408.3,484.4h.8M402.6,487.3h.8M402.6,492.7h.8M398.9,483.6h.8M406.5,487.9h.8M399.4,490.2h.8M401.0,470.1h.8M391.5,492.3h.8M398.5,495.2h.8M402.5,484.8h.8M400.5,484.5h.8M397.3,488.3h.8M403.8,477.4h.8M401.4,483.7h.8M399.9,482.9h.8M399.7,481.5h.8M400.2,485.1h.8M391.9,492.2h.8M383.8,492.2h.8M392.6,491.1h.8M400.3,490.2h.8M399.2,485.8h.8M406.5,481.3h.8M403.2,491.7h.8M408.2,492.0h.8M402.5,482.8h.8M408.7,486.8h.8M400.2,488.9h.8M401.2,488.3h.8M400.8,485.5h.8M411.4,483.3h.8M393.5,490.5h.8M399.6,488.1h.8M402.9,486.9h.8M388.1,484.6h.8M408.9,482.2h.8M409.5,484.5h.8M394.6,481.0h.8M404.7,486.7h.8M410.6,480.6h.8M398.0,478.8h.8M397.7,488.7h.8M397.2,483.6h.8M411.9,488.5h.8M394.8,489.4h.8M401.0,493.0h.8M403.3,487.8h.8M397.8,493.8h.8M402.5,494.2h.8M406.0,480.6h.8M404.3,485.6h.8M400.9,489.6h.8M400.7,486.3h.8M395.8,484.9h.8M401.6,486.6h.8M404.6,477.9h.8M404.3,492.0h.8M395.0,483.9h.8M396.9,491.7h.8M393.5,489.6h.8M395.9,485.7h.8M398.3,485.5h.8M398.6,486.9h.8M401.5,483.6h.8M402.7,483.0h.8M398.2,487.5h.8M389.4,487.5h.8M395.1,483.9h.8M398.1,483.9h.8M397.4,492.5h.8M414.7,484.3h.8M404.6,489.7h.8M402.1,484.2h.8M400.8,484.5h.8M386.5,488.8h.8M396.9,490.2h.8M394.7,480.4h.8M401.2,487.3h.8M405.9,485.4h.8M413.1,476.3h.8M410.1,486.1h.8M396.9,487.3h.8M396.2,487.6h.8M397.4,485.6h.8M398.9,482.1h.8M408.9,486.5h.8M398.3,491.3h.8M391.5,482.0h.8M403.6,487.4h.8M397.5,490.2h.8M417.6,492.5h.8M396.3,489.7h.8M398.8,500.5h.8M399.8,490.6h.8M399.4,481.7h.8M397.1,481.4h.8M396.6,486.8h.8M398.0,476.6h.8M405.1,496.2h.8M395.9,489.9h.8M393.2,476.2h.8M393.8,486.1h.8M405.6,483.7h.8M400.7,489.3h.8M401.2,485.1h.8M402.2,478.9h.8M401.9,491.5h.8M386.9,488.8h.8M402.1,486.6h.8M399.6,488.7h.8M397.4,492.3h.8M405.2,492.6h.8M406.7,486.0h.8M407.6,479.1h.8M395.9,480.1h.8M408.9,490.2h.8M395.8,482.7h.8M406.0,480.2h.8M400.7,493.5h.8M398.4,486.3h.8M411.2,484.0h.8M397.4,494.8h.8M392.5,494.7h.8M402.7,482.7h.8M394.3,483.9h.8M411.1,481.9h.8M398.2,490.0h.8M408.4,484.1h.8M406.6,487.9h.8M401.7,487.2h.8M398.3,482.5h.8M394.3,491.3h.8M396.7,487.9h.8M401.1,490.6h.8M403.0,486.5h.8M398.9,486.3h.8M399.3,488.0h.8M390.8,490.7h.8M403.6,486.6h.8M393.8,487.4h.8M397.6,485.0h.8M391.8,485.2h.8M401.6,487.6h.8M400.1,482.3h.8M402.7,484.3h.8M396.2,483.8h.8M399.1,490.3h.8M399.5,486.1h.8M400.1,499.7h.8M384.0,484.3h.8M398.1,488.3h.8M412.0,483.3h.8M404.2,488.9h.8M397.8,478.2h.8M402.7,486.3h.8M412.1,477.4h.8M405.6,477.4h.8M409.9,482.5h.8M406.9,486.6h.8M404.9,484.6h.8M396.7,487.3h.8M396.2,487.7h.8M391.8,491.1h.8M408.7,488.1h.8M408.7,483.1h.8M399.4,485.5h.8M404.4,487.8h.8M400.3,479.9h.8M409.7,484.2h.8M406.6,483.6h.8M402.8,494.4h.8M391.5,482.4h.8M412.8,481.6h.8M397.3,485.0h.8M392.6,498.8h.8M405.8,486.2h.8M403.9,480.3h.8M405.4,489.1h.8M389.1,494.4h.8M405.3,484.5h.8M395.4,487.9h.8M398.8,488.8h.8M399.1,490.5h.8M396.8,485.5h.8M407.3,482.3h.8M401.5,479.6h.8M407.0,476.3h.8M401.0,485.0h.8M395.9,487.1h.8M411.1,489.5h.8M398.8,485.3h.8M393.0,497.9h.8M393.0,485.4h.8M402.7,488.7h.8M413.6,490.5h.8M404.3,482.2h.8M396.7,487.2h.8M407.2,487.6h.8M400.9,477.0h.8M400.2,493.3h.8M397.6,487.2h.8M416.5,478.4h.8M412.4,489.4h.8M404.4,482.4h.8M386.0,488.9h.8M405.6,486.7h.8M405.6,478.6h.8M398.2,477.6h.8M396.6,490.6h.8M389.6,495.2h.8M408.8,475.6h.8M402.4,493.5h.8M404.4,486.3h.8M398.9,480.5h.8M402.3,491.5h.8M402.6,488.7h.8M397.1,483.7h.8M396.4,483.2h.8M392.9,489.7h.8M397.8,483.1h.8M403.1,480.6h.8M404.2,486.9h.8M411.1,482.9h.8M405.5,484.3h.8M394.2,493.2h.8M410.3,481.1h.8M414.6,484.0h.8M412.1,480.0h.8M395.8,488.7h.8M396.9,488.8h.8M399.7,487.4h.8M398.5,482.5h.8M400.0,492.5h.8M398.0,481.0h.8M388.5,490.3h.8M400.3,480.7h.8M391.5,493.1h.8M420.9,480.9h.8M394.8,488.3h.8M397.8,481.5h.8M392.4,489.3h.8M405.8,484.9h.8M397.8,489.9h.8M402.0,480.9h.8M394.9,491.9h.8M408.1,484.6h.8M410.3,488.6h.8M392.8,492.1h.8M410.5,487.0h.8M408.0,479.9h.8M406.2,487.3h.8M397.7,488.5h.8M391.5,486.4h.8M404.6,489.3h.8M403.6,492.1h.8M407.7,478.2h.8M399.3,484.4h.8M406.9,486.7h.8M397.9,491.8h.8M395.3,494.3h.8M386.3,492.0h.8M397.9,490.6h.8M398.3,476.9h.8M391.9,487.5h.8M410.6,489.3h.8M407.3,489.8h.8M397.2,489.8h.8M399.6,481.5h.8M398.1,485.7h.8M404.3,486.8h.8M396.7,485.5h.8M390.7,493.2h.8M400.1,486.3h.8M403.1,482.7h.8M394.1,486.4h.8M399.2,487.9h.8M396.5,486.0h.8M392.3,488.1h.8M389.5,488.3h.8M404.2,485.3h.8M399.5,485.6h.8M403.9,479.1h.8M402.1,482.1h.8M402.1,484.8h.8M398.2,488.8h.8M394.8,483.1h.8M395.7,482.5h.8M400.5,483.3h.8M394.1,490.9h.8M402.8,484.3h.8M400.8,490.4h.8M399.7,487.8h.8M395.2,491.3h.8M400.9,488.5h.8M397.8,483.9h.8M393.5,488.5h.8M395.8,482.3h.8M409.9,486.7h.8M385.1,483.3h.8M392.3,490.8h.8M414.2,474.2h.8M401.4,492.2h.8M400.0,491.8h.8M406.2,483.5h.8M407.6,487.4h.8M392.3,489.2h.8M397.2,487.9h.8M391.9,485.5h.8M401.1,485.9h.8M409.2,483.2h.8M411.5,487.3h.8M401.0,469.2h.8M397.2,490.0h.8M392.2,487.6h.8M404.8,484.5h.8M401.9,493.8h.8M400.4,491.6h.8M400.7,486.6h.8M397.2,483.8h.8M397.0,481.4h.8M404.6,484.9h.8M399.7,490.4h.8M391.2,481.3h.8M400.7,479.6h.8M393.0,490.5h.8M405.0,480.5h.8M398.4,494.4h.8M394.1,493.2h.8M402.0,482.1h.8M398.4,483.1h.8M396.7,487.3h.8M393.7,481.6h.8M403.8,481.8h.8M405.1,483.3h.8M429.5,477.7h.8M383.3,482.1h.8M390.8,487.0h.8M381.3,485.3h.8M395.7,474.7h.8M400.6,488.2h.8M393.3,494.9h.8M405.3,493.6h.8M406.4,481.6h.8M400.9,490.1h.8M398.7,472.2h.8M407.7,477.9h.8M412.2,482.4h.8M394.6,489.0h.8M412.0,474.3h.8M383.7,491.8h.8M418.2,492.0h.8M403.5,466.1h.8M396.9,483.7h.8M395.4,478.9h.8M394.2,478.7h.8M423.1,476.2h.8M391.7,479.4h.8M411.9,486.1h.8M413.0,483.5h.8M393.9,482.9h.8M392.2,486.6h.8M405.5,479.1h.8M406.1,490.3h.8M399.8,495.2h.8M406.1,487.0h.8M401.1,487.5h.8M389.8,483.8h.8M406.2,491.5h.8M400.3,490.8h.8M396.0,481.4h.8M402.2,488.8h.8M392.2,484.8h.8M396.7,489.6h.8M387.7,494.6h.8M404.0,486.4h.8M396.4,490.6h.8M387.7,485.5h.8M403.9,472.9h.8M392.7,484.8h.8M402.1,472.8h.8M391.5,480.8h.8M415.6,476.7h.8M396.2,489.2h.8M402.0,467.2h.8M391.3,492.5h.8M389.9,478.4h.8M394.6,490.4h.8M410.5,498.9h.8M380.2,482.6h.8M392.6,498.5h.8M387.1,479.1h.8M406.0,477.1h.8M412.1,482.7h.8M397.5,495.5h.8M413.6,493.4h.8M395.8,485.6h.8M418.6,487.6h.8M400.4,478.8h.8M386.0,480.4h.8M390.7,489.0h.8M391.9,496.6h.8M373.6,491.7h.8M396.4,493.5h.8M401.6,474.9h.8M399.4,477.5h.8M399.4,476.0h.8M407.0,496.2h.8M423.9,484.9h.8M389.2,486.9h.8M389.9,485.8h.8M382.0,489.3h.8M419.0,497.3h.8M405.6,485.6h.8M401.9,471.7h.8M395.5,495.7h.8M397.3,484.5h.8M402.5,468.5h.8M409.2,475.0h.8M406.2,483.6h.8M411.1,490.1h.8M394.0,496.7h.8M410.4,494.2h.8M399.8,497.1h.8M406.2,479.7h.8M409.1,479.0h.8M409.2,481.3h.8M402.1,486.1h.8M410.2,481.0h.8M408.4,487.9h.8M395.7,496.6h.8M416.5,483.3h.8M401.8,478.1h.8M407.9,469.3h.8M407.4,496.7h.8M396.1,493.1h.8M396.1,494.1h.8M385.9,489.4h.8M395.1,489.7h.8M389.7,504.6h.8M402.1,481.2h.8M414.9,479.3h.8M404.2,487.1h.8M416.5,480.2h.8M390.9,491.5h.8M404.7,484.0h.8M391.9,483.1h.8M386.3,497.1h.8M390.7,485.1h.8M409.3,491.7h.8M389.8,488.1h.8M398.8,491.5h.8M388.2,484.9h.8M402.8,479.9h.8M391.0,490.6h.8M391.2,488.2h.8M412.4,479.1h.8M397.9,483.3h.8M386.9,494.1h.8M414.7,490.7h.8M427.0,471.3h.8M399.0,477.2h.8M421.8,485.1h.8M412.0,486.2h.8M391.0,468.3h.8M415.0,485.4h.8M400.5,479.0h.8M410.1,484.4h.8M399.0,477.2h.8M389.8,490.4h.8M396.3,479.0h.8M415.8,475.2h.8M401.1,488.3h.8M412.2,473.9h.8M394.7,477.7h.8M412.2,484.5h.8M403.3,487.5h.8M417.7,477.2h.8M393.3,484.5h.8M412.6,485.8h.8M403.2,479.3h.8M408.0,488.0h.8M401.4,484.7h.8M406.7,486.9h.8M395.2,486.0h.8M386.5,498.0h.8M405.0,497.8h.8M384.4,495.2h.8M404.1,478.4h.8M406.4,486.0h.8M405.1,482.1h.8M370.8,500.8h.8M399.2,480.4h.8M390.0,495.8h.8M409.9,495.8h.8M397.1,498.3h.8M399.3,482.4h.8M408.5,490.2h.8M401.1,499.8h.8M396.8,477.1h.8M393.6,498.9h.8M395.8,489.2h.8M401.4,484.8h.8M408.5,478.3h.8M382.5,474.3h.8M398.8,484.7h.8M410.2,475.5h.8M409.6,479.5h.8M413.9,471.4h.8M399.3,492.8h.8M415.0,486.9h.8M391.8,499.9h.8M395.2,474.3h.8M394.3,486.1h.8M397.6,499.1h.8M409.8,492.0h.8M386.8,477.9h.8M405.2,484.3h.8M411.2,487.1h.8M405.0,491.2h.8M402.2,487.2h.8M424.0,486.7h.8M385.4,479.3h.8M412.2,476.9h.8M397.9,483.1h.8M402.5,481.6h.8M383.4,478.4h.8M374.5,489.1h.8M409.3,473.9h.8M404.4,494.3h.8M411.4,476.2h.8M406.3,480.2h.8M385.6,501.6h.8M398.9,479.3h.8M403.9,487.6h.8M399.1,478.3h.8M400.2,489.1h.8M407.2,481.2h.8M391.9,494.0h.8M410.6,476.3h.8M409.2,491.5h.8M415.4,491.2h.8M408.3,495.0h.8M410.9,474.1h.8M404.5,486.4h.8M393.2,486.8h.8M384.1,500.2h.8M412.8,490.7h.8M411.6,475.7h.8M404.5,498.0h.8M408.6,476.0h.8M377.6,494.9h.8M390.8,491.3h.8M405.1,471.3h.8M399.3,476.1h.8M424.6,475.5h.8M401.8,476.4h.8M377.3,488.6h.8M395.7,498.8h.8M392.7,497.2h.8M404.4,483.4h.8M375.3,493.1h.8M411.9,485.7h.8M397.4,475.0h.8M402.9,487.4h.8M397.6,491.4h.8M387.3,474.7h.8M392.3,483.9h.8M414.8,485.9h.8M398.5,482.4h.8M411.2,494.5h.8M389.4,485.8h.8M413.4,484.5h.8M400.5,496.4h.8M402.9,476.8h.8M403.4,484.8h.8M418.6,483.2h.8M405.9,484.9h.8M401.1,473.7h.8M388.3,495.4h.8M403.2,481.4h.8M378.1,487.1h.8M406.3,484.6h.8M391.6,482.2h.8M402.8,483.8h.8M397.6,483.2h.8M403.2,487.5h.8M400.5,500.9h.8M395.8,489.9h.8M382.7,485.7h.8M412.0,487.3h.8M400.6,480.3h.8M400.8,477.3h.8M402.1,462.3h.8M394.4,482.0h.8M412.5,478.9h.8M417.5,491.1h.8M399.6,472.2h.8M391.9,485.8h.8M405.9,487.1h.8M390.8,497.7h.8M389.9,488.0h.8M402.8,484.0h.8M419.6,487.4h.8M384.4,483.8h.8M412.1,481.8h.8M406.9,483.5h.8M415.1,486.2h.8M406.0,477.7h.8M401.1,471.7h.8M396.4,482.6h.8M390.2,482.8h.8M385.9,504.0h.8M398.2,485.8h.8M409.2,491.6h.8M412.1,477.0h.8M399.5,478.7h.8M407.8,483.0h.8M412.2,488.1h.8M410.1,486.5h.8M397.4,476.7h.8M409.6,496.8h.8M394.4,483.1h.8M412.3,495.5h.8M382.7,473.2h.8M395.3,489.6h.8M398.6,484.8h.8M393.8,483.6h.8M394.1,492.4h.8M400.9,472.1h.8M417.3,482.3h.8M405.1,481.6h.8M399.4,476.8h.8M420.7,489.3h.8M394.1,477.6h.8M383.1,525.2h.8M381.1,510.3h.8M372.0,513.0h.8M382.9,521.0h.8M387.7,506.6h.8M392.4,491.1h.8M372.5,515.3h.8M401.1,490.4h.8M394.6,501.0h.8M392.4,493.7h.8M387.3,509.4h.8M388.5,488.6h.8M387.8,520.5h.8M377.4,520.7h.8M390.3,479.6h.8M377.3,507.5h.8M373.6,527.0h.8M394.4,488.9h.8M405.9,505.6h.8M360.3,530.7h.8M363.8,527.5h.8M397.7,488.6h.8M376.4,519.4h.8M395.8,496.9h.8M377.4,515.0h.8M381.4,518.7h.8M396.4,490.9h.8M385.8,497.1h.8M384.0,506.4h.8M375.7,500.2h.8M376.8,523.6h.8M366.4,531.3h.8M388.0,485.4h.8M406.0,502.0h.8M407.4,503.1h.8M393.2,498.5h.8M376.7,510.0h.8M373.1,521.8h.8M397.0,516.6h.8M383.0,524.7h.8M384.5,480.9h.8M376.3,516.5h.8M379.8,524.5h.8M384.1,520.4h.8M381.7,508.3h.8M388.4,491.7h.8M370.5,509.4h.8M404.7,474.1h.8M377.6,523.0h.8M376.8,523.6h.8M403.5,491.3h.8M378.2,499.8h.8M382.3,503.5h.8M396.5,486.6h.8M371.9,518.3h.8M391.1,522.6h.8M386.0,517.1h.8M377.5,520.0h.8M371.7,510.4h.8M390.7,495.0h.8M375.0,520.7h.8M360.8,520.6h.8M399.5,498.1h.8M391.4,523.0h.8M388.1,515.9h.8M392.5,484.2h.8M374.9,525.5h.8M383.3,520.0h.8M374.1,521.6h.8M376.3,521.6h.8M389.5,511.2h.8M392.0,493.9h.8M369.0,525.4h.8M368.9,512.5h.8M378.2,508.6h.8M396.1,511.3h.8M392.7,511.7h.8M388.6,493.8h.8M395.4,495.9h.8M384.6,512.1h.8M393.2,494.1h.8M366.3,521.3h.8M381.7,518.5h.8M363.8,527.7h.8M397.3,504.7h.8M372.3,529.9h.8M404.2,485.3h.8M378.3,518.9h.8M380.2,519.8h.8M402.1,485.1h.8M373.3,505.1h.8M391.9,506.2h.8M387.6,493.8h.8M371.9,522.8h.8M363.5,523.3h.8M415.5,493.4h.8M399.0,500.4h.8M391.0,494.1h.8M392.0,495.4h.8M369.6,527.7h.8M377.0,517.6h.8M372.6,514.3h.8M375.9,529.3h.8M403.2,481.7h.8M395.4,497.2h.8M383.3,504.1h.8M370.1,545.7h.8M371.8,518.9h.8M393.6,498.6h.8M383.5,506.2h.8M374.6,502.0h.8M380.3,525.2h.8M399.6,494.4h.8M365.9,525.3h.8M379.0,522.4h.8M387.8,488.0h.8M384.6,528.4h.8M395.2,497.6h.8M388.0,509.4h.8M398.3,504.8h.8M403.2,494.6h.8M375.6,514.4h.8M401.1,492.3h.8M382.0,533.4h.8M392.8,496.3h.8M376.0,503.4h.8M371.0,526.0h.8M401.8,490.7h.8M371.8,525.7h.8M388.4,484.6h.8M380.1,513.7h.8M397.3,506.9h.8M374.9,527.4h.8M382.8,529.4h.8M404.1,500.9h.8M396.3,497.7h.8M392.2,495.1h.8M373.6,527.5h.8M390.9,489.5h.8M402.2,503.1h.8M374.0,524.5h.8M410.9,487.3h.8M384.8,521.5h.8M392.9,506.6h.8M372.1,525.5h.8M378.6,525.7h.8M380.7,486.4h.8M374.8,533.5h.8M386.0,505.5h.8M387.5,509.8h.8M377.6,517.8h.8M391.3,532.5h.8M376.5,527.2h.8M391.2,488.7h.8M369.7,531.4h.8M374.2,514.5h.8M392.3,490.0h.8M381.5,514.2h.8M376.1,521.1h.8M401.1,521.7h.8M390.7,512.9h.8M393.4,503.1h.8M379.8,511.0h.8M400.9,489.1h.8M395.4,494.6h.8M409.4,495.2h.8M390.5,508.4h.8M386.3,516.0h.8M383.8,506.2h.8M382.4,507.9h.8M378.9,515.0h.8M368.6,519.5h.8M375.9,525.7h.8M364.5,511.7h.8M380.2,510.1h.8M391.3,504.3h.8M394.4,485.6h.8M372.3,515.0h.8M370.9,529.5h.8M388.4,505.7h.8M388.8,508.1h.8M374.5,521.5h.8M358.9,524.4h.8M377.3,509.7h.8M372.5,517.1h.8M369.0,517.0h.8M384.5,496.8h.8M389.8,492.3h.8M394.1,506.8h.8M386.5,514.0h.8M382.8,532.6h.8M380.7,513.4h.8M395.9,493.4h.8M376.9,519.8h.8M390.5,510.5h.8M390.3,502.9h.8M378.7,518.0h.8M367.5,519.1h.8M391.7,502.3h.8M375.3,489.6h.8M375.1,519.1h.8M402.8,500.3h.8M369.3,515.3h.8M375.8,511.3h.8M370.8,511.3h.8M398.6,488.7h.8M399.6,524.1h.8M384.0,523.2h.8M374.5,523.9h.8M391.0,520.3h.8M387.5,520.6h.8M386.3,512.7h.8M379.1,510.1h.8M377.3,507.5h.8M394.0,497.7h.8M397.2,492.8h.8M387.0,518.4h.8M391.8,506.6h.8M389.8,496.3h.8M381.9,499.7h.8M383.4,517.2h.8M388.9,506.6h.8M381.0,514.2h.8M365.9,527.7h.8M389.5,510.6h.8M385.7,515.2h.8M381.0,513.1h.8M378.6,509.3h.8M373.0,531.7h.8M381.1,510.0h.8M385.5,509.2h.8M397.7,510.5h.8M362.1,518.9h.8M392.6,493.9h.8M403.4,509.6h.8M394.3,500.8h.8M399.8,494.6h.8M409.8,489.0h.8M381.3,516.1h.8M375.8,519.5h.8M379.7,511.4h.8M374.1,521.6h.8M382.3,521.3h.8M371.4,515.1h.8M386.9,512.0h.8M376.2,496.4h.8M402.8,489.1h.8M392.6,497.5h.8M390.0,479.9h.8M399.7,497.4h.8M394.8,503.7h.8M385.5,515.1h.8M404.4,503.5h.8M385.5,501.6h.8M387.0,512.3h.8M374.9,522.1h.8M387.6,511.9h.8M397.5,494.8h.8M395.3,515.2h.8M402.2,491.3h.8M388.3,503.4h.8M402.2,480.6h.8M385.5,499.2h.8M392.7,493.9h.8M386.1,510.7h.8M381.9,493.6h.8M366.8,529.7h.8M383.0,518.4h.8M397.9,505.2h.8M399.2,488.5h.8M391.3,502.0h.8M392.0,507.7h.8M396.8,489.7h.8M388.3,524.1h.8M402.6,485.5h.8M407.5,484.0h.8M403.9,492.9h.8M374.9,517.8h.8M377.8,514.8h.8M362.1,538.1h.8M372.3,518.4h.8M389.0,492.4h.8M372.7,521.0h.8M397.6,487.0h.8M394.0,517.9h.8M393.8,503.7h.8M385.1,503.7h.8M373.2,528.8h.8M394.2,499.6h.8M390.2,500.3h.8M369.7,533.4h.8M388.8,490.0h.8M392.6,500.7h.8M369.4,531.9h.8M413.4,489.9h.8M391.0,481.3h.8M371.2,537.4h.8M374.4,520.8h.8M391.8,484.4h.8M363.0,518.5h.8M400.9,495.7h.8M388.4,509.4h.8M380.5,537.9h.8M395.5,478.6h.8M385.1,511.6h.8M393.0,502.3h.8M389.1,510.1h.8M400.9,506.9h.8M390.9,499.2h.8M374.8,525.6h.8M376.1,512.2h.8M402.3,485.5h.8M379.1,507.4h.8M392.6,497.8h.8M384.7,532.2h.8M379.4,529.1h.8M385.1,512.9h.8M395.8,503.1h.8M385.3,506.4h.8M387.6,484.2h.8M366.7,520.3h.8M368.7,504.3h.8M397.3,495.5h.8M391.7,487.6h.8M398.8,487.7h.8M391.0,474.2h.8M378.8,505.5h.8M395.4,486.1h.8M367.9,523.7h.8M386.2,534.8h.8M378.5,515.9h.8M401.6,485.5h.8M402.1,502.3h.8M378.9,508.3h.8M366.8,525.5h.8M391.2,503.9h.8M367.8,514.0h.8M372.3,508.6h.8M378.4,506.7h.8M396.7,488.6h.8M381.7,512.0h.8M376.0,516.3h.8M395.4,506.3h.8M384.1,501.7h.8M389.7,506.9h.8M384.3,533.9h.8M390.5,492.3h.8M373.2,529.2h.8M370.7,526.9h.8M385.8,499.1h.8M384.5,522.9h.8M371.4,521.9h.8M373.5,524.0h.8M394.5,499.8h.8M379.6,502.3h.8M391.0,515.9h.8M380.0,532.0h.8M390.7,501.4h.8M389.7,506.8h.8M365.4,524.2h.8M405.4,490.0h.8M372.1,496.9h.8M376.5,505.6h.8M381.1,516.1h.8M371.3,530.5h.8M402.7,484.0h.8M385.9,496.0h.8M390.3,498.6h.8M372.1,518.7h.8M372.6,532.7h.8M398.8,497.6h.8M392.7,490.1h.8M388.6,503.4h.8M363.2,522.5h.8M406.3,478.4h.8M383.3,502.2h.8M376.4,509.6h.8M383.6,492.5h.8M383.3,501.0h.8M382.1,513.9h.8M391.1,494.5h.8M390.8,506.2h.8M396.8,500.2h.8M373.3,525.8h.8M381.7,517.5h.8M393.8,495.8h.8M371.3,534.5h.8M404.4,479.5h.8M395.9,486.7h.8M392.2,489.3h.8M391.4,494.2h.8M373.8,519.7h.8M388.3,511.8h.8M377.6,521.5h.8M394.8,494.4h.8M396.8,492.7h.8M363.8,531.4h.8M374.5,530.0h.8M379.2,516.9h.8M396.6,495.2h.8M381.6,498.9h.8M398.0,496.0h.8M385.8,507.5h.8M364.5,518.4h.8M400.0,486.7h.8M364.2,516.1h.8M401.0,494.6h.8M373.0,510.4h.8M369.5,521.3h.8M378.3,518.6h.8M383.4,507.1h.8M390.7,501.0h.8M365.0,534.5h.8M379.2,511.2h.8M389.1,499.2h.8M389.0,498.3h.8M391.1,500.8h.8M384.7,515.1h.8M375.7,515.3h.8M365.3,543.6h.8M386.0,500.5h.8M379.3,484.1h.8M369.1,485.6h.8M394.2,499.7h.8M376.7,485.5h.8M378.0,499.1h.8M378.7,509.3h.8M377.5,497.4h.8M375.7,477.8h.8M389.3,496.5h.8M367.9,499.7h.8M378.1,489.2h.8M390.2,508.6h.8M381.3,484.0h.8M372.6,481.1h.8M381.7,488.2h.8M388.4,505.0h.8M390.3,497.9h.8M376.6,483.5h.8M405.7,513.6h.8M384.7,502.4h.8M374.9,497.2h.8M382.0,492.5h.8M396.4,496.8h.8M378.3,495.8h.8M380.0,482.6h.8M386.8,496.6h.8M390.9,499.3h.8M377.2,493.4h.8M394.4,498.8h.8M389.7,502.3h.8M379.5,488.0h.8M395.0,492.0h.8M392.0,494.2h.8M388.1,487.3h.8M374.2,498.6h.8M382.9,505.5h.8M380.8,482.7h.8M374.1,486.7h.8M378.6,499.0h.8M383.7,510.5h.8M383.6,489.1h.8M395.4,503.6h.8M383.8,494.2h.8M399.3,501.0h.8M377.3,502.2h.8M381.4,508.5h.8M374.9,494.6h.8M381.4,504.1h.8M376.9,500.7h.8M372.6,511.2h.8M366.7,506.2h.8M383.7,492.8h.8M394.9,506.1h.8M394.7,506.2h.8M384.7,493.7h.8M389.3,507.8h.8M375.2,475.7h.8M378.9,519.1h.8M376.3,494.3h.8M393.1,504.3h.8M388.0,498.1h.8M377.4,524.0h.8M385.0,509.2h.8M382.9,492.7h.8M381.5,497.2h.8M390.2,482.0h.8M392.6,514.1h.8M380.6,499.7h.8M381.7,516.4h.8M378.6,506.9h.8M367.9,494.7h.8M381.5,487.1h.8M377.5,486.1h.8M380.3,486.8h.8M377.7,503.1h.8M373.4,508.6h.8M383.9,515.1h.8M377.3,491.1h.8M387.9,507.2h.8M365.6,497.9h.8M388.5,485.3h.8M370.3,486.1h.8M377.2,487.1h.8M381.6,482.9h.8M380.0,497.4h.8M379.0,497.3h.8M374.4,492.0h.8M393.3,499.1h.8M390.2,507.0h.8M385.4,494.3h.8M386.8,494.4h.8M396.0,495.9h.8M389.5,512.7h.8M386.8,489.5h.8M382.6,484.9h.8M382.8,500.3h.8M384.2,496.2h.8M378.9,504.1h.8M385.1,490.4h.8M385.3,502.8h.8M388.3,500.3h.8M389.0,502.6h.8M390.1,500.7h.8M381.6,502.5h.8M377.4,494.2h.8M386.3,497.8h.8M381.3,505.0h.8M380.4,504.2h.8M379.6,513.7h.8M388.6,501.3h.8M379.4,485.6h.8M373.1,502.8h.8M382.5,502.1h.8M392.0,499.5h.8M379.7,506.4h.8M381.2,503.3h.8M386.0,491.8h.8M392.2,491.4h.8M388.3,510.0h.8M382.2,489.8h.8M382.3,501.1h.8M379.1,494.4h.8M389.4,494.0h.8M394.7,492.4h.8M376.2,498.2h.8M387.9,490.4h.8M391.2,495.5h.8M383.9,490.3h.8M384.0,498.0h.8M389.1,491.2h.8M369.7,491.5h.8M381.5,505.7h.8M374.6,491.0h.8M381.7,498.6h.8M378.8,486.2h.8M385.0,507.8h.8M387.7,500.8h.8M377.8,497.3h.8M377.5,506.4h.8M388.6,493.9h.8M378.5,491.2h.8M388.7,514.1h.8M379.8,501.9h.8M389.4,495.0h.8M376.3,504.4h.8M394.4,495.9h.8M383.4,497.7h.8M370.9,506.2h.8M377.5,490.7h.8M388.7,486.2h.8M380.2,486.2h.8M381.2,484.1h.8M385.7,498.7h.8M384.2,484.1h.8M378.1,491.4h.8M382.6,480.1h.8M382.9,503.6h.8M379.7,483.3h.8M391.3,496.0h.8" stroke="#ee1c1c" stroke-width="0.8" fill="none" opacity="0.8"/>
<rect x="342.7" y="450.3" width="104.60000000000002" height="105.49999999999994" fill="none" stroke="#777" stroke-width="0.7"/>
<path d="M389.3,450.3V555.8M342.7,510.3H447.3" stroke="#333" stroke-width="0.8" fill="none"/>
<path d="M343.0,450.3V555.8H447.3" stroke="#444" stroke-width="1.1" fill="none"/>
<path d="M346.4,555.8v1.5M350.9,555.8v1.5M354.1,555.8v1.5M356.6,555.8v1.5M358.6,555.8v1.5M360.3,555.8v1.5M361.8,555.8v1.5M363.1,555.8v1.5M364.3,555.8v2.4M372.0,555.8v1.5M376.5,555.8v1.5M379.7,555.8v1.5M382.2,555.8v1.5M384.2,555.8v1.5M385.9,555.8v1.5M387.4,555.8v1.5M388.7,555.8v1.5M389.9,555.8v2.4M397.6,555.8v1.5M402.1,555.8v1.5M405.3,555.8v1.5M407.8,555.8v1.5M409.8,555.8v1.5M411.5,555.8v1.5M413.0,555.8v1.5M414.3,555.8v1.5M415.5,555.8v2.4M423.2,555.8v1.5M427.7,555.8v1.5M430.9,555.8v1.5M433.4,555.8v1.5M435.4,555.8v1.5M437.1,555.8v1.5M438.6,555.8v1.5M439.9,555.8v1.5M441.1,555.8v2.4M342.7,454.9h-2.4M342.7,480.8h-2.4M342.7,473.0h-1.5M342.7,468.4h-1.5M342.7,465.2h-1.5M342.7,462.7h-1.5M342.7,460.6h-1.5M342.7,458.9h-1.5M342.7,457.4h-1.5M342.7,456.1h-1.5M342.7,506.7h-2.4M342.7,498.9h-1.5M342.7,494.3h-1.5M342.7,491.1h-1.5M342.7,488.6h-1.5M342.7,486.5h-1.5M342.7,484.8h-1.5M342.7,483.3h-1.5M342.7,482.0h-1.5M342.7,532.6h-2.4M342.7,524.8h-1.5M342.7,520.2h-1.5M342.7,517.0h-1.5M342.7,514.5h-1.5M342.7,512.4h-1.5M342.7,510.7h-1.5M342.7,509.2h-1.5M342.7,507.9h-1.5" stroke="#444" stroke-width="0.6" fill="none"/>
<text x="364.3" y="564.8" font-family="Liberation Sans" font-size="5.1" text-anchor="middle" fill="#333">10<tspan dy="-2" font-size="3.3">4</tspan></text>
<text x="389.9" y="564.8" font-family="Liberation Sans" font-size="5.1" text-anchor="middle" fill="#333">10<tspan dy="-2" font-size="3.3">5</tspan></text>
<text x="416.5" y="564.8" font-family="Liberation Sans" font-size="5.1" text-anchor="middle" fill="#333">10<tspan dy="-2" font-size="3.3">6</tspan></text>
<text x="442.6" y="564.8" font-family="Liberation Sans" font-size="5.1" text-anchor="middle" fill="#333">10<tspan dy="-2" font-size="3.3">7</tspan></text>
<text x="338.09999999999997" y="456.20000000000005" font-family="Liberation Sans" font-size="5.1" text-anchor="middle" fill="#333" transform="rotate(-90 338.09999999999997 456.20000000000005)">10<tspan dy="-2" font-size="3.3">7</tspan></text>
<text x="338.09999999999997" y="482.1" font-family="Liberation Sans" font-size="5.1" text-anchor="middle" fill="#333" transform="rotate(-90 338.09999999999997 482.1)">10<tspan dy="-2" font-size="3.3">6</tspan></text>
<text x="338.09999999999997" y="508.00000000000006" font-family="Liberation Sans" font-size="5.1" text-anchor="middle" fill="#333" transform="rotate(-90 338.09999999999997 508.00000000000006)">10<tspan dy="-2" font-size="3.3">5</tspan></text>
<text x="338.09999999999997" y="533.9" font-family="Liberation Sans" font-size="5.1" text-anchor="middle" fill="#333" transform="rotate(-90 338.09999999999997 533.9)">10<tspan dy="-2" font-size="3.3">4</tspan></text>
<text x="345.9" y="457.7" font-family="Liberation Sans" font-size="5.4" font-weight="normal" text-anchor="start" fill="#333" stroke="#333" stroke-width="0.1">Q1-UL(3.44%)</text>
<text x="445.6" y="457.7" font-family="Liberation Sans" font-size="5.4" font-weight="normal" text-anchor="end" fill="#333" stroke="#333" stroke-width="0.1">Q1-UR(17.50%)</text>
<text x="345.9" y="552.4" font-family="Liberation Sans" font-size="5.4" font-weight="normal" text-anchor="start" fill="#333" stroke="#333" stroke-width="0.1">Q1-LL(76.05%)</text>
<text x="445.6" y="552.4" font-family="Liberation Sans" font-size="5.4" font-weight="normal" text-anchor="end" fill="#333" stroke="#333" stroke-width="0.1">Q1-LR(3.01%)</text>
<text transform="translate(395 577.4) scale(1 1.12)" x="0" y="0" font-family="Liberation Serif" font-size="10.96" font-weight="normal" text-anchor="middle" fill="#111" stroke="#111" stroke-width="0.22">Hyper-osmolarity+SiRNA-P21</text>
</g>
<g id="chartC">
<path d="M486.8,458.11V547.4M484.3,547.4H620.7" stroke="#3a3a3a" stroke-width="1.25" fill="none"/>
<line x1="483.6" x2="486.8" y1="547.4" y2="547.4" stroke="#3a3a3a" stroke-width="1"/>
<text x="483.2" y="550.0" font-family="Liberation Sans" font-size="7.2" font-weight="bold" text-anchor="end" fill="#222" stroke="#222" stroke-width="0.3">0</text>
<line x1="483.6" x2="486.8" y1="517.77" y2="517.77" stroke="#3a3a3a" stroke-width="1"/>
<text x="483.2" y="520.37" font-family="Liberation Sans" font-size="7.2" font-weight="bold" text-anchor="end" fill="#222" stroke="#222" stroke-width="0.3">10</text>
<line x1="483.6" x2="486.8" y1="488.14" y2="488.14" stroke="#3a3a3a" stroke-width="1"/>
<text x="483.2" y="490.74" font-family="Liberation Sans" font-size="7.2" font-weight="bold" text-anchor="end" fill="#222" stroke="#222" stroke-width="0.3">20</text>
<line x1="483.6" x2="486.8" y1="458.51" y2="458.51" stroke="#3a3a3a" stroke-width="1"/>
<text x="483.2" y="461.11" font-family="Liberation Sans" font-size="7.2" font-weight="bold" text-anchor="end" fill="#222" stroke="#222" stroke-width="0.3">30</text>
<text x="471.6" y="502.4" font-family="Liberation Sans" font-size="7.6" font-weight="bold" text-anchor="middle" fill="#222" stroke="#222" stroke-width="0.3" transform="rotate(-90 471.6 502.4)">Apoptosis Rate (%)</text>
<rect x="502.20" y="473.70" width="30.10" height="73.70" fill="#d52029"/><path d="M517.25,473.70V468.40M510.00,468.40H524.50" stroke="#2c2c2c" stroke-width="1.2" fill="none"/>
<rect x="539.20" y="475.30" width="29.80" height="72.10" fill="#30548a"/><path d="M554.10,475.30V472.60M546.85,472.60H561.35" stroke="#2c2c2c" stroke-width="1.2" fill="none"/>
<rect x="576.00" y="487.50" width="29.80" height="59.90" fill="#80a3b9"/><path d="M590.90,487.50V484.20M583.65,484.20H598.15" stroke="#2c2c2c" stroke-width="1.2" fill="none"/>
<line x1="517.3" x2="517.3" y1="547.4" y2="550.1999999999999" stroke="#3a3a3a" stroke-width="1"/>
<text x="519.3" y="557.8" font-family="Liberation Sans" font-size="6.85" font-weight="bold" text-anchor="end" fill="#222" stroke="#222" stroke-width="0.3" transform="rotate(-45 519.3 557.8)">Hyper-osmolarity</text>
<line x1="554.1" x2="554.1" y1="547.4" y2="550.1999999999999" stroke="#3a3a3a" stroke-width="1"/>
<text x="556.1" y="557.8" font-family="Liberation Sans" font-size="6.85" font-weight="bold" text-anchor="end" fill="#222" stroke="#222" stroke-width="0.3" transform="rotate(-45 556.1 557.8)">Hyper-osmolarity+SiRNA-NC</text>
<line x1="590.9" x2="590.9" y1="547.4" y2="550.1999999999999" stroke="#3a3a3a" stroke-width="1"/>
<text x="593.1999999999999" y="560.1999999999999" font-family="Liberation Sans" font-size="6.85" font-weight="bold" text-anchor="end" fill="#222" stroke="#222" stroke-width="0.3" transform="rotate(-43.5 593.1999999999999 560.1999999999999)">Hyper-osmolarity+SiRNA-P21</text>
<path d="M553.6,465.4V458.8H594.5V478.1" stroke="#111" stroke-width="1.4" fill="none"/>
<text x="574" y="457.6" font-family="Liberation Sans" font-size="7.5" font-weight="bold" text-anchor="middle" fill="#333" stroke="#333" stroke-width="0.3">**</text>
</g>
<g id="panelD">
<text transform="translate(31.3 635) scale(0.9 1)" x="0" y="0" font-family="Liberation Serif" font-size="24" fill="#0a0a0a" stroke="#0a0a0a" stroke-width="0.35">D</text>
<path d="M35.7,655.4V793.9H459.2" stroke="#222" stroke-width="1.1" fill="none"/>
<text x="29" y="709.6" font-family="Liberation Serif" font-size="10.2" font-weight="bold" text-anchor="middle" fill="#111" stroke="#111" stroke-width="0.3" transform="rotate(-90 29 709.6)">Cell number</text>
<text x="256.5" y="805.4" font-family="Liberation Serif" font-size="10.15" font-weight="bold" text-anchor="middle" fill="#111" stroke="#111" stroke-width="0.3">Fluorescence area</text>
<path d="M86.2,758.5 L86.5,758.4 L86.7,758.2 L87.0,758.0 L87.3,757.8 L87.6,757.4 L87.9,757.1 L88.1,756.7 L88.4,756.2 L88.7,755.6 L89.0,755.0 L89.2,754.4 L89.5,753.7 L89.8,753.1 L90.1,752.4 L90.3,751.8 L90.6,751.3 L90.9,750.8 L91.2,750.4 L91.4,750.0 L91.7,749.7 L92.0,749.5 L92.3,749.3 L92.6,749.1 L92.8,749.0 L93.1,748.9 L93.4,748.8 L93.7,748.7 L93.9,748.7 L94.2,748.6 L94.5,748.6 L94.8,748.6 L95.0,748.6 L95.3,748.6 L95.6,748.5 L95.9,748.5 L96.1,748.5 L96.4,748.5 L96.7,748.5 L97.0,748.5 L97.3,748.5 L97.5,748.5 L97.8,748.5 L98.1,748.5 L98.4,748.5 L98.6,748.5 L98.9,748.5 L99.2,748.5 L99.5,748.5 L99.7,748.5 L100.0,748.5 L100.3,748.5 L100.6,748.5 L100.8,748.5 L101.1,748.5 L101.4,748.5 L101.7,748.5 L102.0,748.5 L102.2,748.5 L102.5,748.5 L102.8,748.5 L103.1,748.5 L103.3,748.5 L103.6,748.5 L103.9,748.5 L104.2,748.5 L104.4,748.5 L104.7,748.5 L105.0,748.5 L105.3,748.5 L105.5,748.5 L105.8,748.5 L106.1,748.5 L106.4,748.5 L106.7,748.5 L106.9,748.6 L107.2,748.6 L107.5,748.6 L107.8,748.6 L108.0,748.6 L108.3,748.6 L108.6,748.7 L108.9,748.7 L109.1,748.7 L109.4,748.8 L109.7,748.8 L110.0,748.9 L110.2,748.9 L110.5,749.0 L110.8,749.1 L111.1,749.2 L111.4,749.3 L111.6,749.5 L111.9,749.6 L112.2,749.8 L112.5,750.0 L112.7,750.3 L113.0,750.5 L113.3,750.8 L113.6,751.2 L113.8,751.5 L114.1,751.9 L114.4,752.3 L114.7,752.7 L114.9,753.2 L115.2,753.6 L115.5,754.1 L115.8,754.5 L116.1,755.0 L116.3,755.4 L116.6,755.8 L116.9,756.2 L117.2,756.5 L117.4,756.8 L117.7,757.1 L118.0,757.4 L118.3,757.6 L118.5,757.8 L118.8,758.0 L119.1,758.1 L119.4,758.2 L119.6,758.3 L119.9,758.4 L120.2,758.5 L120.5,758.6 L120.8,758.7 L120.8,759.0 L86.0,759.0Z" fill="url(#hatch)" stroke="#3a3ab0" stroke-width="0.4"/>
<path d="M79.0,758.9 L79.3,758.9 L79.6,758.9 L79.8,758.8 L80.1,758.7 L80.4,758.5 L80.7,758.3 L80.9,758.0 L81.2,757.5 L81.5,757.0 L81.8,756.2 L82.0,755.2 L82.3,753.9 L82.6,752.3 L82.9,750.3 L83.2,747.8 L83.4,744.9 L83.7,741.3 L84.0,737.2 L84.3,732.6 L84.5,727.4 L84.8,721.6 L85.1,715.4 L85.4,708.9 L85.6,702.3 L85.9,695.6 L86.2,689.1 L86.5,683.0 L86.7,677.5 L87.0,672.8 L87.3,669.1 L87.6,666.5 L87.9,665.2 L88.1,665.1 L88.4,666.4 L88.7,668.9 L89.0,672.5 L89.2,677.1 L89.5,682.5 L89.8,688.6 L90.1,695.0 L90.3,701.7 L90.6,708.4 L90.9,714.9 L91.2,721.1 L91.4,726.9 L91.7,732.2 L92.0,736.9 L92.3,741.0 L92.6,744.6 L92.8,747.6 L93.1,750.1 L93.4,752.2 L93.7,753.8 L93.9,755.1 L94.2,756.1 L94.5,756.9 L94.8,757.5 L95.0,757.9 L95.3,758.3 L95.6,758.5 L95.9,758.7 L96.1,758.8 L96.4,758.8 L96.7,758.9 L97.0,758.9Z" fill="#e60a0a" stroke="#b80000" stroke-width="0.4"/>
<path d="M103.1,758.9 L103.3,758.9 L103.6,758.9 L103.9,758.9 L104.2,758.9 L104.4,758.8 L104.7,758.8 L105.0,758.7 L105.3,758.6 L105.5,758.6 L105.8,758.5 L106.1,758.3 L106.4,758.2 L106.7,758.0 L106.9,757.8 L107.2,757.6 L107.5,757.4 L107.8,757.1 L108.0,756.7 L108.3,756.3 L108.6,755.9 L108.9,755.4 L109.1,754.9 L109.4,754.2 L109.7,753.6 L110.0,752.8 L110.2,752.1 L110.5,751.2 L110.8,750.3 L111.1,749.3 L111.4,748.3 L111.6,747.2 L111.9,746.0 L112.2,744.9 L112.5,743.7 L112.7,742.4 L113.0,741.2 L113.3,740.0 L113.6,738.8 L113.8,737.6 L114.1,736.5 L114.4,735.4 L114.7,734.4 L114.9,733.5 L115.2,732.7 L115.5,732.0 L115.8,731.5 L116.1,731.0 L116.3,730.7 L116.6,730.5 L116.9,730.5 L117.2,730.6 L117.4,730.9 L117.7,731.3 L118.0,731.8 L118.3,732.4 L118.5,733.2 L118.8,734.1 L119.1,735.0 L119.4,736.1 L119.6,737.2 L119.9,738.3 L120.2,739.5 L120.5,740.7 L120.8,742.0 L121.0,743.2 L121.3,744.4 L121.6,745.6 L121.9,746.7 L122.1,747.8 L122.4,748.9 L122.7,749.9 L123.0,750.8 L123.2,751.7 L123.5,752.5 L123.8,753.3 L124.1,754.0 L124.3,754.6 L124.6,755.2 L124.9,755.7 L125.2,756.2 L125.5,756.6 L125.7,756.9 L126.0,757.2 L126.3,757.5 L126.6,757.8 L126.8,758.0 L127.1,758.1 L127.4,758.3 L127.7,758.4 L127.9,758.5 L128.2,758.6 L128.5,758.7 L128.8,758.7 L129.0,758.8 L129.3,758.8 L129.6,758.9 L129.9,758.9 L130.2,758.9 L130.4,758.9 L130.7,759.0Z" fill="#e60a0a" stroke="#b80000" stroke-width="0.4"/>
<path d="M55.5,759.0 L56.1,759.0 L56.6,759.0 L57.2,759.0 L57.7,759.0 L58.3,759.0 L58.8,759.0 L59.4,759.0 L59.9,759.0 L60.5,759.0 L61.0,759.0 L61.6,759.0 L62.1,759.0 L62.7,759.0 L63.2,759.0 L63.8,759.0 L64.3,759.0 L64.9,759.0 L65.5,759.0 L66.0,759.0 L66.6,759.0 L67.1,759.0 L67.7,759.0 L68.2,759.0 L68.8,759.0 L69.3,759.0 L69.9,759.0 L70.4,759.0 L71.0,759.0 L71.5,759.0 L72.1,759.0 L72.6,759.0 L73.2,759.0 L73.7,759.0 L74.3,759.0 L74.9,759.0 L75.4,759.0 L76.0,758.9 L76.5,758.9 L77.1,758.8 L77.6,758.7 L78.2,758.5 L78.7,758.2 L79.3,757.8 L79.8,757.3 L80.4,756.6 L80.9,755.7 L81.5,753.2 L82.0,750.7 L82.6,746.7 L83.2,740.7 L83.7,732.7 L84.3,723.0 L84.8,711.8 L85.4,698.1 L85.9,685.9 L86.5,673.9 L87.0,664.1 L87.6,657.6 L88.1,655.2 L88.7,657.7 L89.2,663.4 L89.8,671.8 L90.3,682.2 L90.9,694.6 L91.4,705.2 L92.0,716.4 L92.6,724.6 L93.1,732.3 L93.7,736.8 L94.2,740.5 L94.8,743.0 L95.3,745.0 L95.9,745.7 L96.4,746.5 L97.0,747.6 L97.5,747.4 L98.1,747.7 L98.6,747.8 L99.2,747.8 L99.7,747.9 L100.3,748.1 L100.8,748.3 L101.4,748.1 L102.0,748.2 L102.5,747.7 L103.1,748.5 L103.6,748.3 L104.2,747.7 L104.7,748.0 L105.3,747.5 L105.8,746.7 L106.4,745.9 L106.9,745.9 L107.5,745.4 L108.0,743.9 L108.6,742.8 L109.1,741.4 L109.7,739.4 L110.2,737.7 L110.8,735.7 L111.4,733.2 L111.9,731.1 L112.5,728.8 L113.0,726.9 L113.6,724.8 L114.1,723.0 L114.7,721.5 L115.2,720.8 L115.8,720.4 L116.3,720.6 L116.9,722.0 L117.4,722.7 L118.0,724.2 L118.5,725.8 L119.1,727.6 L119.6,730.1 L120.2,733.4 L120.8,736.1 L121.3,738.6 L121.9,741.6 L122.4,743.6 L123.0,746.4 L123.5,747.8 L124.1,750.1 L124.6,751.8 L125.2,753.5 L125.7,754.7 L126.3,756.1 L126.8,756.6 L127.4,757.2 L127.9,757.7 L128.5,758.0 L129.0,758.3 L129.6,758.5 L130.2,758.7 L130.7,758.8 L131.3,758.9 L131.8,758.9 L132.4,758.9 L132.9,759.0 L133.5,759.0 L134.0,759.0 L134.6,759.0 L135.1,759.0 L135.7,759.0 L136.2,759.0 L136.8,759.0 L137.3,759.0 L137.9,759.0 L138.4,759.0 L139.0,759.0 L139.6,759.0 L140.1,759.0 L140.7,759.0 L141.2,759.0 L141.8,759.0 L142.3,759.0 L142.9,759.0 L143.4,759.0 L144.0,759.0 L144.5,759.0 L145.1,759.0 L145.6,759.0 L146.2,759.0 L146.7,759.0 L147.3,759.0 L147.9,759.0 L148.4,759.0 L149.0,759.0 L149.5,759.0 L150.1,759.0 L150.6,759.0 L151.2,759.0 L151.7,759.0 L152.3,759.0 L152.8,759.0 L153.4,759.0 L153.9,759.0 L154.5,759.0 L155.0,759.0 L155.6,759.0 L156.1,759.0 L156.7,759.0 L157.3,759.0 L157.8,759.0 L158.4,759.0 L158.9,759.0 L159.5,759.0 L160.0,759.0 L160.6,759.0 L161.1,759.0 L161.7,759.0 L162.2,759.0 L162.8,759.0 L163.3,759.0 L163.9,759.0 L164.4,759.0 L165.0,759.0 L165.5,759.0 L166.1,759.0" fill="none" stroke="#555" stroke-width="0.6"/>
<path d="M55.5,648.4V759.0H166.1" stroke="#333" stroke-width="1.1" fill="none"/>
<path d="M55.5,759.0v4.2M60.1,759.0v2.6M64.7,759.0v2.6M69.3,759.0v2.6M73.9,759.0v4.2M78.5,759.0v2.6M83.1,759.0v2.6M87.8,759.0v2.6M92.4,759.0v4.2M97.0,759.0v2.6M101.6,759.0v2.6M106.2,759.0v2.6M110.8,759.0v4.2M115.4,759.0v2.6M120.0,759.0v2.6M124.6,759.0v2.6M129.2,759.0v4.2M133.8,759.0v2.6M138.4,759.0v2.6M143.1,759.0v2.6M147.7,759.0v4.2M152.3,759.0v2.6M156.9,759.0v2.6M161.5,759.0v2.6M166.1,759.0v4.2M55.5,759.0h-5.2M55.5,753.5h-2.8M55.5,747.9h-2.8M55.5,742.4h-2.8M55.5,736.9h-5.2M55.5,731.4h-2.8M55.5,725.8h-2.8M55.5,720.3h-2.8M55.5,714.8h-5.2M55.5,709.2h-2.8M55.5,703.7h-2.8M55.5,698.2h-2.8M55.5,692.6h-5.2M55.5,687.1h-2.8M55.5,681.6h-2.8M55.5,676.0h-2.8M55.5,670.5h-5.2M55.5,665.0h-2.8M55.5,659.5h-2.8M55.5,653.9h-2.8M55.5,648.4h-5.2" stroke="#444" stroke-width="0.6" fill="none"/>
<text x="55.5" y="770.2" font-family="Liberation Sans" font-size="4.3" font-weight="bold" text-anchor="middle" fill="#444" stroke="#444" stroke-width="0.22">0</text>
<text x="73.9" y="770.2" font-family="Liberation Sans" font-size="4.3" font-weight="bold" text-anchor="middle" fill="#444" stroke="#444" stroke-width="0.22">20</text>
<text x="92.4" y="770.2" font-family="Liberation Sans" font-size="4.3" font-weight="bold" text-anchor="middle" fill="#444" stroke="#444" stroke-width="0.22">40</text>
<text x="110.8" y="770.2" font-family="Liberation Sans" font-size="4.3" font-weight="bold" text-anchor="middle" fill="#444" stroke="#444" stroke-width="0.22">60</text>
<text x="129.2" y="770.2" font-family="Liberation Sans" font-size="4.3" font-weight="bold" text-anchor="middle" fill="#444" stroke="#444" stroke-width="0.22">80</text>
<text x="147.7" y="770.2" font-family="Liberation Sans" font-size="4.3" font-weight="bold" text-anchor="middle" fill="#444" stroke="#444" stroke-width="0.22">100</text>
<text x="166.1" y="770.2" font-family="Liberation Sans" font-size="4.3" font-weight="bold" text-anchor="middle" fill="#444" stroke="#444" stroke-width="0.22">120</text>
<text x="47.3" y="759.0" font-family="Liberation Sans" font-size="4.3" font-weight="bold" text-anchor="middle" fill="#4a4a4a" stroke="#4a4a4a" stroke-width="0.25" transform="rotate(-90 47.3 759.0)">0</text>
<text x="47.3" y="736.9" font-family="Liberation Sans" font-size="4.3" font-weight="bold" text-anchor="middle" fill="#4a4a4a" stroke="#4a4a4a" stroke-width="0.25" transform="rotate(-90 47.3 736.9)">200</text>
<text x="47.3" y="714.8" font-family="Liberation Sans" font-size="4.3" font-weight="bold" text-anchor="middle" fill="#4a4a4a" stroke="#4a4a4a" stroke-width="0.25" transform="rotate(-90 47.3 714.8)">400</text>
<text x="47.3" y="692.6" font-family="Liberation Sans" font-size="4.3" font-weight="bold" text-anchor="middle" fill="#4a4a4a" stroke="#4a4a4a" stroke-width="0.25" transform="rotate(-90 47.3 692.6)">600</text>
<text x="47.3" y="670.5" font-family="Liberation Sans" font-size="4.3" font-weight="bold" text-anchor="middle" fill="#4a4a4a" stroke="#4a4a4a" stroke-width="0.25" transform="rotate(-90 47.3 670.5)">800</text>
<text x="47.3" y="648.4" font-family="Liberation Sans" font-size="4.3" font-weight="bold" text-anchor="middle" fill="#4a4a4a" stroke="#4a4a4a" stroke-width="0.25" transform="rotate(-90 47.3 648.4)">1000</text>
<text transform="translate(104.5 785.8) scale(1 1.12)" x="0" y="0" font-family="Liberation Serif" font-size="11.0" font-weight="normal" text-anchor="middle" fill="#111" stroke="#111" stroke-width="0.22">Hyper-osmolarity</text>
<path d="M226.7,758.5 L227.0,758.3 L227.3,758.2 L227.6,758.0 L227.9,757.7 L228.1,757.4 L228.4,757.0 L228.7,756.6 L229.0,756.1 L229.2,755.5 L229.5,754.9 L229.8,754.2 L230.1,753.6 L230.3,752.9 L230.6,752.3 L230.9,751.7 L231.2,751.2 L231.5,750.7 L231.7,750.3 L232.0,750.0 L232.3,749.7 L232.6,749.4 L232.8,749.2 L233.1,749.1 L233.4,749.0 L233.7,748.9 L233.9,748.8 L234.2,748.7 L234.5,748.7 L234.8,748.6 L235.1,748.6 L235.3,748.6 L235.6,748.6 L235.9,748.5 L236.2,748.5 L236.4,748.5 L236.7,748.5 L237.0,748.5 L237.3,748.5 L237.6,748.5 L237.8,748.5 L238.1,748.5 L238.4,748.5 L238.7,748.5 L238.9,748.5 L239.2,748.5 L239.5,748.5 L239.8,748.5 L240.0,748.5 L240.3,748.5 L240.6,748.5 L240.9,748.5 L241.2,748.5 L241.4,748.5 L241.7,748.5 L242.0,748.5 L242.3,748.5 L242.5,748.5 L242.8,748.5 L243.1,748.5 L243.4,748.5 L243.6,748.5 L243.9,748.5 L244.2,748.5 L244.5,748.5 L244.8,748.5 L245.0,748.5 L245.3,748.5 L245.6,748.5 L245.9,748.5 L246.1,748.5 L246.4,748.5 L246.7,748.5 L247.0,748.6 L247.2,748.6 L247.5,748.6 L247.8,748.6 L248.1,748.6 L248.4,748.6 L248.6,748.7 L248.9,748.7 L249.2,748.7 L249.5,748.8 L249.7,748.8 L250.0,748.9 L250.3,748.9 L250.6,749.0 L250.8,749.1 L251.1,749.2 L251.4,749.3 L251.7,749.5 L252.0,749.7 L252.2,749.8 L252.5,750.1 L252.8,750.3 L253.1,750.6 L253.3,750.9 L253.6,751.2 L253.9,751.6 L254.2,752.0 L254.4,752.4 L254.7,752.8 L255.0,753.3 L255.3,753.7 L255.6,754.2 L255.8,754.6 L256.1,755.0 L256.4,755.5 L256.7,755.9 L256.9,756.2 L257.2,756.6 L257.5,756.9 L257.8,757.2 L258.0,757.4 L258.3,757.6 L258.6,757.8 L258.9,758.0 L259.2,758.1 L259.4,758.3 L259.7,758.4 L260.0,758.5 L260.3,758.5 L260.5,758.6 L260.8,759.0 L226.5,759.0Z" fill="url(#hatch)" stroke="#3a3ab0" stroke-width="0.4"/>
<path d="M219.5,758.9 L219.8,758.9 L220.1,758.8 L220.4,758.8 L220.7,758.6 L220.9,758.5 L221.2,758.2 L221.5,757.9 L221.8,757.4 L222.0,756.8 L222.3,755.9 L222.6,754.9 L222.9,753.5 L223.1,751.7 L223.4,749.6 L223.7,746.9 L224.0,743.7 L224.3,740.0 L224.5,735.6 L224.8,730.6 L225.1,725.1 L225.4,719.1 L225.6,712.6 L225.9,705.8 L226.2,698.8 L226.5,691.9 L226.7,685.3 L227.0,679.0 L227.3,673.5 L227.6,668.8 L227.9,665.2 L228.1,662.8 L228.4,661.7 L228.7,661.9 L229.0,663.5 L229.2,666.3 L229.5,670.3 L229.8,675.3 L230.1,681.1 L230.3,687.5 L230.6,694.3 L230.9,701.2 L231.2,708.1 L231.5,714.8 L231.7,721.2 L232.0,727.1 L232.3,732.4 L232.6,737.2 L232.8,741.3 L233.1,744.9 L233.4,747.9 L233.7,750.4 L233.9,752.4 L234.2,754.0 L234.5,755.3 L234.8,756.3 L235.1,757.0 L235.3,757.6 L235.6,758.0 L235.9,758.3 L236.2,758.5 L236.4,758.7 L236.7,758.8 L237.0,758.9 L237.3,758.9Z" fill="#e60a0a" stroke="#b80000" stroke-width="0.4"/>
<path d="M242.8,759.0 L243.1,758.9 L243.4,758.9 L243.6,758.9 L243.9,758.9 L244.2,758.8 L244.5,758.8 L244.8,758.8 L245.0,758.7 L245.3,758.6 L245.6,758.6 L245.9,758.5 L246.1,758.3 L246.4,758.2 L246.7,758.0 L247.0,757.8 L247.2,757.6 L247.5,757.3 L247.8,757.0 L248.1,756.7 L248.4,756.3 L248.6,755.9 L248.9,755.4 L249.2,754.8 L249.5,754.2 L249.7,753.6 L250.0,752.8 L250.3,752.0 L250.6,751.2 L250.8,750.3 L251.1,749.3 L251.4,748.3 L251.7,747.2 L252.0,746.1 L252.2,744.9 L252.5,743.7 L252.8,742.5 L253.1,741.3 L253.3,740.1 L253.6,738.9 L253.9,737.8 L254.2,736.7 L254.4,735.7 L254.7,734.7 L255.0,733.8 L255.3,733.1 L255.6,732.4 L255.8,731.8 L256.1,731.4 L256.4,731.2 L256.7,731.0 L256.9,731.0 L257.2,731.2 L257.5,731.4 L257.8,731.9 L258.0,732.4 L258.3,733.1 L258.6,733.8 L258.9,734.7 L259.2,735.7 L259.4,736.7 L259.7,737.8 L260.0,738.9 L260.3,740.1 L260.5,741.3 L260.8,742.5 L261.1,743.7 L261.4,744.9 L261.6,746.1 L261.9,747.2 L262.2,748.3 L262.5,749.3 L262.8,750.3 L263.0,751.2 L263.3,752.1 L263.6,752.8 L263.9,753.6 L264.1,754.2 L264.4,754.8 L264.7,755.4 L265.0,755.9 L265.2,756.3 L265.5,756.7 L265.8,757.1 L266.1,757.4 L266.4,757.6 L266.6,757.8 L266.9,758.0 L267.2,758.2 L267.5,758.3 L267.7,758.5 L268.0,758.6 L268.3,758.6 L268.6,758.7 L268.9,758.8 L269.1,758.8 L269.4,758.8 L269.7,758.9 L270.0,758.9 L270.2,758.9 L270.5,758.9 L270.8,759.0Z" fill="#e60a0a" stroke="#b80000" stroke-width="0.4"/>
<path d="M196.0,759.0 L196.6,759.0 L197.1,759.0 L197.7,759.0 L198.2,759.0 L198.8,759.0 L199.3,759.0 L199.9,759.0 L200.4,759.0 L201.0,759.0 L201.5,759.0 L202.1,759.0 L202.6,759.0 L203.2,759.0 L203.8,759.0 L204.3,759.0 L204.9,759.0 L205.4,759.0 L206.0,759.0 L206.5,759.0 L207.1,759.0 L207.6,759.0 L208.2,759.0 L208.7,759.0 L209.3,759.0 L209.8,759.0 L210.4,759.0 L211.0,759.0 L211.5,759.0 L212.1,759.0 L212.6,759.0 L213.2,759.0 L213.7,759.0 L214.3,759.0 L214.8,759.0 L215.4,759.0 L215.9,759.0 L216.5,758.9 L217.1,758.9 L217.6,758.8 L218.2,758.7 L218.7,758.5 L219.3,758.2 L219.8,757.8 L220.4,757.2 L220.9,756.0 L221.5,754.9 L222.0,753.4 L222.6,750.4 L223.1,745.7 L223.7,738.9 L224.3,730.7 L224.8,720.3 L225.4,707.3 L225.9,694.5 L226.5,680.1 L227.0,667.6 L227.6,657.6 L228.1,651.5 L228.7,650.4 L229.2,652.7 L229.8,658.4 L230.3,667.8 L230.9,679.2 L231.5,691.6 L232.0,704.1 L232.6,714.5 L233.1,724.1 L233.7,731.5 L234.2,736.5 L234.8,740.3 L235.3,742.6 L235.9,744.6 L236.4,745.7 L237.0,746.5 L237.6,746.5 L238.1,746.9 L238.7,747.0 L239.2,747.6 L239.8,747.8 L240.3,747.8 L240.9,748.0 L241.4,748.0 L242.0,748.1 L242.5,748.3 L243.1,748.2 L243.6,748.0 L244.2,747.6 L244.8,747.1 L245.3,746.8 L245.9,746.4 L246.4,746.4 L247.0,746.1 L247.5,744.8 L248.1,744.2 L248.6,742.6 L249.2,740.9 L249.7,739.8 L250.3,736.9 L250.8,735.7 L251.4,733.5 L252.0,730.9 L252.5,728.4 L253.1,726.7 L253.6,724.8 L254.2,722.9 L254.7,721.9 L255.3,720.8 L255.8,720.4 L256.4,721.4 L256.9,721.5 L257.5,722.4 L258.0,724.4 L258.6,725.6 L259.2,727.9 L259.7,730.2 L260.3,733.1 L260.8,736.1 L261.4,738.3 L261.9,741.2 L262.5,744.0 L263.0,746.0 L263.6,748.3 L264.1,750.1 L264.7,752.2 L265.2,753.9 L265.8,754.5 L266.4,755.6 L266.9,756.6 L267.5,757.2 L268.0,757.7 L268.6,758.1 L269.1,758.4 L269.7,758.5 L270.2,758.7 L270.8,758.8 L271.3,758.9 L271.9,758.9 L272.5,758.9 L273.0,759.0 L273.6,759.0 L274.1,759.0 L274.7,759.0 L275.2,759.0 L275.8,759.0 L276.3,759.0 L276.9,759.0 L277.4,759.0 L278.0,759.0 L278.5,759.0 L279.1,759.0 L279.7,759.0 L280.2,759.0 L280.8,759.0 L281.3,759.0 L281.9,759.0 L282.4,759.0 L283.0,759.0 L283.5,759.0 L284.1,759.0 L284.6,759.0 L285.2,759.0 L285.7,759.0 L286.3,759.0 L286.9,759.0 L287.4,759.0 L288.0,759.0 L288.5,759.0 L289.1,759.0 L289.6,759.0 L290.2,759.0 L290.7,759.0 L291.3,759.0 L291.8,759.0 L292.4,759.0 L293.0,759.0 L293.5,759.0 L294.1,759.0 L294.6,759.0 L295.2,759.0 L295.7,759.0 L296.3,759.0 L296.8,759.0 L297.4,759.0 L297.9,759.0 L298.5,759.0 L299.0,759.0 L299.6,759.0 L300.2,759.0 L300.7,759.0 L301.3,759.0 L301.8,759.0 L302.4,759.0 L302.9,759.0 L303.5,759.0 L304.0,759.0 L304.6,759.0 L305.1,759.0 L305.7,759.0 L306.2,759.0 L306.8,759.0" fill="none" stroke="#555" stroke-width="0.6"/>
<path d="M196.0,648.4V759.0H306.8" stroke="#333" stroke-width="1.1" fill="none"/>
<path d="M196.0,759.0v4.2M200.6,759.0v2.6M205.2,759.0v2.6M209.8,759.0v2.6M214.5,759.0v4.2M219.1,759.0v2.6M223.7,759.0v2.6M228.3,759.0v2.6M232.9,759.0v4.2M237.6,759.0v2.6M242.2,759.0v2.6M246.8,759.0v2.6M251.4,759.0v4.2M256.0,759.0v2.6M260.6,759.0v2.6M265.2,759.0v2.6M269.9,759.0v4.2M274.5,759.0v2.6M279.1,759.0v2.6M283.7,759.0v2.6M288.3,759.0v4.2M292.9,759.0v2.6M297.6,759.0v2.6M302.2,759.0v2.6M306.8,759.0v4.2M196.0,759.0h-5.2M196.0,753.5h-2.8M196.0,747.9h-2.8M196.0,742.4h-2.8M196.0,736.9h-5.2M196.0,731.4h-2.8M196.0,725.8h-2.8M196.0,720.3h-2.8M196.0,714.8h-5.2M196.0,709.2h-2.8M196.0,703.7h-2.8M196.0,698.2h-2.8M196.0,692.6h-5.2M196.0,687.1h-2.8M196.0,681.6h-2.8M196.0,676.0h-2.8M196.0,670.5h-5.2M196.0,665.0h-2.8M196.0,659.5h-2.8M196.0,653.9h-2.8M196.0,648.4h-5.2" stroke="#444" stroke-width="0.6" fill="none"/>
<text x="196.0" y="770.2" font-family="Liberation Sans" font-size="4.3" font-weight="bold" text-anchor="middle" fill="#444" stroke="#444" stroke-width="0.22">0</text>
<text x="214.5" y="770.2" font-family="Liberation Sans" font-size="4.3" font-weight="bold" text-anchor="middle" fill="#444" stroke="#444" stroke-width="0.22">20</text>
<text x="232.9" y="770.2" font-family="Liberation Sans" font-size="4.3" font-weight="bold" text-anchor="middle" fill="#444" stroke="#444" stroke-width="0.22">40</text>
<text x="251.4" y="770.2" font-family="Liberation Sans" font-size="4.3" font-weight="bold" text-anchor="middle" fill="#444" stroke="#444" stroke-width="0.22">60</text>
<text x="269.9" y="770.2" font-family="Liberation Sans" font-size="4.3" font-weight="bold" text-anchor="middle" fill="#444" stroke="#444" stroke-width="0.22">80</text>
<text x="288.3" y="770.2" font-family="Liberation Sans" font-size="4.3" font-weight="bold" text-anchor="middle" fill="#444" stroke="#444" stroke-width="0.22">100</text>
<text x="306.8" y="770.2" font-family="Liberation Sans" font-size="4.3" font-weight="bold" text-anchor="middle" fill="#444" stroke="#444" stroke-width="0.22">120</text>
<text x="187.8" y="759.0" font-family="Liberation Sans" font-size="4.3" font-weight="bold" text-anchor="middle" fill="#4a4a4a" stroke="#4a4a4a" stroke-width="0.25" transform="rotate(-90 187.8 759.0)">0</text>
<text x="187.8" y="736.9" font-family="Liberation Sans" font-size="4.3" font-weight="bold" text-anchor="middle" fill="#4a4a4a" stroke="#4a4a4a" stroke-width="0.25" transform="rotate(-90 187.8 736.9)">200</text>
<text x="187.8" y="714.8" font-family="Liberation Sans" font-size="4.3" font-weight="bold" text-anchor="middle" fill="#4a4a4a" stroke="#4a4a4a" stroke-width="0.25" transform="rotate(-90 187.8 714.8)">400</text>
<text x="187.8" y="692.6" font-family="Liberation Sans" font-size="4.3" font-weight="bold" text-anchor="middle" fill="#4a4a4a" stroke="#4a4a4a" stroke-width="0.25" transform="rotate(-90 187.8 692.6)">600</text>
<text x="187.8" y="670.5" font-family="Liberation Sans" font-size="4.3" font-weight="bold" text-anchor="middle" fill="#4a4a4a" stroke="#4a4a4a" stroke-width="0.25" transform="rotate(-90 187.8 670.5)">800</text>
<text x="187.8" y="648.4" font-family="Liberation Sans" font-size="4.3" font-weight="bold" text-anchor="middle" fill="#4a4a4a" stroke="#4a4a4a" stroke-width="0.25" transform="rotate(-90 187.8 648.4)">1000</text>
<text transform="translate(246.85 787.1) scale(1 1.12)" x="0" y="0" font-family="Liberation Serif" font-size="10.84" font-weight="normal" text-anchor="middle" fill="#111" stroke="#111" stroke-width="0.22">Hyper-osmolarity+SiRNA-NC</text>
<path d="M366.4,759.3 L366.6,759.2 L366.9,759.0 L367.2,758.8 L367.5,758.6 L367.8,758.3 L368.0,757.9 L368.3,757.5 L368.6,757.0 L368.9,756.4 L369.2,755.8 L369.4,755.1 L369.7,754.4 L370.0,753.6 L370.3,752.9 L370.6,752.3 L370.8,751.7 L371.1,751.1 L371.4,750.7 L371.7,750.2 L371.9,749.9 L372.2,749.6 L372.5,749.4 L372.8,749.2 L373.1,749.1 L373.3,748.9 L373.6,748.8 L373.9,748.8 L374.2,748.7 L374.5,748.7 L374.7,748.6 L375.0,748.6 L375.3,748.6 L375.6,748.6 L375.9,748.5 L376.1,748.5 L376.4,748.5 L376.7,748.5 L377.0,748.5 L377.2,748.5 L377.5,748.5 L377.8,748.5 L378.1,748.5 L378.4,748.5 L378.6,748.5 L378.9,748.5 L379.2,748.5 L379.5,748.5 L379.8,748.5 L380.0,748.5 L380.3,748.5 L380.6,748.5 L380.9,748.5 L381.2,748.5 L381.4,748.5 L381.7,748.5 L382.0,748.5 L382.3,748.5 L382.6,748.5 L382.8,748.5 L383.1,748.5 L383.4,748.5 L383.7,748.5 L383.9,748.5 L384.2,748.5 L384.5,748.5 L384.8,748.5 L385.1,748.5 L385.3,748.5 L385.6,748.5 L385.9,748.5 L386.2,748.5 L386.5,748.5 L386.7,748.5 L387.0,748.5 L387.3,748.6 L387.6,748.6 L387.9,748.6 L388.1,748.6 L388.4,748.6 L388.7,748.6 L389.0,748.6 L389.2,748.7 L389.5,748.7 L389.8,748.7 L390.1,748.8 L390.4,748.8 L390.6,748.9 L390.9,749.0 L391.2,749.1 L391.5,749.2 L391.8,749.3 L392.0,749.4 L392.3,749.6 L392.6,749.8 L392.9,750.0 L393.2,750.2 L393.4,750.5 L393.7,750.8 L394.0,751.1 L394.3,751.5 L394.5,751.9 L394.8,752.3 L395.1,752.8 L395.4,753.2 L395.7,753.7 L395.9,754.2 L396.2,754.7 L396.5,755.2 L396.8,755.7 L397.1,756.1 L397.3,756.5 L397.6,756.9 L397.9,757.3 L398.2,757.6 L398.5,757.9 L398.7,758.2 L399.0,758.4 L399.3,758.6 L399.6,758.8 L399.8,758.9 L400.1,759.0 L400.4,759.2 L400.7,759.3 L401.0,759.3 L401.2,759.4 L401.4,759.8 L366.3,759.8Z" fill="url(#hatch)" stroke="#3a3ab0" stroke-width="0.4"/>
<path d="M359.4,759.7 L359.7,759.7 L360.0,759.6 L360.2,759.5 L360.5,759.4 L360.8,759.2 L361.1,758.9 L361.3,758.6 L361.6,758.0 L361.9,757.3 L362.2,756.4 L362.5,755.3 L362.7,753.7 L363.0,751.8 L363.3,749.5 L363.6,746.6 L363.9,743.1 L364.1,739.1 L364.4,734.4 L364.7,729.2 L365.0,723.3 L365.3,716.9 L365.5,710.1 L365.8,703.1 L366.1,695.9 L366.4,688.9 L366.6,682.2 L366.9,676.0 L367.2,670.6 L367.5,666.2 L367.8,663.0 L368.0,661.0 L368.3,660.4 L368.6,661.2 L368.9,663.4 L369.2,666.8 L369.4,671.4 L369.7,676.9 L370.0,683.2 L370.3,690.0 L370.6,697.0 L370.8,704.2 L371.1,711.2 L371.4,717.9 L371.7,724.3 L371.9,730.0 L372.2,735.2 L372.5,739.8 L372.8,743.7 L373.1,747.1 L373.3,749.9 L373.6,752.2 L373.9,754.0 L374.2,755.5 L374.5,756.6 L374.7,757.5 L375.0,758.1 L375.3,758.6 L375.6,759.0 L375.9,759.2 L376.1,759.4 L376.4,759.5 L376.7,759.6 L377.0,759.7 L377.2,759.7Z" fill="#e60a0a" stroke="#b80000" stroke-width="0.4"/>
<path d="M383.7,759.8 L383.9,759.8 L384.2,759.7 L384.5,759.7 L384.8,759.7 L385.1,759.7 L385.3,759.6 L385.6,759.6 L385.9,759.6 L386.2,759.5 L386.5,759.4 L386.7,759.4 L387.0,759.3 L387.3,759.2 L387.6,759.0 L387.9,758.9 L388.1,758.7 L388.4,758.5 L388.7,758.3 L389.0,758.0 L389.2,757.7 L389.5,757.4 L389.8,757.1 L390.1,756.6 L390.4,756.2 L390.6,755.7 L390.9,755.2 L391.2,754.6 L391.5,754.0 L391.8,753.4 L392.0,752.7 L392.3,752.0 L392.6,751.2 L392.9,750.5 L393.2,749.7 L393.4,748.9 L393.7,748.1 L394.0,747.3 L394.3,746.5 L394.5,745.8 L394.8,745.1 L395.1,744.4 L395.4,743.8 L395.7,743.2 L395.9,742.7 L396.2,742.3 L396.5,742.0 L396.8,741.7 L397.1,741.6 L397.3,741.5 L397.6,741.5 L397.9,741.6 L398.2,741.9 L398.5,742.2 L398.7,742.5 L399.0,743.0 L399.3,743.5 L399.6,744.1 L399.8,744.8 L400.1,745.5 L400.4,746.2 L400.7,747.0 L401.0,747.7 L401.2,748.5 L401.5,749.3 L401.8,750.1 L402.1,750.9 L402.4,751.6 L402.6,752.4 L402.9,753.1 L403.2,753.7 L403.5,754.4 L403.8,754.9 L404.0,755.5 L404.3,756.0 L404.6,756.5 L404.9,756.9 L405.1,757.3 L405.4,757.6 L405.7,757.9 L406.0,758.2 L406.3,758.4 L406.5,758.6 L406.8,758.8 L407.1,759.0 L407.4,759.1 L407.7,759.2 L407.9,759.3 L408.2,759.4 L408.5,759.5 L408.8,759.5 L409.1,759.6 L409.3,759.6 L409.6,759.7 L409.9,759.7 L410.2,759.7 L410.5,759.7 L410.7,759.7 L411.0,759.8 L411.3,759.8Z" fill="#e60a0a" stroke="#b80000" stroke-width="0.4"/>
<path d="M335.4,759.8 L336.0,759.8 L336.5,759.8 L337.1,759.8 L337.6,759.8 L338.2,759.8 L338.7,759.8 L339.3,759.8 L339.9,759.8 L340.4,759.8 L341.0,759.8 L341.5,759.8 L342.1,759.8 L342.7,759.8 L343.2,759.8 L343.8,759.8 L344.3,759.8 L344.9,759.8 L345.4,759.8 L346.0,759.8 L346.6,759.8 L347.1,759.8 L347.7,759.8 L348.2,759.8 L348.8,759.8 L349.3,759.8 L349.9,759.8 L350.5,759.8 L351.0,759.8 L351.6,759.8 L352.1,759.8 L352.7,759.8 L353.3,759.8 L353.8,759.8 L354.4,759.8 L354.9,759.8 L355.5,759.8 L356.0,759.8 L356.6,759.7 L357.2,759.6 L357.7,759.5 L358.3,759.4 L358.8,759.1 L359.4,758.7 L360.0,758.3 L360.5,757.2 L361.1,756.4 L361.6,755.2 L362.2,751.6 L362.7,748.5 L363.3,742.2 L363.9,734.3 L364.4,724.4 L365.0,711.4 L365.5,698.3 L366.1,684.0 L366.6,669.9 L367.2,658.9 L367.8,651.4 L368.3,647.4 L368.9,648.3 L369.4,653.3 L370.0,660.6 L370.6,671.8 L371.1,683.3 L371.7,695.8 L372.2,706.9 L372.8,716.9 L373.3,724.8 L373.9,731.6 L374.5,736.4 L375.0,739.9 L375.6,741.6 L376.1,743.2 L376.7,743.7 L377.2,744.7 L377.8,745.4 L378.4,745.8 L378.9,746.1 L379.5,746.4 L380.0,746.8 L380.6,746.8 L381.2,746.9 L381.7,747.4 L382.3,747.1 L382.8,747.8 L383.4,747.9 L383.9,747.2 L384.5,747.5 L385.1,747.5 L385.6,747.5 L386.2,747.1 L386.7,746.6 L387.3,746.3 L387.9,746.5 L388.4,745.2 L389.0,744.9 L389.5,743.7 L390.1,742.6 L390.6,741.5 L391.2,740.0 L391.8,739.1 L392.3,737.7 L392.9,736.2 L393.4,735.1 L394.0,733.6 L394.5,733.3 L395.1,733.1 L395.7,732.5 L396.2,732.1 L396.8,732.5 L397.3,733.8 L397.9,734.3 L398.5,735.7 L399.0,736.7 L399.6,738.8 L400.1,739.7 L400.7,742.1 L401.2,743.9 L401.8,745.3 L402.4,747.3 L402.9,749.5 L403.5,750.7 L404.0,752.8 L404.6,753.5 L405.1,754.5 L405.7,756.4 L406.3,756.6 L406.8,758.0 L407.4,758.1 L407.9,758.5 L408.5,758.9 L409.1,759.1 L409.6,759.3 L410.2,759.5 L410.7,759.6 L411.3,759.7 L411.8,759.7 L412.4,759.7 L413.0,759.8 L413.5,759.8 L414.1,759.8 L414.6,759.8 L415.2,759.8 L415.8,759.8 L416.3,759.8 L416.9,759.8 L417.4,759.8 L418.0,759.8 L418.5,759.8 L419.1,759.8 L419.7,759.8 L420.2,759.8 L420.8,759.8 L421.3,759.8 L421.9,759.8 L422.4,759.8 L423.0,759.8 L423.6,759.8 L424.1,759.8 L424.7,759.8 L425.2,759.8 L425.8,759.8 L426.4,759.8 L426.9,759.8 L427.5,759.8 L428.0,759.8 L428.6,759.8 L429.1,759.8 L429.7,759.8 L430.3,759.8 L430.8,759.8 L431.4,759.8 L431.9,759.8 L432.5,759.8 L433.1,759.8 L433.6,759.8 L434.2,759.8 L434.7,759.8 L435.3,759.8 L435.8,759.8 L436.4,759.8 L437.0,759.8 L437.5,759.8 L438.1,759.8 L438.6,759.8 L439.2,759.8 L439.7,759.8 L440.3,759.8 L440.9,759.8 L441.4,759.8 L442.0,759.8 L442.5,759.8 L443.1,759.8 L443.7,759.8 L444.2,759.8 L444.8,759.8 L445.3,759.8 L445.9,759.8 L446.4,759.8 L447.0,759.8" fill="none" stroke="#555" stroke-width="0.6"/>
<path d="M335.4,647.6V759.8H447.0" stroke="#333" stroke-width="1.1" fill="none"/>
<path d="M335.4,759.8v4.2M340.0,759.8v2.6M344.7,759.8v2.6M349.3,759.8v2.6M354.0,759.8v4.2M358.6,759.8v2.6M363.3,759.8v2.6M367.9,759.8v2.6M372.6,759.8v4.2M377.2,759.8v2.6M381.9,759.8v2.6M386.6,759.8v2.6M391.2,759.8v4.2M395.8,759.8v2.6M400.5,759.8v2.6M405.1,759.8v2.6M409.8,759.8v4.2M414.4,759.8v2.6M419.1,759.8v2.6M423.8,759.8v2.6M428.4,759.8v4.2M433.1,759.8v2.6M437.7,759.8v2.6M442.4,759.8v2.6M447.0,759.8v4.2M335.4,759.8h-5.2M335.4,754.2h-2.8M335.4,748.6h-2.8M335.4,743.0h-2.8M335.4,737.4h-5.2M335.4,731.8h-2.8M335.4,726.1h-2.8M335.4,720.5h-2.8M335.4,714.9h-5.2M335.4,709.3h-2.8M335.4,703.7h-2.8M335.4,698.1h-2.8M335.4,692.5h-5.2M335.4,686.9h-2.8M335.4,681.3h-2.8M335.4,675.6h-2.8M335.4,670.0h-5.2M335.4,664.4h-2.8M335.4,658.8h-2.8M335.4,653.2h-2.8M335.4,647.6h-5.2" stroke="#444" stroke-width="0.6" fill="none"/>
<text x="335.4" y="771.0" font-family="Liberation Sans" font-size="4.3" font-weight="bold" text-anchor="middle" fill="#444" stroke="#444" stroke-width="0.22">0</text>
<text x="354.0" y="771.0" font-family="Liberation Sans" font-size="4.3" font-weight="bold" text-anchor="middle" fill="#444" stroke="#444" stroke-width="0.22">20</text>
<text x="372.6" y="771.0" font-family="Liberation Sans" font-size="4.3" font-weight="bold" text-anchor="middle" fill="#444" stroke="#444" stroke-width="0.22">40</text>
<text x="391.2" y="771.0" font-family="Liberation Sans" font-size="4.3" font-weight="bold" text-anchor="middle" fill="#444" stroke="#444" stroke-width="0.22">60</text>
<text x="409.8" y="771.0" font-family="Liberation Sans" font-size="4.3" font-weight="bold" text-anchor="middle" fill="#444" stroke="#444" stroke-width="0.22">80</text>
<text x="428.4" y="771.0" font-family="Liberation Sans" font-size="4.3" font-weight="bold" text-anchor="middle" fill="#444" stroke="#444" stroke-width="0.22">100</text>
<text x="447.0" y="771.0" font-family="Liberation Sans" font-size="4.3" font-weight="bold" text-anchor="middle" fill="#444" stroke="#444" stroke-width="0.22">120</text>
<text x="327.2" y="759.8" font-family="Liberation Sans" font-size="4.3" font-weight="bold" text-anchor="middle" fill="#4a4a4a" stroke="#4a4a4a" stroke-width="0.25" transform="rotate(-90 327.2 759.8)">0</text>
<text x="327.2" y="737.4" font-family="Liberation Sans" font-size="4.3" font-weight="bold" text-anchor="middle" fill="#4a4a4a" stroke="#4a4a4a" stroke-width="0.25" transform="rotate(-90 327.2 737.4)">200</text>
<text x="327.2" y="714.9" font-family="Liberation Sans" font-size="4.3" font-weight="bold" text-anchor="middle" fill="#4a4a4a" stroke="#4a4a4a" stroke-width="0.25" transform="rotate(-90 327.2 714.9)">400</text>
<text x="327.2" y="692.5" font-family="Liberation Sans" font-size="4.3" font-weight="bold" text-anchor="middle" fill="#4a4a4a" stroke="#4a4a4a" stroke-width="0.25" transform="rotate(-90 327.2 692.5)">600</text>
<text x="327.2" y="670.0" font-family="Liberation Sans" font-size="4.3" font-weight="bold" text-anchor="middle" fill="#4a4a4a" stroke="#4a4a4a" stroke-width="0.25" transform="rotate(-90 327.2 670.0)">800</text>
<text x="327.2" y="647.6" font-family="Liberation Sans" font-size="4.3" font-weight="bold" text-anchor="middle" fill="#4a4a4a" stroke="#4a4a4a" stroke-width="0.25" transform="rotate(-90 327.2 647.6)">1000</text>
<text transform="translate(387.8 785.8) scale(1 1.12)" x="0" y="0" font-family="Liberation Serif" font-size="10.72" font-weight="normal" text-anchor="middle" fill="#111" stroke="#111" stroke-width="0.22">Hyper-osmolarity+SiRNA-P21</text>
</g>
<g id="chartD">
<rect x="502.6" y="636.9" width="9.8" height="5" fill="#d52029"/>
<text x="518.4" y="642.1999999999999" font-family="Liberation Sans" font-size="7.87" font-weight="normal" text-anchor="start" fill="#222" stroke="#222" stroke-width="0.12">Hyper-osmolarity</text>
<rect x="502.6" y="645.85" width="9.8" height="5" fill="#30548a"/>
<text x="518.4" y="651.15" font-family="Liberation Sans" font-size="7.87" font-weight="normal" text-anchor="start" fill="#222" stroke="#222" stroke-width="0.12">Hyper-osmolarity+SiRNA-NC</text>
<rect x="502.6" y="654.8" width="9.8" height="5" fill="#80a3b9"/>
<text x="518.4" y="660.0999999999999" font-family="Liberation Sans" font-size="7.87" font-weight="normal" text-anchor="start" fill="#222" stroke="#222" stroke-width="0.12">Hyper-osmolarity+SiRNA-P21</text>
<path d="M484.3,669.3V767.3M481.6,767.3H631.8" stroke="#3a3a3a" stroke-width="1.25" fill="none"/>
<line x1="481.1" x2="484.3" y1="767.3" y2="767.3" stroke="#3a3a3a" stroke-width="1"/>
<text x="480.6" y="770.0" font-family="Liberation Sans" font-size="7.5" font-weight="bold" text-anchor="end" fill="#222" stroke="#222" stroke-width="0.3">0</text>
<line x1="481.1" x2="484.3" y1="742.9" y2="742.9" stroke="#3a3a3a" stroke-width="1"/>
<text x="480.6" y="745.6" font-family="Liberation Sans" font-size="7.5" font-weight="bold" text-anchor="end" fill="#222" stroke="#222" stroke-width="0.3">10</text>
<line x1="481.1" x2="484.3" y1="718.5" y2="718.5" stroke="#3a3a3a" stroke-width="1"/>
<text x="480.6" y="721.2" font-family="Liberation Sans" font-size="7.5" font-weight="bold" text-anchor="end" fill="#222" stroke="#222" stroke-width="0.3">20</text>
<line x1="481.1" x2="484.3" y1="694.0999999999999" y2="694.0999999999999" stroke="#3a3a3a" stroke-width="1"/>
<text x="480.6" y="696.8" font-family="Liberation Sans" font-size="7.5" font-weight="bold" text-anchor="end" fill="#222" stroke="#222" stroke-width="0.3">30</text>
<line x1="481.1" x2="484.3" y1="669.6999999999999" y2="669.6999999999999" stroke="#3a3a3a" stroke-width="1"/>
<text x="480.6" y="672.4" font-family="Liberation Sans" font-size="7.5" font-weight="bold" text-anchor="end" fill="#222" stroke="#222" stroke-width="0.3">40</text>
<text x="466.9" y="718.6" font-family="Liberation Sans" font-size="7.92" font-weight="bold" text-anchor="middle" fill="#222" stroke="#222" stroke-width="0.3" transform="rotate(-90 466.9 718.6)">Cell Cycle-Phase (%)</text>
<rect x="493.10" y="707.50" width="16.90" height="59.80" fill="#d52029"/><path d="M501.55,707.50V704.80M497.55,704.80H505.55" stroke="#2c2c2c" stroke-width="0.9" fill="none"/>
<rect x="513.90" y="705.40" width="16.90" height="61.90" fill="#30548a"/><path d="M522.35,705.40V702.00M518.35,702.00H526.35" stroke="#2c2c2c" stroke-width="0.9" fill="none"/>
<rect x="535.10" y="696.00" width="16.90" height="71.30" fill="#80a3b9"/><path d="M543.55,696.00V693.90M539.55,693.90H547.55" stroke="#2c2c2c" stroke-width="0.9" fill="none"/>
<rect x="564.10" y="700.20" width="17.20" height="67.10" fill="#d52029"/><path d="M572.70,700.20V698.10M568.70,698.10H576.70" stroke="#2c2c2c" stroke-width="0.9" fill="none"/>
<rect x="585.20" y="702.90" width="16.90" height="64.40" fill="#30548a"/><path d="M593.65,702.90V700.80M589.65,700.80H597.65" stroke="#2c2c2c" stroke-width="0.9" fill="none"/>
<rect x="606.10" y="724.40" width="16.90" height="42.90" fill="#80a3b9"/><path d="M614.55,724.40V723.20M610.55,723.20H618.55" stroke="#2c2c2c" stroke-width="0.9" fill="none"/>
<line x1="522.4" x2="522.4" y1="767.3" y2="770.0999999999999" stroke="#3a3a3a" stroke-width="1"/>
<text x="524.4" y="777.0999999999999" font-family="Liberation Sans" font-size="7.65" font-weight="bold" text-anchor="end" fill="#222" stroke="#222" stroke-width="0.3" transform="rotate(-45 524.4 777.0999999999999)">S-Phase</text>
<line x1="593.7" x2="593.7" y1="767.3" y2="770.0999999999999" stroke="#3a3a3a" stroke-width="1"/>
<text x="595.7" y="777.0999999999999" font-family="Liberation Sans" font-size="7.65" font-weight="bold" text-anchor="end" fill="#222" stroke="#222" stroke-width="0.3" transform="rotate(-45 595.7 777.0999999999999)">G2/M</text>
<path d="M521.5,697.5V679.7H543.5V684.5" stroke="#555" stroke-width="0.6" fill="none"/>
<text x="533" y="678.8" font-family="Liberation Sans" font-size="7.5" font-weight="bold" text-anchor="middle" fill="#333" stroke="#333" stroke-width="0.3">*</text>
<path d="M593.7,696.6V690.6H614.2V714.1" stroke="#555" stroke-width="0.6" fill="none"/>
<text x="603.8" y="689.6" font-family="Liberation Sans" font-size="7.5" font-weight="bold" text-anchor="middle" fill="#333" stroke="#333" stroke-width="0.3">***</text>
</g>
</svg>
</body></html>
